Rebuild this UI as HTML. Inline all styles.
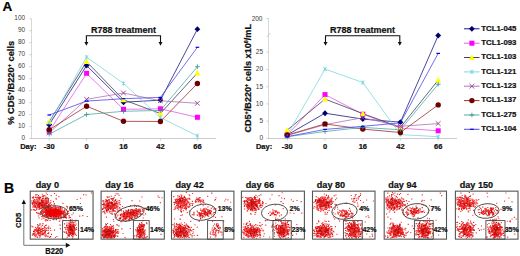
<!DOCTYPE html>
<html><head><meta charset="utf-8"><style>
html,body{margin:0;padding:0;background:#fff;width:520px;height:256px;overflow:hidden}
svg{display:block}
text[font-weight=bold]{stroke:#111;stroke-width:.22px}
</style></head><body>
<svg width="520" height="256" viewBox="0 0 520 256">
<rect width="520" height="256" fill="#fff"/>
<g shape-rendering="auto">
<path d="M31.5 18.5V138.5" fill="none" stroke="#d8d8d8" stroke-width="1"/>
<path d="M31.0 138.5H216" fill="none" stroke="#cccccc" stroke-width="1"/>
<path d="M29.5 138.5H31.5" stroke="#c0c0c0" stroke-width="0.8"/>
<text x="25.0" y="140.1" text-anchor="end" font-size="6.4" fill="#3a3a3a" font-family="Liberation Sans, sans-serif">0</text>
<path d="M29.5 126.5H31.5" stroke="#c0c0c0" stroke-width="0.8"/>
<text x="25.0" y="128.1" text-anchor="end" font-size="6.4" fill="#3a3a3a" font-family="Liberation Sans, sans-serif">10</text>
<path d="M29.5 114.5H31.5" stroke="#c0c0c0" stroke-width="0.8"/>
<text x="25.0" y="116.1" text-anchor="end" font-size="6.4" fill="#3a3a3a" font-family="Liberation Sans, sans-serif">20</text>
<path d="M29.5 102.6H31.5" stroke="#c0c0c0" stroke-width="0.8"/>
<text x="25.0" y="104.2" text-anchor="end" font-size="6.4" fill="#3a3a3a" font-family="Liberation Sans, sans-serif">30</text>
<path d="M29.5 90.6H31.5" stroke="#c0c0c0" stroke-width="0.8"/>
<text x="25.0" y="92.2" text-anchor="end" font-size="6.4" fill="#3a3a3a" font-family="Liberation Sans, sans-serif">40</text>
<path d="M29.5 78.6H31.5" stroke="#c0c0c0" stroke-width="0.8"/>
<text x="25.0" y="80.2" text-anchor="end" font-size="6.4" fill="#3a3a3a" font-family="Liberation Sans, sans-serif">50</text>
<path d="M29.5 66.7H31.5" stroke="#c0c0c0" stroke-width="0.8"/>
<text x="25.0" y="68.2" text-anchor="end" font-size="6.4" fill="#3a3a3a" font-family="Liberation Sans, sans-serif">60</text>
<path d="M29.5 54.7H31.5" stroke="#c0c0c0" stroke-width="0.8"/>
<text x="25.0" y="56.3" text-anchor="end" font-size="6.4" fill="#3a3a3a" font-family="Liberation Sans, sans-serif">70</text>
<path d="M29.5 42.7H31.5" stroke="#c0c0c0" stroke-width="0.8"/>
<text x="25.0" y="44.3" text-anchor="end" font-size="6.4" fill="#3a3a3a" font-family="Liberation Sans, sans-serif">80</text>
<path d="M29.5 30.7H31.5" stroke="#c0c0c0" stroke-width="0.8"/>
<text x="25.0" y="32.3" text-anchor="end" font-size="6.4" fill="#3a3a3a" font-family="Liberation Sans, sans-serif">90</text>
<path d="M29.5 18.8H31.5" stroke="#c0c0c0" stroke-width="0.8"/>
<text x="25.0" y="20.4" text-anchor="end" font-size="6.4" fill="#3a3a3a" font-family="Liberation Sans, sans-serif">100</text>
<path d="M268.5 18.5V138.5" fill="none" stroke="#d8d8d8" stroke-width="1"/>
<path d="M268.0 138.5H457" fill="none" stroke="#cccccc" stroke-width="1"/>
<path d="M266.5 138.4H268.5" stroke="#c0c0c0" stroke-width="0.8"/>
<text x="263.1" y="140.4" text-anchor="end" font-size="6.5" fill="#3a3a3a" font-family="Liberation Sans, sans-serif">0</text>
<path d="M266.5 121.2H268.5" stroke="#c0c0c0" stroke-width="0.8"/>
<text x="263.1" y="123.2" text-anchor="end" font-size="6.5" fill="#3a3a3a" font-family="Liberation Sans, sans-serif">5</text>
<path d="M266.5 103.9H268.5" stroke="#c0c0c0" stroke-width="0.8"/>
<text x="263.1" y="105.9" text-anchor="end" font-size="6.5" fill="#3a3a3a" font-family="Liberation Sans, sans-serif">10</text>
<path d="M266.5 86.7H268.5" stroke="#c0c0c0" stroke-width="0.8"/>
<text x="263.1" y="88.7" text-anchor="end" font-size="6.5" fill="#3a3a3a" font-family="Liberation Sans, sans-serif">15</text>
<path d="M266.5 69.4H268.5" stroke="#c0c0c0" stroke-width="0.8"/>
<text x="263.1" y="71.4" text-anchor="end" font-size="6.5" fill="#3a3a3a" font-family="Liberation Sans, sans-serif">20</text>
<path d="M266.5 52.2H268.5" stroke="#c0c0c0" stroke-width="0.8"/>
<text x="263.1" y="54.2" text-anchor="end" font-size="6.5" fill="#3a3a3a" font-family="Liberation Sans, sans-serif">25</text>
<path d="M266.5 18.5H268.5" stroke="#c0c0c0" stroke-width="0.8"/>
<text x="262.5" y="21.2" text-anchor="end" font-size="6.5" fill="#3a3a3a" font-family="Liberation Sans, sans-serif">200</text>
<path d="M267 37L270 33" stroke="#c0c0c0" stroke-width="0.8"/>
<path d="M49.2 138.5V140.5" stroke="#c0c0c0" stroke-width="0.8"/>
<path d="M86.6 138.5V140.5" stroke="#c0c0c0" stroke-width="0.8"/>
<path d="M123.5 138.5V140.5" stroke="#c0c0c0" stroke-width="0.8"/>
<path d="M160.4 138.5V140.5" stroke="#c0c0c0" stroke-width="0.8"/>
<path d="M197.4 138.5V140.5" stroke="#c0c0c0" stroke-width="0.8"/>
<path d="M287.2 138.5V140.5" stroke="#c0c0c0" stroke-width="0.8"/>
<path d="M325.0 138.5V140.5" stroke="#c0c0c0" stroke-width="0.8"/>
<path d="M362.8 138.5V140.5" stroke="#c0c0c0" stroke-width="0.8"/>
<path d="M400.4 138.5V140.5" stroke="#c0c0c0" stroke-width="0.8"/>
<path d="M438.2 138.5V140.5" stroke="#c0c0c0" stroke-width="0.8"/>
<text x="49.2" y="148.7" text-anchor="middle" font-size="7.5" font-weight="bold" fill="#111" font-family="Liberation Sans, sans-serif">-30</text>
<text x="86.6" y="148.7" text-anchor="middle" font-size="7.5" font-weight="bold" fill="#111" font-family="Liberation Sans, sans-serif">0</text>
<text x="123.5" y="148.7" text-anchor="middle" font-size="7.5" font-weight="bold" fill="#111" font-family="Liberation Sans, sans-serif">16</text>
<text x="160.4" y="148.7" text-anchor="middle" font-size="7.5" font-weight="bold" fill="#111" font-family="Liberation Sans, sans-serif">42</text>
<text x="197.4" y="148.7" text-anchor="middle" font-size="7.5" font-weight="bold" fill="#111" font-family="Liberation Sans, sans-serif">66</text>
<text x="287.2" y="148.7" text-anchor="middle" font-size="7.5" font-weight="bold" fill="#111" font-family="Liberation Sans, sans-serif">-30</text>
<text x="325.0" y="148.7" text-anchor="middle" font-size="7.5" font-weight="bold" fill="#111" font-family="Liberation Sans, sans-serif">0</text>
<text x="362.8" y="148.7" text-anchor="middle" font-size="7.5" font-weight="bold" fill="#111" font-family="Liberation Sans, sans-serif">16</text>
<text x="400.4" y="148.7" text-anchor="middle" font-size="7.5" font-weight="bold" fill="#111" font-family="Liberation Sans, sans-serif">42</text>
<text x="438.2" y="148.7" text-anchor="middle" font-size="7.5" font-weight="bold" fill="#111" font-family="Liberation Sans, sans-serif">66</text>
<text x="20.2" y="148.7" font-size="7.5" font-weight="bold" fill="#111" font-family="Liberation Sans, sans-serif">Day:</text>
<text x="255.9" y="148.7" font-size="7.5" font-weight="bold" fill="#111" font-family="Liberation Sans, sans-serif">Day:</text>
<path d="M49.2 124.7 L86.6 65.5 L123.5 102.2 L160.4 100.2 L197.4 29.2" fill="none" stroke="#1a1a80" stroke-width="0.8"/>
<path d="M49.2 131.3 L86.6 73.4 L123.5 109.3 L160.4 108.8 L197.4 117.3" fill="none" stroke="#e060e0" stroke-width="0.8"/>
<path d="M49.2 121.7 L86.6 61.7 L123.5 99.8 L160.4 113.5 L197.4 73.0" fill="none" stroke="#404060" stroke-width="0.8"/>
<path d="M49.2 122.9 L86.6 57.1 L123.5 83.4 L160.4 117.5 L197.4 135.9" fill="none" stroke="#80d8e0" stroke-width="0.8"/>
<path d="M49.2 132.8 L86.6 99.3 L123.5 93.0 L160.4 100.8 L197.4 103.3" fill="none" stroke="#b070b8" stroke-width="0.8"/>
<path d="M49.2 129.8 L86.6 106.2 L123.5 121.3 L160.4 121.5 L197.4 83.5" fill="none" stroke="#a03030" stroke-width="0.8"/>
<path d="M49.2 134.2 L86.6 114.5 L123.5 111.3 L160.4 110.4 L197.4 66.7" fill="none" stroke="#50a8a8" stroke-width="0.8"/>
<path d="M49.2 115.0 L86.6 101.1 L123.5 98.7 L160.4 97.4 L197.4 47.3" fill="none" stroke="#4a4ae8" stroke-width="0.8"/>
<path d="M49.2 121.8L52.2 124.7L49.2 127.7L46.2 124.7Z" fill="#000070"/>
<path d="M86.6 62.5L89.5 65.5L86.6 68.4L83.6 65.5Z" fill="#000070"/>
<path d="M123.5 99.3L126.5 102.2L123.5 105.2L120.5 102.2Z" fill="#000070"/>
<path d="M160.4 97.2L163.3 100.2L160.4 103.1L157.5 100.2Z" fill="#000070"/>
<path d="M197.4 26.2L200.3 29.2L197.4 32.1L194.5 29.2Z" fill="#000070"/>
<rect x="46.7" y="128.8" width="5.0" height="5.0" fill="#ff00ff"/>
<rect x="84.1" y="70.8" width="5.0" height="5.0" fill="#ff00ff"/>
<rect x="121.0" y="106.8" width="5.0" height="5.0" fill="#ff00ff"/>
<rect x="157.9" y="106.3" width="5.0" height="5.0" fill="#ff00ff"/>
<rect x="194.9" y="114.8" width="5.0" height="5.0" fill="#ff00ff"/>
<path d="M49.2 118.8L52.2 124.1L46.2 124.1Z" fill="#ffff00"/>
<path d="M86.6 58.8L89.5 64.1L83.6 64.1Z" fill="#ffff00"/>
<path d="M123.5 96.9L126.5 102.2L120.5 102.2Z" fill="#ffff00"/>
<path d="M160.4 110.5L163.3 115.8L157.5 115.8Z" fill="#ffff00"/>
<path d="M197.4 70.0L200.3 75.4L194.5 75.4Z" fill="#ffff00"/>
<path d="M47.4 121.2L51.0 124.7M51.0 121.2L47.4 124.7M49.2 120.7V125.1" stroke="#70d0d8" stroke-width="0.8"/>
<path d="M84.8 55.3L88.4 58.8M88.4 55.3L84.8 58.8M86.6 54.9V59.3" stroke="#70d0d8" stroke-width="0.8"/>
<path d="M121.7 81.6L125.3 85.2M125.3 81.6L121.7 85.2M123.5 81.2V85.6" stroke="#70d0d8" stroke-width="0.8"/>
<path d="M158.6 115.8L162.2 119.3M162.2 115.8L158.6 119.3M160.4 115.3V119.8" stroke="#70d0d8" stroke-width="0.8"/>
<path d="M195.6 134.1L199.2 137.6M199.2 134.1L195.6 137.6M197.4 133.7V138.1" stroke="#70d0d8" stroke-width="0.8"/>
<path d="M46.8 130.4L51.6 135.1M51.6 130.4L46.8 135.1" stroke="#904090" stroke-width="0.9"/>
<path d="M84.2 97.0L89.0 101.7M89.0 97.0L84.2 101.7" stroke="#904090" stroke-width="0.9"/>
<path d="M121.1 90.6L125.9 95.4M125.9 90.6L121.1 95.4" stroke="#904090" stroke-width="0.9"/>
<path d="M158.0 98.4L162.8 103.1M162.8 98.4L158.0 103.1" stroke="#904090" stroke-width="0.9"/>
<path d="M195.0 100.9L199.8 105.7M199.8 100.9L195.0 105.7" stroke="#904090" stroke-width="0.9"/>
<circle cx="49.2" cy="129.8" r="2.7" fill="#700000"/>
<circle cx="86.6" cy="106.2" r="2.7" fill="#700000"/>
<circle cx="123.5" cy="121.3" r="2.7" fill="#700000"/>
<circle cx="160.4" cy="121.5" r="2.7" fill="#700000"/>
<circle cx="197.4" cy="83.5" r="2.7" fill="#700000"/>
<path d="M46.8 134.2H51.6M49.2 131.8V136.5" stroke="#309090" stroke-width="0.8"/>
<path d="M84.2 114.5H89.0M86.6 112.2V116.9" stroke="#309090" stroke-width="0.8"/>
<path d="M121.1 111.3H125.9M123.5 109.0V113.7" stroke="#309090" stroke-width="0.8"/>
<path d="M158.0 110.4H162.8M160.4 108.0V112.7" stroke="#309090" stroke-width="0.8"/>
<path d="M195.0 66.7H199.8M197.4 64.3V69.0" stroke="#309090" stroke-width="0.8"/>
<path d="M47.4 115.0H51.0" stroke="#0000ee" stroke-width="1.2"/>
<path d="M84.8 101.1H88.4" stroke="#0000ee" stroke-width="1.2"/>
<path d="M121.7 98.7H125.3" stroke="#0000ee" stroke-width="1.2"/>
<path d="M158.6 97.4H162.2" stroke="#0000ee" stroke-width="1.2"/>
<path d="M195.6 47.3H199.2" stroke="#0000ee" stroke-width="1.2"/>
<path d="M287.2 135.0 L325.0 113.2 L362.8 119.1 L400.4 122.2 L438.2 35.6" fill="none" stroke="#1a1a80" stroke-width="0.8"/>
<path d="M287.2 135.0 L325.0 94.6 L362.8 114.2 L400.4 128.1 L438.2 130.8" fill="none" stroke="#e060e0" stroke-width="0.8"/>
<path d="M287.2 130.1 L325.0 99.1 L362.8 113.6 L400.4 127.4 L438.2 80.1" fill="none" stroke="#404060" stroke-width="0.8"/>
<path d="M287.2 135.0 L325.0 69.1 L362.8 82.5 L400.4 134.6 L438.2 136.7" fill="none" stroke="#80d8e0" stroke-width="0.8"/>
<path d="M287.2 135.6 L325.0 124.6 L362.8 117.7 L400.4 126.3 L438.2 123.6" fill="none" stroke="#b070b8" stroke-width="0.8"/>
<path d="M287.2 135.0 L325.0 123.9 L362.8 129.1 L400.4 132.5 L438.2 104.9" fill="none" stroke="#a03030" stroke-width="0.8"/>
<path d="M287.2 136.7 L325.0 131.5 L362.8 127.4 L400.4 129.8 L438.2 84.2" fill="none" stroke="#50a8a8" stroke-width="0.8"/>
<path d="M287.2 136.7 L325.0 129.4 L362.8 126.3 L400.4 122.9 L438.2 53.4" fill="none" stroke="#4a4ae8" stroke-width="0.8"/>
<path d="M287.2 132.0L290.1 135.0L287.2 137.9L284.2 135.0Z" fill="#000070"/>
<path d="M325.0 110.3L327.9 113.2L325.0 116.2L322.1 113.2Z" fill="#000070"/>
<path d="M362.8 116.1L365.8 119.1L362.8 122.0L359.9 119.1Z" fill="#000070"/>
<path d="M400.4 119.2L403.3 122.2L400.4 125.1L397.4 122.2Z" fill="#000070"/>
<path d="M438.2 32.6L441.1 35.6L438.2 38.6L435.2 35.6Z" fill="#000070"/>
<rect x="284.7" y="132.4" width="5.0" height="5.0" fill="#ff00ff"/>
<rect x="322.5" y="92.1" width="5.0" height="5.0" fill="#ff00ff"/>
<rect x="360.3" y="111.7" width="5.0" height="5.0" fill="#ff00ff"/>
<rect x="397.9" y="125.5" width="5.0" height="5.0" fill="#ff00ff"/>
<rect x="435.7" y="128.3" width="5.0" height="5.0" fill="#ff00ff"/>
<path d="M287.2 127.2L290.1 132.5L284.2 132.5Z" fill="#ffff00"/>
<path d="M325.0 96.1L327.9 101.4L322.1 101.4Z" fill="#ffff00"/>
<path d="M362.8 110.6L365.8 115.9L359.9 115.9Z" fill="#ffff00"/>
<path d="M400.4 124.4L403.3 129.7L397.4 129.7Z" fill="#ffff00"/>
<path d="M438.2 77.1L441.1 82.5L435.2 82.5Z" fill="#ffff00"/>
<path d="M285.4 133.2L289.0 136.7M289.0 133.2L285.4 136.7M287.2 132.7V137.2" stroke="#70d0d8" stroke-width="0.8"/>
<path d="M323.2 67.3L326.8 70.8M326.8 67.3L323.2 70.8M325.0 66.8V71.3" stroke="#70d0d8" stroke-width="0.8"/>
<path d="M361.0 80.7L364.6 84.3M364.6 80.7L361.0 84.3M362.8 80.3V84.7" stroke="#70d0d8" stroke-width="0.8"/>
<path d="M398.6 132.8L402.2 136.4M402.2 132.8L398.6 136.4M400.4 132.4V136.8" stroke="#70d0d8" stroke-width="0.8"/>
<path d="M436.4 134.9L440.0 138.4M440.0 134.9L436.4 138.4M438.2 134.5V138.9" stroke="#70d0d8" stroke-width="0.8"/>
<path d="M284.8 133.3L289.6 138.0M289.6 133.3L284.8 138.0" stroke="#904090" stroke-width="0.9"/>
<path d="M322.6 122.2L327.4 127.0M327.4 122.2L322.6 127.0" stroke="#904090" stroke-width="0.9"/>
<path d="M360.4 115.3L365.2 120.1M365.2 115.3L360.4 120.1" stroke="#904090" stroke-width="0.9"/>
<path d="M398.0 124.0L402.8 128.7M402.8 124.0L398.0 128.7" stroke="#904090" stroke-width="0.9"/>
<path d="M435.8 121.2L440.6 125.9M440.6 121.2L435.8 125.9" stroke="#904090" stroke-width="0.9"/>
<circle cx="287.2" cy="135.0" r="2.7" fill="#700000"/>
<circle cx="325.0" cy="123.9" r="2.7" fill="#700000"/>
<circle cx="362.8" cy="129.1" r="2.7" fill="#700000"/>
<circle cx="400.4" cy="132.5" r="2.7" fill="#700000"/>
<circle cx="438.2" cy="104.9" r="2.7" fill="#700000"/>
<path d="M284.8 136.7H289.6M287.2 134.3V139.0" stroke="#309090" stroke-width="0.8"/>
<path d="M322.6 131.5H327.4M325.0 129.1V133.9" stroke="#309090" stroke-width="0.8"/>
<path d="M360.4 127.4H365.2M362.8 125.0V129.7" stroke="#309090" stroke-width="0.8"/>
<path d="M398.0 129.8H402.8M400.4 127.4V132.1" stroke="#309090" stroke-width="0.8"/>
<path d="M435.8 84.2H440.6M438.2 81.9V86.6" stroke="#309090" stroke-width="0.8"/>
<path d="M285.4 136.7H289.0" stroke="#0000ee" stroke-width="1.2"/>
<path d="M323.2 129.4H326.8" stroke="#0000ee" stroke-width="1.2"/>
<path d="M361.0 126.3H364.6" stroke="#0000ee" stroke-width="1.2"/>
<path d="M398.6 122.9H402.2" stroke="#0000ee" stroke-width="1.2"/>
<path d="M436.4 53.4H440.0" stroke="#0000ee" stroke-width="1.2"/>
<path d="M86.4 43V35.8H160.5V43" fill="none" stroke="#111" stroke-width="1.1"/>
<path d="M84.4 42L88.4 42L86.4 45.8Z" fill="#111"/>
<path d="M158.5 42L162.5 42L160.5 45.8Z" fill="#111"/>
<text x="123.5" y="32.6" text-anchor="middle" font-size="9" font-weight="bold" fill="#111" font-family="Liberation Sans, sans-serif">R788 treatment</text>
<path d="M325.5 43V35.8H399.8V43" fill="none" stroke="#111" stroke-width="1.1"/>
<path d="M323.5 42L327.5 42L325.5 45.8Z" fill="#111"/>
<path d="M397.8 42L401.8 42L399.8 45.8Z" fill="#111"/>
<text x="362.6" y="32.6" text-anchor="middle" font-size="9" font-weight="bold" fill="#111" font-family="Liberation Sans, sans-serif">R788 treatment</text>
<text transform="translate(13.5 82.8) rotate(-90)" text-anchor="middle" font-size="9.3" font-weight="bold" fill="#111" font-family="Liberation Sans, sans-serif">% CD5<tspan dy="-2.5" font-size="5.5">+</tspan><tspan dy="2.5">/B220</tspan><tspan dy="-2.5" font-size="5.5">+</tspan><tspan dy="2.5"> cells</tspan></text>
<text transform="translate(250.6 78.3) rotate(-90)" text-anchor="middle" font-size="9.1" font-weight="bold" fill="#111" font-family="Liberation Sans, sans-serif">CD5<tspan dy="-2.5" font-size="5.5">+</tspan><tspan dy="2.5">/B220</tspan><tspan dy="-2.5" font-size="5.5">+</tspan><tspan dy="2.5"> cells x10</tspan><tspan dy="-2.5" font-size="5.5">6</tspan><tspan dy="2.5">/mL</tspan></text>
<path d="M464 28.8H479.5" stroke="#1a1a80" stroke-width="1"/>
<path d="M471.9 25.9L474.8 28.8L471.9 31.8L468.9 28.8Z" fill="#000070"/>
<text x="481.3" y="30.6" font-size="7.8" font-weight="bold" fill="#111" font-family="Liberation Sans, sans-serif">TCL1-045</text>
<path d="M464 43.2H479.5" stroke="#e060e0" stroke-width="1"/>
<rect x="469.4" y="40.7" width="5.0" height="5.0" fill="#ff00ff"/>
<text x="481.3" y="45.0" font-size="7.8" font-weight="bold" fill="#111" font-family="Liberation Sans, sans-serif">TCL1-093</text>
<path d="M464 57.5H479.5" stroke="#404060" stroke-width="1"/>
<path d="M471.9 54.6L474.8 59.9L468.9 59.9Z" fill="#ffff00"/>
<text x="481.3" y="59.3" font-size="7.8" font-weight="bold" fill="#111" font-family="Liberation Sans, sans-serif">TCL1-103</text>
<path d="M464 71.9H479.5" stroke="#80d8e0" stroke-width="1"/>
<path d="M470.1 70.1L473.7 73.6M473.7 70.1L470.1 73.6M471.9 69.7V74.1" stroke="#70d0d8" stroke-width="0.8"/>
<text x="481.3" y="73.7" font-size="7.8" font-weight="bold" fill="#111" font-family="Liberation Sans, sans-serif">TCL1-121</text>
<path d="M464 86.2H479.5" stroke="#b070b8" stroke-width="1"/>
<path d="M469.5 83.9L474.3 88.6M474.3 83.9L469.5 88.6" stroke="#904090" stroke-width="0.9"/>
<text x="481.3" y="88.0" font-size="7.8" font-weight="bold" fill="#111" font-family="Liberation Sans, sans-serif">TCL1-123</text>
<path d="M464 100.6H479.5" stroke="#a03030" stroke-width="1"/>
<circle cx="471.9" cy="100.6" r="2.7" fill="#700000"/>
<text x="481.3" y="102.4" font-size="7.8" font-weight="bold" fill="#111" font-family="Liberation Sans, sans-serif">TCL1-137</text>
<path d="M464 115.0H479.5" stroke="#50a8a8" stroke-width="1"/>
<path d="M469.5 115.0H474.3M471.9 112.6V117.3" stroke="#309090" stroke-width="0.8"/>
<text x="481.3" y="116.8" font-size="7.8" font-weight="bold" fill="#111" font-family="Liberation Sans, sans-serif">TCL1-275</text>
<path d="M464 129.3H479.5" stroke="#4a4ae8" stroke-width="1"/>
<path d="M470.1 129.3H473.7" stroke="#0000ee" stroke-width="1.2"/>
<text x="481.3" y="131.1" font-size="7.8" font-weight="bold" fill="#111" font-family="Liberation Sans, sans-serif">TCL1-104</text>
</g>
<text x="2.6" y="10.7" font-size="13.5" font-weight="bold" fill="#000" font-family="Liberation Sans, sans-serif">A</text>
<text x="4.0" y="192.8" font-size="14" font-weight="bold" fill="#000" font-family="Liberation Sans, sans-serif">B</text>
<path d="M68.6 228.0h1.1v1.1h-1.1zM36.9 232.4h1.1v1.1h-1.1zM60.4 211.6h1.1v1.1h-1.1zM72.5 230.0h1.1v1.1h-1.1zM40.0 212.4h1.1v1.1h-1.1zM44.0 214.2h1.1v1.1h-1.1zM34.9 205.9h1.1v1.1h-1.1zM50.0 213.8h1.1v1.1h-1.1zM36.1 230.9h1.1v1.1h-1.1zM71.5 218.7h1.1v1.1h-1.1zM48.8 207.0h1.1v1.1h-1.1zM33.7 206.5h1.1v1.1h-1.1zM31.3 225.7h1.1v1.1h-1.1zM55.2 212.6h1.1v1.1h-1.1zM54.2 213.4h1.1v1.1h-1.1zM35.4 235.2h1.1v1.1h-1.1zM63.3 213.9h1.1v1.1h-1.1zM40.7 203.3h1.1v1.1h-1.1zM35.8 228.6h1.1v1.1h-1.1zM54.0 192.9h1.1v1.1h-1.1zM56.6 209.7h1.1v1.1h-1.1zM63.4 211.0h1.1v1.1h-1.1zM58.0 207.5h1.1v1.1h-1.1zM70.9 234.9h1.1v1.1h-1.1zM47.0 209.8h1.1v1.1h-1.1zM56.9 215.1h1.1v1.1h-1.1zM58.0 210.5h1.1v1.1h-1.1zM58.6 215.3h1.1v1.1h-1.1zM58.2 215.2h1.1v1.1h-1.1zM67.2 212.4h1.1v1.1h-1.1zM53.4 210.2h1.1v1.1h-1.1zM41.7 193.7h1.1v1.1h-1.1zM53.3 212.1h1.1v1.1h-1.1zM49.2 211.6h1.1v1.1h-1.1zM55.3 214.6h1.1v1.1h-1.1zM40.2 229.1h1.1v1.1h-1.1zM46.1 235.5h1.1v1.1h-1.1zM56.8 213.7h1.1v1.1h-1.1zM48.2 211.5h1.1v1.1h-1.1zM55.5 216.0h1.1v1.1h-1.1zM53.1 212.1h1.1v1.1h-1.1zM72.4 234.6h1.1v1.1h-1.1zM33.1 230.6h1.1v1.1h-1.1zM38.1 202.2h1.1v1.1h-1.1zM39.0 203.2h1.1v1.1h-1.1zM47.7 229.9h1.1v1.1h-1.1zM72.0 227.3h1.1v1.1h-1.1zM39.8 205.5h1.1v1.1h-1.1zM53.5 217.3h1.1v1.1h-1.1zM47.0 215.9h1.1v1.1h-1.1zM37.2 207.0h1.1v1.1h-1.1zM66.7 226.7h1.1v1.1h-1.1zM70.7 228.9h1.1v1.1h-1.1zM34.4 204.7h1.1v1.1h-1.1zM32.0 203.3h1.1v1.1h-1.1zM69.4 221.2h1.1v1.1h-1.1zM69.1 234.3h1.1v1.1h-1.1zM52.3 212.4h1.1v1.1h-1.1zM65.8 232.8h1.1v1.1h-1.1zM56.1 213.9h1.1v1.1h-1.1zM68.7 230.7h1.1v1.1h-1.1zM42.0 204.6h1.1v1.1h-1.1zM71.5 226.8h1.1v1.1h-1.1zM58.6 213.5h1.1v1.1h-1.1zM37.8 227.4h1.1v1.1h-1.1zM47.5 199.5h1.1v1.1h-1.1zM56.8 212.8h1.1v1.1h-1.1zM45.9 213.2h1.1v1.1h-1.1zM39.5 232.7h1.1v1.1h-1.1zM56.8 216.6h1.1v1.1h-1.1zM54.7 209.1h1.1v1.1h-1.1zM54.7 209.8h1.1v1.1h-1.1zM36.9 202.1h1.1v1.1h-1.1zM45.0 230.9h1.1v1.1h-1.1zM34.6 202.0h1.1v1.1h-1.1zM55.1 206.5h1.1v1.1h-1.1zM61.9 208.5h1.1v1.1h-1.1zM33.4 205.4h1.1v1.1h-1.1zM45.7 192.5h1.1v1.1h-1.1zM49.9 205.9h1.1v1.1h-1.1zM34.7 230.2h1.1v1.1h-1.1zM38.4 200.0h1.1v1.1h-1.1zM50.5 212.1h1.1v1.1h-1.1zM72.9 233.2h1.1v1.1h-1.1zM66.4 222.4h1.1v1.1h-1.1zM51.8 211.6h1.1v1.1h-1.1zM52.9 213.8h1.1v1.1h-1.1zM35.0 209.7h1.1v1.1h-1.1zM71.8 233.8h1.1v1.1h-1.1zM57.1 211.5h1.1v1.1h-1.1zM51.9 211.4h1.1v1.1h-1.1zM47.0 213.8h1.1v1.1h-1.1zM62.6 212.6h1.1v1.1h-1.1zM71.8 228.8h1.1v1.1h-1.1zM54.5 211.8h1.1v1.1h-1.1zM56.2 212.7h1.1v1.1h-1.1zM42.6 209.9h1.1v1.1h-1.1zM59.2 211.1h1.1v1.1h-1.1zM72.5 223.3h1.1v1.1h-1.1zM55.8 213.0h1.1v1.1h-1.1zM47.6 212.2h1.1v1.1h-1.1zM44.1 194.9h1.1v1.1h-1.1zM45.6 215.3h1.1v1.1h-1.1zM70.6 226.9h1.1v1.1h-1.1zM46.4 212.6h1.1v1.1h-1.1zM51.8 215.1h1.1v1.1h-1.1zM43.9 215.3h1.1v1.1h-1.1zM60.2 211.6h1.1v1.1h-1.1zM47.2 197.4h1.1v1.1h-1.1zM40.1 207.5h1.1v1.1h-1.1zM33.8 203.6h1.1v1.1h-1.1zM35.2 202.5h1.1v1.1h-1.1zM56.8 211.0h1.1v1.1h-1.1zM65.4 214.4h1.1v1.1h-1.1zM46.2 213.3h1.1v1.1h-1.1zM49.1 210.7h1.1v1.1h-1.1zM34.3 205.2h1.1v1.1h-1.1zM41.1 228.8h1.1v1.1h-1.1zM53.3 213.6h1.1v1.1h-1.1zM46.6 227.2h1.1v1.1h-1.1zM68.2 231.9h1.1v1.1h-1.1zM55.5 206.8h1.1v1.1h-1.1zM43.4 211.0h1.1v1.1h-1.1zM47.6 214.3h1.1v1.1h-1.1zM69.9 216.9h1.1v1.1h-1.1zM48.0 227.3h1.1v1.1h-1.1zM65.8 216.5h1.1v1.1h-1.1zM65.3 229.2h1.1v1.1h-1.1zM58.9 214.4h1.1v1.1h-1.1zM58.9 214.0h1.1v1.1h-1.1zM43.0 233.4h1.1v1.1h-1.1zM39.4 214.1h1.1v1.1h-1.1zM32.3 203.5h1.1v1.1h-1.1zM56.2 213.4h1.1v1.1h-1.1zM53.7 211.3h1.1v1.1h-1.1zM54.7 213.6h1.1v1.1h-1.1zM44.4 235.1h1.1v1.1h-1.1zM56.5 209.8h1.1v1.1h-1.1zM43.3 211.8h1.1v1.1h-1.1zM40.1 229.8h1.1v1.1h-1.1zM75.9 227.1h1.1v1.1h-1.1zM45.9 213.1h1.1v1.1h-1.1zM52.8 208.2h1.1v1.1h-1.1zM31.1 200.4h1.1v1.1h-1.1zM72.8 231.3h1.1v1.1h-1.1zM31.8 196.9h1.1v1.1h-1.1zM55.1 212.0h1.1v1.1h-1.1zM57.7 212.1h1.1v1.1h-1.1zM60.3 211.4h1.1v1.1h-1.1zM68.2 233.6h1.1v1.1h-1.1zM48.1 225.7h1.1v1.1h-1.1zM37.9 206.8h1.1v1.1h-1.1zM43.5 203.8h1.1v1.1h-1.1zM54.6 213.1h1.1v1.1h-1.1zM49.4 212.1h1.1v1.1h-1.1zM69.5 229.9h1.1v1.1h-1.1zM72.4 221.7h1.1v1.1h-1.1zM51.7 214.0h1.1v1.1h-1.1zM39.7 207.3h1.1v1.1h-1.1zM50.7 212.7h1.1v1.1h-1.1zM54.7 215.1h1.1v1.1h-1.1zM42.8 203.5h1.1v1.1h-1.1zM73.7 231.2h1.1v1.1h-1.1zM37.6 201.2h1.1v1.1h-1.1zM56.6 209.1h1.1v1.1h-1.1zM52.0 214.1h1.1v1.1h-1.1zM43.6 202.0h1.1v1.1h-1.1zM69.6 227.7h1.1v1.1h-1.1zM44.0 207.5h1.1v1.1h-1.1zM79.8 202.9h1.1v1.1h-1.1zM60.0 208.1h1.1v1.1h-1.1zM67.7 233.3h1.1v1.1h-1.1zM55.2 211.6h1.1v1.1h-1.1zM54.2 213.1h1.1v1.1h-1.1zM68.4 231.9h1.1v1.1h-1.1zM45.8 208.7h1.1v1.1h-1.1zM48.6 211.0h1.1v1.1h-1.1zM49.7 236.1h1.1v1.1h-1.1zM52.4 210.5h1.1v1.1h-1.1zM41.1 203.1h1.1v1.1h-1.1zM60.7 207.6h1.1v1.1h-1.1zM47.0 202.5h1.1v1.1h-1.1zM86.7 215.9h1.1v1.1h-1.1zM72.6 227.2h1.1v1.1h-1.1zM68.2 227.1h1.1v1.1h-1.1zM72.1 226.8h1.1v1.1h-1.1zM62.3 209.9h1.1v1.1h-1.1zM38.5 199.7h1.1v1.1h-1.1zM56.4 210.2h1.1v1.1h-1.1zM50.3 208.5h1.1v1.1h-1.1zM41.9 233.3h1.1v1.1h-1.1zM37.2 233.2h1.1v1.1h-1.1zM33.5 230.7h1.1v1.1h-1.1zM54.7 214.9h1.1v1.1h-1.1zM71.4 224.7h1.1v1.1h-1.1zM49.6 220.0h1.1v1.1h-1.1zM37.2 231.6h1.1v1.1h-1.1zM47.6 204.0h1.1v1.1h-1.1zM42.5 205.5h1.1v1.1h-1.1zM69.6 226.0h1.1v1.1h-1.1zM72.6 231.4h1.1v1.1h-1.1zM72.1 233.4h1.1v1.1h-1.1zM75.5 223.6h1.1v1.1h-1.1zM38.1 201.2h1.1v1.1h-1.1zM58.1 208.2h1.1v1.1h-1.1zM72.9 233.3h1.1v1.1h-1.1zM68.7 226.6h1.1v1.1h-1.1zM53.6 214.5h1.1v1.1h-1.1zM53.2 210.8h1.1v1.1h-1.1zM50.8 208.9h1.1v1.1h-1.1zM53.7 208.8h1.1v1.1h-1.1zM45.1 214.0h1.1v1.1h-1.1zM66.9 229.3h1.1v1.1h-1.1zM47.2 210.1h1.1v1.1h-1.1zM38.7 228.1h1.1v1.1h-1.1zM40.0 229.3h1.1v1.1h-1.1zM69.7 233.7h1.1v1.1h-1.1zM33.6 199.3h1.1v1.1h-1.1zM51.9 211.7h1.1v1.1h-1.1zM57.6 213.7h1.1v1.1h-1.1zM45.6 215.5h1.1v1.1h-1.1zM59.2 210.4h1.1v1.1h-1.1zM32.3 206.6h1.1v1.1h-1.1zM62.6 215.9h1.1v1.1h-1.1zM83.1 194.1h1.1v1.1h-1.1zM69.2 230.7h1.1v1.1h-1.1zM50.2 210.9h1.1v1.1h-1.1zM50.7 214.1h1.1v1.1h-1.1zM54.9 237.0h1.1v1.1h-1.1zM42.4 205.9h1.1v1.1h-1.1zM61.6 213.1h1.1v1.1h-1.1zM49.9 212.9h1.1v1.1h-1.1zM54.2 215.4h1.1v1.1h-1.1zM69.6 227.5h1.1v1.1h-1.1zM48.3 215.5h1.1v1.1h-1.1zM45.8 219.0h1.1v1.1h-1.1zM43.7 205.6h1.1v1.1h-1.1zM53.4 207.5h1.1v1.1h-1.1zM52.2 213.2h1.1v1.1h-1.1zM58.3 213.2h1.1v1.1h-1.1zM65.9 231.2h1.1v1.1h-1.1zM32.6 198.0h1.1v1.1h-1.1zM51.3 210.5h1.1v1.1h-1.1zM44.8 232.4h1.1v1.1h-1.1zM58.2 214.6h1.1v1.1h-1.1zM36.3 197.2h1.1v1.1h-1.1zM56.3 210.8h1.1v1.1h-1.1zM52.1 213.4h1.1v1.1h-1.1zM54.9 210.9h1.1v1.1h-1.1zM41.9 211.2h1.1v1.1h-1.1zM55.6 208.5h1.1v1.1h-1.1zM71.1 228.4h1.1v1.1h-1.1zM47.5 235.6h1.1v1.1h-1.1zM49.3 211.1h1.1v1.1h-1.1zM44.6 231.8h1.1v1.1h-1.1zM71.6 231.5h1.1v1.1h-1.1zM54.7 214.5h1.1v1.1h-1.1zM53.9 209.6h1.1v1.1h-1.1zM45.8 209.9h1.1v1.1h-1.1zM46.1 198.2h1.1v1.1h-1.1zM45.6 203.0h1.1v1.1h-1.1zM44.4 228.3h1.1v1.1h-1.1zM58.1 207.7h1.1v1.1h-1.1zM56.3 215.3h1.1v1.1h-1.1zM48.6 214.0h1.1v1.1h-1.1zM72.2 224.5h1.1v1.1h-1.1zM68.1 224.7h1.1v1.1h-1.1zM70.5 230.5h1.1v1.1h-1.1zM58.7 211.4h1.1v1.1h-1.1zM50.8 215.0h1.1v1.1h-1.1zM38.6 199.3h1.1v1.1h-1.1zM41.7 209.2h1.1v1.1h-1.1zM71.9 225.5h1.1v1.1h-1.1zM60.5 212.6h1.1v1.1h-1.1zM52.8 212.0h1.1v1.1h-1.1zM72.7 225.2h1.1v1.1h-1.1zM67.3 228.8h1.1v1.1h-1.1zM51.8 214.3h1.1v1.1h-1.1zM72.6 227.2h1.1v1.1h-1.1zM46.5 214.1h1.1v1.1h-1.1zM35.0 200.8h1.1v1.1h-1.1zM61.0 217.7h1.1v1.1h-1.1zM39.0 197.7h1.1v1.1h-1.1zM67.0 210.9h1.1v1.1h-1.1zM33.2 200.3h1.1v1.1h-1.1zM58.3 213.0h1.1v1.1h-1.1zM53.8 213.2h1.1v1.1h-1.1zM45.9 227.9h1.1v1.1h-1.1zM57.5 212.5h1.1v1.1h-1.1zM41.9 227.9h1.1v1.1h-1.1zM44.4 202.9h1.1v1.1h-1.1zM53.5 215.2h1.1v1.1h-1.1zM41.7 198.4h1.1v1.1h-1.1zM54.6 217.0h1.1v1.1h-1.1zM61.7 213.0h1.1v1.1h-1.1zM70.2 228.4h1.1v1.1h-1.1zM38.8 228.0h1.1v1.1h-1.1zM43.7 206.4h1.1v1.1h-1.1zM38.4 199.1h1.1v1.1h-1.1zM55.2 209.7h1.1v1.1h-1.1zM57.7 214.7h1.1v1.1h-1.1zM37.5 201.2h1.1v1.1h-1.1zM69.0 224.1h1.1v1.1h-1.1zM61.0 216.6h1.1v1.1h-1.1zM67.1 226.7h1.1v1.1h-1.1zM54.4 218.2h1.1v1.1h-1.1zM57.5 211.7h1.1v1.1h-1.1zM50.3 202.0h1.1v1.1h-1.1zM53.4 211.7h1.1v1.1h-1.1zM51.4 210.6h1.1v1.1h-1.1zM49.9 207.2h1.1v1.1h-1.1zM67.3 229.5h1.1v1.1h-1.1zM59.1 212.5h1.1v1.1h-1.1zM49.4 210.6h1.1v1.1h-1.1zM40.6 227.5h1.1v1.1h-1.1zM73.3 234.5h1.1v1.1h-1.1zM39.9 231.1h1.1v1.1h-1.1zM63.6 212.6h1.1v1.1h-1.1zM70.5 229.3h1.1v1.1h-1.1zM59.7 212.7h1.1v1.1h-1.1zM39.6 232.2h1.1v1.1h-1.1zM73.6 227.3h1.1v1.1h-1.1zM47.9 215.3h1.1v1.1h-1.1zM42.0 229.5h1.1v1.1h-1.1zM49.5 215.6h1.1v1.1h-1.1zM37.8 202.4h1.1v1.1h-1.1zM34.1 230.6h1.1v1.1h-1.1zM48.1 215.8h1.1v1.1h-1.1zM46.9 206.9h1.1v1.1h-1.1zM36.7 196.7h1.1v1.1h-1.1zM54.0 211.5h1.1v1.1h-1.1zM60.4 211.8h1.1v1.1h-1.1zM73.7 227.9h1.1v1.1h-1.1zM52.7 210.8h1.1v1.1h-1.1zM35.3 199.4h1.1v1.1h-1.1zM54.5 213.8h1.1v1.1h-1.1zM43.2 204.0h1.1v1.1h-1.1zM54.1 212.9h1.1v1.1h-1.1zM45.4 214.9h1.1v1.1h-1.1zM55.5 211.8h1.1v1.1h-1.1zM48.7 214.2h1.1v1.1h-1.1zM41.5 229.2h1.1v1.1h-1.1zM69.7 230.1h1.1v1.1h-1.1zM67.9 228.2h1.1v1.1h-1.1zM58.1 210.3h1.1v1.1h-1.1zM42.8 205.4h1.1v1.1h-1.1zM62.8 215.0h1.1v1.1h-1.1zM38.3 231.8h1.1v1.1h-1.1zM48.3 227.7h1.1v1.1h-1.1zM53.5 213.2h1.1v1.1h-1.1zM70.4 229.9h1.1v1.1h-1.1zM42.8 195.1h1.1v1.1h-1.1zM56.5 216.3h1.1v1.1h-1.1zM67.3 226.4h1.1v1.1h-1.1zM46.4 210.1h1.1v1.1h-1.1zM39.0 205.9h1.1v1.1h-1.1zM44.6 226.7h1.1v1.1h-1.1zM69.3 229.1h1.1v1.1h-1.1zM72.6 234.0h1.1v1.1h-1.1zM54.4 210.2h1.1v1.1h-1.1zM56.6 211.7h1.1v1.1h-1.1zM73.8 226.8h1.1v1.1h-1.1zM74.7 228.2h1.1v1.1h-1.1zM62.7 214.7h1.1v1.1h-1.1zM42.4 206.8h1.1v1.1h-1.1zM52.8 209.9h1.1v1.1h-1.1zM38.6 203.8h1.1v1.1h-1.1zM43.6 232.7h1.1v1.1h-1.1zM50.9 214.5h1.1v1.1h-1.1zM60.6 216.9h1.1v1.1h-1.1zM42.4 202.5h1.1v1.1h-1.1zM71.9 233.2h1.1v1.1h-1.1zM47.0 215.3h1.1v1.1h-1.1zM71.8 235.7h1.1v1.1h-1.1zM54.6 212.4h1.1v1.1h-1.1zM56.4 216.4h1.1v1.1h-1.1zM47.7 208.7h1.1v1.1h-1.1zM58.6 207.5h1.1v1.1h-1.1zM54.2 215.4h1.1v1.1h-1.1zM44.9 201.8h1.1v1.1h-1.1zM80.1 197.7h1.1v1.1h-1.1zM36.4 205.3h1.1v1.1h-1.1zM49.2 212.4h1.1v1.1h-1.1zM55.3 211.0h1.1v1.1h-1.1zM35.1 205.2h1.1v1.1h-1.1zM37.1 236.7h1.1v1.1h-1.1zM70.1 232.7h1.1v1.1h-1.1zM39.1 224.7h1.1v1.1h-1.1zM42.6 212.3h1.1v1.1h-1.1zM70.7 223.3h1.1v1.1h-1.1zM54.4 213.0h1.1v1.1h-1.1zM55.0 214.1h1.1v1.1h-1.1zM48.0 200.1h1.1v1.1h-1.1zM39.9 196.7h1.1v1.1h-1.1zM51.6 216.5h1.1v1.1h-1.1zM55.8 219.1h1.1v1.1h-1.1zM37.7 202.6h1.1v1.1h-1.1zM68.6 229.3h1.1v1.1h-1.1zM79.2 215.6h1.1v1.1h-1.1zM51.6 209.2h1.1v1.1h-1.1zM53.5 208.9h1.1v1.1h-1.1zM60.8 213.6h1.1v1.1h-1.1zM53.8 209.0h1.1v1.1h-1.1zM71.9 229.6h1.1v1.1h-1.1zM58.3 196.1h1.1v1.1h-1.1zM51.5 215.1h1.1v1.1h-1.1zM49.8 210.6h1.1v1.1h-1.1zM64.3 216.2h1.1v1.1h-1.1zM31.1 209.3h1.1v1.1h-1.1zM41.9 224.9h1.1v1.1h-1.1zM50.1 207.7h1.1v1.1h-1.1zM58.1 212.8h1.1v1.1h-1.1zM45.3 220.5h1.1v1.1h-1.1zM52.4 208.0h1.1v1.1h-1.1zM38.9 206.4h1.1v1.1h-1.1zM61.1 212.8h1.1v1.1h-1.1zM34.0 234.9h1.1v1.1h-1.1zM70.7 226.6h1.1v1.1h-1.1zM71.5 225.7h1.1v1.1h-1.1zM60.8 213.3h1.1v1.1h-1.1zM42.5 223.4h1.1v1.1h-1.1zM56.3 235.9h1.1v1.1h-1.1zM42.1 200.8h1.1v1.1h-1.1zM42.1 233.8h1.1v1.1h-1.1zM53.2 211.4h1.1v1.1h-1.1zM69.4 226.3h1.1v1.1h-1.1zM49.6 207.8h1.1v1.1h-1.1zM43.0 206.5h1.1v1.1h-1.1zM68.1 235.5h1.1v1.1h-1.1zM55.5 197.7h1.1v1.1h-1.1zM42.8 212.7h1.1v1.1h-1.1zM51.1 213.1h1.1v1.1h-1.1zM47.7 201.7h1.1v1.1h-1.1zM42.3 209.8h1.1v1.1h-1.1zM68.7 228.4h1.1v1.1h-1.1zM85.5 194.4h1.1v1.1h-1.1zM44.9 215.2h1.1v1.1h-1.1zM33.7 205.2h1.1v1.1h-1.1zM65.5 214.1h1.1v1.1h-1.1zM41.9 234.1h1.1v1.1h-1.1zM35.8 227.8h1.1v1.1h-1.1zM51.8 208.9h1.1v1.1h-1.1zM50.2 230.0h1.1v1.1h-1.1zM62.4 202.8h1.1v1.1h-1.1zM52.8 217.0h1.1v1.1h-1.1zM73.4 226.2h1.1v1.1h-1.1zM40.8 206.0h1.1v1.1h-1.1zM48.5 208.1h1.1v1.1h-1.1zM61.3 211.9h1.1v1.1h-1.1zM45.0 210.1h1.1v1.1h-1.1zM40.5 204.3h1.1v1.1h-1.1zM69.9 219.3h1.1v1.1h-1.1zM73.0 224.9h1.1v1.1h-1.1zM60.6 213.4h1.1v1.1h-1.1zM34.8 205.5h1.1v1.1h-1.1zM76.0 229.0h1.1v1.1h-1.1zM34.5 203.5h1.1v1.1h-1.1zM59.9 214.2h1.1v1.1h-1.1zM38.8 201.7h1.1v1.1h-1.1zM46.2 230.0h1.1v1.1h-1.1zM73.5 224.0h1.1v1.1h-1.1zM45.3 218.9h1.1v1.1h-1.1zM34.7 196.8h1.1v1.1h-1.1zM50.8 209.2h1.1v1.1h-1.1zM47.4 210.6h1.1v1.1h-1.1zM49.6 210.7h1.1v1.1h-1.1zM70.0 231.7h1.1v1.1h-1.1zM62.2 210.0h1.1v1.1h-1.1zM51.3 209.6h1.1v1.1h-1.1zM45.7 204.3h1.1v1.1h-1.1zM63.2 214.1h1.1v1.1h-1.1zM37.6 202.2h1.1v1.1h-1.1zM37.2 212.2h1.1v1.1h-1.1zM69.8 224.8h1.1v1.1h-1.1zM42.0 214.5h1.1v1.1h-1.1zM47.2 202.8h1.1v1.1h-1.1zM34.2 232.3h1.1v1.1h-1.1zM37.5 230.3h1.1v1.1h-1.1zM73.8 229.0h1.1v1.1h-1.1zM52.8 212.2h1.1v1.1h-1.1zM71.6 236.0h1.1v1.1h-1.1zM45.8 224.6h1.1v1.1h-1.1zM54.3 212.9h1.1v1.1h-1.1zM36.6 198.4h1.1v1.1h-1.1zM46.5 209.1h1.1v1.1h-1.1zM72.1 228.9h1.1v1.1h-1.1zM56.9 211.8h1.1v1.1h-1.1zM47.9 207.0h1.1v1.1h-1.1zM40.3 210.9h1.1v1.1h-1.1zM70.4 225.7h1.1v1.1h-1.1zM73.8 230.6h1.1v1.1h-1.1zM44.3 208.0h1.1v1.1h-1.1zM47.2 220.0h1.1v1.1h-1.1zM69.5 225.6h1.1v1.1h-1.1zM43.3 201.3h1.1v1.1h-1.1zM52.9 214.2h1.1v1.1h-1.1zM45.0 212.2h1.1v1.1h-1.1zM50.2 210.0h1.1v1.1h-1.1zM34.7 236.1h1.1v1.1h-1.1zM55.1 216.7h1.1v1.1h-1.1zM42.0 203.2h1.1v1.1h-1.1zM38.2 234.7h1.1v1.1h-1.1zM70.3 232.3h1.1v1.1h-1.1zM51.1 215.8h1.1v1.1h-1.1zM48.6 214.7h1.1v1.1h-1.1zM47.3 207.7h1.1v1.1h-1.1zM64.1 212.0h1.1v1.1h-1.1zM39.7 203.0h1.1v1.1h-1.1zM73.4 228.0h1.1v1.1h-1.1zM44.1 208.8h1.1v1.1h-1.1zM35.9 212.1h1.1v1.1h-1.1zM39.3 205.7h1.1v1.1h-1.1zM57.4 216.2h1.1v1.1h-1.1zM58.2 214.0h1.1v1.1h-1.1zM67.8 230.7h1.1v1.1h-1.1zM73.4 229.7h1.1v1.1h-1.1zM47.6 228.4h1.1v1.1h-1.1zM46.6 212.3h1.1v1.1h-1.1zM49.7 207.6h1.1v1.1h-1.1zM47.6 214.8h1.1v1.1h-1.1zM70.9 225.1h1.1v1.1h-1.1zM66.0 205.7h1.1v1.1h-1.1zM67.6 233.8h1.1v1.1h-1.1zM47.0 205.3h1.1v1.1h-1.1zM59.1 216.3h1.1v1.1h-1.1zM41.3 201.7h1.1v1.1h-1.1zM45.0 206.3h1.1v1.1h-1.1zM34.9 227.0h1.1v1.1h-1.1zM60.7 210.8h1.1v1.1h-1.1zM52.4 214.4h1.1v1.1h-1.1zM72.7 225.3h1.1v1.1h-1.1zM39.9 201.9h1.1v1.1h-1.1zM38.5 208.9h1.1v1.1h-1.1zM40.0 214.0h1.1v1.1h-1.1zM60.6 214.4h1.1v1.1h-1.1zM68.2 213.0h1.1v1.1h-1.1zM58.5 209.6h1.1v1.1h-1.1zM52.7 215.4h1.1v1.1h-1.1zM68.5 217.5h1.1v1.1h-1.1zM65.1 215.2h1.1v1.1h-1.1zM49.9 216.4h1.1v1.1h-1.1zM44.4 195.2h1.1v1.1h-1.1zM52.8 210.4h1.1v1.1h-1.1zM45.3 202.6h1.1v1.1h-1.1zM47.6 211.4h1.1v1.1h-1.1zM67.8 231.0h1.1v1.1h-1.1zM66.2 226.5h1.1v1.1h-1.1zM50.0 212.9h1.1v1.1h-1.1zM49.8 213.6h1.1v1.1h-1.1zM52.3 207.8h1.1v1.1h-1.1zM50.4 211.1h1.1v1.1h-1.1zM70.7 230.9h1.1v1.1h-1.1zM40.0 197.5h1.1v1.1h-1.1zM71.8 232.7h1.1v1.1h-1.1zM54.9 210.6h1.1v1.1h-1.1zM56.2 212.1h1.1v1.1h-1.1zM70.9 229.0h1.1v1.1h-1.1zM47.2 212.1h1.1v1.1h-1.1zM46.7 213.5h1.1v1.1h-1.1zM34.8 202.6h1.1v1.1h-1.1zM53.9 206.3h1.1v1.1h-1.1zM37.8 197.2h1.1v1.1h-1.1zM75.0 221.2h1.1v1.1h-1.1zM49.1 212.6h1.1v1.1h-1.1zM49.6 211.5h1.1v1.1h-1.1zM58.6 214.1h1.1v1.1h-1.1zM48.0 207.4h1.1v1.1h-1.1zM44.3 229.3h1.1v1.1h-1.1zM46.5 209.2h1.1v1.1h-1.1zM38.4 205.6h1.1v1.1h-1.1zM48.1 215.6h1.1v1.1h-1.1zM47.9 209.7h1.1v1.1h-1.1zM72.7 231.1h1.1v1.1h-1.1zM58.2 212.5h1.1v1.1h-1.1zM55.7 198.6h1.1v1.1h-1.1zM70.6 226.7h1.1v1.1h-1.1zM68.4 235.3h1.1v1.1h-1.1zM39.9 204.9h1.1v1.1h-1.1zM70.7 232.0h1.1v1.1h-1.1zM43.8 211.7h1.1v1.1h-1.1zM38.1 205.6h1.1v1.1h-1.1zM52.7 216.2h1.1v1.1h-1.1zM60.3 212.1h1.1v1.1h-1.1zM50.2 211.1h1.1v1.1h-1.1zM74.5 228.2h1.1v1.1h-1.1zM41.5 231.3h1.1v1.1h-1.1zM54.7 213.3h1.1v1.1h-1.1zM54.0 229.6h1.1v1.1h-1.1zM38.5 202.5h1.1v1.1h-1.1zM40.9 199.6h1.1v1.1h-1.1zM67.8 210.8h1.1v1.1h-1.1zM44.6 214.1h1.1v1.1h-1.1zM54.1 210.6h1.1v1.1h-1.1zM47.4 198.2h1.1v1.1h-1.1zM62.1 212.8h1.1v1.1h-1.1zM60.1 214.9h1.1v1.1h-1.1zM33.4 205.6h1.1v1.1h-1.1zM42.1 205.3h1.1v1.1h-1.1zM38.9 202.5h1.1v1.1h-1.1zM47.7 208.2h1.1v1.1h-1.1zM70.3 233.2h1.1v1.1h-1.1zM63.0 211.4h1.1v1.1h-1.1zM60.6 214.6h1.1v1.1h-1.1zM70.5 226.9h1.1v1.1h-1.1zM65.9 217.7h1.1v1.1h-1.1zM55.5 210.3h1.1v1.1h-1.1zM49.0 211.1h1.1v1.1h-1.1zM42.6 230.1h1.1v1.1h-1.1zM36.0 230.2h1.1v1.1h-1.1zM44.4 214.1h1.1v1.1h-1.1zM54.7 212.9h1.1v1.1h-1.1zM60.4 210.5h1.1v1.1h-1.1zM42.7 199.9h1.1v1.1h-1.1zM58.9 207.5h1.1v1.1h-1.1zM42.2 214.9h1.1v1.1h-1.1zM69.9 227.9h1.1v1.1h-1.1zM67.6 228.6h1.1v1.1h-1.1zM60.1 216.2h1.1v1.1h-1.1zM59.1 212.7h1.1v1.1h-1.1zM41.6 234.0h1.1v1.1h-1.1zM73.2 230.1h1.1v1.1h-1.1zM73.8 228.7h1.1v1.1h-1.1zM71.7 232.6h1.1v1.1h-1.1zM70.8 225.4h1.1v1.1h-1.1zM51.8 211.0h1.1v1.1h-1.1zM47.8 200.6h1.1v1.1h-1.1zM51.7 214.5h1.1v1.1h-1.1zM50.1 208.2h1.1v1.1h-1.1zM71.5 232.2h1.1v1.1h-1.1zM68.2 234.2h1.1v1.1h-1.1zM66.5 226.2h1.1v1.1h-1.1zM45.6 210.9h1.1v1.1h-1.1zM33.7 200.5h1.1v1.1h-1.1zM42.7 204.5h1.1v1.1h-1.1zM40.8 212.1h1.1v1.1h-1.1zM44.4 206.9h1.1v1.1h-1.1zM48.6 205.1h1.1v1.1h-1.1zM43.8 226.6h1.1v1.1h-1.1zM69.5 230.2h1.1v1.1h-1.1zM61.3 211.1h1.1v1.1h-1.1zM49.2 211.7h1.1v1.1h-1.1zM42.8 203.4h1.1v1.1h-1.1zM48.0 233.1h1.1v1.1h-1.1zM44.6 219.7h1.1v1.1h-1.1zM42.5 204.4h1.1v1.1h-1.1zM69.7 230.2h1.1v1.1h-1.1zM42.5 213.3h1.1v1.1h-1.1zM49.9 214.2h1.1v1.1h-1.1zM40.7 200.6h1.1v1.1h-1.1zM37.8 233.0h1.1v1.1h-1.1zM57.7 213.9h1.1v1.1h-1.1zM51.1 203.9h1.1v1.1h-1.1zM34.2 203.5h1.1v1.1h-1.1zM49.1 214.4h1.1v1.1h-1.1zM54.1 215.2h1.1v1.1h-1.1zM60.7 209.2h1.1v1.1h-1.1zM62.5 210.9h1.1v1.1h-1.1zM71.0 231.5h1.1v1.1h-1.1zM37.0 204.1h1.1v1.1h-1.1zM43.5 209.7h1.1v1.1h-1.1zM57.4 209.8h1.1v1.1h-1.1zM57.6 212.1h1.1v1.1h-1.1zM54.8 215.6h1.1v1.1h-1.1zM50.2 212.8h1.1v1.1h-1.1zM59.8 214.5h1.1v1.1h-1.1zM47.5 208.7h1.1v1.1h-1.1zM52.6 214.4h1.1v1.1h-1.1zM49.7 204.9h1.1v1.1h-1.1zM59.3 214.2h1.1v1.1h-1.1zM51.1 207.0h1.1v1.1h-1.1zM39.0 198.2h1.1v1.1h-1.1zM51.8 212.5h1.1v1.1h-1.1zM36.4 204.4h1.1v1.1h-1.1zM47.6 213.8h1.1v1.1h-1.1zM52.7 211.3h1.1v1.1h-1.1zM40.1 233.5h1.1v1.1h-1.1zM58.8 206.1h1.1v1.1h-1.1zM47.0 211.0h1.1v1.1h-1.1zM33.6 203.2h1.1v1.1h-1.1zM69.3 232.1h1.1v1.1h-1.1zM73.5 230.2h1.1v1.1h-1.1zM67.8 233.4h1.1v1.1h-1.1zM56.3 212.4h1.1v1.1h-1.1zM69.9 226.5h1.1v1.1h-1.1zM73.9 229.9h1.1v1.1h-1.1zM53.1 219.2h1.1v1.1h-1.1zM82.2 215.1h1.1v1.1h-1.1zM56.4 209.3h1.1v1.1h-1.1zM55.7 213.2h1.1v1.1h-1.1zM32.9 233.1h1.1v1.1h-1.1zM59.7 217.3h1.1v1.1h-1.1zM70.2 227.6h1.1v1.1h-1.1zM59.4 212.7h1.1v1.1h-1.1zM39.1 196.5h1.1v1.1h-1.1zM56.3 210.4h1.1v1.1h-1.1zM49.2 211.7h1.1v1.1h-1.1zM55.1 211.1h1.1v1.1h-1.1zM68.4 227.2h1.1v1.1h-1.1zM35.1 202.3h1.1v1.1h-1.1zM68.6 233.8h1.1v1.1h-1.1zM39.5 213.4h1.1v1.1h-1.1zM34.3 234.0h1.1v1.1h-1.1zM37.5 204.6h1.1v1.1h-1.1zM37.0 226.6h1.1v1.1h-1.1zM57.4 210.9h1.1v1.1h-1.1zM58.8 212.7h1.1v1.1h-1.1zM32.8 209.1h1.1v1.1h-1.1zM73.9 231.4h1.1v1.1h-1.1zM66.0 217.2h1.1v1.1h-1.1zM37.6 196.5h1.1v1.1h-1.1zM66.0 231.7h1.1v1.1h-1.1zM53.2 216.8h1.1v1.1h-1.1zM44.9 212.3h1.1v1.1h-1.1zM37.4 208.2h1.1v1.1h-1.1zM46.3 200.1h1.1v1.1h-1.1zM53.6 218.1h1.1v1.1h-1.1zM70.4 227.4h1.1v1.1h-1.1zM34.9 229.2h1.1v1.1h-1.1zM58.4 207.7h1.1v1.1h-1.1zM53.1 211.6h1.1v1.1h-1.1zM44.3 233.3h1.1v1.1h-1.1zM66.6 236.9h1.1v1.1h-1.1zM68.1 227.3h1.1v1.1h-1.1zM56.7 208.5h1.1v1.1h-1.1zM40.9 207.9h1.1v1.1h-1.1zM38.9 205.0h1.1v1.1h-1.1zM51.9 209.8h1.1v1.1h-1.1zM41.8 204.1h1.1v1.1h-1.1zM47.2 208.1h1.1v1.1h-1.1zM44.8 209.1h1.1v1.1h-1.1zM51.2 211.1h1.1v1.1h-1.1zM32.7 199.9h1.1v1.1h-1.1zM64.8 214.5h1.1v1.1h-1.1zM34.8 232.2h1.1v1.1h-1.1zM56.6 209.0h1.1v1.1h-1.1zM40.9 205.2h1.1v1.1h-1.1zM54.5 210.0h1.1v1.1h-1.1zM66.5 224.2h1.1v1.1h-1.1zM32.3 202.0h1.1v1.1h-1.1zM43.0 203.9h1.1v1.1h-1.1zM69.0 232.1h1.1v1.1h-1.1zM73.7 221.7h1.1v1.1h-1.1zM51.6 213.7h1.1v1.1h-1.1zM68.3 226.2h1.1v1.1h-1.1zM74.3 233.1h1.1v1.1h-1.1zM70.2 229.1h1.1v1.1h-1.1zM51.1 213.7h1.1v1.1h-1.1zM49.0 214.7h1.1v1.1h-1.1zM69.3 229.9h1.1v1.1h-1.1zM70.1 227.1h1.1v1.1h-1.1zM33.7 209.1h1.1v1.1h-1.1zM34.6 234.2h1.1v1.1h-1.1zM45.4 205.6h1.1v1.1h-1.1zM45.6 203.2h1.1v1.1h-1.1zM50.2 215.9h1.1v1.1h-1.1zM59.0 214.6h1.1v1.1h-1.1zM64.8 215.9h1.1v1.1h-1.1zM55.6 209.4h1.1v1.1h-1.1zM51.1 214.7h1.1v1.1h-1.1zM74.0 232.6h1.1v1.1h-1.1zM69.5 226.0h1.1v1.1h-1.1zM64.5 214.6h1.1v1.1h-1.1zM46.4 205.7h1.1v1.1h-1.1zM38.9 233.0h1.1v1.1h-1.1zM57.3 211.2h1.1v1.1h-1.1zM37.8 202.2h1.1v1.1h-1.1zM56.3 216.0h1.1v1.1h-1.1zM45.2 208.1h1.1v1.1h-1.1zM75.6 228.8h1.1v1.1h-1.1zM50.0 213.1h1.1v1.1h-1.1zM42.3 234.1h1.1v1.1h-1.1zM71.0 229.7h1.1v1.1h-1.1zM45.0 205.8h1.1v1.1h-1.1zM57.9 209.5h1.1v1.1h-1.1zM36.3 198.5h1.1v1.1h-1.1zM52.8 209.7h1.1v1.1h-1.1zM50.1 211.6h1.1v1.1h-1.1zM42.1 204.8h1.1v1.1h-1.1zM42.1 199.8h1.1v1.1h-1.1zM72.9 229.8h1.1v1.1h-1.1zM56.2 214.2h1.1v1.1h-1.1zM56.2 207.7h1.1v1.1h-1.1zM53.6 211.0h1.1v1.1h-1.1zM76.6 198.9h1.1v1.1h-1.1zM72.6 229.7h1.1v1.1h-1.1zM59.5 217.0h1.1v1.1h-1.1zM51.4 212.5h1.1v1.1h-1.1zM71.5 225.0h1.1v1.1h-1.1zM48.2 207.2h1.1v1.1h-1.1zM74.8 233.8h1.1v1.1h-1.1zM38.9 227.3h1.1v1.1h-1.1zM61.4 212.3h1.1v1.1h-1.1zM53.4 210.9h1.1v1.1h-1.1zM47.3 236.2h1.1v1.1h-1.1zM38.1 227.2h1.1v1.1h-1.1zM75.7 234.8h1.1v1.1h-1.1zM56.6 212.0h1.1v1.1h-1.1zM55.0 207.3h1.1v1.1h-1.1zM34.2 203.6h1.1v1.1h-1.1zM50.0 212.3h1.1v1.1h-1.1zM49.4 211.2h1.1v1.1h-1.1zM56.0 215.1h1.1v1.1h-1.1zM49.2 205.8h1.1v1.1h-1.1zM63.7 211.6h1.1v1.1h-1.1zM35.5 203.5h1.1v1.1h-1.1zM69.6 233.0h1.1v1.1h-1.1zM47.4 211.6h1.1v1.1h-1.1zM42.0 202.1h1.1v1.1h-1.1zM69.8 230.5h1.1v1.1h-1.1zM36.4 233.3h1.1v1.1h-1.1zM46.2 206.2h1.1v1.1h-1.1zM54.8 212.1h1.1v1.1h-1.1zM39.0 196.4h1.1v1.1h-1.1zM50.6 210.2h1.1v1.1h-1.1zM50.8 215.0h1.1v1.1h-1.1zM70.7 227.6h1.1v1.1h-1.1zM58.3 215.9h1.1v1.1h-1.1zM50.6 195.1h1.1v1.1h-1.1zM49.1 204.3h1.1v1.1h-1.1zM50.1 213.2h1.1v1.1h-1.1zM64.3 226.9h1.1v1.1h-1.1zM43.8 203.1h1.1v1.1h-1.1zM56.4 211.0h1.1v1.1h-1.1zM41.4 203.3h1.1v1.1h-1.1zM32.9 201.0h1.1v1.1h-1.1zM51.3 215.3h1.1v1.1h-1.1zM69.8 231.4h1.1v1.1h-1.1zM74.3 232.6h1.1v1.1h-1.1zM69.0 226.0h1.1v1.1h-1.1zM70.8 229.2h1.1v1.1h-1.1zM71.1 224.8h1.1v1.1h-1.1zM46.0 206.5h1.1v1.1h-1.1zM36.9 203.5h1.1v1.1h-1.1zM34.9 229.1h1.1v1.1h-1.1zM45.9 207.3h1.1v1.1h-1.1zM48.7 210.4h1.1v1.1h-1.1zM70.8 231.2h1.1v1.1h-1.1zM68.1 222.7h1.1v1.1h-1.1zM70.1 220.4h1.1v1.1h-1.1zM50.1 213.0h1.1v1.1h-1.1zM57.0 209.7h1.1v1.1h-1.1zM42.0 202.2h1.1v1.1h-1.1zM53.4 207.5h1.1v1.1h-1.1zM57.9 207.1h1.1v1.1h-1.1zM37.4 227.8h1.1v1.1h-1.1zM53.8 213.9h1.1v1.1h-1.1zM68.2 226.2h1.1v1.1h-1.1zM47.2 213.8h1.1v1.1h-1.1zM53.6 211.8h1.1v1.1h-1.1zM42.7 198.5h1.1v1.1h-1.1zM39.2 203.5h1.1v1.1h-1.1zM51.5 213.7h1.1v1.1h-1.1zM71.2 228.5h1.1v1.1h-1.1zM71.5 230.9h1.1v1.1h-1.1zM37.2 200.5h1.1v1.1h-1.1zM42.7 232.4h1.1v1.1h-1.1zM57.9 214.0h1.1v1.1h-1.1zM58.8 210.1h1.1v1.1h-1.1zM45.6 214.2h1.1v1.1h-1.1zM48.9 206.6h1.1v1.1h-1.1zM38.7 203.8h1.1v1.1h-1.1zM68.6 227.2h1.1v1.1h-1.1zM67.3 233.5h1.1v1.1h-1.1zM72.3 228.3h1.1v1.1h-1.1zM74.7 229.6h1.1v1.1h-1.1zM51.2 211.5h1.1v1.1h-1.1zM41.4 203.5h1.1v1.1h-1.1zM47.2 209.6h1.1v1.1h-1.1zM50.7 207.9h1.1v1.1h-1.1zM51.5 214.4h1.1v1.1h-1.1zM46.4 201.6h1.1v1.1h-1.1zM54.8 211.2h1.1v1.1h-1.1zM70.5 230.1h1.1v1.1h-1.1zM40.4 230.7h1.1v1.1h-1.1zM49.7 202.7h1.1v1.1h-1.1zM38.8 198.9h1.1v1.1h-1.1zM47.7 204.9h1.1v1.1h-1.1zM50.0 204.7h1.1v1.1h-1.1zM45.9 210.5h1.1v1.1h-1.1zM32.8 233.1h1.1v1.1h-1.1zM35.8 234.6h1.1v1.1h-1.1zM53.4 212.6h1.1v1.1h-1.1zM36.1 209.1h1.1v1.1h-1.1zM70.3 224.2h1.1v1.1h-1.1zM71.4 214.2h1.1v1.1h-1.1zM54.8 205.3h1.1v1.1h-1.1zM56.1 213.0h1.1v1.1h-1.1zM68.8 216.6h1.1v1.1h-1.1zM53.3 209.6h1.1v1.1h-1.1zM41.3 233.3h1.1v1.1h-1.1zM46.6 205.6h1.1v1.1h-1.1zM39.4 232.4h1.1v1.1h-1.1zM69.2 232.1h1.1v1.1h-1.1zM53.6 214.0h1.1v1.1h-1.1zM50.5 210.9h1.1v1.1h-1.1zM68.5 222.4h1.1v1.1h-1.1zM49.0 202.6h1.1v1.1h-1.1zM37.6 229.2h1.1v1.1h-1.1zM38.5 233.7h1.1v1.1h-1.1zM50.5 209.1h1.1v1.1h-1.1zM69.3 225.0h1.1v1.1h-1.1zM42.3 204.3h1.1v1.1h-1.1zM34.4 209.9h1.1v1.1h-1.1zM43.1 197.4h1.1v1.1h-1.1zM43.4 203.7h1.1v1.1h-1.1zM42.4 202.3h1.1v1.1h-1.1zM54.3 212.2h1.1v1.1h-1.1zM45.5 206.1h1.1v1.1h-1.1zM52.3 212.9h1.1v1.1h-1.1zM47.0 211.4h1.1v1.1h-1.1zM40.9 204.2h1.1v1.1h-1.1zM45.8 214.1h1.1v1.1h-1.1zM70.5 221.8h1.1v1.1h-1.1zM43.2 205.9h1.1v1.1h-1.1zM60.5 210.6h1.1v1.1h-1.1zM49.7 207.5h1.1v1.1h-1.1zM50.8 207.5h1.1v1.1h-1.1zM37.1 205.8h1.1v1.1h-1.1zM55.8 210.6h1.1v1.1h-1.1zM56.7 213.0h1.1v1.1h-1.1zM37.6 204.0h1.1v1.1h-1.1zM53.3 214.9h1.1v1.1h-1.1zM35.2 196.6h1.1v1.1h-1.1zM32.4 226.3h1.1v1.1h-1.1zM44.5 201.4h1.1v1.1h-1.1zM45.1 197.6h1.1v1.1h-1.1zM45.5 196.4h1.1v1.1h-1.1zM37.9 215.4h1.1v1.1h-1.1zM70.3 230.7h1.1v1.1h-1.1zM43.8 203.5h1.1v1.1h-1.1zM42.1 201.8h1.1v1.1h-1.1zM45.5 229.6h1.1v1.1h-1.1zM69.0 228.8h1.1v1.1h-1.1zM68.1 228.9h1.1v1.1h-1.1zM40.3 234.0h1.1v1.1h-1.1zM38.6 204.7h1.1v1.1h-1.1zM55.5 213.8h1.1v1.1h-1.1zM52.9 201.1h1.1v1.1h-1.1zM60.9 213.2h1.1v1.1h-1.1zM58.1 208.4h1.1v1.1h-1.1zM69.1 223.7h1.1v1.1h-1.1zM49.7 213.7h1.1v1.1h-1.1zM50.6 216.8h1.1v1.1h-1.1zM46.1 212.2h1.1v1.1h-1.1zM47.2 216.9h1.1v1.1h-1.1zM69.7 229.3h1.1v1.1h-1.1zM60.9 210.7h1.1v1.1h-1.1zM71.4 230.3h1.1v1.1h-1.1zM71.7 227.3h1.1v1.1h-1.1zM74.9 224.9h1.1v1.1h-1.1zM53.2 216.0h1.1v1.1h-1.1zM65.0 212.7h1.1v1.1h-1.1zM33.4 201.6h1.1v1.1h-1.1zM72.9 225.0h1.1v1.1h-1.1zM54.4 209.5h1.1v1.1h-1.1zM53.6 204.0h1.1v1.1h-1.1zM63.1 211.8h1.1v1.1h-1.1zM46.5 219.6h1.1v1.1h-1.1zM56.8 206.7h1.1v1.1h-1.1zM60.8 213.9h1.1v1.1h-1.1zM58.2 211.8h1.1v1.1h-1.1zM43.5 201.9h1.1v1.1h-1.1zM69.4 225.3h1.1v1.1h-1.1zM58.8 221.0h1.1v1.1h-1.1zM42.9 227.9h1.1v1.1h-1.1zM69.7 227.6h1.1v1.1h-1.1zM56.7 213.6h1.1v1.1h-1.1zM59.6 213.0h1.1v1.1h-1.1zM56.6 214.4h1.1v1.1h-1.1zM67.9 229.6h1.1v1.1h-1.1zM36.4 194.1h1.1v1.1h-1.1zM43.6 230.3h1.1v1.1h-1.1zM42.1 204.8h1.1v1.1h-1.1zM47.8 207.0h1.1v1.1h-1.1zM42.3 223.1h1.1v1.1h-1.1zM54.8 214.5h1.1v1.1h-1.1zM49.2 206.7h1.1v1.1h-1.1zM44.8 236.2h1.1v1.1h-1.1zM37.6 233.4h1.1v1.1h-1.1zM55.1 211.1h1.1v1.1h-1.1zM39.0 205.8h1.1v1.1h-1.1zM55.1 215.2h1.1v1.1h-1.1zM45.3 201.3h1.1v1.1h-1.1zM40.5 211.4h1.1v1.1h-1.1zM75.8 219.7h1.1v1.1h-1.1zM64.0 214.2h1.1v1.1h-1.1zM48.6 212.8h1.1v1.1h-1.1zM56.2 210.7h1.1v1.1h-1.1zM54.5 209.3h1.1v1.1h-1.1zM51.3 212.3h1.1v1.1h-1.1zM47.5 214.5h1.1v1.1h-1.1zM34.9 204.9h1.1v1.1h-1.1zM39.1 228.0h1.1v1.1h-1.1zM51.5 212.4h1.1v1.1h-1.1zM59.3 210.7h1.1v1.1h-1.1zM46.2 207.9h1.1v1.1h-1.1zM70.1 228.6h1.1v1.1h-1.1zM48.6 212.9h1.1v1.1h-1.1zM35.7 202.1h1.1v1.1h-1.1zM60.0 208.7h1.1v1.1h-1.1zM48.2 212.4h1.1v1.1h-1.1zM44.9 204.4h1.1v1.1h-1.1zM61.0 213.4h1.1v1.1h-1.1zM43.9 231.9h1.1v1.1h-1.1zM60.6 215.8h1.1v1.1h-1.1zM48.4 216.2h1.1v1.1h-1.1zM49.3 210.3h1.1v1.1h-1.1zM48.1 205.8h1.1v1.1h-1.1zM68.9 235.6h1.1v1.1h-1.1zM55.8 216.3h1.1v1.1h-1.1zM71.1 229.0h1.1v1.1h-1.1zM58.6 216.5h1.1v1.1h-1.1zM50.4 214.4h1.1v1.1h-1.1zM60.4 215.3h1.1v1.1h-1.1zM50.7 207.5h1.1v1.1h-1.1zM62.7 219.7h1.1v1.1h-1.1zM32.7 205.1h1.1v1.1h-1.1zM44.5 200.1h1.1v1.1h-1.1zM40.7 207.7h1.1v1.1h-1.1zM53.9 213.4h1.1v1.1h-1.1zM47.1 233.0h1.1v1.1h-1.1zM53.7 213.2h1.1v1.1h-1.1zM47.7 212.4h1.1v1.1h-1.1zM69.4 229.2h1.1v1.1h-1.1zM38.6 206.9h1.1v1.1h-1.1zM40.4 203.5h1.1v1.1h-1.1zM66.8 205.9h1.1v1.1h-1.1zM45.6 198.8h1.1v1.1h-1.1zM56.8 212.7h1.1v1.1h-1.1zM41.9 195.8h1.1v1.1h-1.1zM35.6 229.2h1.1v1.1h-1.1zM56.5 214.2h1.1v1.1h-1.1zM69.0 227.7h1.1v1.1h-1.1zM55.9 208.4h1.1v1.1h-1.1zM45.5 234.3h1.1v1.1h-1.1zM54.4 210.7h1.1v1.1h-1.1zM48.3 208.9h1.1v1.1h-1.1zM71.8 226.4h1.1v1.1h-1.1zM33.4 230.5h1.1v1.1h-1.1zM38.7 205.2h1.1v1.1h-1.1zM72.5 232.1h1.1v1.1h-1.1zM46.7 194.0h1.1v1.1h-1.1zM74.0 226.5h1.1v1.1h-1.1zM34.1 229.1h1.1v1.1h-1.1zM71.7 230.0h1.1v1.1h-1.1zM51.7 206.9h1.1v1.1h-1.1zM50.2 200.2h1.1v1.1h-1.1zM40.9 199.9h1.1v1.1h-1.1zM38.6 201.2h1.1v1.1h-1.1zM55.4 210.3h1.1v1.1h-1.1zM66.8 207.3h1.1v1.1h-1.1zM43.3 217.8h1.1v1.1h-1.1zM63.8 216.8h1.1v1.1h-1.1zM43.2 215.5h1.1v1.1h-1.1zM47.9 215.0h1.1v1.1h-1.1zM60.0 206.4h1.1v1.1h-1.1zM56.5 212.9h1.1v1.1h-1.1zM72.2 230.9h1.1v1.1h-1.1zM73.2 227.3h1.1v1.1h-1.1zM51.5 212.6h1.1v1.1h-1.1zM69.2 229.9h1.1v1.1h-1.1zM44.5 216.2h1.1v1.1h-1.1zM46.3 209.9h1.1v1.1h-1.1zM54.4 208.0h1.1v1.1h-1.1zM56.7 213.6h1.1v1.1h-1.1zM37.0 205.1h1.1v1.1h-1.1zM55.6 217.1h1.1v1.1h-1.1zM69.4 230.4h1.1v1.1h-1.1zM55.3 212.0h1.1v1.1h-1.1zM33.9 199.0h1.1v1.1h-1.1zM35.7 229.6h1.1v1.1h-1.1zM35.9 207.6h1.1v1.1h-1.1zM37.3 212.9h1.1v1.1h-1.1zM70.0 229.9h1.1v1.1h-1.1zM67.3 227.3h1.1v1.1h-1.1zM50.8 213.3h1.1v1.1h-1.1zM70.3 229.3h1.1v1.1h-1.1zM49.1 211.8h1.1v1.1h-1.1zM44.7 207.8h1.1v1.1h-1.1zM32.9 196.8h1.1v1.1h-1.1zM70.8 225.9h1.1v1.1h-1.1zM40.7 225.7h1.1v1.1h-1.1zM49.7 210.7h1.1v1.1h-1.1zM53.1 210.8h1.1v1.1h-1.1zM38.9 235.0h1.1v1.1h-1.1zM39.9 211.7h1.1v1.1h-1.1zM31.6 202.4h1.1v1.1h-1.1zM39.9 204.2h1.1v1.1h-1.1zM41.5 229.1h1.1v1.1h-1.1zM49.0 210.4h1.1v1.1h-1.1zM53.9 213.7h1.1v1.1h-1.1zM33.1 234.1h1.1v1.1h-1.1zM78.1 229.9h1.1v1.1h-1.1zM48.2 215.0h1.1v1.1h-1.1zM48.3 211.6h1.1v1.1h-1.1zM51.0 209.6h1.1v1.1h-1.1zM44.6 210.6h1.1v1.1h-1.1zM47.9 209.3h1.1v1.1h-1.1zM66.9 213.8h1.1v1.1h-1.1zM39.2 236.7h1.1v1.1h-1.1zM49.5 212.9h1.1v1.1h-1.1zM39.5 236.0h1.1v1.1h-1.1zM53.6 214.8h1.1v1.1h-1.1zM55.5 208.5h1.1v1.1h-1.1zM48.9 211.6h1.1v1.1h-1.1zM57.1 216.0h1.1v1.1h-1.1zM37.7 213.2h1.1v1.1h-1.1zM52.9 206.2h1.1v1.1h-1.1zM40.2 235.0h1.1v1.1h-1.1zM59.8 228.1h1.1v1.1h-1.1zM48.2 232.1h1.1v1.1h-1.1zM48.8 211.4h1.1v1.1h-1.1zM42.3 207.5h1.1v1.1h-1.1zM40.0 232.2h1.1v1.1h-1.1zM56.3 213.6h1.1v1.1h-1.1zM60.7 216.3h1.1v1.1h-1.1zM52.6 215.1h1.1v1.1h-1.1zM42.7 205.3h1.1v1.1h-1.1zM63.4 231.2h1.1v1.1h-1.1zM39.5 208.1h1.1v1.1h-1.1zM54.6 214.1h1.1v1.1h-1.1zM41.7 204.0h1.1v1.1h-1.1zM73.2 222.5h1.1v1.1h-1.1zM53.4 213.8h1.1v1.1h-1.1zM39.8 223.5h1.1v1.1h-1.1zM66.4 232.7h1.1v1.1h-1.1zM59.0 213.5h1.1v1.1h-1.1zM51.0 210.9h1.1v1.1h-1.1zM48.2 218.5h1.1v1.1h-1.1zM35.7 207.0h1.1v1.1h-1.1zM60.0 209.5h1.1v1.1h-1.1zM72.1 230.5h1.1v1.1h-1.1zM55.1 211.4h1.1v1.1h-1.1zM36.9 206.2h1.1v1.1h-1.1zM72.5 226.9h1.1v1.1h-1.1zM37.8 201.2h1.1v1.1h-1.1zM41.1 199.4h1.1v1.1h-1.1zM73.6 226.0h1.1v1.1h-1.1zM39.3 199.0h1.1v1.1h-1.1zM57.9 214.5h1.1v1.1h-1.1zM43.7 202.6h1.1v1.1h-1.1zM40.6 200.7h1.1v1.1h-1.1zM42.2 216.3h1.1v1.1h-1.1zM43.3 209.2h1.1v1.1h-1.1zM63.1 212.6h1.1v1.1h-1.1zM34.1 233.1h1.1v1.1h-1.1zM60.0 216.6h1.1v1.1h-1.1zM40.3 205.2h1.1v1.1h-1.1zM49.1 236.9h1.1v1.1h-1.1zM60.2 214.8h1.1v1.1h-1.1zM50.5 215.6h1.1v1.1h-1.1zM48.0 207.5h1.1v1.1h-1.1zM73.7 232.2h1.1v1.1h-1.1zM41.6 196.2h1.1v1.1h-1.1zM42.3 232.6h1.1v1.1h-1.1zM41.7 200.3h1.1v1.1h-1.1zM39.2 227.7h1.1v1.1h-1.1zM59.0 210.4h1.1v1.1h-1.1zM56.5 209.3h1.1v1.1h-1.1zM33.6 202.1h1.1v1.1h-1.1zM58.1 208.5h1.1v1.1h-1.1zM55.8 213.5h1.1v1.1h-1.1zM71.9 237.7h1.1v1.1h-1.1zM50.6 211.9h1.1v1.1h-1.1zM58.1 207.9h1.1v1.1h-1.1zM60.3 213.5h1.1v1.1h-1.1zM71.0 221.7h1.1v1.1h-1.1zM67.6 234.7h1.1v1.1h-1.1zM36.8 199.4h1.1v1.1h-1.1zM45.8 206.1h1.1v1.1h-1.1zM73.1 230.2h1.1v1.1h-1.1zM41.7 231.1h1.1v1.1h-1.1zM43.0 206.5h1.1v1.1h-1.1zM37.4 227.9h1.1v1.1h-1.1zM56.6 216.6h1.1v1.1h-1.1zM51.4 212.6h1.1v1.1h-1.1zM60.8 212.6h1.1v1.1h-1.1zM41.6 201.7h1.1v1.1h-1.1zM47.0 210.1h1.1v1.1h-1.1zM50.2 213.9h1.1v1.1h-1.1zM43.6 214.7h1.1v1.1h-1.1zM72.7 227.2h1.1v1.1h-1.1zM41.8 212.7h1.1v1.1h-1.1zM63.8 215.3h1.1v1.1h-1.1zM71.7 231.0h1.1v1.1h-1.1zM57.9 210.4h1.1v1.1h-1.1zM70.9 228.3h1.1v1.1h-1.1zM42.4 211.3h1.1v1.1h-1.1zM72.2 223.4h1.1v1.1h-1.1zM64.7 211.8h1.1v1.1h-1.1zM55.4 210.7h1.1v1.1h-1.1zM46.8 214.0h1.1v1.1h-1.1zM53.2 209.7h1.1v1.1h-1.1zM73.2 225.3h1.1v1.1h-1.1zM69.8 230.1h1.1v1.1h-1.1zM41.4 218.5h1.1v1.1h-1.1zM42.1 210.6h1.1v1.1h-1.1zM56.6 214.9h1.1v1.1h-1.1zM32.8 196.3h1.1v1.1h-1.1zM56.4 212.8h1.1v1.1h-1.1zM47.0 209.5h1.1v1.1h-1.1zM52.4 212.5h1.1v1.1h-1.1zM43.6 209.2h1.1v1.1h-1.1zM64.8 217.2h1.1v1.1h-1.1zM68.8 222.4h1.1v1.1h-1.1zM54.5 212.1h1.1v1.1h-1.1zM48.3 213.2h1.1v1.1h-1.1zM36.2 199.5h1.1v1.1h-1.1zM50.9 213.8h1.1v1.1h-1.1zM44.9 202.5h1.1v1.1h-1.1zM34.0 231.0h1.1v1.1h-1.1zM70.6 231.1h1.1v1.1h-1.1zM40.1 232.1h1.1v1.1h-1.1zM37.5 205.4h1.1v1.1h-1.1zM48.1 210.6h1.1v1.1h-1.1zM42.2 213.4h1.1v1.1h-1.1zM56.4 213.9h1.1v1.1h-1.1zM65.1 212.7h1.1v1.1h-1.1zM50.3 213.6h1.1v1.1h-1.1zM59.8 208.6h1.1v1.1h-1.1zM37.8 229.1h1.1v1.1h-1.1zM58.8 211.0h1.1v1.1h-1.1zM53.5 213.5h1.1v1.1h-1.1zM70.8 227.3h1.1v1.1h-1.1zM31.9 204.0h1.1v1.1h-1.1z" fill="#ee0a0a" fill-opacity="0.85"/>
<path d="M44.7 204.7h1.1v1.1h-1.1zM55.2 212.9h1.1v1.1h-1.1zM64.2 209.3h1.1v1.1h-1.1zM69.5 222.6h1.1v1.1h-1.1zM38.5 212.8h1.1v1.1h-1.1zM50.2 207.8h1.1v1.1h-1.1zM46.3 216.1h1.1v1.1h-1.1zM53.7 210.7h1.1v1.1h-1.1zM51.4 207.2h1.1v1.1h-1.1zM37.8 225.3h1.1v1.1h-1.1zM44.5 230.4h1.1v1.1h-1.1zM54.7 212.0h1.1v1.1h-1.1zM41.8 205.1h1.1v1.1h-1.1zM43.6 206.5h1.1v1.1h-1.1zM43.1 196.2h1.1v1.1h-1.1zM46.1 205.6h1.1v1.1h-1.1zM90.9 192.4h1.1v1.1h-1.1zM70.5 228.2h1.1v1.1h-1.1zM48.1 207.3h1.1v1.1h-1.1zM50.9 211.1h1.1v1.1h-1.1zM46.6 197.2h1.1v1.1h-1.1zM33.0 231.1h1.1v1.1h-1.1zM45.2 203.5h1.1v1.1h-1.1zM69.7 232.2h1.1v1.1h-1.1zM51.5 207.0h1.1v1.1h-1.1zM69.0 226.0h1.1v1.1h-1.1zM69.0 225.5h1.1v1.1h-1.1zM38.1 203.3h1.1v1.1h-1.1zM33.1 202.7h1.1v1.1h-1.1zM64.6 217.0h1.1v1.1h-1.1zM56.1 218.5h1.1v1.1h-1.1zM50.3 210.4h1.1v1.1h-1.1zM39.2 228.2h1.1v1.1h-1.1zM54.7 212.3h1.1v1.1h-1.1zM62.8 217.1h1.1v1.1h-1.1zM41.2 215.9h1.1v1.1h-1.1zM68.9 226.9h1.1v1.1h-1.1zM39.3 208.0h1.1v1.1h-1.1zM43.6 203.7h1.1v1.1h-1.1zM41.2 200.3h1.1v1.1h-1.1zM52.5 218.7h1.1v1.1h-1.1zM64.0 223.3h1.1v1.1h-1.1zM67.5 235.3h1.1v1.1h-1.1zM45.4 209.6h1.1v1.1h-1.1zM42.5 229.9h1.1v1.1h-1.1zM38.2 197.2h1.1v1.1h-1.1zM69.6 227.8h1.1v1.1h-1.1zM37.0 229.3h1.1v1.1h-1.1zM45.6 213.0h1.1v1.1h-1.1zM51.8 209.3h1.1v1.1h-1.1zM48.8 211.5h1.1v1.1h-1.1zM69.6 233.8h1.1v1.1h-1.1zM48.4 210.6h1.1v1.1h-1.1zM56.8 211.2h1.1v1.1h-1.1zM40.8 204.7h1.1v1.1h-1.1zM57.9 217.0h1.1v1.1h-1.1zM42.3 201.9h1.1v1.1h-1.1zM72.2 231.4h1.1v1.1h-1.1zM39.0 202.4h1.1v1.1h-1.1zM68.5 215.1h1.1v1.1h-1.1zM35.2 194.3h1.1v1.1h-1.1zM52.6 210.8h1.1v1.1h-1.1zM59.3 212.5h1.1v1.1h-1.1zM70.0 226.1h1.1v1.1h-1.1zM72.9 225.6h1.1v1.1h-1.1zM38.3 197.9h1.1v1.1h-1.1zM35.0 206.2h1.1v1.1h-1.1zM70.0 224.0h1.1v1.1h-1.1zM53.7 213.9h1.1v1.1h-1.1zM41.2 207.2h1.1v1.1h-1.1zM71.2 233.1h1.1v1.1h-1.1zM70.3 228.9h1.1v1.1h-1.1zM44.5 198.5h1.1v1.1h-1.1zM62.2 212.8h1.1v1.1h-1.1zM31.8 234.7h1.1v1.1h-1.1zM36.4 200.9h1.1v1.1h-1.1zM41.5 206.9h1.1v1.1h-1.1zM59.3 210.9h1.1v1.1h-1.1zM52.6 214.3h1.1v1.1h-1.1zM46.5 212.7h1.1v1.1h-1.1zM42.4 206.3h1.1v1.1h-1.1zM61.6 212.9h1.1v1.1h-1.1zM50.9 233.8h1.1v1.1h-1.1zM49.9 212.7h1.1v1.1h-1.1zM46.1 200.6h1.1v1.1h-1.1zM53.2 214.4h1.1v1.1h-1.1zM55.8 194.7h1.1v1.1h-1.1zM48.2 203.8h1.1v1.1h-1.1zM37.9 203.7h1.1v1.1h-1.1zM52.9 215.2h1.1v1.1h-1.1zM49.5 210.3h1.1v1.1h-1.1zM62.8 213.5h1.1v1.1h-1.1zM58.8 211.3h1.1v1.1h-1.1zM47.2 207.2h1.1v1.1h-1.1zM70.6 227.3h1.1v1.1h-1.1zM65.9 209.3h1.1v1.1h-1.1zM38.2 228.7h1.1v1.1h-1.1zM45.1 198.0h1.1v1.1h-1.1zM62.4 213.6h1.1v1.1h-1.1zM42.2 206.7h1.1v1.1h-1.1zM47.4 207.1h1.1v1.1h-1.1zM57.1 209.7h1.1v1.1h-1.1zM39.3 223.5h1.1v1.1h-1.1zM41.8 201.5h1.1v1.1h-1.1zM38.9 230.1h1.1v1.1h-1.1zM70.5 229.5h1.1v1.1h-1.1zM51.5 210.9h1.1v1.1h-1.1zM40.8 202.3h1.1v1.1h-1.1zM72.3 233.2h1.1v1.1h-1.1zM53.2 215.8h1.1v1.1h-1.1zM40.7 199.8h1.1v1.1h-1.1zM70.0 219.8h1.1v1.1h-1.1zM43.6 211.6h1.1v1.1h-1.1zM54.9 208.5h1.1v1.1h-1.1zM66.4 212.7h1.1v1.1h-1.1zM44.7 231.1h1.1v1.1h-1.1zM49.8 227.7h1.1v1.1h-1.1zM52.3 212.4h1.1v1.1h-1.1zM46.6 210.4h1.1v1.1h-1.1zM58.1 209.4h1.1v1.1h-1.1zM54.9 211.0h1.1v1.1h-1.1zM59.4 214.9h1.1v1.1h-1.1zM71.7 229.8h1.1v1.1h-1.1zM56.7 213.9h1.1v1.1h-1.1zM40.8 231.2h1.1v1.1h-1.1zM64.6 227.2h1.1v1.1h-1.1zM44.4 199.6h1.1v1.1h-1.1zM72.5 233.7h1.1v1.1h-1.1zM56.4 210.5h1.1v1.1h-1.1zM47.9 205.5h1.1v1.1h-1.1zM57.2 212.9h1.1v1.1h-1.1zM47.2 206.3h1.1v1.1h-1.1zM38.2 232.1h1.1v1.1h-1.1zM49.2 210.5h1.1v1.1h-1.1zM48.5 215.0h1.1v1.1h-1.1zM38.6 217.4h1.1v1.1h-1.1zM49.4 213.6h1.1v1.1h-1.1zM73.9 227.3h1.1v1.1h-1.1zM51.8 210.9h1.1v1.1h-1.1zM50.5 216.0h1.1v1.1h-1.1zM43.0 200.5h1.1v1.1h-1.1zM69.0 229.4h1.1v1.1h-1.1zM54.5 211.5h1.1v1.1h-1.1zM45.3 214.4h1.1v1.1h-1.1zM48.1 217.6h1.1v1.1h-1.1zM55.4 208.5h1.1v1.1h-1.1zM34.5 206.8h1.1v1.1h-1.1zM61.1 212.8h1.1v1.1h-1.1zM38.6 204.7h1.1v1.1h-1.1zM63.2 211.0h1.1v1.1h-1.1zM37.3 230.8h1.1v1.1h-1.1zM35.9 203.2h1.1v1.1h-1.1zM52.6 210.6h1.1v1.1h-1.1zM56.6 212.1h1.1v1.1h-1.1zM70.8 228.7h1.1v1.1h-1.1zM73.4 226.4h1.1v1.1h-1.1zM48.0 198.2h1.1v1.1h-1.1zM53.3 214.2h1.1v1.1h-1.1zM50.4 210.4h1.1v1.1h-1.1zM52.3 210.9h1.1v1.1h-1.1zM41.4 204.2h1.1v1.1h-1.1zM49.7 213.4h1.1v1.1h-1.1zM65.4 228.4h1.1v1.1h-1.1zM48.8 208.7h1.1v1.1h-1.1zM46.1 215.4h1.1v1.1h-1.1zM32.3 233.4h1.1v1.1h-1.1zM44.0 226.6h1.1v1.1h-1.1zM71.6 225.9h1.1v1.1h-1.1zM69.0 229.4h1.1v1.1h-1.1zM42.5 233.8h1.1v1.1h-1.1zM52.9 210.8h1.1v1.1h-1.1zM50.2 212.2h1.1v1.1h-1.1zM73.5 224.6h1.1v1.1h-1.1zM44.8 225.0h1.1v1.1h-1.1zM72.5 236.4h1.1v1.1h-1.1zM47.4 213.4h1.1v1.1h-1.1zM31.6 202.4h1.1v1.1h-1.1zM36.5 236.3h1.1v1.1h-1.1zM44.3 211.4h1.1v1.1h-1.1zM37.1 224.1h1.1v1.1h-1.1zM60.0 207.1h1.1v1.1h-1.1zM69.2 226.1h1.1v1.1h-1.1zM44.1 204.8h1.1v1.1h-1.1zM71.0 233.1h1.1v1.1h-1.1zM49.4 216.2h1.1v1.1h-1.1zM71.3 228.4h1.1v1.1h-1.1zM71.3 230.2h1.1v1.1h-1.1zM71.8 229.1h1.1v1.1h-1.1zM70.9 229.9h1.1v1.1h-1.1zM42.1 198.0h1.1v1.1h-1.1zM72.5 233.1h1.1v1.1h-1.1zM55.2 210.5h1.1v1.1h-1.1zM38.3 203.2h1.1v1.1h-1.1zM66.0 224.9h1.1v1.1h-1.1zM33.4 201.0h1.1v1.1h-1.1zM54.8 215.9h1.1v1.1h-1.1zM59.5 224.6h1.1v1.1h-1.1zM48.7 210.7h1.1v1.1h-1.1zM43.4 206.6h1.1v1.1h-1.1zM43.6 204.9h1.1v1.1h-1.1zM49.6 214.6h1.1v1.1h-1.1zM47.5 201.4h1.1v1.1h-1.1zM56.1 215.9h1.1v1.1h-1.1zM69.3 228.5h1.1v1.1h-1.1zM60.3 211.3h1.1v1.1h-1.1zM47.8 198.6h1.1v1.1h-1.1zM59.4 219.4h1.1v1.1h-1.1zM55.8 212.2h1.1v1.1h-1.1zM46.0 202.6h1.1v1.1h-1.1zM55.2 209.4h1.1v1.1h-1.1zM69.5 226.6h1.1v1.1h-1.1zM36.1 202.9h1.1v1.1h-1.1zM53.7 212.6h1.1v1.1h-1.1zM46.0 208.9h1.1v1.1h-1.1zM38.9 206.0h1.1v1.1h-1.1zM37.9 230.2h1.1v1.1h-1.1zM40.7 200.3h1.1v1.1h-1.1zM39.7 197.0h1.1v1.1h-1.1zM64.5 213.8h1.1v1.1h-1.1zM64.1 210.3h1.1v1.1h-1.1zM37.9 194.9h1.1v1.1h-1.1zM38.6 206.5h1.1v1.1h-1.1zM42.6 206.3h1.1v1.1h-1.1zM53.8 203.0h1.1v1.1h-1.1zM48.7 212.5h1.1v1.1h-1.1zM44.4 208.0h1.1v1.1h-1.1zM72.4 229.6h1.1v1.1h-1.1zM50.1 235.9h1.1v1.1h-1.1zM72.8 212.4h1.1v1.1h-1.1zM53.8 214.8h1.1v1.1h-1.1zM49.9 210.9h1.1v1.1h-1.1zM67.5 224.7h1.1v1.1h-1.1zM39.1 203.4h1.1v1.1h-1.1zM71.9 221.5h1.1v1.1h-1.1zM66.5 226.7h1.1v1.1h-1.1zM64.3 231.8h1.1v1.1h-1.1zM40.2 202.7h1.1v1.1h-1.1zM47.0 216.5h1.1v1.1h-1.1zM46.5 214.2h1.1v1.1h-1.1zM69.1 231.8h1.1v1.1h-1.1zM57.4 212.6h1.1v1.1h-1.1zM58.9 209.4h1.1v1.1h-1.1zM57.9 216.5h1.1v1.1h-1.1zM54.3 211.0h1.1v1.1h-1.1zM68.7 231.9h1.1v1.1h-1.1z" fill="#b00000" fill-opacity="0.85"/>
<ellipse cx="53.8" cy="212.4" rx="8.8" ry="3.6" fill="#f00000" fill-opacity="0.9"/>
<rect x="30.25" y="191.15" width="62.8" height="48" fill="none" stroke="#555" stroke-width="1.1"/>
<ellipse cx="54.3" cy="212.3" rx="13.4" ry="6.6" transform="rotate(0 54.3 212.3)" fill="none" stroke="#444" stroke-width="0.9"/>
<rect x="62.6" y="220.6" width="15.8" height="18.6" fill="none" stroke="#444" stroke-width="0.9"/>
<text x="35.7" y="187.75" font-size="9.1" font-weight="bold" fill="#111" font-family="Liberation Sans, sans-serif">day 0</text>
<text x="68.9" y="210.9" font-size="7" font-weight="bold" fill="#111" font-family="Liberation Sans, sans-serif">65%</text>
<text x="80.0" y="231.7" font-size="7" font-weight="bold" fill="#111" font-family="Liberation Sans, sans-serif">14%</text>
<path d="M129.1 213.8h1.1v1.1h-1.1zM114.0 206.5h1.1v1.1h-1.1zM111.3 202.5h1.1v1.1h-1.1zM107.2 203.0h1.1v1.1h-1.1zM140.6 233.5h1.1v1.1h-1.1zM113.3 235.8h1.1v1.1h-1.1zM141.4 213.3h1.1v1.1h-1.1zM111.3 234.5h1.1v1.1h-1.1zM105.7 234.3h1.1v1.1h-1.1zM116.4 229.2h1.1v1.1h-1.1zM107.1 210.1h1.1v1.1h-1.1zM136.9 229.6h1.1v1.1h-1.1zM102.7 208.2h1.1v1.1h-1.1zM120.9 210.3h1.1v1.1h-1.1zM108.8 231.2h1.1v1.1h-1.1zM105.8 203.0h1.1v1.1h-1.1zM107.4 197.2h1.1v1.1h-1.1zM124.1 212.9h1.1v1.1h-1.1zM138.0 233.2h1.1v1.1h-1.1zM106.3 206.5h1.1v1.1h-1.1zM105.6 234.6h1.1v1.1h-1.1zM108.6 199.3h1.1v1.1h-1.1zM136.0 234.8h1.1v1.1h-1.1zM106.1 236.1h1.1v1.1h-1.1zM113.9 205.5h1.1v1.1h-1.1zM105.1 201.2h1.1v1.1h-1.1zM110.8 225.6h1.1v1.1h-1.1zM111.2 204.2h1.1v1.1h-1.1zM141.3 231.5h1.1v1.1h-1.1zM102.0 228.0h1.1v1.1h-1.1zM131.6 217.2h1.1v1.1h-1.1zM110.8 227.0h1.1v1.1h-1.1zM111.0 232.6h1.1v1.1h-1.1zM119.3 217.4h1.1v1.1h-1.1zM108.7 231.0h1.1v1.1h-1.1zM123.4 218.1h1.1v1.1h-1.1zM143.6 234.2h1.1v1.1h-1.1zM125.6 213.6h1.1v1.1h-1.1zM110.3 207.7h1.1v1.1h-1.1zM130.7 217.7h1.1v1.1h-1.1zM114.9 199.4h1.1v1.1h-1.1zM115.5 205.4h1.1v1.1h-1.1zM135.0 215.2h1.1v1.1h-1.1zM139.8 226.3h1.1v1.1h-1.1zM126.6 214.3h1.1v1.1h-1.1zM108.4 201.7h1.1v1.1h-1.1zM124.4 215.9h1.1v1.1h-1.1zM117.6 205.4h1.1v1.1h-1.1zM128.7 213.2h1.1v1.1h-1.1zM131.7 209.6h1.1v1.1h-1.1zM141.8 235.0h1.1v1.1h-1.1zM114.4 210.6h1.1v1.1h-1.1zM111.8 209.4h1.1v1.1h-1.1zM106.9 226.0h1.1v1.1h-1.1zM108.8 233.4h1.1v1.1h-1.1zM139.5 231.5h1.1v1.1h-1.1zM117.2 235.8h1.1v1.1h-1.1zM129.4 215.0h1.1v1.1h-1.1zM122.3 219.4h1.1v1.1h-1.1zM141.0 233.8h1.1v1.1h-1.1zM138.7 236.4h1.1v1.1h-1.1zM103.4 230.5h1.1v1.1h-1.1zM135.1 211.6h1.1v1.1h-1.1zM107.2 226.8h1.1v1.1h-1.1zM126.2 215.1h1.1v1.1h-1.1zM138.2 211.7h1.1v1.1h-1.1zM126.4 218.1h1.1v1.1h-1.1zM143.2 230.8h1.1v1.1h-1.1zM106.0 206.4h1.1v1.1h-1.1zM115.9 201.6h1.1v1.1h-1.1zM125.7 211.9h1.1v1.1h-1.1zM111.8 234.1h1.1v1.1h-1.1zM107.9 208.6h1.1v1.1h-1.1zM122.6 213.8h1.1v1.1h-1.1zM111.2 233.6h1.1v1.1h-1.1zM138.8 209.3h1.1v1.1h-1.1zM108.4 202.8h1.1v1.1h-1.1zM132.5 215.5h1.1v1.1h-1.1zM106.0 201.1h1.1v1.1h-1.1zM108.6 230.0h1.1v1.1h-1.1zM109.1 231.3h1.1v1.1h-1.1zM131.0 211.6h1.1v1.1h-1.1zM142.3 228.0h1.1v1.1h-1.1zM107.9 231.7h1.1v1.1h-1.1zM137.5 232.5h1.1v1.1h-1.1zM125.5 213.4h1.1v1.1h-1.1zM125.8 216.5h1.1v1.1h-1.1zM110.4 227.8h1.1v1.1h-1.1zM131.7 212.6h1.1v1.1h-1.1zM108.2 226.5h1.1v1.1h-1.1zM108.1 228.5h1.1v1.1h-1.1zM129.0 212.5h1.1v1.1h-1.1zM125.6 212.2h1.1v1.1h-1.1zM127.0 216.3h1.1v1.1h-1.1zM136.7 211.5h1.1v1.1h-1.1zM128.6 217.7h1.1v1.1h-1.1zM107.2 203.0h1.1v1.1h-1.1zM158.5 196.8h1.1v1.1h-1.1zM109.0 196.5h1.1v1.1h-1.1zM140.2 236.1h1.1v1.1h-1.1zM140.6 229.3h1.1v1.1h-1.1zM107.8 233.7h1.1v1.1h-1.1zM106.7 233.4h1.1v1.1h-1.1zM140.2 232.0h1.1v1.1h-1.1zM101.8 235.5h1.1v1.1h-1.1zM123.2 219.9h1.1v1.1h-1.1zM128.6 212.7h1.1v1.1h-1.1zM126.3 215.2h1.1v1.1h-1.1zM137.6 229.3h1.1v1.1h-1.1zM104.9 233.4h1.1v1.1h-1.1zM104.8 234.5h1.1v1.1h-1.1zM105.3 232.8h1.1v1.1h-1.1zM106.7 208.5h1.1v1.1h-1.1zM106.0 234.6h1.1v1.1h-1.1zM121.5 219.6h1.1v1.1h-1.1zM107.4 231.1h1.1v1.1h-1.1zM106.1 236.3h1.1v1.1h-1.1zM141.4 196.4h1.1v1.1h-1.1zM132.5 214.5h1.1v1.1h-1.1zM109.3 230.6h1.1v1.1h-1.1zM137.5 210.8h1.1v1.1h-1.1zM133.2 214.0h1.1v1.1h-1.1zM112.8 219.0h1.1v1.1h-1.1zM108.7 233.8h1.1v1.1h-1.1zM108.0 229.8h1.1v1.1h-1.1zM106.8 234.0h1.1v1.1h-1.1zM108.1 232.5h1.1v1.1h-1.1zM104.9 230.8h1.1v1.1h-1.1zM103.9 226.7h1.1v1.1h-1.1zM109.1 229.1h1.1v1.1h-1.1zM102.7 234.8h1.1v1.1h-1.1zM140.9 230.4h1.1v1.1h-1.1zM108.4 230.6h1.1v1.1h-1.1zM118.0 220.0h1.1v1.1h-1.1zM110.1 229.8h1.1v1.1h-1.1zM107.4 233.6h1.1v1.1h-1.1zM109.8 206.0h1.1v1.1h-1.1zM122.4 218.9h1.1v1.1h-1.1zM139.6 227.0h1.1v1.1h-1.1zM104.0 231.8h1.1v1.1h-1.1zM124.0 215.3h1.1v1.1h-1.1zM112.2 207.0h1.1v1.1h-1.1zM105.3 226.2h1.1v1.1h-1.1zM108.4 232.1h1.1v1.1h-1.1zM113.6 196.8h1.1v1.1h-1.1zM123.9 214.4h1.1v1.1h-1.1zM135.9 206.0h1.1v1.1h-1.1zM143.9 233.1h1.1v1.1h-1.1zM138.4 226.0h1.1v1.1h-1.1zM106.1 229.1h1.1v1.1h-1.1zM108.6 234.9h1.1v1.1h-1.1zM109.2 205.1h1.1v1.1h-1.1zM117.6 200.2h1.1v1.1h-1.1zM112.4 202.6h1.1v1.1h-1.1zM129.4 218.5h1.1v1.1h-1.1zM110.3 237.7h1.1v1.1h-1.1zM106.3 235.2h1.1v1.1h-1.1zM107.0 222.9h1.1v1.1h-1.1zM106.1 234.0h1.1v1.1h-1.1zM107.4 230.8h1.1v1.1h-1.1zM111.7 234.8h1.1v1.1h-1.1zM133.0 212.5h1.1v1.1h-1.1zM111.1 207.9h1.1v1.1h-1.1zM105.9 231.8h1.1v1.1h-1.1zM109.3 230.6h1.1v1.1h-1.1zM127.0 212.0h1.1v1.1h-1.1zM131.2 214.4h1.1v1.1h-1.1zM109.1 228.1h1.1v1.1h-1.1zM109.1 207.8h1.1v1.1h-1.1zM141.7 228.4h1.1v1.1h-1.1zM120.9 210.5h1.1v1.1h-1.1zM128.2 215.9h1.1v1.1h-1.1zM111.5 205.7h1.1v1.1h-1.1zM136.8 232.9h1.1v1.1h-1.1zM108.3 203.2h1.1v1.1h-1.1zM140.3 233.5h1.1v1.1h-1.1zM104.2 231.7h1.1v1.1h-1.1zM107.5 235.5h1.1v1.1h-1.1zM131.3 214.2h1.1v1.1h-1.1zM112.7 233.0h1.1v1.1h-1.1zM106.7 201.1h1.1v1.1h-1.1zM114.7 235.2h1.1v1.1h-1.1zM140.2 236.6h1.1v1.1h-1.1zM113.0 225.2h1.1v1.1h-1.1zM107.4 204.1h1.1v1.1h-1.1zM109.8 202.7h1.1v1.1h-1.1zM134.3 213.4h1.1v1.1h-1.1zM141.7 230.8h1.1v1.1h-1.1zM110.4 233.8h1.1v1.1h-1.1zM103.0 206.2h1.1v1.1h-1.1zM106.1 230.4h1.1v1.1h-1.1zM108.4 236.6h1.1v1.1h-1.1zM104.4 237.2h1.1v1.1h-1.1zM143.6 223.9h1.1v1.1h-1.1zM127.3 213.2h1.1v1.1h-1.1zM142.1 231.4h1.1v1.1h-1.1zM107.0 235.1h1.1v1.1h-1.1zM107.0 226.5h1.1v1.1h-1.1zM113.2 230.0h1.1v1.1h-1.1zM142.8 228.1h1.1v1.1h-1.1zM115.8 206.6h1.1v1.1h-1.1zM142.7 227.3h1.1v1.1h-1.1zM104.9 232.1h1.1v1.1h-1.1zM131.0 208.9h1.1v1.1h-1.1zM103.8 206.4h1.1v1.1h-1.1zM133.6 209.7h1.1v1.1h-1.1zM109.8 229.8h1.1v1.1h-1.1zM142.2 220.1h1.1v1.1h-1.1zM135.5 213.7h1.1v1.1h-1.1zM111.8 227.7h1.1v1.1h-1.1zM103.8 232.5h1.1v1.1h-1.1zM133.4 212.7h1.1v1.1h-1.1zM135.0 211.6h1.1v1.1h-1.1zM106.8 232.5h1.1v1.1h-1.1zM140.0 234.8h1.1v1.1h-1.1zM123.9 215.0h1.1v1.1h-1.1zM109.6 229.5h1.1v1.1h-1.1zM106.0 210.1h1.1v1.1h-1.1zM107.1 200.4h1.1v1.1h-1.1zM111.5 205.6h1.1v1.1h-1.1zM112.1 236.6h1.1v1.1h-1.1zM126.6 215.0h1.1v1.1h-1.1zM124.1 215.8h1.1v1.1h-1.1zM106.0 231.9h1.1v1.1h-1.1zM116.6 207.6h1.1v1.1h-1.1zM124.3 215.9h1.1v1.1h-1.1zM135.0 215.2h1.1v1.1h-1.1zM126.5 217.5h1.1v1.1h-1.1zM140.8 227.6h1.1v1.1h-1.1zM128.8 214.5h1.1v1.1h-1.1zM137.5 214.0h1.1v1.1h-1.1zM125.4 213.3h1.1v1.1h-1.1zM130.6 214.1h1.1v1.1h-1.1zM110.7 205.4h1.1v1.1h-1.1zM140.4 226.7h1.1v1.1h-1.1zM124.1 216.0h1.1v1.1h-1.1zM141.4 225.0h1.1v1.1h-1.1zM115.5 229.5h1.1v1.1h-1.1zM108.4 206.2h1.1v1.1h-1.1zM139.1 210.3h1.1v1.1h-1.1zM140.5 232.9h1.1v1.1h-1.1zM111.0 230.3h1.1v1.1h-1.1zM133.3 212.8h1.1v1.1h-1.1zM133.6 215.5h1.1v1.1h-1.1zM124.3 214.6h1.1v1.1h-1.1zM131.5 213.1h1.1v1.1h-1.1zM110.8 202.9h1.1v1.1h-1.1zM123.5 213.5h1.1v1.1h-1.1zM101.8 235.1h1.1v1.1h-1.1zM108.7 228.9h1.1v1.1h-1.1zM115.8 202.9h1.1v1.1h-1.1zM141.6 228.7h1.1v1.1h-1.1zM102.1 211.5h1.1v1.1h-1.1zM143.5 230.4h1.1v1.1h-1.1zM116.9 202.8h1.1v1.1h-1.1zM131.2 209.4h1.1v1.1h-1.1zM133.9 213.1h1.1v1.1h-1.1zM131.6 214.2h1.1v1.1h-1.1zM112.5 210.1h1.1v1.1h-1.1zM113.7 237.2h1.1v1.1h-1.1zM134.1 216.8h1.1v1.1h-1.1zM114.6 194.9h1.1v1.1h-1.1zM103.5 207.3h1.1v1.1h-1.1zM139.8 224.1h1.1v1.1h-1.1zM103.9 229.0h1.1v1.1h-1.1zM108.6 236.7h1.1v1.1h-1.1zM108.3 229.4h1.1v1.1h-1.1zM111.0 228.7h1.1v1.1h-1.1zM140.9 229.3h1.1v1.1h-1.1zM141.7 235.3h1.1v1.1h-1.1zM130.4 210.6h1.1v1.1h-1.1zM103.4 233.1h1.1v1.1h-1.1zM129.7 214.9h1.1v1.1h-1.1zM126.0 214.4h1.1v1.1h-1.1zM141.1 213.8h1.1v1.1h-1.1zM106.3 229.0h1.1v1.1h-1.1zM108.1 204.2h1.1v1.1h-1.1zM139.3 237.4h1.1v1.1h-1.1zM143.5 231.7h1.1v1.1h-1.1zM110.9 206.6h1.1v1.1h-1.1zM129.2 214.7h1.1v1.1h-1.1zM138.4 231.8h1.1v1.1h-1.1zM136.1 215.1h1.1v1.1h-1.1zM106.7 196.2h1.1v1.1h-1.1zM133.4 210.7h1.1v1.1h-1.1zM142.3 234.7h1.1v1.1h-1.1zM103.4 236.3h1.1v1.1h-1.1zM131.5 216.4h1.1v1.1h-1.1zM139.2 231.6h1.1v1.1h-1.1zM141.9 209.0h1.1v1.1h-1.1zM112.0 230.5h1.1v1.1h-1.1zM109.8 231.4h1.1v1.1h-1.1zM109.5 232.0h1.1v1.1h-1.1zM105.6 200.9h1.1v1.1h-1.1zM134.6 211.6h1.1v1.1h-1.1zM157.5 195.4h1.1v1.1h-1.1zM113.0 197.9h1.1v1.1h-1.1zM105.6 229.2h1.1v1.1h-1.1zM140.6 228.9h1.1v1.1h-1.1zM125.9 217.7h1.1v1.1h-1.1zM111.7 207.1h1.1v1.1h-1.1zM111.7 232.3h1.1v1.1h-1.1zM109.6 232.7h1.1v1.1h-1.1zM106.3 231.8h1.1v1.1h-1.1zM105.3 199.1h1.1v1.1h-1.1zM113.1 227.3h1.1v1.1h-1.1zM141.6 233.7h1.1v1.1h-1.1zM118.7 217.8h1.1v1.1h-1.1zM134.7 211.6h1.1v1.1h-1.1zM115.0 205.0h1.1v1.1h-1.1zM135.0 214.6h1.1v1.1h-1.1zM109.0 236.1h1.1v1.1h-1.1zM115.3 207.2h1.1v1.1h-1.1zM137.4 226.9h1.1v1.1h-1.1zM111.5 233.4h1.1v1.1h-1.1zM113.7 235.4h1.1v1.1h-1.1zM103.2 210.9h1.1v1.1h-1.1zM128.3 213.5h1.1v1.1h-1.1zM112.8 228.4h1.1v1.1h-1.1zM108.2 232.5h1.1v1.1h-1.1zM128.4 212.0h1.1v1.1h-1.1zM133.9 205.7h1.1v1.1h-1.1zM108.7 235.8h1.1v1.1h-1.1zM126.6 211.1h1.1v1.1h-1.1zM112.9 204.5h1.1v1.1h-1.1zM135.7 211.8h1.1v1.1h-1.1zM108.9 232.9h1.1v1.1h-1.1zM103.3 205.0h1.1v1.1h-1.1zM105.8 204.6h1.1v1.1h-1.1zM102.7 200.0h1.1v1.1h-1.1zM146.3 223.2h1.1v1.1h-1.1zM112.4 199.0h1.1v1.1h-1.1zM144.1 236.1h1.1v1.1h-1.1zM130.6 212.9h1.1v1.1h-1.1zM131.7 211.8h1.1v1.1h-1.1zM107.4 233.7h1.1v1.1h-1.1zM139.3 236.5h1.1v1.1h-1.1zM105.5 229.0h1.1v1.1h-1.1zM135.4 213.5h1.1v1.1h-1.1zM115.7 232.1h1.1v1.1h-1.1zM110.2 232.7h1.1v1.1h-1.1zM110.8 236.0h1.1v1.1h-1.1zM118.9 203.5h1.1v1.1h-1.1zM106.3 226.6h1.1v1.1h-1.1zM108.9 230.1h1.1v1.1h-1.1zM112.4 208.1h1.1v1.1h-1.1zM128.0 215.2h1.1v1.1h-1.1zM109.2 226.0h1.1v1.1h-1.1zM113.5 205.9h1.1v1.1h-1.1zM105.9 236.0h1.1v1.1h-1.1zM126.6 215.7h1.1v1.1h-1.1zM126.7 214.6h1.1v1.1h-1.1zM107.6 232.5h1.1v1.1h-1.1zM140.0 232.1h1.1v1.1h-1.1zM110.9 231.6h1.1v1.1h-1.1zM139.0 234.2h1.1v1.1h-1.1zM105.0 236.1h1.1v1.1h-1.1zM112.5 206.7h1.1v1.1h-1.1zM124.8 214.5h1.1v1.1h-1.1zM103.2 232.4h1.1v1.1h-1.1zM105.9 233.0h1.1v1.1h-1.1zM134.2 204.5h1.1v1.1h-1.1zM116.8 231.5h1.1v1.1h-1.1zM112.7 199.2h1.1v1.1h-1.1zM105.1 231.8h1.1v1.1h-1.1zM134.6 212.2h1.1v1.1h-1.1zM125.4 209.8h1.1v1.1h-1.1zM110.8 230.3h1.1v1.1h-1.1zM109.5 204.8h1.1v1.1h-1.1zM143.0 207.4h1.1v1.1h-1.1zM113.4 204.3h1.1v1.1h-1.1zM104.4 232.2h1.1v1.1h-1.1zM115.0 233.3h1.1v1.1h-1.1zM127.9 209.2h1.1v1.1h-1.1zM108.8 232.2h1.1v1.1h-1.1zM101.8 230.8h1.1v1.1h-1.1zM102.2 234.2h1.1v1.1h-1.1zM138.4 234.5h1.1v1.1h-1.1zM130.0 205.0h1.1v1.1h-1.1zM108.9 231.3h1.1v1.1h-1.1zM128.9 212.0h1.1v1.1h-1.1zM131.8 213.6h1.1v1.1h-1.1zM136.7 231.6h1.1v1.1h-1.1zM120.1 213.9h1.1v1.1h-1.1zM115.5 235.3h1.1v1.1h-1.1zM108.8 203.1h1.1v1.1h-1.1zM115.8 216.8h1.1v1.1h-1.1zM109.3 232.3h1.1v1.1h-1.1zM110.4 205.1h1.1v1.1h-1.1zM134.8 212.5h1.1v1.1h-1.1zM126.7 211.6h1.1v1.1h-1.1zM110.6 235.3h1.1v1.1h-1.1zM125.7 214.7h1.1v1.1h-1.1zM104.9 227.7h1.1v1.1h-1.1zM137.6 210.3h1.1v1.1h-1.1zM135.3 212.3h1.1v1.1h-1.1zM110.3 235.2h1.1v1.1h-1.1zM110.2 231.2h1.1v1.1h-1.1zM139.7 212.5h1.1v1.1h-1.1zM111.1 198.5h1.1v1.1h-1.1zM111.8 205.5h1.1v1.1h-1.1zM141.2 223.8h1.1v1.1h-1.1zM107.5 233.4h1.1v1.1h-1.1zM108.0 232.3h1.1v1.1h-1.1zM110.7 207.9h1.1v1.1h-1.1zM145.1 229.4h1.1v1.1h-1.1zM102.5 208.0h1.1v1.1h-1.1zM120.3 216.5h1.1v1.1h-1.1zM129.0 216.5h1.1v1.1h-1.1zM139.6 233.9h1.1v1.1h-1.1zM125.6 213.9h1.1v1.1h-1.1zM106.5 211.6h1.1v1.1h-1.1zM126.6 213.4h1.1v1.1h-1.1zM110.7 228.5h1.1v1.1h-1.1zM141.0 229.1h1.1v1.1h-1.1zM126.4 214.0h1.1v1.1h-1.1zM143.3 214.5h1.1v1.1h-1.1zM108.3 199.6h1.1v1.1h-1.1zM124.9 215.0h1.1v1.1h-1.1zM136.7 232.4h1.1v1.1h-1.1zM111.2 205.6h1.1v1.1h-1.1zM144.8 233.6h1.1v1.1h-1.1zM141.2 234.4h1.1v1.1h-1.1zM112.1 234.8h1.1v1.1h-1.1zM108.1 228.4h1.1v1.1h-1.1zM142.5 225.6h1.1v1.1h-1.1zM108.0 208.3h1.1v1.1h-1.1zM108.1 237.3h1.1v1.1h-1.1zM105.7 231.8h1.1v1.1h-1.1zM141.7 210.8h1.1v1.1h-1.1zM113.9 206.8h1.1v1.1h-1.1zM111.2 231.9h1.1v1.1h-1.1zM108.0 208.2h1.1v1.1h-1.1zM119.8 204.1h1.1v1.1h-1.1zM104.6 228.5h1.1v1.1h-1.1zM111.1 207.8h1.1v1.1h-1.1zM139.4 227.0h1.1v1.1h-1.1zM124.1 217.8h1.1v1.1h-1.1zM123.5 217.9h1.1v1.1h-1.1zM112.0 200.0h1.1v1.1h-1.1zM139.8 233.1h1.1v1.1h-1.1zM106.9 227.6h1.1v1.1h-1.1zM106.6 207.7h1.1v1.1h-1.1zM132.1 209.2h1.1v1.1h-1.1zM138.3 211.0h1.1v1.1h-1.1zM143.0 232.6h1.1v1.1h-1.1zM139.4 230.0h1.1v1.1h-1.1zM108.1 230.8h1.1v1.1h-1.1zM124.3 212.0h1.1v1.1h-1.1zM112.4 230.8h1.1v1.1h-1.1zM142.9 224.7h1.1v1.1h-1.1zM106.1 207.0h1.1v1.1h-1.1zM131.5 212.6h1.1v1.1h-1.1zM110.8 232.2h1.1v1.1h-1.1zM138.6 229.8h1.1v1.1h-1.1zM138.6 232.8h1.1v1.1h-1.1zM107.7 230.1h1.1v1.1h-1.1zM111.0 231.3h1.1v1.1h-1.1zM110.2 206.5h1.1v1.1h-1.1zM141.9 208.8h1.1v1.1h-1.1zM139.0 233.8h1.1v1.1h-1.1zM124.7 214.8h1.1v1.1h-1.1zM139.2 200.5h1.1v1.1h-1.1zM105.8 231.4h1.1v1.1h-1.1zM123.4 215.2h1.1v1.1h-1.1zM132.2 211.2h1.1v1.1h-1.1zM119.4 201.4h1.1v1.1h-1.1zM116.4 232.6h1.1v1.1h-1.1zM108.8 202.5h1.1v1.1h-1.1zM109.7 208.7h1.1v1.1h-1.1zM118.8 219.9h1.1v1.1h-1.1zM128.7 212.2h1.1v1.1h-1.1zM108.4 230.4h1.1v1.1h-1.1zM112.5 204.6h1.1v1.1h-1.1zM127.3 215.5h1.1v1.1h-1.1zM112.5 235.1h1.1v1.1h-1.1zM105.8 228.2h1.1v1.1h-1.1zM109.6 201.7h1.1v1.1h-1.1zM107.4 231.4h1.1v1.1h-1.1zM104.6 207.2h1.1v1.1h-1.1zM106.3 231.9h1.1v1.1h-1.1zM137.9 234.1h1.1v1.1h-1.1zM108.3 234.2h1.1v1.1h-1.1zM104.0 235.7h1.1v1.1h-1.1zM109.5 201.8h1.1v1.1h-1.1zM112.7 200.7h1.1v1.1h-1.1zM111.9 206.7h1.1v1.1h-1.1zM104.5 213.1h1.1v1.1h-1.1zM133.2 214.1h1.1v1.1h-1.1zM138.3 231.7h1.1v1.1h-1.1zM125.1 217.3h1.1v1.1h-1.1zM106.0 205.5h1.1v1.1h-1.1zM109.8 208.9h1.1v1.1h-1.1zM140.2 228.9h1.1v1.1h-1.1zM118.7 207.1h1.1v1.1h-1.1zM132.8 210.7h1.1v1.1h-1.1zM138.5 228.7h1.1v1.1h-1.1zM139.9 211.0h1.1v1.1h-1.1zM132.4 213.2h1.1v1.1h-1.1zM120.4 217.6h1.1v1.1h-1.1zM108.8 235.4h1.1v1.1h-1.1zM141.8 231.2h1.1v1.1h-1.1zM125.3 215.7h1.1v1.1h-1.1zM104.3 225.9h1.1v1.1h-1.1zM107.9 232.1h1.1v1.1h-1.1zM141.8 227.9h1.1v1.1h-1.1zM111.4 205.8h1.1v1.1h-1.1zM118.4 202.0h1.1v1.1h-1.1zM138.4 233.0h1.1v1.1h-1.1zM113.5 210.1h1.1v1.1h-1.1zM137.1 213.4h1.1v1.1h-1.1zM107.9 203.9h1.1v1.1h-1.1zM108.9 227.2h1.1v1.1h-1.1zM105.3 207.0h1.1v1.1h-1.1zM109.5 202.2h1.1v1.1h-1.1zM126.0 212.3h1.1v1.1h-1.1zM139.8 209.2h1.1v1.1h-1.1zM112.4 205.4h1.1v1.1h-1.1zM140.5 225.8h1.1v1.1h-1.1zM128.2 212.5h1.1v1.1h-1.1zM135.7 230.3h1.1v1.1h-1.1zM143.6 230.8h1.1v1.1h-1.1zM105.3 227.7h1.1v1.1h-1.1zM108.1 234.0h1.1v1.1h-1.1zM113.5 210.3h1.1v1.1h-1.1zM109.8 208.8h1.1v1.1h-1.1zM104.2 231.8h1.1v1.1h-1.1zM108.6 236.6h1.1v1.1h-1.1zM159.8 202.1h1.1v1.1h-1.1zM109.9 232.3h1.1v1.1h-1.1zM130.2 210.6h1.1v1.1h-1.1zM120.2 214.5h1.1v1.1h-1.1zM108.2 233.4h1.1v1.1h-1.1zM135.7 217.6h1.1v1.1h-1.1zM108.8 211.6h1.1v1.1h-1.1zM140.5 228.8h1.1v1.1h-1.1zM130.4 211.5h1.1v1.1h-1.1zM146.8 236.1h1.1v1.1h-1.1zM110.2 228.7h1.1v1.1h-1.1zM104.3 233.3h1.1v1.1h-1.1zM127.6 210.3h1.1v1.1h-1.1zM111.8 207.1h1.1v1.1h-1.1zM106.5 204.3h1.1v1.1h-1.1zM121.6 216.1h1.1v1.1h-1.1zM127.3 212.9h1.1v1.1h-1.1zM139.6 229.7h1.1v1.1h-1.1zM109.4 229.1h1.1v1.1h-1.1zM114.8 232.9h1.1v1.1h-1.1zM106.9 229.5h1.1v1.1h-1.1zM106.1 208.9h1.1v1.1h-1.1zM114.5 234.6h1.1v1.1h-1.1zM107.6 196.4h1.1v1.1h-1.1zM114.3 205.5h1.1v1.1h-1.1zM120.7 208.9h1.1v1.1h-1.1zM103.7 203.3h1.1v1.1h-1.1zM126.4 214.6h1.1v1.1h-1.1zM111.2 233.6h1.1v1.1h-1.1zM142.5 226.5h1.1v1.1h-1.1zM125.8 212.1h1.1v1.1h-1.1zM112.5 237.7h1.1v1.1h-1.1zM129.9 217.5h1.1v1.1h-1.1zM111.3 231.4h1.1v1.1h-1.1zM136.3 234.5h1.1v1.1h-1.1zM111.4 231.2h1.1v1.1h-1.1zM110.8 207.7h1.1v1.1h-1.1zM108.4 203.9h1.1v1.1h-1.1zM131.2 213.2h1.1v1.1h-1.1zM116.5 209.0h1.1v1.1h-1.1zM106.5 206.9h1.1v1.1h-1.1zM103.5 231.2h1.1v1.1h-1.1zM141.4 233.2h1.1v1.1h-1.1zM106.6 205.4h1.1v1.1h-1.1zM122.8 217.5h1.1v1.1h-1.1zM135.3 229.1h1.1v1.1h-1.1zM134.3 209.8h1.1v1.1h-1.1zM129.1 212.4h1.1v1.1h-1.1zM117.1 206.1h1.1v1.1h-1.1zM107.6 237.0h1.1v1.1h-1.1zM108.8 200.8h1.1v1.1h-1.1zM140.7 229.5h1.1v1.1h-1.1zM110.9 206.2h1.1v1.1h-1.1zM139.8 226.7h1.1v1.1h-1.1zM141.3 230.7h1.1v1.1h-1.1zM141.2 230.7h1.1v1.1h-1.1zM125.1 216.8h1.1v1.1h-1.1zM128.8 213.7h1.1v1.1h-1.1zM109.5 231.1h1.1v1.1h-1.1zM110.8 230.1h1.1v1.1h-1.1zM108.9 229.0h1.1v1.1h-1.1zM138.5 233.9h1.1v1.1h-1.1zM141.5 226.0h1.1v1.1h-1.1zM128.9 214.0h1.1v1.1h-1.1zM136.9 231.3h1.1v1.1h-1.1zM121.0 214.0h1.1v1.1h-1.1zM111.8 203.7h1.1v1.1h-1.1zM104.2 212.1h1.1v1.1h-1.1zM130.1 212.3h1.1v1.1h-1.1zM110.5 198.0h1.1v1.1h-1.1zM108.5 199.3h1.1v1.1h-1.1zM125.7 210.4h1.1v1.1h-1.1zM104.8 205.5h1.1v1.1h-1.1zM107.2 207.5h1.1v1.1h-1.1zM109.5 227.4h1.1v1.1h-1.1zM124.3 215.2h1.1v1.1h-1.1zM139.0 230.8h1.1v1.1h-1.1zM103.5 210.9h1.1v1.1h-1.1zM104.2 227.0h1.1v1.1h-1.1zM130.3 210.8h1.1v1.1h-1.1zM119.8 213.8h1.1v1.1h-1.1zM130.0 211.7h1.1v1.1h-1.1zM103.1 231.1h1.1v1.1h-1.1zM142.4 237.5h1.1v1.1h-1.1zM107.5 203.8h1.1v1.1h-1.1zM137.7 230.5h1.1v1.1h-1.1zM122.7 215.2h1.1v1.1h-1.1zM140.9 224.8h1.1v1.1h-1.1zM142.1 228.1h1.1v1.1h-1.1zM111.3 233.3h1.1v1.1h-1.1zM141.2 233.7h1.1v1.1h-1.1zM108.5 233.5h1.1v1.1h-1.1zM129.7 216.8h1.1v1.1h-1.1zM139.3 232.3h1.1v1.1h-1.1zM108.7 230.5h1.1v1.1h-1.1zM107.1 229.2h1.1v1.1h-1.1zM124.2 218.3h1.1v1.1h-1.1zM126.8 211.8h1.1v1.1h-1.1zM115.1 205.2h1.1v1.1h-1.1zM126.8 215.9h1.1v1.1h-1.1zM138.5 229.6h1.1v1.1h-1.1zM133.7 217.2h1.1v1.1h-1.1zM105.9 216.6h1.1v1.1h-1.1zM130.6 216.5h1.1v1.1h-1.1zM139.4 232.3h1.1v1.1h-1.1zM141.4 232.7h1.1v1.1h-1.1zM137.9 232.3h1.1v1.1h-1.1zM121.4 220.2h1.1v1.1h-1.1zM119.1 199.9h1.1v1.1h-1.1zM106.3 236.3h1.1v1.1h-1.1zM106.5 231.0h1.1v1.1h-1.1zM116.8 207.4h1.1v1.1h-1.1zM109.8 203.2h1.1v1.1h-1.1zM106.5 235.4h1.1v1.1h-1.1zM110.8 237.1h1.1v1.1h-1.1zM109.6 228.1h1.1v1.1h-1.1zM143.8 235.0h1.1v1.1h-1.1zM108.8 231.4h1.1v1.1h-1.1zM111.4 234.0h1.1v1.1h-1.1zM108.9 236.5h1.1v1.1h-1.1zM102.5 236.3h1.1v1.1h-1.1zM139.4 234.1h1.1v1.1h-1.1zM140.5 234.8h1.1v1.1h-1.1zM139.8 235.6h1.1v1.1h-1.1zM142.7 217.4h1.1v1.1h-1.1zM110.8 202.3h1.1v1.1h-1.1zM126.7 210.6h1.1v1.1h-1.1zM112.5 205.6h1.1v1.1h-1.1zM132.7 213.9h1.1v1.1h-1.1zM126.1 211.8h1.1v1.1h-1.1zM110.2 233.8h1.1v1.1h-1.1zM134.7 215.0h1.1v1.1h-1.1zM110.6 201.3h1.1v1.1h-1.1zM141.0 236.1h1.1v1.1h-1.1zM129.4 215.9h1.1v1.1h-1.1zM137.9 209.6h1.1v1.1h-1.1zM112.1 229.7h1.1v1.1h-1.1zM103.8 210.6h1.1v1.1h-1.1zM139.3 223.8h1.1v1.1h-1.1zM140.6 233.3h1.1v1.1h-1.1zM138.7 228.8h1.1v1.1h-1.1zM129.5 211.9h1.1v1.1h-1.1zM125.9 215.4h1.1v1.1h-1.1zM109.0 199.2h1.1v1.1h-1.1zM138.3 236.0h1.1v1.1h-1.1zM117.9 210.4h1.1v1.1h-1.1zM138.6 212.2h1.1v1.1h-1.1zM108.4 236.4h1.1v1.1h-1.1zM104.2 235.8h1.1v1.1h-1.1zM135.6 209.1h1.1v1.1h-1.1zM129.8 215.2h1.1v1.1h-1.1zM105.1 225.2h1.1v1.1h-1.1zM129.3 216.4h1.1v1.1h-1.1zM109.6 208.3h1.1v1.1h-1.1zM127.2 212.7h1.1v1.1h-1.1zM112.2 230.1h1.1v1.1h-1.1zM105.2 207.1h1.1v1.1h-1.1zM134.0 210.0h1.1v1.1h-1.1zM128.5 213.2h1.1v1.1h-1.1zM123.3 219.1h1.1v1.1h-1.1zM136.1 210.3h1.1v1.1h-1.1zM117.6 203.4h1.1v1.1h-1.1zM107.0 230.2h1.1v1.1h-1.1zM141.5 222.7h1.1v1.1h-1.1zM141.0 229.6h1.1v1.1h-1.1zM103.0 234.0h1.1v1.1h-1.1zM109.6 230.9h1.1v1.1h-1.1zM134.3 235.2h1.1v1.1h-1.1zM110.4 230.3h1.1v1.1h-1.1zM109.6 233.8h1.1v1.1h-1.1zM123.7 216.7h1.1v1.1h-1.1zM130.5 213.7h1.1v1.1h-1.1zM117.0 235.4h1.1v1.1h-1.1zM112.6 207.6h1.1v1.1h-1.1zM111.7 229.7h1.1v1.1h-1.1zM135.5 212.8h1.1v1.1h-1.1zM124.5 217.6h1.1v1.1h-1.1zM105.0 233.5h1.1v1.1h-1.1zM128.4 220.4h1.1v1.1h-1.1zM113.3 205.1h1.1v1.1h-1.1zM108.7 236.5h1.1v1.1h-1.1zM108.2 233.7h1.1v1.1h-1.1zM114.8 202.6h1.1v1.1h-1.1zM104.5 231.8h1.1v1.1h-1.1zM113.3 234.9h1.1v1.1h-1.1zM122.6 219.4h1.1v1.1h-1.1zM106.6 234.6h1.1v1.1h-1.1zM106.1 236.9h1.1v1.1h-1.1zM129.2 211.9h1.1v1.1h-1.1zM138.8 226.3h1.1v1.1h-1.1zM135.0 212.9h1.1v1.1h-1.1zM140.0 232.3h1.1v1.1h-1.1zM112.2 209.1h1.1v1.1h-1.1zM115.9 206.0h1.1v1.1h-1.1zM109.7 232.8h1.1v1.1h-1.1zM115.5 213.6h1.1v1.1h-1.1zM110.5 208.7h1.1v1.1h-1.1zM104.8 234.1h1.1v1.1h-1.1zM128.6 212.1h1.1v1.1h-1.1zM106.0 231.0h1.1v1.1h-1.1zM110.1 236.8h1.1v1.1h-1.1zM105.4 225.8h1.1v1.1h-1.1zM128.3 219.2h1.1v1.1h-1.1zM143.4 229.2h1.1v1.1h-1.1zM139.9 233.0h1.1v1.1h-1.1zM114.8 199.7h1.1v1.1h-1.1zM140.2 234.1h1.1v1.1h-1.1zM106.8 230.4h1.1v1.1h-1.1zM135.8 207.9h1.1v1.1h-1.1zM127.8 216.3h1.1v1.1h-1.1zM128.6 213.0h1.1v1.1h-1.1zM128.5 214.3h1.1v1.1h-1.1zM133.4 212.8h1.1v1.1h-1.1zM105.2 231.6h1.1v1.1h-1.1zM106.4 230.7h1.1v1.1h-1.1zM132.8 211.8h1.1v1.1h-1.1zM117.6 214.5h1.1v1.1h-1.1zM140.4 234.2h1.1v1.1h-1.1zM124.3 214.8h1.1v1.1h-1.1zM136.4 214.0h1.1v1.1h-1.1zM105.1 232.8h1.1v1.1h-1.1zM143.3 233.5h1.1v1.1h-1.1zM130.4 212.3h1.1v1.1h-1.1zM116.9 231.1h1.1v1.1h-1.1zM108.2 202.7h1.1v1.1h-1.1zM111.0 206.3h1.1v1.1h-1.1zM110.3 228.7h1.1v1.1h-1.1zM137.8 210.5h1.1v1.1h-1.1zM105.0 233.0h1.1v1.1h-1.1zM131.5 208.9h1.1v1.1h-1.1zM141.2 233.1h1.1v1.1h-1.1zM107.0 201.1h1.1v1.1h-1.1zM110.6 236.2h1.1v1.1h-1.1zM138.7 229.4h1.1v1.1h-1.1zM102.1 209.0h1.1v1.1h-1.1zM128.3 214.9h1.1v1.1h-1.1zM139.1 233.3h1.1v1.1h-1.1zM125.2 218.8h1.1v1.1h-1.1zM143.3 232.7h1.1v1.1h-1.1zM115.8 205.0h1.1v1.1h-1.1zM108.4 201.8h1.1v1.1h-1.1zM109.3 233.8h1.1v1.1h-1.1zM106.2 231.7h1.1v1.1h-1.1zM135.5 210.4h1.1v1.1h-1.1zM146.2 236.4h1.1v1.1h-1.1zM103.6 236.5h1.1v1.1h-1.1zM126.5 212.8h1.1v1.1h-1.1zM143.9 224.9h1.1v1.1h-1.1zM107.2 208.7h1.1v1.1h-1.1zM109.4 236.1h1.1v1.1h-1.1zM108.3 228.6h1.1v1.1h-1.1zM135.9 208.4h1.1v1.1h-1.1zM141.6 237.1h1.1v1.1h-1.1zM108.2 205.7h1.1v1.1h-1.1zM110.4 212.9h1.1v1.1h-1.1zM138.9 224.1h1.1v1.1h-1.1zM141.0 222.0h1.1v1.1h-1.1zM137.1 215.6h1.1v1.1h-1.1zM111.3 210.7h1.1v1.1h-1.1zM110.7 233.2h1.1v1.1h-1.1zM108.6 232.4h1.1v1.1h-1.1zM111.3 228.0h1.1v1.1h-1.1zM106.5 230.5h1.1v1.1h-1.1zM129.4 214.5h1.1v1.1h-1.1zM141.1 232.9h1.1v1.1h-1.1zM138.5 209.3h1.1v1.1h-1.1zM104.7 235.2h1.1v1.1h-1.1zM123.1 219.0h1.1v1.1h-1.1zM131.5 213.3h1.1v1.1h-1.1zM107.4 232.5h1.1v1.1h-1.1zM112.2 233.2h1.1v1.1h-1.1zM120.6 214.3h1.1v1.1h-1.1zM109.4 231.7h1.1v1.1h-1.1zM111.2 231.9h1.1v1.1h-1.1zM108.4 202.9h1.1v1.1h-1.1zM102.3 229.3h1.1v1.1h-1.1zM107.3 236.2h1.1v1.1h-1.1zM125.8 213.7h1.1v1.1h-1.1zM130.5 214.3h1.1v1.1h-1.1zM112.8 235.1h1.1v1.1h-1.1zM103.7 233.9h1.1v1.1h-1.1zM108.5 232.8h1.1v1.1h-1.1zM109.4 233.0h1.1v1.1h-1.1zM124.5 214.3h1.1v1.1h-1.1zM129.0 214.3h1.1v1.1h-1.1zM105.9 232.0h1.1v1.1h-1.1zM124.1 212.8h1.1v1.1h-1.1zM114.1 205.1h1.1v1.1h-1.1zM107.1 235.7h1.1v1.1h-1.1zM104.6 231.7h1.1v1.1h-1.1zM129.7 212.5h1.1v1.1h-1.1zM108.1 205.3h1.1v1.1h-1.1zM108.2 207.2h1.1v1.1h-1.1zM126.9 215.1h1.1v1.1h-1.1zM133.3 211.1h1.1v1.1h-1.1zM116.3 224.0h1.1v1.1h-1.1zM110.3 203.1h1.1v1.1h-1.1zM109.2 231.1h1.1v1.1h-1.1zM140.7 213.6h1.1v1.1h-1.1zM144.6 231.4h1.1v1.1h-1.1zM141.3 213.4h1.1v1.1h-1.1zM112.7 235.6h1.1v1.1h-1.1zM107.2 204.8h1.1v1.1h-1.1zM112.0 231.7h1.1v1.1h-1.1zM107.9 236.4h1.1v1.1h-1.1zM113.1 208.0h1.1v1.1h-1.1zM105.7 203.9h1.1v1.1h-1.1zM110.1 232.2h1.1v1.1h-1.1zM107.8 231.4h1.1v1.1h-1.1zM137.3 226.7h1.1v1.1h-1.1zM109.4 231.0h1.1v1.1h-1.1zM102.4 200.3h1.1v1.1h-1.1zM131.1 215.5h1.1v1.1h-1.1zM142.4 231.1h1.1v1.1h-1.1zM110.3 233.3h1.1v1.1h-1.1zM139.9 210.0h1.1v1.1h-1.1zM107.8 230.3h1.1v1.1h-1.1zM106.4 202.2h1.1v1.1h-1.1zM116.7 215.4h1.1v1.1h-1.1zM138.6 236.7h1.1v1.1h-1.1zM124.9 218.0h1.1v1.1h-1.1zM106.1 236.2h1.1v1.1h-1.1zM131.5 200.1h1.1v1.1h-1.1zM104.9 227.9h1.1v1.1h-1.1zM104.3 202.2h1.1v1.1h-1.1zM138.6 233.8h1.1v1.1h-1.1zM125.1 217.8h1.1v1.1h-1.1zM124.1 218.1h1.1v1.1h-1.1zM136.9 234.2h1.1v1.1h-1.1zM105.1 231.1h1.1v1.1h-1.1zM138.2 211.1h1.1v1.1h-1.1zM105.5 233.1h1.1v1.1h-1.1zM112.3 231.3h1.1v1.1h-1.1zM131.6 215.6h1.1v1.1h-1.1zM118.3 211.1h1.1v1.1h-1.1zM123.5 217.6h1.1v1.1h-1.1zM143.6 235.9h1.1v1.1h-1.1zM140.0 210.9h1.1v1.1h-1.1zM139.3 234.7h1.1v1.1h-1.1zM114.3 200.4h1.1v1.1h-1.1zM123.2 211.3h1.1v1.1h-1.1zM110.3 205.7h1.1v1.1h-1.1zM143.0 226.9h1.1v1.1h-1.1zM107.1 205.4h1.1v1.1h-1.1zM111.5 203.0h1.1v1.1h-1.1zM112.0 231.4h1.1v1.1h-1.1zM125.8 214.9h1.1v1.1h-1.1zM102.8 230.1h1.1v1.1h-1.1zM136.2 236.3h1.1v1.1h-1.1zM122.5 214.1h1.1v1.1h-1.1zM127.5 212.4h1.1v1.1h-1.1zM110.3 203.4h1.1v1.1h-1.1zM106.6 234.3h1.1v1.1h-1.1zM106.7 231.0h1.1v1.1h-1.1zM130.5 211.7h1.1v1.1h-1.1zM110.8 234.2h1.1v1.1h-1.1zM129.3 214.8h1.1v1.1h-1.1zM106.6 227.1h1.1v1.1h-1.1zM109.1 227.5h1.1v1.1h-1.1zM127.7 214.8h1.1v1.1h-1.1zM138.4 229.6h1.1v1.1h-1.1zM136.9 233.9h1.1v1.1h-1.1zM130.8 211.4h1.1v1.1h-1.1zM104.1 230.2h1.1v1.1h-1.1zM112.4 233.8h1.1v1.1h-1.1zM136.7 209.7h1.1v1.1h-1.1zM108.5 233.5h1.1v1.1h-1.1zM112.5 206.2h1.1v1.1h-1.1zM110.9 204.9h1.1v1.1h-1.1zM141.9 224.2h1.1v1.1h-1.1zM108.9 207.6h1.1v1.1h-1.1zM106.0 204.2h1.1v1.1h-1.1zM107.8 203.1h1.1v1.1h-1.1zM105.8 233.4h1.1v1.1h-1.1zM110.1 207.3h1.1v1.1h-1.1zM141.1 230.5h1.1v1.1h-1.1zM131.2 211.9h1.1v1.1h-1.1zM145.1 213.3h1.1v1.1h-1.1zM137.6 237.5h1.1v1.1h-1.1zM142.0 229.9h1.1v1.1h-1.1zM112.5 204.9h1.1v1.1h-1.1zM102.1 231.9h1.1v1.1h-1.1zM114.0 236.8h1.1v1.1h-1.1zM118.6 194.7h1.1v1.1h-1.1zM114.3 231.9h1.1v1.1h-1.1zM117.7 232.8h1.1v1.1h-1.1zM109.4 211.2h1.1v1.1h-1.1zM127.7 213.2h1.1v1.1h-1.1zM127.9 213.1h1.1v1.1h-1.1zM111.7 226.1h1.1v1.1h-1.1zM129.4 213.5h1.1v1.1h-1.1zM111.4 233.9h1.1v1.1h-1.1zM106.8 233.3h1.1v1.1h-1.1zM139.5 233.2h1.1v1.1h-1.1zM104.1 204.4h1.1v1.1h-1.1zM106.7 233.4h1.1v1.1h-1.1zM124.4 214.8h1.1v1.1h-1.1zM123.8 212.9h1.1v1.1h-1.1zM140.9 230.7h1.1v1.1h-1.1zM110.5 229.3h1.1v1.1h-1.1zM140.5 228.6h1.1v1.1h-1.1zM143.5 226.7h1.1v1.1h-1.1zM105.5 232.2h1.1v1.1h-1.1zM161.4 197.2h1.1v1.1h-1.1zM139.4 230.5h1.1v1.1h-1.1zM103.3 229.8h1.1v1.1h-1.1zM138.3 229.4h1.1v1.1h-1.1zM135.4 213.6h1.1v1.1h-1.1zM130.0 214.9h1.1v1.1h-1.1zM129.9 213.4h1.1v1.1h-1.1zM123.1 216.7h1.1v1.1h-1.1zM107.0 207.3h1.1v1.1h-1.1zM110.3 207.1h1.1v1.1h-1.1zM106.0 232.2h1.1v1.1h-1.1zM137.4 209.1h1.1v1.1h-1.1zM140.3 231.7h1.1v1.1h-1.1zM114.9 229.7h1.1v1.1h-1.1zM107.4 232.9h1.1v1.1h-1.1zM142.0 231.4h1.1v1.1h-1.1zM122.6 215.3h1.1v1.1h-1.1zM111.3 204.5h1.1v1.1h-1.1zM125.9 216.0h1.1v1.1h-1.1zM113.0 231.8h1.1v1.1h-1.1zM127.6 215.7h1.1v1.1h-1.1zM113.4 230.5h1.1v1.1h-1.1zM107.8 229.7h1.1v1.1h-1.1zM110.0 206.6h1.1v1.1h-1.1zM109.9 234.4h1.1v1.1h-1.1zM114.7 199.8h1.1v1.1h-1.1zM131.2 214.4h1.1v1.1h-1.1zM114.6 203.7h1.1v1.1h-1.1zM105.3 203.9h1.1v1.1h-1.1zM109.0 236.7h1.1v1.1h-1.1zM103.4 211.1h1.1v1.1h-1.1zM110.0 233.4h1.1v1.1h-1.1zM140.3 234.5h1.1v1.1h-1.1zM122.5 233.0h1.1v1.1h-1.1zM109.4 237.4h1.1v1.1h-1.1zM109.6 210.7h1.1v1.1h-1.1zM119.6 210.0h1.1v1.1h-1.1zM110.4 208.3h1.1v1.1h-1.1zM106.2 226.2h1.1v1.1h-1.1zM109.2 229.1h1.1v1.1h-1.1zM113.2 220.7h1.1v1.1h-1.1zM106.2 199.5h1.1v1.1h-1.1zM112.7 229.7h1.1v1.1h-1.1zM109.6 231.6h1.1v1.1h-1.1zM135.3 208.1h1.1v1.1h-1.1zM139.2 223.9h1.1v1.1h-1.1zM119.8 217.9h1.1v1.1h-1.1zM102.4 230.9h1.1v1.1h-1.1zM141.2 227.4h1.1v1.1h-1.1zM113.2 209.8h1.1v1.1h-1.1zM136.3 235.3h1.1v1.1h-1.1zM106.9 207.5h1.1v1.1h-1.1zM116.5 232.0h1.1v1.1h-1.1zM118.5 208.4h1.1v1.1h-1.1zM109.1 231.9h1.1v1.1h-1.1zM105.2 228.8h1.1v1.1h-1.1zM113.1 232.4h1.1v1.1h-1.1zM111.0 236.4h1.1v1.1h-1.1zM102.3 233.3h1.1v1.1h-1.1zM114.1 230.8h1.1v1.1h-1.1zM117.0 211.9h1.1v1.1h-1.1zM106.9 201.6h1.1v1.1h-1.1zM119.2 217.5h1.1v1.1h-1.1zM138.0 230.6h1.1v1.1h-1.1zM113.9 207.8h1.1v1.1h-1.1zM107.1 230.4h1.1v1.1h-1.1zM131.3 212.1h1.1v1.1h-1.1zM137.5 209.2h1.1v1.1h-1.1zM116.2 205.0h1.1v1.1h-1.1zM126.2 220.4h1.1v1.1h-1.1zM128.7 214.3h1.1v1.1h-1.1zM139.4 224.5h1.1v1.1h-1.1zM117.6 229.1h1.1v1.1h-1.1zM110.8 234.2h1.1v1.1h-1.1zM138.1 205.6h1.1v1.1h-1.1zM139.2 211.7h1.1v1.1h-1.1zM106.0 224.2h1.1v1.1h-1.1zM114.7 236.0h1.1v1.1h-1.1zM131.7 219.4h1.1v1.1h-1.1zM112.1 208.7h1.1v1.1h-1.1zM107.7 235.6h1.1v1.1h-1.1zM121.9 205.9h1.1v1.1h-1.1zM135.7 210.1h1.1v1.1h-1.1zM108.6 230.9h1.1v1.1h-1.1zM105.1 231.2h1.1v1.1h-1.1zM109.3 210.5h1.1v1.1h-1.1zM139.5 229.7h1.1v1.1h-1.1zM112.4 206.8h1.1v1.1h-1.1zM104.9 233.3h1.1v1.1h-1.1zM111.7 213.8h1.1v1.1h-1.1zM104.4 233.5h1.1v1.1h-1.1zM111.1 233.3h1.1v1.1h-1.1zM125.4 212.9h1.1v1.1h-1.1zM110.6 230.8h1.1v1.1h-1.1zM102.2 200.4h1.1v1.1h-1.1zM121.3 213.0h1.1v1.1h-1.1zM106.3 206.4h1.1v1.1h-1.1zM113.5 207.8h1.1v1.1h-1.1zM109.4 235.7h1.1v1.1h-1.1zM108.5 233.5h1.1v1.1h-1.1zM126.5 215.0h1.1v1.1h-1.1zM125.7 214.1h1.1v1.1h-1.1zM105.9 210.6h1.1v1.1h-1.1zM139.5 236.0h1.1v1.1h-1.1zM103.6 233.1h1.1v1.1h-1.1zM105.8 233.1h1.1v1.1h-1.1zM107.9 232.5h1.1v1.1h-1.1zM112.1 234.4h1.1v1.1h-1.1zM109.9 223.9h1.1v1.1h-1.1zM123.8 217.6h1.1v1.1h-1.1zM136.4 213.0h1.1v1.1h-1.1zM141.5 231.7h1.1v1.1h-1.1zM109.7 211.2h1.1v1.1h-1.1zM106.8 236.4h1.1v1.1h-1.1zM112.4 230.1h1.1v1.1h-1.1zM132.0 214.1h1.1v1.1h-1.1zM139.9 224.0h1.1v1.1h-1.1zM139.2 227.8h1.1v1.1h-1.1zM105.6 205.8h1.1v1.1h-1.1zM138.0 231.2h1.1v1.1h-1.1zM135.3 213.5h1.1v1.1h-1.1zM112.1 232.6h1.1v1.1h-1.1zM135.2 210.9h1.1v1.1h-1.1zM108.7 229.3h1.1v1.1h-1.1zM104.5 232.2h1.1v1.1h-1.1zM142.0 235.5h1.1v1.1h-1.1zM116.5 201.2h1.1v1.1h-1.1zM108.5 234.6h1.1v1.1h-1.1zM139.0 225.7h1.1v1.1h-1.1zM110.0 235.0h1.1v1.1h-1.1zM105.3 230.7h1.1v1.1h-1.1zM139.4 227.9h1.1v1.1h-1.1zM104.6 207.7h1.1v1.1h-1.1zM124.6 237.1h1.1v1.1h-1.1zM104.3 231.6h1.1v1.1h-1.1zM126.5 214.5h1.1v1.1h-1.1zM107.1 203.2h1.1v1.1h-1.1zM111.0 202.7h1.1v1.1h-1.1zM106.1 231.1h1.1v1.1h-1.1zM138.2 225.1h1.1v1.1h-1.1zM103.5 227.1h1.1v1.1h-1.1zM114.0 202.6h1.1v1.1h-1.1zM138.1 233.9h1.1v1.1h-1.1zM116.7 203.6h1.1v1.1h-1.1zM108.6 232.2h1.1v1.1h-1.1zM131.0 214.4h1.1v1.1h-1.1zM107.4 233.8h1.1v1.1h-1.1zM106.7 227.6h1.1v1.1h-1.1zM130.6 215.0h1.1v1.1h-1.1zM123.6 214.0h1.1v1.1h-1.1zM110.4 232.3h1.1v1.1h-1.1zM107.5 234.6h1.1v1.1h-1.1zM122.6 217.3h1.1v1.1h-1.1zM110.1 231.2h1.1v1.1h-1.1zM127.2 213.4h1.1v1.1h-1.1zM106.0 235.8h1.1v1.1h-1.1zM134.7 211.6h1.1v1.1h-1.1zM107.7 204.3h1.1v1.1h-1.1zM141.0 233.4h1.1v1.1h-1.1zM129.7 227.9h1.1v1.1h-1.1zM102.8 201.6h1.1v1.1h-1.1zM123.2 216.1h1.1v1.1h-1.1zM128.4 214.9h1.1v1.1h-1.1zM106.5 210.0h1.1v1.1h-1.1zM136.2 212.8h1.1v1.1h-1.1zM141.3 231.6h1.1v1.1h-1.1zM113.9 213.3h1.1v1.1h-1.1zM135.2 216.1h1.1v1.1h-1.1zM109.6 229.7h1.1v1.1h-1.1zM120.4 197.7h1.1v1.1h-1.1zM137.3 230.0h1.1v1.1h-1.1zM114.7 214.5h1.1v1.1h-1.1zM142.4 209.8h1.1v1.1h-1.1zM136.2 211.1h1.1v1.1h-1.1zM116.6 224.6h1.1v1.1h-1.1zM106.6 205.3h1.1v1.1h-1.1zM103.3 204.2h1.1v1.1h-1.1zM121.7 214.6h1.1v1.1h-1.1zM106.7 232.9h1.1v1.1h-1.1zM141.8 230.6h1.1v1.1h-1.1zM115.5 203.4h1.1v1.1h-1.1zM103.4 202.9h1.1v1.1h-1.1zM128.4 212.3h1.1v1.1h-1.1zM141.7 232.4h1.1v1.1h-1.1zM115.2 230.3h1.1v1.1h-1.1zM129.7 209.9h1.1v1.1h-1.1zM106.5 196.3h1.1v1.1h-1.1zM114.0 203.3h1.1v1.1h-1.1zM141.3 231.6h1.1v1.1h-1.1zM110.9 208.1h1.1v1.1h-1.1zM106.3 209.3h1.1v1.1h-1.1zM123.7 214.3h1.1v1.1h-1.1zM104.8 231.1h1.1v1.1h-1.1zM126.8 216.4h1.1v1.1h-1.1zM140.2 230.9h1.1v1.1h-1.1zM104.8 228.6h1.1v1.1h-1.1zM114.7 232.7h1.1v1.1h-1.1zM132.8 215.3h1.1v1.1h-1.1zM102.3 230.2h1.1v1.1h-1.1zM112.0 232.3h1.1v1.1h-1.1zM140.6 207.5h1.1v1.1h-1.1zM107.1 205.6h1.1v1.1h-1.1zM139.2 226.9h1.1v1.1h-1.1zM104.0 234.7h1.1v1.1h-1.1zM142.2 228.9h1.1v1.1h-1.1zM112.2 206.8h1.1v1.1h-1.1z" fill="#ee0a0a" fill-opacity="0.85"/>
<path d="M142.3 228.7h1.1v1.1h-1.1zM104.1 237.1h1.1v1.1h-1.1zM115.0 229.0h1.1v1.1h-1.1zM112.4 231.1h1.1v1.1h-1.1zM106.5 206.2h1.1v1.1h-1.1zM129.6 213.7h1.1v1.1h-1.1zM107.9 229.2h1.1v1.1h-1.1zM146.1 222.3h1.1v1.1h-1.1zM106.9 200.1h1.1v1.1h-1.1zM130.3 213.5h1.1v1.1h-1.1zM139.2 237.4h1.1v1.1h-1.1zM101.8 234.1h1.1v1.1h-1.1zM115.0 207.6h1.1v1.1h-1.1zM127.6 210.7h1.1v1.1h-1.1zM112.9 229.7h1.1v1.1h-1.1zM139.8 231.5h1.1v1.1h-1.1zM105.2 229.2h1.1v1.1h-1.1zM137.8 213.4h1.1v1.1h-1.1zM110.9 202.6h1.1v1.1h-1.1zM132.2 210.3h1.1v1.1h-1.1zM113.5 236.2h1.1v1.1h-1.1zM111.4 212.6h1.1v1.1h-1.1zM133.6 212.8h1.1v1.1h-1.1zM144.9 207.8h1.1v1.1h-1.1zM107.7 203.3h1.1v1.1h-1.1zM128.4 212.1h1.1v1.1h-1.1zM136.5 227.2h1.1v1.1h-1.1zM139.3 236.3h1.1v1.1h-1.1zM138.0 229.3h1.1v1.1h-1.1zM108.1 235.5h1.1v1.1h-1.1zM105.3 208.1h1.1v1.1h-1.1zM105.3 234.9h1.1v1.1h-1.1zM126.6 216.0h1.1v1.1h-1.1zM119.4 218.9h1.1v1.1h-1.1zM110.9 198.4h1.1v1.1h-1.1zM111.0 201.8h1.1v1.1h-1.1zM117.1 210.5h1.1v1.1h-1.1zM106.8 237.6h1.1v1.1h-1.1zM109.4 231.2h1.1v1.1h-1.1zM140.9 225.7h1.1v1.1h-1.1zM115.4 199.2h1.1v1.1h-1.1zM111.8 198.1h1.1v1.1h-1.1zM112.2 204.7h1.1v1.1h-1.1zM106.5 237.3h1.1v1.1h-1.1zM105.6 230.5h1.1v1.1h-1.1zM113.8 204.1h1.1v1.1h-1.1zM133.2 209.6h1.1v1.1h-1.1zM105.7 209.3h1.1v1.1h-1.1zM109.7 232.7h1.1v1.1h-1.1zM105.0 235.9h1.1v1.1h-1.1zM107.4 204.8h1.1v1.1h-1.1zM107.0 230.7h1.1v1.1h-1.1zM112.4 225.4h1.1v1.1h-1.1zM142.1 225.3h1.1v1.1h-1.1zM114.7 200.0h1.1v1.1h-1.1zM131.6 213.4h1.1v1.1h-1.1zM140.0 230.5h1.1v1.1h-1.1zM111.3 203.4h1.1v1.1h-1.1zM128.2 209.2h1.1v1.1h-1.1zM127.3 213.0h1.1v1.1h-1.1zM129.7 211.3h1.1v1.1h-1.1zM110.8 231.3h1.1v1.1h-1.1zM111.4 206.5h1.1v1.1h-1.1zM137.9 230.6h1.1v1.1h-1.1zM113.8 234.0h1.1v1.1h-1.1zM132.8 211.8h1.1v1.1h-1.1zM139.4 229.9h1.1v1.1h-1.1zM101.8 204.0h1.1v1.1h-1.1zM107.5 202.2h1.1v1.1h-1.1zM105.8 233.9h1.1v1.1h-1.1zM102.9 203.8h1.1v1.1h-1.1zM109.8 207.8h1.1v1.1h-1.1zM140.0 234.3h1.1v1.1h-1.1zM132.4 214.2h1.1v1.1h-1.1zM121.3 228.3h1.1v1.1h-1.1zM139.0 232.3h1.1v1.1h-1.1zM123.4 213.2h1.1v1.1h-1.1zM136.4 212.8h1.1v1.1h-1.1zM139.9 229.1h1.1v1.1h-1.1zM113.5 234.8h1.1v1.1h-1.1zM103.2 235.7h1.1v1.1h-1.1zM136.7 215.6h1.1v1.1h-1.1zM107.8 229.0h1.1v1.1h-1.1zM107.1 205.1h1.1v1.1h-1.1zM109.4 233.8h1.1v1.1h-1.1zM115.2 210.7h1.1v1.1h-1.1zM104.5 234.7h1.1v1.1h-1.1zM107.6 233.5h1.1v1.1h-1.1zM107.9 208.8h1.1v1.1h-1.1zM136.1 212.4h1.1v1.1h-1.1zM110.6 237.3h1.1v1.1h-1.1zM134.3 211.9h1.1v1.1h-1.1zM125.8 216.5h1.1v1.1h-1.1zM104.5 200.4h1.1v1.1h-1.1zM108.2 230.3h1.1v1.1h-1.1zM143.0 237.6h1.1v1.1h-1.1zM111.3 235.6h1.1v1.1h-1.1zM109.0 234.7h1.1v1.1h-1.1zM131.7 217.2h1.1v1.1h-1.1zM109.5 205.7h1.1v1.1h-1.1zM111.1 235.8h1.1v1.1h-1.1zM104.4 237.2h1.1v1.1h-1.1zM134.4 209.6h1.1v1.1h-1.1zM108.4 232.7h1.1v1.1h-1.1zM111.2 231.9h1.1v1.1h-1.1zM137.6 236.0h1.1v1.1h-1.1zM141.2 232.4h1.1v1.1h-1.1zM105.6 230.9h1.1v1.1h-1.1zM106.2 231.9h1.1v1.1h-1.1zM138.3 226.5h1.1v1.1h-1.1zM108.4 206.9h1.1v1.1h-1.1zM111.4 203.2h1.1v1.1h-1.1zM129.3 217.7h1.1v1.1h-1.1zM104.9 204.5h1.1v1.1h-1.1zM115.3 230.7h1.1v1.1h-1.1zM105.8 223.9h1.1v1.1h-1.1zM115.7 201.2h1.1v1.1h-1.1zM137.6 211.3h1.1v1.1h-1.1zM143.3 223.9h1.1v1.1h-1.1zM139.2 230.0h1.1v1.1h-1.1zM139.0 222.7h1.1v1.1h-1.1zM103.4 230.5h1.1v1.1h-1.1zM128.6 216.2h1.1v1.1h-1.1zM122.9 212.6h1.1v1.1h-1.1zM112.4 232.4h1.1v1.1h-1.1zM139.8 213.3h1.1v1.1h-1.1zM112.3 231.4h1.1v1.1h-1.1zM107.0 234.5h1.1v1.1h-1.1zM110.7 195.7h1.1v1.1h-1.1zM143.3 226.0h1.1v1.1h-1.1zM131.4 217.8h1.1v1.1h-1.1zM119.5 207.5h1.1v1.1h-1.1zM123.0 215.9h1.1v1.1h-1.1zM130.3 208.9h1.1v1.1h-1.1zM113.7 236.4h1.1v1.1h-1.1zM106.6 231.8h1.1v1.1h-1.1zM132.4 213.8h1.1v1.1h-1.1zM106.4 230.5h1.1v1.1h-1.1zM141.7 229.5h1.1v1.1h-1.1zM133.4 211.3h1.1v1.1h-1.1zM139.4 234.9h1.1v1.1h-1.1zM108.2 199.2h1.1v1.1h-1.1zM136.3 210.8h1.1v1.1h-1.1zM112.8 232.5h1.1v1.1h-1.1zM112.5 210.6h1.1v1.1h-1.1zM123.3 215.9h1.1v1.1h-1.1zM131.2 211.6h1.1v1.1h-1.1zM105.6 228.7h1.1v1.1h-1.1zM126.6 213.3h1.1v1.1h-1.1zM105.6 232.1h1.1v1.1h-1.1zM140.5 224.6h1.1v1.1h-1.1zM115.2 203.1h1.1v1.1h-1.1zM108.1 229.5h1.1v1.1h-1.1zM112.6 203.5h1.1v1.1h-1.1zM102.2 234.3h1.1v1.1h-1.1zM145.2 237.3h1.1v1.1h-1.1zM104.4 230.0h1.1v1.1h-1.1zM139.7 229.3h1.1v1.1h-1.1zM144.2 237.3h1.1v1.1h-1.1zM123.9 213.8h1.1v1.1h-1.1zM108.1 204.3h1.1v1.1h-1.1zM128.1 210.2h1.1v1.1h-1.1zM105.1 223.4h1.1v1.1h-1.1zM109.3 202.5h1.1v1.1h-1.1zM112.9 208.7h1.1v1.1h-1.1zM144.0 207.8h1.1v1.1h-1.1zM122.9 210.4h1.1v1.1h-1.1zM107.4 205.8h1.1v1.1h-1.1zM108.9 233.0h1.1v1.1h-1.1zM133.3 236.3h1.1v1.1h-1.1zM113.8 201.5h1.1v1.1h-1.1zM139.5 214.4h1.1v1.1h-1.1zM160.5 233.8h1.1v1.1h-1.1zM102.9 237.3h1.1v1.1h-1.1zM107.7 209.6h1.1v1.1h-1.1zM139.4 226.8h1.1v1.1h-1.1zM105.4 232.3h1.1v1.1h-1.1zM125.1 211.4h1.1v1.1h-1.1zM107.3 230.9h1.1v1.1h-1.1zM110.2 230.6h1.1v1.1h-1.1zM113.6 235.2h1.1v1.1h-1.1zM119.9 214.8h1.1v1.1h-1.1zM113.0 204.4h1.1v1.1h-1.1zM143.6 230.2h1.1v1.1h-1.1zM107.7 230.8h1.1v1.1h-1.1zM105.8 210.2h1.1v1.1h-1.1zM107.5 228.6h1.1v1.1h-1.1zM127.7 211.1h1.1v1.1h-1.1zM133.8 214.8h1.1v1.1h-1.1zM106.0 199.9h1.1v1.1h-1.1zM130.9 218.6h1.1v1.1h-1.1zM108.8 235.0h1.1v1.1h-1.1zM134.1 215.4h1.1v1.1h-1.1zM128.5 219.1h1.1v1.1h-1.1zM108.1 234.0h1.1v1.1h-1.1zM110.2 227.5h1.1v1.1h-1.1zM139.1 228.1h1.1v1.1h-1.1zM137.3 228.8h1.1v1.1h-1.1zM130.1 212.4h1.1v1.1h-1.1zM115.5 193.2h1.1v1.1h-1.1zM141.4 232.4h1.1v1.1h-1.1zM137.0 228.1h1.1v1.1h-1.1zM119.7 217.8h1.1v1.1h-1.1zM111.1 202.1h1.1v1.1h-1.1zM118.4 225.3h1.1v1.1h-1.1zM142.6 231.8h1.1v1.1h-1.1zM123.9 212.2h1.1v1.1h-1.1zM117.4 193.3h1.1v1.1h-1.1zM137.0 230.4h1.1v1.1h-1.1zM138.5 208.5h1.1v1.1h-1.1zM124.8 220.8h1.1v1.1h-1.1zM109.4 230.1h1.1v1.1h-1.1zM142.6 233.5h1.1v1.1h-1.1zM126.4 213.7h1.1v1.1h-1.1zM111.8 202.1h1.1v1.1h-1.1zM104.3 231.1h1.1v1.1h-1.1zM110.2 235.7h1.1v1.1h-1.1zM134.7 210.0h1.1v1.1h-1.1zM124.7 218.0h1.1v1.1h-1.1zM106.6 231.8h1.1v1.1h-1.1zM120.5 221.1h1.1v1.1h-1.1zM102.0 208.6h1.1v1.1h-1.1zM114.3 203.7h1.1v1.1h-1.1zM118.1 231.5h1.1v1.1h-1.1zM141.2 226.2h1.1v1.1h-1.1zM106.2 233.8h1.1v1.1h-1.1zM106.8 233.6h1.1v1.1h-1.1z" fill="#b00000" fill-opacity="0.85"/>
<rect x="101.1" y="191.15" width="63.2" height="48" fill="none" stroke="#555" stroke-width="1.1"/>
<ellipse cx="129.6" cy="213.4" rx="15" ry="7" transform="rotate(-15 129.6 213.4)" fill="none" stroke="#444" stroke-width="0.9"/>
<rect x="133.4" y="220.6" width="15.8" height="18.6" fill="none" stroke="#444" stroke-width="0.9"/>
<text x="105.3" y="187.75" font-size="9.1" font-weight="bold" fill="#111" font-family="Liberation Sans, sans-serif">day 16</text>
<text x="145.7" y="210.9" font-size="7" font-weight="bold" fill="#111" font-family="Liberation Sans, sans-serif">46%</text>
<text x="150.0" y="231.7" font-size="7" font-weight="bold" fill="#111" font-family="Liberation Sans, sans-serif">14%</text>
<path d="M186.3 199.9h1.1v1.1h-1.1zM208.5 213.4h1.1v1.1h-1.1zM176.1 235.9h1.1v1.1h-1.1zM177.6 230.5h1.1v1.1h-1.1zM181.0 202.1h1.1v1.1h-1.1zM204.9 213.1h1.1v1.1h-1.1zM214.7 227.7h1.1v1.1h-1.1zM177.6 235.3h1.1v1.1h-1.1zM175.8 202.0h1.1v1.1h-1.1zM179.2 232.6h1.1v1.1h-1.1zM200.1 209.9h1.1v1.1h-1.1zM215.4 233.7h1.1v1.1h-1.1zM178.3 234.1h1.1v1.1h-1.1zM202.6 205.2h1.1v1.1h-1.1zM200.0 208.4h1.1v1.1h-1.1zM200.1 215.0h1.1v1.1h-1.1zM182.2 229.7h1.1v1.1h-1.1zM219.2 226.7h1.1v1.1h-1.1zM187.6 206.5h1.1v1.1h-1.1zM204.8 210.3h1.1v1.1h-1.1zM196.7 214.3h1.1v1.1h-1.1zM202.6 213.4h1.1v1.1h-1.1zM196.8 234.8h1.1v1.1h-1.1zM183.4 229.9h1.1v1.1h-1.1zM203.5 210.1h1.1v1.1h-1.1zM204.4 209.2h1.1v1.1h-1.1zM202.2 216.1h1.1v1.1h-1.1zM190.2 220.8h1.1v1.1h-1.1zM181.3 231.0h1.1v1.1h-1.1zM178.7 198.0h1.1v1.1h-1.1zM175.9 231.6h1.1v1.1h-1.1zM201.3 211.1h1.1v1.1h-1.1zM176.6 208.0h1.1v1.1h-1.1zM199.3 212.2h1.1v1.1h-1.1zM185.2 208.3h1.1v1.1h-1.1zM180.7 233.7h1.1v1.1h-1.1zM185.1 206.6h1.1v1.1h-1.1zM210.7 207.8h1.1v1.1h-1.1zM186.2 227.7h1.1v1.1h-1.1zM176.5 203.4h1.1v1.1h-1.1zM177.6 233.4h1.1v1.1h-1.1zM198.5 213.2h1.1v1.1h-1.1zM209.7 213.0h1.1v1.1h-1.1zM188.6 194.2h1.1v1.1h-1.1zM186.9 236.0h1.1v1.1h-1.1zM205.1 203.7h1.1v1.1h-1.1zM176.2 234.7h1.1v1.1h-1.1zM175.0 228.4h1.1v1.1h-1.1zM182.7 230.1h1.1v1.1h-1.1zM184.8 202.4h1.1v1.1h-1.1zM186.7 227.9h1.1v1.1h-1.1zM189.3 198.8h1.1v1.1h-1.1zM182.9 205.2h1.1v1.1h-1.1zM176.9 226.8h1.1v1.1h-1.1zM179.4 235.4h1.1v1.1h-1.1zM173.3 201.9h1.1v1.1h-1.1zM180.8 232.1h1.1v1.1h-1.1zM179.4 199.6h1.1v1.1h-1.1zM181.0 201.1h1.1v1.1h-1.1zM181.1 226.0h1.1v1.1h-1.1zM201.9 217.0h1.1v1.1h-1.1zM174.6 198.9h1.1v1.1h-1.1zM217.2 225.4h1.1v1.1h-1.1zM179.9 200.7h1.1v1.1h-1.1zM186.4 201.2h1.1v1.1h-1.1zM193.1 213.6h1.1v1.1h-1.1zM209.5 209.7h1.1v1.1h-1.1zM204.8 211.8h1.1v1.1h-1.1zM179.2 223.5h1.1v1.1h-1.1zM186.9 226.2h1.1v1.1h-1.1zM181.4 204.4h1.1v1.1h-1.1zM182.5 230.4h1.1v1.1h-1.1zM200.4 203.2h1.1v1.1h-1.1zM205.3 211.9h1.1v1.1h-1.1zM175.0 200.2h1.1v1.1h-1.1zM183.1 205.1h1.1v1.1h-1.1zM182.3 231.6h1.1v1.1h-1.1zM184.9 230.9h1.1v1.1h-1.1zM180.1 235.0h1.1v1.1h-1.1zM184.7 225.8h1.1v1.1h-1.1zM207.2 211.3h1.1v1.1h-1.1zM180.5 210.6h1.1v1.1h-1.1zM184.8 235.9h1.1v1.1h-1.1zM183.0 229.8h1.1v1.1h-1.1zM213.6 212.0h1.1v1.1h-1.1zM179.0 231.1h1.1v1.1h-1.1zM188.4 234.2h1.1v1.1h-1.1zM180.9 226.9h1.1v1.1h-1.1zM180.2 233.2h1.1v1.1h-1.1zM181.5 197.8h1.1v1.1h-1.1zM176.1 223.8h1.1v1.1h-1.1zM176.8 207.2h1.1v1.1h-1.1zM186.2 232.6h1.1v1.1h-1.1zM180.4 225.3h1.1v1.1h-1.1zM185.0 229.6h1.1v1.1h-1.1zM183.6 230.2h1.1v1.1h-1.1zM181.0 228.3h1.1v1.1h-1.1zM182.2 230.1h1.1v1.1h-1.1zM218.0 224.8h1.1v1.1h-1.1zM186.7 212.2h1.1v1.1h-1.1zM177.6 234.1h1.1v1.1h-1.1zM177.4 204.1h1.1v1.1h-1.1zM180.4 197.3h1.1v1.1h-1.1zM187.6 197.7h1.1v1.1h-1.1zM179.5 199.1h1.1v1.1h-1.1zM210.2 211.7h1.1v1.1h-1.1zM173.2 196.1h1.1v1.1h-1.1zM181.2 231.3h1.1v1.1h-1.1zM182.2 227.6h1.1v1.1h-1.1zM181.3 229.3h1.1v1.1h-1.1zM215.2 234.9h1.1v1.1h-1.1zM179.8 201.3h1.1v1.1h-1.1zM181.9 201.2h1.1v1.1h-1.1zM181.7 232.5h1.1v1.1h-1.1zM177.6 207.6h1.1v1.1h-1.1zM179.9 218.7h1.1v1.1h-1.1zM205.9 208.2h1.1v1.1h-1.1zM215.6 230.1h1.1v1.1h-1.1zM181.0 231.9h1.1v1.1h-1.1zM177.9 226.4h1.1v1.1h-1.1zM182.4 231.4h1.1v1.1h-1.1zM179.7 197.3h1.1v1.1h-1.1zM214.0 227.3h1.1v1.1h-1.1zM217.7 232.5h1.1v1.1h-1.1zM181.2 227.0h1.1v1.1h-1.1zM185.7 204.0h1.1v1.1h-1.1zM188.9 197.7h1.1v1.1h-1.1zM227.4 199.3h1.1v1.1h-1.1zM181.1 231.5h1.1v1.1h-1.1zM176.2 230.0h1.1v1.1h-1.1zM181.1 227.5h1.1v1.1h-1.1zM212.3 231.9h1.1v1.1h-1.1zM188.9 206.3h1.1v1.1h-1.1zM189.7 205.2h1.1v1.1h-1.1zM183.8 228.2h1.1v1.1h-1.1zM181.6 233.5h1.1v1.1h-1.1zM180.4 234.4h1.1v1.1h-1.1zM181.7 231.4h1.1v1.1h-1.1zM175.0 199.9h1.1v1.1h-1.1zM204.6 211.9h1.1v1.1h-1.1zM175.2 229.9h1.1v1.1h-1.1zM215.0 232.7h1.1v1.1h-1.1zM180.0 205.1h1.1v1.1h-1.1zM182.6 198.9h1.1v1.1h-1.1zM178.4 207.2h1.1v1.1h-1.1zM182.2 228.4h1.1v1.1h-1.1zM198.2 201.3h1.1v1.1h-1.1zM183.7 195.8h1.1v1.1h-1.1zM185.0 199.3h1.1v1.1h-1.1zM183.8 231.9h1.1v1.1h-1.1zM181.3 229.3h1.1v1.1h-1.1zM180.5 194.3h1.1v1.1h-1.1zM198.5 199.9h1.1v1.1h-1.1zM205.0 215.2h1.1v1.1h-1.1zM179.0 231.3h1.1v1.1h-1.1zM187.2 202.3h1.1v1.1h-1.1zM181.3 228.2h1.1v1.1h-1.1zM180.3 206.6h1.1v1.1h-1.1zM191.9 204.5h1.1v1.1h-1.1zM185.2 234.5h1.1v1.1h-1.1zM184.2 229.3h1.1v1.1h-1.1zM181.6 207.2h1.1v1.1h-1.1zM177.5 232.0h1.1v1.1h-1.1zM189.8 228.6h1.1v1.1h-1.1zM199.3 197.4h1.1v1.1h-1.1zM180.8 235.0h1.1v1.1h-1.1zM180.7 208.4h1.1v1.1h-1.1zM196.3 201.1h1.1v1.1h-1.1zM187.6 198.5h1.1v1.1h-1.1zM184.8 232.1h1.1v1.1h-1.1zM175.7 233.6h1.1v1.1h-1.1zM179.6 230.1h1.1v1.1h-1.1zM180.3 231.1h1.1v1.1h-1.1zM198.9 200.0h1.1v1.1h-1.1zM182.3 205.5h1.1v1.1h-1.1zM183.6 228.2h1.1v1.1h-1.1zM213.1 216.2h1.1v1.1h-1.1zM178.2 206.1h1.1v1.1h-1.1zM201.6 209.6h1.1v1.1h-1.1zM182.4 226.4h1.1v1.1h-1.1zM178.8 206.5h1.1v1.1h-1.1zM180.9 206.5h1.1v1.1h-1.1zM181.0 201.9h1.1v1.1h-1.1zM175.9 205.0h1.1v1.1h-1.1zM203.4 202.1h1.1v1.1h-1.1zM208.2 211.1h1.1v1.1h-1.1zM177.3 201.6h1.1v1.1h-1.1zM183.0 234.7h1.1v1.1h-1.1zM184.0 202.1h1.1v1.1h-1.1zM184.4 224.7h1.1v1.1h-1.1zM178.9 224.0h1.1v1.1h-1.1zM179.3 234.8h1.1v1.1h-1.1zM181.9 206.5h1.1v1.1h-1.1zM185.0 199.6h1.1v1.1h-1.1zM221.5 232.4h1.1v1.1h-1.1zM187.6 228.8h1.1v1.1h-1.1zM178.3 236.2h1.1v1.1h-1.1zM207.7 213.4h1.1v1.1h-1.1zM219.7 227.4h1.1v1.1h-1.1zM193.6 234.9h1.1v1.1h-1.1zM207.0 210.4h1.1v1.1h-1.1zM203.4 208.3h1.1v1.1h-1.1zM180.6 202.8h1.1v1.1h-1.1zM198.7 215.4h1.1v1.1h-1.1zM182.5 200.7h1.1v1.1h-1.1zM175.1 202.3h1.1v1.1h-1.1zM205.8 208.6h1.1v1.1h-1.1zM186.1 233.1h1.1v1.1h-1.1zM180.2 202.5h1.1v1.1h-1.1zM220.8 231.4h1.1v1.1h-1.1zM213.3 234.2h1.1v1.1h-1.1zM183.2 197.4h1.1v1.1h-1.1zM184.8 232.9h1.1v1.1h-1.1zM185.1 205.3h1.1v1.1h-1.1zM201.4 215.4h1.1v1.1h-1.1zM183.5 204.4h1.1v1.1h-1.1zM175.8 198.8h1.1v1.1h-1.1zM183.9 204.7h1.1v1.1h-1.1zM182.9 203.5h1.1v1.1h-1.1zM180.3 206.9h1.1v1.1h-1.1zM202.7 209.9h1.1v1.1h-1.1zM176.8 223.9h1.1v1.1h-1.1zM186.7 229.7h1.1v1.1h-1.1zM185.0 198.0h1.1v1.1h-1.1zM206.7 212.3h1.1v1.1h-1.1zM183.4 204.8h1.1v1.1h-1.1zM181.7 232.8h1.1v1.1h-1.1zM181.3 200.3h1.1v1.1h-1.1zM177.9 202.4h1.1v1.1h-1.1zM203.0 200.2h1.1v1.1h-1.1zM183.8 203.4h1.1v1.1h-1.1zM173.9 222.7h1.1v1.1h-1.1zM209.3 210.3h1.1v1.1h-1.1zM181.4 234.7h1.1v1.1h-1.1zM178.8 200.6h1.1v1.1h-1.1zM183.5 234.4h1.1v1.1h-1.1zM183.7 233.9h1.1v1.1h-1.1zM178.5 230.7h1.1v1.1h-1.1zM181.3 200.2h1.1v1.1h-1.1zM196.0 197.5h1.1v1.1h-1.1zM180.3 210.1h1.1v1.1h-1.1zM205.2 211.5h1.1v1.1h-1.1zM188.0 226.9h1.1v1.1h-1.1zM180.1 198.4h1.1v1.1h-1.1zM181.6 233.8h1.1v1.1h-1.1zM175.2 232.2h1.1v1.1h-1.1zM183.3 206.1h1.1v1.1h-1.1zM204.9 213.5h1.1v1.1h-1.1zM181.2 234.2h1.1v1.1h-1.1zM176.5 233.5h1.1v1.1h-1.1zM195.1 199.8h1.1v1.1h-1.1zM183.2 233.7h1.1v1.1h-1.1zM179.1 199.3h1.1v1.1h-1.1zM184.2 207.3h1.1v1.1h-1.1zM179.6 234.4h1.1v1.1h-1.1zM182.1 227.0h1.1v1.1h-1.1zM186.7 201.3h1.1v1.1h-1.1zM187.7 206.9h1.1v1.1h-1.1zM174.5 207.6h1.1v1.1h-1.1zM179.5 225.3h1.1v1.1h-1.1zM191.4 202.9h1.1v1.1h-1.1zM215.9 230.4h1.1v1.1h-1.1zM196.6 226.6h1.1v1.1h-1.1zM180.8 197.7h1.1v1.1h-1.1zM178.0 201.1h1.1v1.1h-1.1zM175.7 231.6h1.1v1.1h-1.1zM182.2 204.5h1.1v1.1h-1.1zM198.9 214.0h1.1v1.1h-1.1zM180.5 228.6h1.1v1.1h-1.1zM217.6 225.0h1.1v1.1h-1.1zM201.5 210.5h1.1v1.1h-1.1zM215.3 208.0h1.1v1.1h-1.1zM186.5 231.2h1.1v1.1h-1.1zM185.7 236.8h1.1v1.1h-1.1zM175.4 232.9h1.1v1.1h-1.1zM181.0 226.6h1.1v1.1h-1.1zM202.0 201.3h1.1v1.1h-1.1zM188.7 237.0h1.1v1.1h-1.1zM199.9 213.9h1.1v1.1h-1.1zM183.8 228.8h1.1v1.1h-1.1zM177.3 196.5h1.1v1.1h-1.1zM181.2 228.7h1.1v1.1h-1.1zM186.5 203.6h1.1v1.1h-1.1zM208.4 211.3h1.1v1.1h-1.1zM200.5 215.5h1.1v1.1h-1.1zM179.9 207.3h1.1v1.1h-1.1zM195.2 200.2h1.1v1.1h-1.1zM176.0 235.7h1.1v1.1h-1.1zM174.8 208.3h1.1v1.1h-1.1zM182.1 197.3h1.1v1.1h-1.1zM212.5 229.7h1.1v1.1h-1.1zM185.5 228.1h1.1v1.1h-1.1zM179.8 199.3h1.1v1.1h-1.1zM212.0 220.6h1.1v1.1h-1.1zM173.8 225.6h1.1v1.1h-1.1zM180.1 199.5h1.1v1.1h-1.1zM178.1 231.2h1.1v1.1h-1.1zM187.6 236.5h1.1v1.1h-1.1zM180.0 227.5h1.1v1.1h-1.1zM183.4 230.8h1.1v1.1h-1.1zM184.3 229.8h1.1v1.1h-1.1zM181.2 231.8h1.1v1.1h-1.1zM182.9 226.9h1.1v1.1h-1.1zM178.8 201.8h1.1v1.1h-1.1zM176.3 235.3h1.1v1.1h-1.1zM186.1 232.8h1.1v1.1h-1.1zM180.9 235.1h1.1v1.1h-1.1zM178.8 200.1h1.1v1.1h-1.1zM203.0 215.4h1.1v1.1h-1.1zM204.5 213.3h1.1v1.1h-1.1zM203.3 210.3h1.1v1.1h-1.1zM175.3 229.4h1.1v1.1h-1.1zM177.2 202.7h1.1v1.1h-1.1zM184.0 233.1h1.1v1.1h-1.1zM203.8 212.1h1.1v1.1h-1.1zM206.7 208.9h1.1v1.1h-1.1zM219.2 228.5h1.1v1.1h-1.1zM182.4 202.6h1.1v1.1h-1.1zM225.2 198.7h1.1v1.1h-1.1zM181.1 229.7h1.1v1.1h-1.1zM210.6 210.2h1.1v1.1h-1.1zM180.1 201.0h1.1v1.1h-1.1zM181.0 201.4h1.1v1.1h-1.1zM181.1 202.8h1.1v1.1h-1.1zM178.7 232.8h1.1v1.1h-1.1zM195.7 198.9h1.1v1.1h-1.1zM201.3 213.0h1.1v1.1h-1.1zM175.9 225.8h1.1v1.1h-1.1zM209.0 209.7h1.1v1.1h-1.1zM208.3 211.2h1.1v1.1h-1.1zM180.0 227.0h1.1v1.1h-1.1zM177.4 231.8h1.1v1.1h-1.1zM184.6 201.6h1.1v1.1h-1.1zM182.9 229.0h1.1v1.1h-1.1zM184.9 229.7h1.1v1.1h-1.1zM182.8 205.2h1.1v1.1h-1.1zM186.8 211.9h1.1v1.1h-1.1zM183.0 235.7h1.1v1.1h-1.1zM185.8 223.6h1.1v1.1h-1.1zM224.3 200.5h1.1v1.1h-1.1zM223.1 220.6h1.1v1.1h-1.1zM183.9 237.4h1.1v1.1h-1.1zM185.1 198.1h1.1v1.1h-1.1zM183.0 230.3h1.1v1.1h-1.1zM180.0 226.5h1.1v1.1h-1.1zM180.4 209.2h1.1v1.1h-1.1zM204.2 212.8h1.1v1.1h-1.1zM186.0 234.2h1.1v1.1h-1.1zM178.1 231.6h1.1v1.1h-1.1zM192.8 231.5h1.1v1.1h-1.1zM178.7 203.1h1.1v1.1h-1.1zM216.2 229.2h1.1v1.1h-1.1zM187.4 206.3h1.1v1.1h-1.1zM178.0 229.9h1.1v1.1h-1.1zM180.9 231.3h1.1v1.1h-1.1zM182.4 207.8h1.1v1.1h-1.1zM184.4 233.1h1.1v1.1h-1.1zM177.9 233.8h1.1v1.1h-1.1zM184.1 229.1h1.1v1.1h-1.1zM196.8 214.8h1.1v1.1h-1.1zM181.9 204.9h1.1v1.1h-1.1zM179.2 227.4h1.1v1.1h-1.1zM209.6 232.8h1.1v1.1h-1.1zM186.0 202.8h1.1v1.1h-1.1zM180.3 232.3h1.1v1.1h-1.1zM185.0 226.1h1.1v1.1h-1.1zM182.8 232.6h1.1v1.1h-1.1zM186.6 232.3h1.1v1.1h-1.1zM179.7 234.0h1.1v1.1h-1.1zM201.6 201.3h1.1v1.1h-1.1zM190.7 226.8h1.1v1.1h-1.1zM175.5 233.1h1.1v1.1h-1.1zM210.3 213.1h1.1v1.1h-1.1zM204.5 211.3h1.1v1.1h-1.1zM215.1 231.8h1.1v1.1h-1.1zM183.1 230.7h1.1v1.1h-1.1zM176.0 222.9h1.1v1.1h-1.1zM198.4 220.3h1.1v1.1h-1.1zM204.8 213.9h1.1v1.1h-1.1zM185.0 200.4h1.1v1.1h-1.1zM182.3 199.6h1.1v1.1h-1.1zM186.6 234.1h1.1v1.1h-1.1zM178.3 228.5h1.1v1.1h-1.1zM174.5 201.9h1.1v1.1h-1.1zM182.3 201.1h1.1v1.1h-1.1zM214.3 199.6h1.1v1.1h-1.1zM176.2 234.6h1.1v1.1h-1.1zM215.0 216.8h1.1v1.1h-1.1zM182.4 204.9h1.1v1.1h-1.1zM183.4 229.8h1.1v1.1h-1.1zM210.4 233.9h1.1v1.1h-1.1zM181.3 206.5h1.1v1.1h-1.1zM202.3 210.6h1.1v1.1h-1.1zM180.3 214.9h1.1v1.1h-1.1zM209.9 236.6h1.1v1.1h-1.1zM213.0 234.3h1.1v1.1h-1.1zM181.4 198.1h1.1v1.1h-1.1zM208.2 215.7h1.1v1.1h-1.1zM181.1 227.5h1.1v1.1h-1.1zM183.0 234.4h1.1v1.1h-1.1zM181.7 233.6h1.1v1.1h-1.1zM187.2 235.3h1.1v1.1h-1.1zM187.8 235.2h1.1v1.1h-1.1zM201.0 213.5h1.1v1.1h-1.1zM207.1 195.8h1.1v1.1h-1.1zM175.6 231.0h1.1v1.1h-1.1zM180.6 231.0h1.1v1.1h-1.1zM215.0 199.0h1.1v1.1h-1.1zM177.9 228.7h1.1v1.1h-1.1zM189.2 195.2h1.1v1.1h-1.1zM177.9 235.8h1.1v1.1h-1.1zM190.4 234.2h1.1v1.1h-1.1zM179.2 237.5h1.1v1.1h-1.1zM175.3 229.7h1.1v1.1h-1.1zM211.4 229.4h1.1v1.1h-1.1zM179.2 202.8h1.1v1.1h-1.1zM185.9 202.7h1.1v1.1h-1.1zM211.1 214.5h1.1v1.1h-1.1zM182.4 225.7h1.1v1.1h-1.1zM205.4 212.1h1.1v1.1h-1.1zM181.7 230.7h1.1v1.1h-1.1zM179.4 233.4h1.1v1.1h-1.1zM210.2 231.5h1.1v1.1h-1.1zM201.8 209.7h1.1v1.1h-1.1zM207.0 214.7h1.1v1.1h-1.1zM180.7 209.0h1.1v1.1h-1.1zM179.7 202.4h1.1v1.1h-1.1zM194.4 224.2h1.1v1.1h-1.1zM178.5 231.7h1.1v1.1h-1.1zM206.6 214.8h1.1v1.1h-1.1zM179.7 206.8h1.1v1.1h-1.1zM176.7 224.5h1.1v1.1h-1.1zM179.9 229.1h1.1v1.1h-1.1zM200.4 217.2h1.1v1.1h-1.1zM181.6 204.8h1.1v1.1h-1.1zM173.9 235.2h1.1v1.1h-1.1zM186.8 200.2h1.1v1.1h-1.1zM182.7 230.1h1.1v1.1h-1.1zM203.2 201.4h1.1v1.1h-1.1zM203.2 210.2h1.1v1.1h-1.1zM178.7 223.5h1.1v1.1h-1.1zM179.9 197.9h1.1v1.1h-1.1zM182.8 200.2h1.1v1.1h-1.1zM180.4 229.6h1.1v1.1h-1.1zM179.7 231.6h1.1v1.1h-1.1zM188.4 229.9h1.1v1.1h-1.1zM221.4 234.5h1.1v1.1h-1.1zM179.9 231.3h1.1v1.1h-1.1zM214.7 236.5h1.1v1.1h-1.1zM193.1 229.0h1.1v1.1h-1.1zM180.0 206.3h1.1v1.1h-1.1zM181.8 201.2h1.1v1.1h-1.1zM199.9 201.3h1.1v1.1h-1.1zM198.2 198.9h1.1v1.1h-1.1zM191.2 230.3h1.1v1.1h-1.1zM178.1 203.9h1.1v1.1h-1.1zM186.0 233.7h1.1v1.1h-1.1zM184.1 227.3h1.1v1.1h-1.1zM178.2 233.4h1.1v1.1h-1.1zM179.0 231.8h1.1v1.1h-1.1zM213.4 234.3h1.1v1.1h-1.1zM175.3 231.6h1.1v1.1h-1.1zM177.7 234.3h1.1v1.1h-1.1zM198.4 197.7h1.1v1.1h-1.1zM197.0 211.5h1.1v1.1h-1.1zM177.9 202.9h1.1v1.1h-1.1zM178.0 227.5h1.1v1.1h-1.1zM173.3 232.3h1.1v1.1h-1.1zM177.4 205.3h1.1v1.1h-1.1zM201.6 199.5h1.1v1.1h-1.1zM206.3 212.0h1.1v1.1h-1.1zM180.2 200.6h1.1v1.1h-1.1zM197.3 197.8h1.1v1.1h-1.1zM182.0 201.8h1.1v1.1h-1.1zM186.4 198.6h1.1v1.1h-1.1zM191.7 214.1h1.1v1.1h-1.1zM174.0 218.5h1.1v1.1h-1.1zM216.8 229.8h1.1v1.1h-1.1zM172.4 231.7h1.1v1.1h-1.1zM180.6 225.2h1.1v1.1h-1.1zM180.1 206.7h1.1v1.1h-1.1zM191.5 235.0h1.1v1.1h-1.1zM213.2 229.2h1.1v1.1h-1.1zM184.0 233.0h1.1v1.1h-1.1zM183.1 231.4h1.1v1.1h-1.1zM180.6 204.7h1.1v1.1h-1.1zM181.7 214.3h1.1v1.1h-1.1zM215.3 209.2h1.1v1.1h-1.1zM196.6 210.6h1.1v1.1h-1.1zM177.0 204.8h1.1v1.1h-1.1zM182.8 200.8h1.1v1.1h-1.1zM180.3 207.3h1.1v1.1h-1.1zM180.6 227.6h1.1v1.1h-1.1zM187.6 231.8h1.1v1.1h-1.1zM188.9 203.8h1.1v1.1h-1.1zM184.1 203.6h1.1v1.1h-1.1zM182.1 230.4h1.1v1.1h-1.1zM214.1 223.6h1.1v1.1h-1.1zM192.4 229.0h1.1v1.1h-1.1zM186.0 208.1h1.1v1.1h-1.1zM179.9 234.3h1.1v1.1h-1.1zM182.8 198.8h1.1v1.1h-1.1zM204.3 211.7h1.1v1.1h-1.1zM178.8 226.4h1.1v1.1h-1.1zM207.4 206.3h1.1v1.1h-1.1zM174.0 226.7h1.1v1.1h-1.1zM172.9 230.4h1.1v1.1h-1.1zM173.9 203.8h1.1v1.1h-1.1zM180.7 196.5h1.1v1.1h-1.1zM180.7 230.7h1.1v1.1h-1.1zM180.5 233.9h1.1v1.1h-1.1zM177.3 234.6h1.1v1.1h-1.1zM180.5 227.3h1.1v1.1h-1.1zM185.0 234.5h1.1v1.1h-1.1zM183.9 196.1h1.1v1.1h-1.1zM184.5 229.7h1.1v1.1h-1.1zM182.6 227.6h1.1v1.1h-1.1zM178.6 196.4h1.1v1.1h-1.1zM186.7 231.5h1.1v1.1h-1.1zM173.4 231.6h1.1v1.1h-1.1zM173.1 233.0h1.1v1.1h-1.1zM182.5 226.7h1.1v1.1h-1.1zM183.5 202.3h1.1v1.1h-1.1zM185.7 204.9h1.1v1.1h-1.1zM185.6 209.5h1.1v1.1h-1.1zM182.0 231.0h1.1v1.1h-1.1zM185.5 230.7h1.1v1.1h-1.1zM183.2 235.0h1.1v1.1h-1.1zM187.9 235.2h1.1v1.1h-1.1zM175.1 229.5h1.1v1.1h-1.1zM179.2 202.3h1.1v1.1h-1.1zM183.5 203.6h1.1v1.1h-1.1zM186.2 199.9h1.1v1.1h-1.1zM218.5 230.5h1.1v1.1h-1.1zM179.2 226.7h1.1v1.1h-1.1zM183.4 231.2h1.1v1.1h-1.1zM200.2 199.6h1.1v1.1h-1.1zM200.7 215.3h1.1v1.1h-1.1zM185.4 204.5h1.1v1.1h-1.1zM181.0 196.3h1.1v1.1h-1.1zM179.5 201.7h1.1v1.1h-1.1zM184.9 227.0h1.1v1.1h-1.1zM207.7 209.3h1.1v1.1h-1.1zM211.9 206.4h1.1v1.1h-1.1zM189.6 233.4h1.1v1.1h-1.1zM184.2 235.6h1.1v1.1h-1.1zM207.2 211.8h1.1v1.1h-1.1zM203.8 213.9h1.1v1.1h-1.1zM183.9 200.5h1.1v1.1h-1.1zM188.1 206.4h1.1v1.1h-1.1zM180.3 211.2h1.1v1.1h-1.1zM182.1 230.2h1.1v1.1h-1.1zM185.2 230.3h1.1v1.1h-1.1zM180.3 224.8h1.1v1.1h-1.1zM202.9 208.6h1.1v1.1h-1.1zM202.8 199.5h1.1v1.1h-1.1zM202.8 216.2h1.1v1.1h-1.1zM215.4 197.2h1.1v1.1h-1.1zM189.5 203.5h1.1v1.1h-1.1zM189.2 231.6h1.1v1.1h-1.1zM174.5 228.7h1.1v1.1h-1.1zM181.2 197.2h1.1v1.1h-1.1zM184.0 207.8h1.1v1.1h-1.1zM182.8 233.5h1.1v1.1h-1.1zM202.9 212.7h1.1v1.1h-1.1zM179.3 205.9h1.1v1.1h-1.1zM191.6 236.3h1.1v1.1h-1.1zM178.6 224.7h1.1v1.1h-1.1zM185.4 198.9h1.1v1.1h-1.1zM176.6 198.3h1.1v1.1h-1.1zM179.8 224.5h1.1v1.1h-1.1zM174.1 202.2h1.1v1.1h-1.1zM176.6 230.3h1.1v1.1h-1.1zM209.8 212.1h1.1v1.1h-1.1zM180.1 236.6h1.1v1.1h-1.1zM217.2 226.1h1.1v1.1h-1.1zM200.5 200.6h1.1v1.1h-1.1zM216.1 225.5h1.1v1.1h-1.1zM205.4 212.8h1.1v1.1h-1.1zM183.1 234.5h1.1v1.1h-1.1zM179.6 202.2h1.1v1.1h-1.1zM180.0 229.7h1.1v1.1h-1.1zM182.6 227.2h1.1v1.1h-1.1zM180.5 230.7h1.1v1.1h-1.1zM184.2 226.8h1.1v1.1h-1.1zM182.3 201.6h1.1v1.1h-1.1zM205.3 213.8h1.1v1.1h-1.1zM180.6 225.3h1.1v1.1h-1.1zM185.4 206.3h1.1v1.1h-1.1zM180.0 227.3h1.1v1.1h-1.1zM181.2 195.3h1.1v1.1h-1.1zM177.1 236.6h1.1v1.1h-1.1zM178.4 228.5h1.1v1.1h-1.1zM182.7 227.1h1.1v1.1h-1.1zM183.0 201.6h1.1v1.1h-1.1zM189.4 229.5h1.1v1.1h-1.1zM177.6 228.6h1.1v1.1h-1.1zM177.8 198.9h1.1v1.1h-1.1zM182.8 201.3h1.1v1.1h-1.1zM185.9 203.4h1.1v1.1h-1.1zM184.1 231.7h1.1v1.1h-1.1zM180.4 204.9h1.1v1.1h-1.1zM208.2 212.7h1.1v1.1h-1.1zM180.5 230.4h1.1v1.1h-1.1zM183.8 205.1h1.1v1.1h-1.1zM178.7 224.8h1.1v1.1h-1.1zM184.0 222.2h1.1v1.1h-1.1zM186.1 198.9h1.1v1.1h-1.1zM176.6 200.3h1.1v1.1h-1.1zM188.2 226.6h1.1v1.1h-1.1zM176.6 227.3h1.1v1.1h-1.1zM201.9 217.2h1.1v1.1h-1.1zM214.8 230.4h1.1v1.1h-1.1zM199.9 213.1h1.1v1.1h-1.1zM175.9 203.1h1.1v1.1h-1.1zM204.4 207.7h1.1v1.1h-1.1zM203.5 212.8h1.1v1.1h-1.1zM176.0 232.6h1.1v1.1h-1.1zM182.1 236.8h1.1v1.1h-1.1zM186.4 205.3h1.1v1.1h-1.1zM184.0 204.8h1.1v1.1h-1.1zM201.0 214.0h1.1v1.1h-1.1zM179.5 200.3h1.1v1.1h-1.1zM174.1 236.2h1.1v1.1h-1.1zM186.4 224.8h1.1v1.1h-1.1zM182.0 198.4h1.1v1.1h-1.1zM218.0 228.0h1.1v1.1h-1.1zM206.3 213.8h1.1v1.1h-1.1zM213.7 208.2h1.1v1.1h-1.1zM189.6 202.9h1.1v1.1h-1.1zM179.8 230.4h1.1v1.1h-1.1zM188.8 210.6h1.1v1.1h-1.1zM177.5 223.9h1.1v1.1h-1.1zM180.2 200.9h1.1v1.1h-1.1zM180.3 198.7h1.1v1.1h-1.1zM183.8 230.2h1.1v1.1h-1.1zM230.1 201.7h1.1v1.1h-1.1zM187.5 232.7h1.1v1.1h-1.1zM205.4 214.4h1.1v1.1h-1.1zM193.5 213.3h1.1v1.1h-1.1zM176.0 235.2h1.1v1.1h-1.1zM179.6 231.7h1.1v1.1h-1.1zM194.8 200.8h1.1v1.1h-1.1zM183.0 202.9h1.1v1.1h-1.1zM183.9 228.9h1.1v1.1h-1.1zM177.2 233.1h1.1v1.1h-1.1zM181.4 203.5h1.1v1.1h-1.1zM183.5 236.5h1.1v1.1h-1.1zM186.7 232.3h1.1v1.1h-1.1zM180.7 222.5h1.1v1.1h-1.1zM178.9 195.8h1.1v1.1h-1.1zM176.3 228.4h1.1v1.1h-1.1zM179.7 233.5h1.1v1.1h-1.1zM178.5 226.3h1.1v1.1h-1.1zM187.4 232.5h1.1v1.1h-1.1zM175.9 232.2h1.1v1.1h-1.1zM212.2 233.6h1.1v1.1h-1.1zM181.7 201.0h1.1v1.1h-1.1zM178.5 232.4h1.1v1.1h-1.1zM180.9 231.1h1.1v1.1h-1.1zM178.6 228.7h1.1v1.1h-1.1zM180.6 231.6h1.1v1.1h-1.1zM199.3 213.9h1.1v1.1h-1.1zM188.2 230.9h1.1v1.1h-1.1zM206.4 214.3h1.1v1.1h-1.1zM217.6 223.4h1.1v1.1h-1.1zM177.3 195.0h1.1v1.1h-1.1zM192.1 192.9h1.1v1.1h-1.1zM214.0 234.1h1.1v1.1h-1.1zM183.8 228.8h1.1v1.1h-1.1zM173.4 237.1h1.1v1.1h-1.1zM187.4 201.4h1.1v1.1h-1.1zM213.6 228.7h1.1v1.1h-1.1zM204.2 216.5h1.1v1.1h-1.1zM176.9 224.1h1.1v1.1h-1.1zM184.4 228.8h1.1v1.1h-1.1zM207.5 213.4h1.1v1.1h-1.1zM192.2 233.0h1.1v1.1h-1.1zM202.8 210.9h1.1v1.1h-1.1zM180.4 200.1h1.1v1.1h-1.1zM198.3 211.9h1.1v1.1h-1.1zM173.2 230.1h1.1v1.1h-1.1zM177.9 233.2h1.1v1.1h-1.1zM178.9 227.1h1.1v1.1h-1.1zM181.9 227.7h1.1v1.1h-1.1zM184.0 201.9h1.1v1.1h-1.1zM173.6 234.6h1.1v1.1h-1.1zM177.4 234.9h1.1v1.1h-1.1zM180.6 229.1h1.1v1.1h-1.1zM184.5 202.6h1.1v1.1h-1.1zM189.0 226.9h1.1v1.1h-1.1zM181.4 203.4h1.1v1.1h-1.1zM175.4 202.3h1.1v1.1h-1.1zM181.1 226.8h1.1v1.1h-1.1zM183.4 201.6h1.1v1.1h-1.1zM179.3 218.5h1.1v1.1h-1.1zM179.1 228.0h1.1v1.1h-1.1zM181.4 233.1h1.1v1.1h-1.1zM176.6 233.9h1.1v1.1h-1.1zM184.4 231.9h1.1v1.1h-1.1zM181.8 201.9h1.1v1.1h-1.1zM185.5 234.9h1.1v1.1h-1.1zM207.4 209.5h1.1v1.1h-1.1zM180.2 235.5h1.1v1.1h-1.1zM206.4 211.8h1.1v1.1h-1.1zM216.3 223.0h1.1v1.1h-1.1zM180.1 198.4h1.1v1.1h-1.1zM182.4 197.3h1.1v1.1h-1.1zM212.6 213.3h1.1v1.1h-1.1zM180.7 231.1h1.1v1.1h-1.1zM174.1 235.0h1.1v1.1h-1.1zM188.1 225.7h1.1v1.1h-1.1zM182.7 226.8h1.1v1.1h-1.1zM181.2 236.4h1.1v1.1h-1.1zM204.1 209.7h1.1v1.1h-1.1zM173.4 228.0h1.1v1.1h-1.1zM172.5 229.8h1.1v1.1h-1.1zM215.8 225.1h1.1v1.1h-1.1zM208.1 211.3h1.1v1.1h-1.1zM182.3 230.1h1.1v1.1h-1.1zM213.3 208.6h1.1v1.1h-1.1zM186.6 233.6h1.1v1.1h-1.1zM179.7 204.0h1.1v1.1h-1.1zM214.1 208.3h1.1v1.1h-1.1zM178.4 234.8h1.1v1.1h-1.1zM178.1 225.5h1.1v1.1h-1.1zM177.3 204.8h1.1v1.1h-1.1zM202.9 212.6h1.1v1.1h-1.1zM181.6 227.6h1.1v1.1h-1.1zM206.9 211.9h1.1v1.1h-1.1zM185.8 191.9h1.1v1.1h-1.1zM181.0 226.1h1.1v1.1h-1.1zM201.1 212.2h1.1v1.1h-1.1zM184.9 197.2h1.1v1.1h-1.1zM181.6 231.2h1.1v1.1h-1.1zM184.3 231.5h1.1v1.1h-1.1zM180.4 228.6h1.1v1.1h-1.1zM177.8 230.6h1.1v1.1h-1.1zM177.0 236.2h1.1v1.1h-1.1zM219.7 231.5h1.1v1.1h-1.1zM175.2 201.4h1.1v1.1h-1.1zM183.6 202.1h1.1v1.1h-1.1zM199.9 200.6h1.1v1.1h-1.1zM177.6 235.0h1.1v1.1h-1.1zM173.2 232.2h1.1v1.1h-1.1zM176.7 204.9h1.1v1.1h-1.1zM178.4 225.7h1.1v1.1h-1.1zM184.2 233.8h1.1v1.1h-1.1zM181.8 223.9h1.1v1.1h-1.1zM181.2 198.2h1.1v1.1h-1.1zM208.9 212.6h1.1v1.1h-1.1zM210.9 210.9h1.1v1.1h-1.1zM177.2 229.0h1.1v1.1h-1.1zM200.3 213.2h1.1v1.1h-1.1zM203.1 209.7h1.1v1.1h-1.1zM173.6 208.9h1.1v1.1h-1.1zM185.1 207.2h1.1v1.1h-1.1zM200.5 214.3h1.1v1.1h-1.1zM177.1 233.8h1.1v1.1h-1.1zM195.2 201.8h1.1v1.1h-1.1zM176.1 234.9h1.1v1.1h-1.1zM184.4 200.5h1.1v1.1h-1.1zM185.4 228.4h1.1v1.1h-1.1zM218.1 231.6h1.1v1.1h-1.1zM180.7 227.7h1.1v1.1h-1.1zM180.2 229.6h1.1v1.1h-1.1zM180.8 228.0h1.1v1.1h-1.1zM180.1 231.4h1.1v1.1h-1.1zM179.7 229.6h1.1v1.1h-1.1zM179.8 203.8h1.1v1.1h-1.1z" fill="#ee0a0a" fill-opacity="0.85"/>
<path d="M190.2 229.8h1.1v1.1h-1.1zM209.6 213.2h1.1v1.1h-1.1zM178.1 227.6h1.1v1.1h-1.1zM176.6 200.6h1.1v1.1h-1.1zM173.7 230.9h1.1v1.1h-1.1zM179.0 198.6h1.1v1.1h-1.1zM179.7 235.5h1.1v1.1h-1.1zM182.8 210.2h1.1v1.1h-1.1zM199.9 214.6h1.1v1.1h-1.1zM179.7 200.4h1.1v1.1h-1.1zM173.9 234.0h1.1v1.1h-1.1zM186.0 207.5h1.1v1.1h-1.1zM188.3 201.5h1.1v1.1h-1.1zM185.4 227.7h1.1v1.1h-1.1zM182.7 232.6h1.1v1.1h-1.1zM183.2 227.6h1.1v1.1h-1.1zM200.1 214.8h1.1v1.1h-1.1zM176.4 228.9h1.1v1.1h-1.1zM177.9 236.4h1.1v1.1h-1.1zM177.4 231.6h1.1v1.1h-1.1zM185.9 234.4h1.1v1.1h-1.1zM204.1 211.2h1.1v1.1h-1.1zM182.8 227.7h1.1v1.1h-1.1zM212.9 225.5h1.1v1.1h-1.1zM200.0 218.1h1.1v1.1h-1.1zM208.2 210.5h1.1v1.1h-1.1zM219.6 227.2h1.1v1.1h-1.1zM216.8 226.1h1.1v1.1h-1.1zM193.4 214.5h1.1v1.1h-1.1zM178.6 231.5h1.1v1.1h-1.1zM180.0 199.5h1.1v1.1h-1.1zM218.0 227.5h1.1v1.1h-1.1zM213.6 211.9h1.1v1.1h-1.1zM197.0 199.5h1.1v1.1h-1.1zM178.1 209.2h1.1v1.1h-1.1zM210.0 212.1h1.1v1.1h-1.1zM204.1 214.2h1.1v1.1h-1.1zM211.3 192.6h1.1v1.1h-1.1zM183.5 229.5h1.1v1.1h-1.1zM202.1 215.0h1.1v1.1h-1.1zM216.1 224.0h1.1v1.1h-1.1zM179.8 230.6h1.1v1.1h-1.1zM184.4 200.5h1.1v1.1h-1.1zM201.7 213.2h1.1v1.1h-1.1zM188.3 228.8h1.1v1.1h-1.1zM199.4 196.9h1.1v1.1h-1.1zM174.7 206.3h1.1v1.1h-1.1zM180.2 231.6h1.1v1.1h-1.1zM213.4 232.3h1.1v1.1h-1.1zM186.6 225.3h1.1v1.1h-1.1zM184.5 227.5h1.1v1.1h-1.1zM185.6 230.9h1.1v1.1h-1.1zM179.8 229.3h1.1v1.1h-1.1zM176.2 206.4h1.1v1.1h-1.1zM180.0 206.1h1.1v1.1h-1.1zM207.1 214.3h1.1v1.1h-1.1zM174.9 232.6h1.1v1.1h-1.1zM196.6 199.0h1.1v1.1h-1.1zM181.2 200.4h1.1v1.1h-1.1zM183.4 234.6h1.1v1.1h-1.1zM175.9 200.8h1.1v1.1h-1.1zM177.6 234.1h1.1v1.1h-1.1zM184.6 232.7h1.1v1.1h-1.1zM177.6 205.3h1.1v1.1h-1.1zM184.5 234.7h1.1v1.1h-1.1zM205.0 211.3h1.1v1.1h-1.1zM176.7 229.0h1.1v1.1h-1.1zM198.5 199.0h1.1v1.1h-1.1zM179.7 225.3h1.1v1.1h-1.1zM185.3 203.9h1.1v1.1h-1.1zM188.3 202.4h1.1v1.1h-1.1zM180.1 228.2h1.1v1.1h-1.1zM180.0 229.1h1.1v1.1h-1.1zM206.6 213.0h1.1v1.1h-1.1zM177.3 234.1h1.1v1.1h-1.1zM217.5 225.3h1.1v1.1h-1.1zM177.7 228.5h1.1v1.1h-1.1zM179.7 230.0h1.1v1.1h-1.1zM181.9 199.7h1.1v1.1h-1.1zM221.4 216.2h1.1v1.1h-1.1zM183.8 200.7h1.1v1.1h-1.1zM180.3 230.5h1.1v1.1h-1.1zM176.7 231.1h1.1v1.1h-1.1zM178.7 234.9h1.1v1.1h-1.1zM177.7 228.6h1.1v1.1h-1.1zM181.9 231.3h1.1v1.1h-1.1zM177.7 235.7h1.1v1.1h-1.1zM175.9 234.2h1.1v1.1h-1.1zM184.3 235.3h1.1v1.1h-1.1zM215.5 235.5h1.1v1.1h-1.1zM174.4 201.5h1.1v1.1h-1.1zM208.5 211.3h1.1v1.1h-1.1zM175.7 232.4h1.1v1.1h-1.1zM184.2 235.4h1.1v1.1h-1.1zM179.4 205.5h1.1v1.1h-1.1zM175.3 233.4h1.1v1.1h-1.1zM218.2 230.0h1.1v1.1h-1.1zM175.1 226.4h1.1v1.1h-1.1zM183.9 197.1h1.1v1.1h-1.1zM182.4 198.2h1.1v1.1h-1.1zM199.4 214.8h1.1v1.1h-1.1zM198.4 213.5h1.1v1.1h-1.1zM193.4 211.8h1.1v1.1h-1.1zM177.5 202.3h1.1v1.1h-1.1zM188.0 226.1h1.1v1.1h-1.1zM209.4 210.1h1.1v1.1h-1.1zM181.6 198.0h1.1v1.1h-1.1zM186.7 233.6h1.1v1.1h-1.1zM186.5 231.9h1.1v1.1h-1.1zM177.2 199.3h1.1v1.1h-1.1zM182.4 230.2h1.1v1.1h-1.1zM186.0 230.6h1.1v1.1h-1.1zM178.2 199.0h1.1v1.1h-1.1zM184.1 199.1h1.1v1.1h-1.1zM183.7 225.0h1.1v1.1h-1.1zM204.2 212.7h1.1v1.1h-1.1zM199.3 212.5h1.1v1.1h-1.1zM174.2 224.5h1.1v1.1h-1.1zM181.0 211.3h1.1v1.1h-1.1zM198.3 200.6h1.1v1.1h-1.1zM217.4 227.2h1.1v1.1h-1.1zM178.0 200.5h1.1v1.1h-1.1zM174.6 235.2h1.1v1.1h-1.1zM207.4 215.4h1.1v1.1h-1.1zM180.4 235.3h1.1v1.1h-1.1zM179.3 227.5h1.1v1.1h-1.1zM192.5 203.2h1.1v1.1h-1.1zM185.4 235.9h1.1v1.1h-1.1zM175.7 229.5h1.1v1.1h-1.1zM180.9 231.2h1.1v1.1h-1.1zM191.8 200.8h1.1v1.1h-1.1zM172.4 224.1h1.1v1.1h-1.1zM184.9 232.1h1.1v1.1h-1.1zM182.2 228.5h1.1v1.1h-1.1zM211.8 227.5h1.1v1.1h-1.1zM172.6 229.4h1.1v1.1h-1.1zM176.6 234.0h1.1v1.1h-1.1zM182.2 199.5h1.1v1.1h-1.1zM212.7 230.8h1.1v1.1h-1.1zM179.2 200.0h1.1v1.1h-1.1zM176.6 232.7h1.1v1.1h-1.1zM188.5 205.4h1.1v1.1h-1.1zM214.9 228.2h1.1v1.1h-1.1zM204.1 211.4h1.1v1.1h-1.1zM179.1 232.7h1.1v1.1h-1.1zM191.7 205.0h1.1v1.1h-1.1zM198.8 220.4h1.1v1.1h-1.1zM214.3 228.5h1.1v1.1h-1.1zM179.6 231.3h1.1v1.1h-1.1zM206.8 213.1h1.1v1.1h-1.1zM179.5 201.2h1.1v1.1h-1.1zM199.6 216.1h1.1v1.1h-1.1zM183.0 234.7h1.1v1.1h-1.1z" fill="#b00000" fill-opacity="0.85"/>
<rect x="171.5" y="191.15" width="62.4" height="48" fill="none" stroke="#555" stroke-width="1.1"/>
<ellipse cx="202.7" cy="212.2" rx="13.3" ry="8" transform="rotate(-8 202.7 212.2)" fill="none" stroke="#444" stroke-width="0.9"/>
<rect x="207.6" y="220.6" width="15.6" height="18.6" fill="none" stroke="#444" stroke-width="0.9"/>
<text x="175.4" y="187.75" font-size="9.1" font-weight="bold" fill="#111" font-family="Liberation Sans, sans-serif">day 42</text>
<text x="217.7" y="210.9" font-size="7" font-weight="bold" fill="#111" font-family="Liberation Sans, sans-serif">13%</text>
<text x="224.2" y="231.7" font-size="7" font-weight="bold" fill="#111" font-family="Liberation Sans, sans-serif">8%</text>
<path d="M273.7 213.8h1.1v1.1h-1.1zM254.8 207.7h1.1v1.1h-1.1zM248.5 207.8h1.1v1.1h-1.1zM280.1 231.0h1.1v1.1h-1.1zM259.5 230.3h1.1v1.1h-1.1zM247.9 230.6h1.1v1.1h-1.1zM257.9 209.0h1.1v1.1h-1.1zM257.9 201.7h1.1v1.1h-1.1zM244.3 227.9h1.1v1.1h-1.1zM278.9 230.4h1.1v1.1h-1.1zM256.3 229.0h1.1v1.1h-1.1zM252.6 204.7h1.1v1.1h-1.1zM258.9 205.6h1.1v1.1h-1.1zM252.5 236.1h1.1v1.1h-1.1zM281.0 233.6h1.1v1.1h-1.1zM257.7 202.8h1.1v1.1h-1.1zM253.8 204.0h1.1v1.1h-1.1zM244.5 203.3h1.1v1.1h-1.1zM282.2 233.9h1.1v1.1h-1.1zM245.3 203.5h1.1v1.1h-1.1zM244.1 226.4h1.1v1.1h-1.1zM250.9 231.7h1.1v1.1h-1.1zM247.5 203.4h1.1v1.1h-1.1zM251.7 237.3h1.1v1.1h-1.1zM250.6 231.9h1.1v1.1h-1.1zM262.3 229.6h1.1v1.1h-1.1zM288.3 233.1h1.1v1.1h-1.1zM251.1 202.5h1.1v1.1h-1.1zM281.4 225.3h1.1v1.1h-1.1zM257.5 200.1h1.1v1.1h-1.1zM280.4 228.0h1.1v1.1h-1.1zM245.9 199.9h1.1v1.1h-1.1zM272.6 210.4h1.1v1.1h-1.1zM259.7 232.3h1.1v1.1h-1.1zM261.5 204.9h1.1v1.1h-1.1zM253.1 199.8h1.1v1.1h-1.1zM249.6 229.6h1.1v1.1h-1.1zM247.8 203.2h1.1v1.1h-1.1zM290.6 226.4h1.1v1.1h-1.1zM256.3 204.2h1.1v1.1h-1.1zM296.4 199.9h1.1v1.1h-1.1zM260.1 203.6h1.1v1.1h-1.1zM243.4 232.2h1.1v1.1h-1.1zM283.3 221.8h1.1v1.1h-1.1zM246.6 203.2h1.1v1.1h-1.1zM252.6 206.1h1.1v1.1h-1.1zM278.5 230.9h1.1v1.1h-1.1zM281.8 229.3h1.1v1.1h-1.1zM278.5 231.6h1.1v1.1h-1.1zM252.4 206.3h1.1v1.1h-1.1zM251.5 232.4h1.1v1.1h-1.1zM283.6 232.9h1.1v1.1h-1.1zM255.8 203.4h1.1v1.1h-1.1zM255.4 229.4h1.1v1.1h-1.1zM247.7 232.4h1.1v1.1h-1.1zM252.4 210.3h1.1v1.1h-1.1zM246.4 228.8h1.1v1.1h-1.1zM258.6 229.5h1.1v1.1h-1.1zM279.7 233.6h1.1v1.1h-1.1zM273.1 228.9h1.1v1.1h-1.1zM252.4 205.5h1.1v1.1h-1.1zM284.2 227.6h1.1v1.1h-1.1zM252.3 206.9h1.1v1.1h-1.1zM281.3 232.0h1.1v1.1h-1.1zM250.6 224.8h1.1v1.1h-1.1zM255.0 200.7h1.1v1.1h-1.1zM253.7 229.4h1.1v1.1h-1.1zM255.1 233.3h1.1v1.1h-1.1zM253.8 204.0h1.1v1.1h-1.1zM283.8 223.3h1.1v1.1h-1.1zM252.4 208.0h1.1v1.1h-1.1zM258.9 202.9h1.1v1.1h-1.1zM286.9 222.0h1.1v1.1h-1.1zM249.8 229.4h1.1v1.1h-1.1zM245.0 230.2h1.1v1.1h-1.1zM279.1 215.3h1.1v1.1h-1.1zM254.5 197.3h1.1v1.1h-1.1zM283.9 229.1h1.1v1.1h-1.1zM287.2 226.5h1.1v1.1h-1.1zM256.0 237.7h1.1v1.1h-1.1zM280.2 226.0h1.1v1.1h-1.1zM285.5 235.2h1.1v1.1h-1.1zM286.6 221.7h1.1v1.1h-1.1zM255.5 230.0h1.1v1.1h-1.1zM292.7 200.8h1.1v1.1h-1.1zM258.7 202.3h1.1v1.1h-1.1zM284.0 226.2h1.1v1.1h-1.1zM250.8 232.6h1.1v1.1h-1.1zM278.4 229.0h1.1v1.1h-1.1zM252.1 230.4h1.1v1.1h-1.1zM279.1 232.3h1.1v1.1h-1.1zM283.9 198.1h1.1v1.1h-1.1zM260.4 194.5h1.1v1.1h-1.1zM248.3 207.8h1.1v1.1h-1.1zM265.4 202.9h1.1v1.1h-1.1zM251.0 232.2h1.1v1.1h-1.1zM254.0 237.0h1.1v1.1h-1.1zM251.3 231.1h1.1v1.1h-1.1zM254.3 234.3h1.1v1.1h-1.1zM283.5 232.7h1.1v1.1h-1.1zM258.1 200.0h1.1v1.1h-1.1zM284.8 226.7h1.1v1.1h-1.1zM252.4 229.7h1.1v1.1h-1.1zM285.9 227.4h1.1v1.1h-1.1zM279.0 228.0h1.1v1.1h-1.1zM252.2 205.0h1.1v1.1h-1.1zM252.8 233.0h1.1v1.1h-1.1zM277.1 228.9h1.1v1.1h-1.1zM286.6 230.3h1.1v1.1h-1.1zM249.7 200.5h1.1v1.1h-1.1zM280.2 220.9h1.1v1.1h-1.1zM275.4 213.9h1.1v1.1h-1.1zM250.2 200.1h1.1v1.1h-1.1zM245.2 226.2h1.1v1.1h-1.1zM248.4 233.6h1.1v1.1h-1.1zM271.7 212.6h1.1v1.1h-1.1zM280.1 227.0h1.1v1.1h-1.1zM287.3 226.6h1.1v1.1h-1.1zM254.6 231.2h1.1v1.1h-1.1zM280.4 228.1h1.1v1.1h-1.1zM282.6 226.5h1.1v1.1h-1.1zM255.9 202.7h1.1v1.1h-1.1zM262.2 203.5h1.1v1.1h-1.1zM272.8 212.2h1.1v1.1h-1.1zM254.9 203.1h1.1v1.1h-1.1zM246.7 210.7h1.1v1.1h-1.1zM280.0 229.6h1.1v1.1h-1.1zM253.9 205.1h1.1v1.1h-1.1zM260.0 230.5h1.1v1.1h-1.1zM256.6 204.8h1.1v1.1h-1.1zM278.9 233.7h1.1v1.1h-1.1zM253.8 207.0h1.1v1.1h-1.1zM280.2 229.6h1.1v1.1h-1.1zM277.2 227.9h1.1v1.1h-1.1zM279.2 228.3h1.1v1.1h-1.1zM284.0 231.7h1.1v1.1h-1.1zM254.0 204.0h1.1v1.1h-1.1zM252.2 227.0h1.1v1.1h-1.1zM243.9 205.9h1.1v1.1h-1.1zM276.2 211.1h1.1v1.1h-1.1zM253.6 203.7h1.1v1.1h-1.1zM282.6 236.6h1.1v1.1h-1.1zM246.9 230.1h1.1v1.1h-1.1zM250.8 233.2h1.1v1.1h-1.1zM252.9 200.0h1.1v1.1h-1.1zM244.2 200.1h1.1v1.1h-1.1zM254.6 203.8h1.1v1.1h-1.1zM248.1 229.1h1.1v1.1h-1.1zM285.9 228.9h1.1v1.1h-1.1zM248.5 205.6h1.1v1.1h-1.1zM252.3 232.0h1.1v1.1h-1.1zM255.2 209.3h1.1v1.1h-1.1zM252.3 234.2h1.1v1.1h-1.1zM281.1 223.0h1.1v1.1h-1.1zM248.3 204.0h1.1v1.1h-1.1zM248.8 232.2h1.1v1.1h-1.1zM281.1 231.7h1.1v1.1h-1.1zM285.8 231.7h1.1v1.1h-1.1zM257.2 200.8h1.1v1.1h-1.1zM282.4 230.6h1.1v1.1h-1.1zM251.6 233.2h1.1v1.1h-1.1zM255.1 208.0h1.1v1.1h-1.1zM283.2 227.8h1.1v1.1h-1.1zM251.3 198.7h1.1v1.1h-1.1zM253.5 233.0h1.1v1.1h-1.1zM254.3 230.0h1.1v1.1h-1.1zM251.3 207.0h1.1v1.1h-1.1zM246.5 229.5h1.1v1.1h-1.1zM281.2 231.9h1.1v1.1h-1.1zM251.4 199.2h1.1v1.1h-1.1zM286.8 230.6h1.1v1.1h-1.1zM251.9 230.6h1.1v1.1h-1.1zM259.1 200.8h1.1v1.1h-1.1zM255.9 203.0h1.1v1.1h-1.1zM252.2 202.9h1.1v1.1h-1.1zM256.8 235.9h1.1v1.1h-1.1zM259.1 200.2h1.1v1.1h-1.1zM248.3 231.0h1.1v1.1h-1.1zM250.2 198.6h1.1v1.1h-1.1zM255.1 212.1h1.1v1.1h-1.1zM259.1 201.9h1.1v1.1h-1.1zM254.0 202.4h1.1v1.1h-1.1zM244.6 231.1h1.1v1.1h-1.1zM276.6 228.9h1.1v1.1h-1.1zM249.6 223.7h1.1v1.1h-1.1zM253.0 203.7h1.1v1.1h-1.1zM273.9 233.5h1.1v1.1h-1.1zM254.0 203.5h1.1v1.1h-1.1zM282.6 231.6h1.1v1.1h-1.1zM276.0 219.4h1.1v1.1h-1.1zM249.5 232.2h1.1v1.1h-1.1zM249.9 202.8h1.1v1.1h-1.1zM244.2 229.4h1.1v1.1h-1.1zM278.2 228.5h1.1v1.1h-1.1zM246.4 204.9h1.1v1.1h-1.1zM282.7 230.1h1.1v1.1h-1.1zM255.5 226.6h1.1v1.1h-1.1zM281.2 229.4h1.1v1.1h-1.1zM256.0 233.2h1.1v1.1h-1.1zM259.4 236.8h1.1v1.1h-1.1zM248.1 226.7h1.1v1.1h-1.1zM251.6 233.5h1.1v1.1h-1.1zM252.7 205.8h1.1v1.1h-1.1zM255.5 205.9h1.1v1.1h-1.1zM253.1 207.2h1.1v1.1h-1.1zM283.5 233.6h1.1v1.1h-1.1zM287.8 224.1h1.1v1.1h-1.1zM251.9 200.4h1.1v1.1h-1.1zM279.9 228.4h1.1v1.1h-1.1zM257.5 203.0h1.1v1.1h-1.1zM248.6 205.8h1.1v1.1h-1.1zM290.8 232.1h1.1v1.1h-1.1zM279.4 224.7h1.1v1.1h-1.1zM271.0 212.8h1.1v1.1h-1.1zM251.3 200.9h1.1v1.1h-1.1zM256.7 231.6h1.1v1.1h-1.1zM274.0 235.7h1.1v1.1h-1.1zM257.2 200.8h1.1v1.1h-1.1zM285.4 237.6h1.1v1.1h-1.1zM282.4 231.5h1.1v1.1h-1.1zM251.3 229.8h1.1v1.1h-1.1zM279.7 225.8h1.1v1.1h-1.1zM285.2 235.2h1.1v1.1h-1.1zM250.6 197.0h1.1v1.1h-1.1zM284.8 226.7h1.1v1.1h-1.1zM278.5 195.1h1.1v1.1h-1.1zM256.9 201.2h1.1v1.1h-1.1zM253.7 201.1h1.1v1.1h-1.1zM255.2 229.1h1.1v1.1h-1.1zM282.9 233.3h1.1v1.1h-1.1zM255.0 228.0h1.1v1.1h-1.1zM242.3 231.9h1.1v1.1h-1.1zM251.0 234.8h1.1v1.1h-1.1zM253.9 231.5h1.1v1.1h-1.1zM282.8 235.9h1.1v1.1h-1.1zM244.6 226.6h1.1v1.1h-1.1zM245.2 230.2h1.1v1.1h-1.1zM286.4 232.2h1.1v1.1h-1.1zM280.7 228.4h1.1v1.1h-1.1zM275.2 222.4h1.1v1.1h-1.1zM272.2 225.5h1.1v1.1h-1.1zM255.2 208.9h1.1v1.1h-1.1zM252.6 210.2h1.1v1.1h-1.1zM286.0 225.3h1.1v1.1h-1.1zM257.6 231.3h1.1v1.1h-1.1zM250.1 227.5h1.1v1.1h-1.1zM280.7 232.7h1.1v1.1h-1.1zM279.8 231.1h1.1v1.1h-1.1zM285.5 234.0h1.1v1.1h-1.1zM248.3 233.6h1.1v1.1h-1.1zM282.9 232.7h1.1v1.1h-1.1zM250.7 204.5h1.1v1.1h-1.1zM284.4 232.0h1.1v1.1h-1.1zM283.2 228.1h1.1v1.1h-1.1zM281.8 232.9h1.1v1.1h-1.1zM280.7 234.7h1.1v1.1h-1.1zM253.6 231.2h1.1v1.1h-1.1zM256.3 234.3h1.1v1.1h-1.1zM245.6 231.1h1.1v1.1h-1.1zM277.7 231.1h1.1v1.1h-1.1zM249.6 230.7h1.1v1.1h-1.1zM281.4 225.2h1.1v1.1h-1.1zM249.2 203.8h1.1v1.1h-1.1zM283.1 230.9h1.1v1.1h-1.1zM250.0 231.8h1.1v1.1h-1.1zM256.4 229.6h1.1v1.1h-1.1zM256.0 230.3h1.1v1.1h-1.1zM251.8 198.5h1.1v1.1h-1.1zM254.8 203.1h1.1v1.1h-1.1zM248.5 232.5h1.1v1.1h-1.1zM250.7 207.5h1.1v1.1h-1.1zM285.0 231.7h1.1v1.1h-1.1zM257.3 229.7h1.1v1.1h-1.1zM285.6 223.9h1.1v1.1h-1.1zM287.5 232.2h1.1v1.1h-1.1zM245.9 230.2h1.1v1.1h-1.1zM274.3 214.1h1.1v1.1h-1.1zM252.8 204.3h1.1v1.1h-1.1zM271.5 194.2h1.1v1.1h-1.1zM252.7 199.2h1.1v1.1h-1.1zM250.3 233.7h1.1v1.1h-1.1zM278.0 220.6h1.1v1.1h-1.1zM247.1 201.8h1.1v1.1h-1.1zM280.9 214.3h1.1v1.1h-1.1zM250.7 234.5h1.1v1.1h-1.1zM253.7 205.4h1.1v1.1h-1.1zM246.7 228.9h1.1v1.1h-1.1zM277.0 212.3h1.1v1.1h-1.1zM250.5 229.6h1.1v1.1h-1.1zM286.1 230.2h1.1v1.1h-1.1zM282.9 225.1h1.1v1.1h-1.1zM259.4 205.0h1.1v1.1h-1.1zM253.0 201.2h1.1v1.1h-1.1zM281.0 232.2h1.1v1.1h-1.1zM254.5 235.7h1.1v1.1h-1.1zM257.1 228.7h1.1v1.1h-1.1zM248.9 220.8h1.1v1.1h-1.1zM247.9 231.8h1.1v1.1h-1.1zM287.3 232.8h1.1v1.1h-1.1zM255.1 201.1h1.1v1.1h-1.1zM255.1 199.1h1.1v1.1h-1.1zM257.5 208.8h1.1v1.1h-1.1zM247.9 232.1h1.1v1.1h-1.1zM254.0 195.9h1.1v1.1h-1.1zM250.3 227.5h1.1v1.1h-1.1zM246.6 234.2h1.1v1.1h-1.1zM252.5 235.7h1.1v1.1h-1.1zM247.0 206.9h1.1v1.1h-1.1zM256.6 229.5h1.1v1.1h-1.1zM251.3 201.7h1.1v1.1h-1.1zM281.1 225.7h1.1v1.1h-1.1zM286.7 232.3h1.1v1.1h-1.1zM285.0 226.9h1.1v1.1h-1.1zM275.4 209.9h1.1v1.1h-1.1zM279.1 229.4h1.1v1.1h-1.1zM252.7 200.6h1.1v1.1h-1.1zM256.6 228.5h1.1v1.1h-1.1zM253.9 234.4h1.1v1.1h-1.1zM250.6 213.7h1.1v1.1h-1.1zM262.8 202.3h1.1v1.1h-1.1zM290.8 199.2h1.1v1.1h-1.1zM249.2 203.1h1.1v1.1h-1.1zM255.7 204.3h1.1v1.1h-1.1zM249.9 209.6h1.1v1.1h-1.1zM253.8 209.3h1.1v1.1h-1.1zM280.7 234.7h1.1v1.1h-1.1zM255.7 199.3h1.1v1.1h-1.1zM280.2 234.6h1.1v1.1h-1.1zM257.6 230.9h1.1v1.1h-1.1zM253.3 230.5h1.1v1.1h-1.1zM276.2 226.9h1.1v1.1h-1.1zM246.6 209.9h1.1v1.1h-1.1zM249.6 229.0h1.1v1.1h-1.1zM251.1 228.6h1.1v1.1h-1.1zM252.6 202.2h1.1v1.1h-1.1zM282.7 207.9h1.1v1.1h-1.1zM276.2 229.5h1.1v1.1h-1.1zM267.9 213.0h1.1v1.1h-1.1zM272.3 223.8h1.1v1.1h-1.1zM256.7 224.7h1.1v1.1h-1.1zM278.8 236.3h1.1v1.1h-1.1zM247.2 203.9h1.1v1.1h-1.1zM243.2 223.4h1.1v1.1h-1.1zM282.5 228.0h1.1v1.1h-1.1zM248.9 231.7h1.1v1.1h-1.1zM275.7 215.2h1.1v1.1h-1.1zM282.5 234.1h1.1v1.1h-1.1zM253.6 205.2h1.1v1.1h-1.1zM282.7 234.6h1.1v1.1h-1.1zM285.5 229.4h1.1v1.1h-1.1zM280.9 226.9h1.1v1.1h-1.1zM262.0 201.1h1.1v1.1h-1.1zM248.3 206.8h1.1v1.1h-1.1zM250.1 200.7h1.1v1.1h-1.1zM250.7 201.2h1.1v1.1h-1.1zM257.5 200.3h1.1v1.1h-1.1zM249.3 235.8h1.1v1.1h-1.1zM282.5 232.0h1.1v1.1h-1.1zM273.6 214.4h1.1v1.1h-1.1zM256.6 206.2h1.1v1.1h-1.1zM256.6 204.0h1.1v1.1h-1.1zM248.6 205.9h1.1v1.1h-1.1zM253.4 206.5h1.1v1.1h-1.1zM282.4 233.1h1.1v1.1h-1.1zM256.9 202.9h1.1v1.1h-1.1zM252.7 234.6h1.1v1.1h-1.1zM279.9 229.9h1.1v1.1h-1.1zM282.9 232.5h1.1v1.1h-1.1zM283.4 224.9h1.1v1.1h-1.1zM281.1 233.2h1.1v1.1h-1.1zM261.9 202.3h1.1v1.1h-1.1zM250.4 231.5h1.1v1.1h-1.1zM283.7 235.4h1.1v1.1h-1.1zM256.8 227.2h1.1v1.1h-1.1zM254.1 235.0h1.1v1.1h-1.1zM282.0 225.3h1.1v1.1h-1.1zM250.5 207.8h1.1v1.1h-1.1zM251.3 231.8h1.1v1.1h-1.1zM254.5 209.9h1.1v1.1h-1.1zM254.1 235.3h1.1v1.1h-1.1zM283.6 227.7h1.1v1.1h-1.1zM270.8 213.2h1.1v1.1h-1.1zM249.2 230.4h1.1v1.1h-1.1zM251.9 228.6h1.1v1.1h-1.1zM281.6 232.2h1.1v1.1h-1.1zM281.4 229.8h1.1v1.1h-1.1zM284.3 229.8h1.1v1.1h-1.1zM260.2 206.4h1.1v1.1h-1.1zM248.9 202.1h1.1v1.1h-1.1zM287.0 231.9h1.1v1.1h-1.1zM246.0 228.1h1.1v1.1h-1.1zM259.5 234.0h1.1v1.1h-1.1zM248.9 206.9h1.1v1.1h-1.1zM257.3 206.9h1.1v1.1h-1.1zM282.4 228.7h1.1v1.1h-1.1zM259.0 201.5h1.1v1.1h-1.1zM252.1 201.7h1.1v1.1h-1.1zM283.6 235.9h1.1v1.1h-1.1zM254.8 205.0h1.1v1.1h-1.1zM257.6 208.6h1.1v1.1h-1.1zM254.9 230.2h1.1v1.1h-1.1zM252.2 233.7h1.1v1.1h-1.1zM246.4 199.4h1.1v1.1h-1.1zM243.3 236.8h1.1v1.1h-1.1zM247.1 225.3h1.1v1.1h-1.1zM250.6 229.1h1.1v1.1h-1.1zM258.7 231.2h1.1v1.1h-1.1zM248.9 229.7h1.1v1.1h-1.1zM251.4 201.0h1.1v1.1h-1.1zM248.2 202.1h1.1v1.1h-1.1zM251.3 231.9h1.1v1.1h-1.1zM285.6 223.5h1.1v1.1h-1.1zM255.1 229.9h1.1v1.1h-1.1zM281.7 227.7h1.1v1.1h-1.1zM245.7 204.4h1.1v1.1h-1.1zM281.5 224.7h1.1v1.1h-1.1zM266.5 219.8h1.1v1.1h-1.1zM243.3 234.2h1.1v1.1h-1.1zM277.7 228.2h1.1v1.1h-1.1zM246.7 208.2h1.1v1.1h-1.1zM250.2 196.9h1.1v1.1h-1.1zM251.3 209.0h1.1v1.1h-1.1zM273.3 213.0h1.1v1.1h-1.1zM253.4 235.3h1.1v1.1h-1.1zM286.3 229.1h1.1v1.1h-1.1zM255.0 201.4h1.1v1.1h-1.1zM255.2 231.2h1.1v1.1h-1.1zM250.7 226.7h1.1v1.1h-1.1zM250.1 233.9h1.1v1.1h-1.1zM251.2 232.6h1.1v1.1h-1.1zM256.0 206.1h1.1v1.1h-1.1zM282.5 225.0h1.1v1.1h-1.1zM255.1 229.1h1.1v1.1h-1.1zM246.7 228.5h1.1v1.1h-1.1zM249.6 205.5h1.1v1.1h-1.1zM279.4 225.0h1.1v1.1h-1.1zM277.7 229.1h1.1v1.1h-1.1zM253.2 201.1h1.1v1.1h-1.1zM251.7 205.6h1.1v1.1h-1.1zM284.0 229.8h1.1v1.1h-1.1zM259.1 229.4h1.1v1.1h-1.1zM284.0 230.8h1.1v1.1h-1.1zM252.9 235.9h1.1v1.1h-1.1zM277.3 218.5h1.1v1.1h-1.1zM280.9 228.9h1.1v1.1h-1.1zM249.1 228.2h1.1v1.1h-1.1zM247.8 227.5h1.1v1.1h-1.1zM243.7 231.7h1.1v1.1h-1.1zM246.1 234.8h1.1v1.1h-1.1zM252.9 201.7h1.1v1.1h-1.1zM258.4 200.5h1.1v1.1h-1.1zM246.8 198.8h1.1v1.1h-1.1zM257.1 200.2h1.1v1.1h-1.1zM285.9 233.6h1.1v1.1h-1.1zM250.0 202.3h1.1v1.1h-1.1zM257.3 227.4h1.1v1.1h-1.1zM249.5 223.2h1.1v1.1h-1.1zM247.9 229.3h1.1v1.1h-1.1zM253.9 232.9h1.1v1.1h-1.1zM287.3 231.5h1.1v1.1h-1.1zM250.8 207.2h1.1v1.1h-1.1zM280.0 228.1h1.1v1.1h-1.1zM244.2 233.2h1.1v1.1h-1.1zM242.3 230.6h1.1v1.1h-1.1zM255.8 203.8h1.1v1.1h-1.1zM243.7 228.9h1.1v1.1h-1.1zM249.4 203.1h1.1v1.1h-1.1zM255.3 201.4h1.1v1.1h-1.1zM286.6 232.6h1.1v1.1h-1.1zM282.3 228.3h1.1v1.1h-1.1zM255.4 232.4h1.1v1.1h-1.1zM283.0 230.0h1.1v1.1h-1.1zM272.2 209.2h1.1v1.1h-1.1zM283.5 231.4h1.1v1.1h-1.1zM253.5 208.2h1.1v1.1h-1.1zM251.0 201.8h1.1v1.1h-1.1zM274.8 211.7h1.1v1.1h-1.1zM250.5 234.3h1.1v1.1h-1.1zM288.4 230.7h1.1v1.1h-1.1zM280.7 229.0h1.1v1.1h-1.1zM279.7 228.3h1.1v1.1h-1.1zM249.2 203.1h1.1v1.1h-1.1zM255.0 204.9h1.1v1.1h-1.1zM289.3 228.7h1.1v1.1h-1.1zM252.5 230.2h1.1v1.1h-1.1zM277.7 231.0h1.1v1.1h-1.1zM295.9 233.5h1.1v1.1h-1.1zM284.1 232.1h1.1v1.1h-1.1zM274.8 204.4h1.1v1.1h-1.1zM270.1 214.8h1.1v1.1h-1.1zM275.5 210.4h1.1v1.1h-1.1zM258.0 202.1h1.1v1.1h-1.1zM249.9 229.9h1.1v1.1h-1.1zM280.9 231.5h1.1v1.1h-1.1zM283.8 231.2h1.1v1.1h-1.1zM282.8 231.1h1.1v1.1h-1.1zM243.4 203.4h1.1v1.1h-1.1zM289.1 229.6h1.1v1.1h-1.1zM250.4 204.0h1.1v1.1h-1.1zM250.5 234.4h1.1v1.1h-1.1zM254.4 213.9h1.1v1.1h-1.1zM279.2 227.6h1.1v1.1h-1.1zM249.2 224.4h1.1v1.1h-1.1zM254.7 211.9h1.1v1.1h-1.1zM285.2 234.5h1.1v1.1h-1.1zM247.8 209.1h1.1v1.1h-1.1zM281.5 231.5h1.1v1.1h-1.1zM262.1 205.3h1.1v1.1h-1.1zM260.3 230.1h1.1v1.1h-1.1zM251.3 236.4h1.1v1.1h-1.1zM245.0 235.0h1.1v1.1h-1.1zM285.4 225.7h1.1v1.1h-1.1zM249.0 230.1h1.1v1.1h-1.1zM281.2 197.4h1.1v1.1h-1.1zM288.4 225.4h1.1v1.1h-1.1zM256.8 227.9h1.1v1.1h-1.1zM249.0 202.2h1.1v1.1h-1.1zM251.0 232.4h1.1v1.1h-1.1zM256.8 236.0h1.1v1.1h-1.1zM255.0 233.4h1.1v1.1h-1.1zM280.9 224.8h1.1v1.1h-1.1zM256.7 229.7h1.1v1.1h-1.1zM243.4 200.8h1.1v1.1h-1.1zM285.3 230.3h1.1v1.1h-1.1zM250.5 209.7h1.1v1.1h-1.1zM246.5 231.2h1.1v1.1h-1.1zM283.6 228.8h1.1v1.1h-1.1zM271.7 225.0h1.1v1.1h-1.1zM246.7 229.8h1.1v1.1h-1.1zM256.2 202.8h1.1v1.1h-1.1zM271.9 213.4h1.1v1.1h-1.1zM269.5 211.6h1.1v1.1h-1.1zM255.4 194.8h1.1v1.1h-1.1zM287.7 237.0h1.1v1.1h-1.1zM252.5 206.4h1.1v1.1h-1.1zM286.1 230.6h1.1v1.1h-1.1zM275.6 210.9h1.1v1.1h-1.1zM247.7 231.3h1.1v1.1h-1.1zM278.3 229.5h1.1v1.1h-1.1zM253.8 232.9h1.1v1.1h-1.1zM255.5 229.2h1.1v1.1h-1.1zM248.2 204.2h1.1v1.1h-1.1zM250.7 202.4h1.1v1.1h-1.1zM279.1 228.3h1.1v1.1h-1.1zM248.8 199.5h1.1v1.1h-1.1zM242.9 229.0h1.1v1.1h-1.1zM281.2 230.3h1.1v1.1h-1.1zM258.5 209.0h1.1v1.1h-1.1zM251.9 200.8h1.1v1.1h-1.1zM252.6 205.3h1.1v1.1h-1.1zM280.4 225.9h1.1v1.1h-1.1zM251.6 203.5h1.1v1.1h-1.1zM276.9 232.7h1.1v1.1h-1.1zM281.6 192.2h1.1v1.1h-1.1zM251.7 201.5h1.1v1.1h-1.1zM247.5 234.9h1.1v1.1h-1.1zM261.9 203.0h1.1v1.1h-1.1zM250.3 229.7h1.1v1.1h-1.1zM252.3 226.7h1.1v1.1h-1.1zM251.9 232.6h1.1v1.1h-1.1zM252.9 227.3h1.1v1.1h-1.1zM258.4 233.9h1.1v1.1h-1.1zM255.4 205.7h1.1v1.1h-1.1zM254.2 228.8h1.1v1.1h-1.1zM252.1 204.6h1.1v1.1h-1.1zM269.1 236.4h1.1v1.1h-1.1zM289.5 212.5h1.1v1.1h-1.1zM251.3 202.2h1.1v1.1h-1.1zM258.8 230.1h1.1v1.1h-1.1zM253.3 237.3h1.1v1.1h-1.1zM253.6 206.9h1.1v1.1h-1.1zM278.3 235.3h1.1v1.1h-1.1zM250.5 202.6h1.1v1.1h-1.1zM284.2 230.9h1.1v1.1h-1.1zM251.5 231.8h1.1v1.1h-1.1zM283.7 224.8h1.1v1.1h-1.1zM280.9 226.4h1.1v1.1h-1.1zM249.9 208.4h1.1v1.1h-1.1zM249.4 230.3h1.1v1.1h-1.1zM249.3 197.2h1.1v1.1h-1.1zM283.2 228.4h1.1v1.1h-1.1zM248.7 204.0h1.1v1.1h-1.1zM287.1 229.4h1.1v1.1h-1.1zM253.9 232.2h1.1v1.1h-1.1zM258.7 230.8h1.1v1.1h-1.1zM286.3 225.6h1.1v1.1h-1.1zM280.2 226.5h1.1v1.1h-1.1zM250.1 233.1h1.1v1.1h-1.1zM246.4 196.9h1.1v1.1h-1.1zM277.8 228.6h1.1v1.1h-1.1zM273.0 212.1h1.1v1.1h-1.1zM281.0 232.3h1.1v1.1h-1.1zM279.7 228.5h1.1v1.1h-1.1zM245.1 230.6h1.1v1.1h-1.1zM281.2 230.6h1.1v1.1h-1.1zM250.2 230.9h1.1v1.1h-1.1zM254.9 201.9h1.1v1.1h-1.1zM283.7 231.3h1.1v1.1h-1.1zM272.2 212.9h1.1v1.1h-1.1zM243.8 205.9h1.1v1.1h-1.1zM249.8 205.1h1.1v1.1h-1.1zM251.8 206.9h1.1v1.1h-1.1zM258.9 231.7h1.1v1.1h-1.1zM253.7 227.8h1.1v1.1h-1.1zM248.4 232.4h1.1v1.1h-1.1zM278.9 227.9h1.1v1.1h-1.1zM255.3 233.0h1.1v1.1h-1.1zM284.9 221.6h1.1v1.1h-1.1zM258.9 198.0h1.1v1.1h-1.1zM251.0 207.1h1.1v1.1h-1.1zM252.1 231.8h1.1v1.1h-1.1zM250.0 234.3h1.1v1.1h-1.1zM254.0 202.3h1.1v1.1h-1.1zM278.1 225.1h1.1v1.1h-1.1zM280.8 230.1h1.1v1.1h-1.1zM248.1 226.8h1.1v1.1h-1.1zM251.4 208.5h1.1v1.1h-1.1zM280.9 235.8h1.1v1.1h-1.1zM252.9 207.7h1.1v1.1h-1.1zM255.2 196.9h1.1v1.1h-1.1zM278.7 232.1h1.1v1.1h-1.1zM251.6 205.2h1.1v1.1h-1.1zM260.4 225.1h1.1v1.1h-1.1zM253.4 207.8h1.1v1.1h-1.1zM252.5 204.7h1.1v1.1h-1.1zM257.3 207.2h1.1v1.1h-1.1zM254.8 198.0h1.1v1.1h-1.1zM245.9 205.8h1.1v1.1h-1.1zM246.1 228.8h1.1v1.1h-1.1zM250.2 232.4h1.1v1.1h-1.1zM255.2 229.2h1.1v1.1h-1.1zM252.6 200.4h1.1v1.1h-1.1zM259.8 225.7h1.1v1.1h-1.1zM285.4 231.2h1.1v1.1h-1.1zM248.2 197.2h1.1v1.1h-1.1zM273.8 210.2h1.1v1.1h-1.1zM285.0 223.0h1.1v1.1h-1.1zM280.6 232.6h1.1v1.1h-1.1zM252.7 233.1h1.1v1.1h-1.1zM259.5 205.2h1.1v1.1h-1.1zM257.0 229.0h1.1v1.1h-1.1zM252.1 205.1h1.1v1.1h-1.1zM255.2 199.5h1.1v1.1h-1.1zM259.5 201.5h1.1v1.1h-1.1zM248.9 228.8h1.1v1.1h-1.1zM285.8 226.6h1.1v1.1h-1.1zM250.7 229.2h1.1v1.1h-1.1zM253.7 234.2h1.1v1.1h-1.1zM255.5 231.1h1.1v1.1h-1.1zM249.9 202.6h1.1v1.1h-1.1zM301.3 212.6h1.1v1.1h-1.1zM248.3 197.9h1.1v1.1h-1.1zM274.6 226.2h1.1v1.1h-1.1zM255.3 205.6h1.1v1.1h-1.1zM251.1 204.2h1.1v1.1h-1.1zM258.7 224.9h1.1v1.1h-1.1zM285.0 225.4h1.1v1.1h-1.1zM247.1 201.1h1.1v1.1h-1.1zM253.4 232.9h1.1v1.1h-1.1zM255.4 202.5h1.1v1.1h-1.1zM255.7 232.2h1.1v1.1h-1.1zM283.2 227.6h1.1v1.1h-1.1zM272.4 211.8h1.1v1.1h-1.1zM281.1 221.3h1.1v1.1h-1.1zM277.1 229.3h1.1v1.1h-1.1zM250.9 232.1h1.1v1.1h-1.1zM282.5 224.7h1.1v1.1h-1.1zM253.9 232.9h1.1v1.1h-1.1zM252.9 231.2h1.1v1.1h-1.1zM252.0 208.7h1.1v1.1h-1.1zM247.5 205.8h1.1v1.1h-1.1zM247.2 207.7h1.1v1.1h-1.1zM261.7 224.0h1.1v1.1h-1.1zM285.5 227.6h1.1v1.1h-1.1zM259.4 222.1h1.1v1.1h-1.1zM245.5 204.0h1.1v1.1h-1.1zM257.8 228.5h1.1v1.1h-1.1zM250.2 213.1h1.1v1.1h-1.1zM251.1 230.2h1.1v1.1h-1.1zM276.2 229.1h1.1v1.1h-1.1zM263.1 235.7h1.1v1.1h-1.1zM247.5 236.3h1.1v1.1h-1.1zM276.1 228.4h1.1v1.1h-1.1zM276.7 212.2h1.1v1.1h-1.1zM283.1 226.4h1.1v1.1h-1.1zM256.1 203.5h1.1v1.1h-1.1zM255.6 230.4h1.1v1.1h-1.1zM254.8 231.9h1.1v1.1h-1.1zM250.5 229.9h1.1v1.1h-1.1zM255.3 227.9h1.1v1.1h-1.1zM283.0 228.5h1.1v1.1h-1.1zM251.2 232.5h1.1v1.1h-1.1zM282.0 228.4h1.1v1.1h-1.1zM245.5 227.7h1.1v1.1h-1.1zM249.1 201.9h1.1v1.1h-1.1zM252.4 203.9h1.1v1.1h-1.1zM277.3 211.7h1.1v1.1h-1.1zM248.3 227.7h1.1v1.1h-1.1zM285.5 233.5h1.1v1.1h-1.1zM249.5 228.7h1.1v1.1h-1.1zM248.0 235.6h1.1v1.1h-1.1zM274.2 230.0h1.1v1.1h-1.1zM243.7 233.2h1.1v1.1h-1.1zM270.9 226.5h1.1v1.1h-1.1zM251.3 202.8h1.1v1.1h-1.1zM253.6 234.9h1.1v1.1h-1.1zM253.9 228.8h1.1v1.1h-1.1zM282.1 226.7h1.1v1.1h-1.1zM279.1 229.3h1.1v1.1h-1.1zM285.8 226.5h1.1v1.1h-1.1zM274.8 214.1h1.1v1.1h-1.1zM260.8 204.5h1.1v1.1h-1.1zM251.0 207.7h1.1v1.1h-1.1zM249.7 231.4h1.1v1.1h-1.1zM248.7 198.6h1.1v1.1h-1.1zM250.8 201.7h1.1v1.1h-1.1zM253.1 225.9h1.1v1.1h-1.1zM288.3 220.4h1.1v1.1h-1.1zM250.5 228.6h1.1v1.1h-1.1zM243.9 230.2h1.1v1.1h-1.1zM279.2 227.8h1.1v1.1h-1.1zM278.2 226.2h1.1v1.1h-1.1zM277.7 234.3h1.1v1.1h-1.1zM254.1 231.0h1.1v1.1h-1.1zM286.9 233.9h1.1v1.1h-1.1zM281.6 231.3h1.1v1.1h-1.1zM284.8 218.5h1.1v1.1h-1.1zM244.9 197.0h1.1v1.1h-1.1zM246.3 197.7h1.1v1.1h-1.1zM253.0 232.2h1.1v1.1h-1.1zM252.2 230.7h1.1v1.1h-1.1zM246.3 231.8h1.1v1.1h-1.1zM275.5 219.0h1.1v1.1h-1.1zM254.4 231.0h1.1v1.1h-1.1zM259.1 202.5h1.1v1.1h-1.1zM258.5 195.1h1.1v1.1h-1.1zM251.6 232.2h1.1v1.1h-1.1zM275.5 224.8h1.1v1.1h-1.1zM258.2 199.3h1.1v1.1h-1.1zM277.0 224.2h1.1v1.1h-1.1zM244.0 205.0h1.1v1.1h-1.1zM261.1 227.7h1.1v1.1h-1.1zM271.3 213.6h1.1v1.1h-1.1zM282.5 234.3h1.1v1.1h-1.1zM285.8 230.3h1.1v1.1h-1.1zM247.0 236.2h1.1v1.1h-1.1zM272.0 230.3h1.1v1.1h-1.1zM282.8 227.4h1.1v1.1h-1.1zM251.5 207.5h1.1v1.1h-1.1zM257.6 230.5h1.1v1.1h-1.1zM255.7 200.9h1.1v1.1h-1.1zM250.9 207.9h1.1v1.1h-1.1zM254.6 234.6h1.1v1.1h-1.1zM251.0 206.9h1.1v1.1h-1.1zM252.1 202.2h1.1v1.1h-1.1zM277.8 231.1h1.1v1.1h-1.1zM245.7 201.2h1.1v1.1h-1.1zM280.3 229.4h1.1v1.1h-1.1zM257.9 227.2h1.1v1.1h-1.1zM260.4 194.3h1.1v1.1h-1.1zM246.0 222.8h1.1v1.1h-1.1zM255.0 233.2h1.1v1.1h-1.1zM280.3 228.3h1.1v1.1h-1.1zM253.0 233.5h1.1v1.1h-1.1zM248.3 207.3h1.1v1.1h-1.1zM279.7 230.0h1.1v1.1h-1.1zM251.5 209.7h1.1v1.1h-1.1zM253.2 202.5h1.1v1.1h-1.1zM250.2 205.7h1.1v1.1h-1.1zM254.1 207.2h1.1v1.1h-1.1zM253.3 231.4h1.1v1.1h-1.1zM276.7 231.8h1.1v1.1h-1.1zM252.3 234.9h1.1v1.1h-1.1zM251.5 198.8h1.1v1.1h-1.1zM255.2 208.4h1.1v1.1h-1.1zM254.3 230.4h1.1v1.1h-1.1zM246.4 231.4h1.1v1.1h-1.1zM284.0 226.8h1.1v1.1h-1.1zM275.0 227.8h1.1v1.1h-1.1zM254.3 229.4h1.1v1.1h-1.1zM246.2 235.3h1.1v1.1h-1.1zM253.6 202.7h1.1v1.1h-1.1zM260.1 235.1h1.1v1.1h-1.1zM254.9 229.2h1.1v1.1h-1.1zM250.5 230.9h1.1v1.1h-1.1zM283.0 229.4h1.1v1.1h-1.1zM250.7 198.9h1.1v1.1h-1.1zM272.0 212.8h1.1v1.1h-1.1zM249.7 204.0h1.1v1.1h-1.1zM248.1 198.3h1.1v1.1h-1.1zM242.5 232.1h1.1v1.1h-1.1zM256.8 233.9h1.1v1.1h-1.1zM276.4 228.9h1.1v1.1h-1.1zM247.6 204.4h1.1v1.1h-1.1zM282.8 232.5h1.1v1.1h-1.1zM256.4 206.0h1.1v1.1h-1.1zM249.6 234.9h1.1v1.1h-1.1zM246.0 229.2h1.1v1.1h-1.1zM259.3 228.6h1.1v1.1h-1.1zM252.6 205.8h1.1v1.1h-1.1zM255.5 205.6h1.1v1.1h-1.1zM289.3 227.1h1.1v1.1h-1.1zM250.8 202.7h1.1v1.1h-1.1zM281.6 227.6h1.1v1.1h-1.1zM243.5 232.8h1.1v1.1h-1.1zM253.8 234.9h1.1v1.1h-1.1zM251.8 230.4h1.1v1.1h-1.1zM255.8 233.6h1.1v1.1h-1.1zM284.0 230.2h1.1v1.1h-1.1zM250.1 203.4h1.1v1.1h-1.1zM250.8 207.6h1.1v1.1h-1.1zM250.2 207.0h1.1v1.1h-1.1zM282.4 228.3h1.1v1.1h-1.1zM259.7 199.9h1.1v1.1h-1.1zM285.4 228.3h1.1v1.1h-1.1zM252.5 233.8h1.1v1.1h-1.1zM250.6 200.7h1.1v1.1h-1.1zM278.9 212.4h1.1v1.1h-1.1zM249.0 231.0h1.1v1.1h-1.1zM258.4 230.9h1.1v1.1h-1.1zM278.0 227.2h1.1v1.1h-1.1zM254.7 231.3h1.1v1.1h-1.1zM257.0 204.8h1.1v1.1h-1.1zM276.9 229.4h1.1v1.1h-1.1zM280.7 231.4h1.1v1.1h-1.1zM269.4 198.5h1.1v1.1h-1.1zM285.4 229.3h1.1v1.1h-1.1zM245.8 234.1h1.1v1.1h-1.1zM259.1 198.8h1.1v1.1h-1.1zM245.2 234.5h1.1v1.1h-1.1zM296.3 223.9h1.1v1.1h-1.1zM281.8 228.9h1.1v1.1h-1.1zM253.8 205.2h1.1v1.1h-1.1zM287.8 234.5h1.1v1.1h-1.1zM254.7 207.2h1.1v1.1h-1.1zM281.4 234.6h1.1v1.1h-1.1zM287.5 226.5h1.1v1.1h-1.1zM252.4 199.9h1.1v1.1h-1.1zM285.9 233.9h1.1v1.1h-1.1zM283.1 230.6h1.1v1.1h-1.1zM256.5 199.1h1.1v1.1h-1.1zM249.1 207.5h1.1v1.1h-1.1zM255.8 210.2h1.1v1.1h-1.1zM278.1 230.4h1.1v1.1h-1.1zM287.3 220.9h1.1v1.1h-1.1zM253.5 203.3h1.1v1.1h-1.1zM284.7 228.8h1.1v1.1h-1.1zM281.0 230.0h1.1v1.1h-1.1zM281.4 228.3h1.1v1.1h-1.1zM245.2 200.4h1.1v1.1h-1.1zM279.0 234.7h1.1v1.1h-1.1zM249.8 231.4h1.1v1.1h-1.1zM282.0 227.6h1.1v1.1h-1.1zM259.0 228.3h1.1v1.1h-1.1zM256.8 196.5h1.1v1.1h-1.1zM247.9 205.0h1.1v1.1h-1.1zM253.2 232.2h1.1v1.1h-1.1zM253.7 234.2h1.1v1.1h-1.1zM256.8 229.5h1.1v1.1h-1.1zM250.2 199.3h1.1v1.1h-1.1zM265.2 224.6h1.1v1.1h-1.1zM279.7 226.7h1.1v1.1h-1.1zM245.6 232.9h1.1v1.1h-1.1zM255.3 230.3h1.1v1.1h-1.1zM279.3 236.8h1.1v1.1h-1.1zM253.0 203.5h1.1v1.1h-1.1zM277.5 232.5h1.1v1.1h-1.1zM254.2 224.9h1.1v1.1h-1.1zM247.6 233.6h1.1v1.1h-1.1zM254.5 231.7h1.1v1.1h-1.1zM249.9 232.9h1.1v1.1h-1.1zM244.0 202.0h1.1v1.1h-1.1zM249.6 232.0h1.1v1.1h-1.1zM253.2 208.1h1.1v1.1h-1.1zM252.6 203.5h1.1v1.1h-1.1zM248.7 231.6h1.1v1.1h-1.1zM280.2 234.1h1.1v1.1h-1.1zM284.3 236.0h1.1v1.1h-1.1zM249.5 204.4h1.1v1.1h-1.1zM279.4 230.5h1.1v1.1h-1.1zM256.9 232.2h1.1v1.1h-1.1zM250.3 199.4h1.1v1.1h-1.1zM247.6 207.1h1.1v1.1h-1.1zM280.0 232.2h1.1v1.1h-1.1zM247.3 226.8h1.1v1.1h-1.1zM262.7 230.3h1.1v1.1h-1.1zM281.6 234.4h1.1v1.1h-1.1zM282.5 223.2h1.1v1.1h-1.1zM281.6 236.5h1.1v1.1h-1.1zM278.4 231.0h1.1v1.1h-1.1zM286.6 227.4h1.1v1.1h-1.1zM244.9 228.7h1.1v1.1h-1.1zM288.6 226.9h1.1v1.1h-1.1zM250.4 199.4h1.1v1.1h-1.1zM248.0 202.5h1.1v1.1h-1.1zM251.5 232.1h1.1v1.1h-1.1zM277.2 213.2h1.1v1.1h-1.1zM246.7 229.9h1.1v1.1h-1.1zM279.9 234.7h1.1v1.1h-1.1zM251.7 197.6h1.1v1.1h-1.1zM253.2 227.6h1.1v1.1h-1.1zM249.7 205.1h1.1v1.1h-1.1zM283.3 225.0h1.1v1.1h-1.1zM282.7 231.4h1.1v1.1h-1.1zM255.4 199.4h1.1v1.1h-1.1zM254.6 230.1h1.1v1.1h-1.1zM248.3 235.2h1.1v1.1h-1.1zM279.9 232.3h1.1v1.1h-1.1zM257.4 227.7h1.1v1.1h-1.1zM285.4 231.6h1.1v1.1h-1.1zM278.2 211.7h1.1v1.1h-1.1zM251.0 199.5h1.1v1.1h-1.1zM250.6 228.9h1.1v1.1h-1.1zM254.0 199.0h1.1v1.1h-1.1zM248.7 207.7h1.1v1.1h-1.1zM246.2 201.1h1.1v1.1h-1.1zM288.0 234.2h1.1v1.1h-1.1zM281.0 228.3h1.1v1.1h-1.1zM252.6 231.2h1.1v1.1h-1.1zM250.5 227.9h1.1v1.1h-1.1zM254.9 201.8h1.1v1.1h-1.1z" fill="#ee0a0a" fill-opacity="0.85"/>
<path d="M263.7 233.2h1.1v1.1h-1.1zM252.9 201.7h1.1v1.1h-1.1zM277.9 227.6h1.1v1.1h-1.1zM248.2 236.7h1.1v1.1h-1.1zM279.9 231.2h1.1v1.1h-1.1zM244.0 208.4h1.1v1.1h-1.1zM274.0 232.2h1.1v1.1h-1.1zM250.0 202.5h1.1v1.1h-1.1zM255.5 201.2h1.1v1.1h-1.1zM253.8 232.3h1.1v1.1h-1.1zM256.5 205.7h1.1v1.1h-1.1zM277.9 232.3h1.1v1.1h-1.1zM284.4 232.7h1.1v1.1h-1.1zM243.6 200.7h1.1v1.1h-1.1zM245.1 226.4h1.1v1.1h-1.1zM247.2 198.2h1.1v1.1h-1.1zM248.4 199.4h1.1v1.1h-1.1zM253.3 229.3h1.1v1.1h-1.1zM276.0 225.1h1.1v1.1h-1.1zM251.4 226.1h1.1v1.1h-1.1zM282.4 230.3h1.1v1.1h-1.1zM278.4 231.4h1.1v1.1h-1.1zM252.2 224.7h1.1v1.1h-1.1zM275.7 228.3h1.1v1.1h-1.1zM249.4 232.8h1.1v1.1h-1.1zM251.7 231.0h1.1v1.1h-1.1zM251.2 206.4h1.1v1.1h-1.1zM284.1 235.1h1.1v1.1h-1.1zM252.9 205.8h1.1v1.1h-1.1zM274.5 214.0h1.1v1.1h-1.1zM258.7 199.4h1.1v1.1h-1.1zM275.1 217.4h1.1v1.1h-1.1zM246.3 233.6h1.1v1.1h-1.1zM255.2 224.0h1.1v1.1h-1.1zM249.0 230.1h1.1v1.1h-1.1zM255.3 235.3h1.1v1.1h-1.1zM281.4 222.1h1.1v1.1h-1.1zM256.9 229.3h1.1v1.1h-1.1zM250.8 200.2h1.1v1.1h-1.1zM287.6 229.0h1.1v1.1h-1.1zM250.0 223.4h1.1v1.1h-1.1zM249.5 231.3h1.1v1.1h-1.1zM282.9 231.0h1.1v1.1h-1.1zM275.0 219.0h1.1v1.1h-1.1zM253.9 228.8h1.1v1.1h-1.1zM280.5 201.1h1.1v1.1h-1.1zM292.1 234.8h1.1v1.1h-1.1zM247.2 222.5h1.1v1.1h-1.1zM253.2 227.7h1.1v1.1h-1.1zM284.6 223.2h1.1v1.1h-1.1zM252.7 201.1h1.1v1.1h-1.1zM250.9 229.1h1.1v1.1h-1.1zM255.5 208.6h1.1v1.1h-1.1zM282.6 203.0h1.1v1.1h-1.1zM281.7 224.8h1.1v1.1h-1.1zM281.2 227.4h1.1v1.1h-1.1zM282.6 234.5h1.1v1.1h-1.1zM258.3 207.6h1.1v1.1h-1.1zM249.2 231.0h1.1v1.1h-1.1zM291.0 233.1h1.1v1.1h-1.1zM259.8 204.8h1.1v1.1h-1.1zM248.1 205.0h1.1v1.1h-1.1zM253.7 201.7h1.1v1.1h-1.1zM246.5 227.8h1.1v1.1h-1.1zM247.2 231.9h1.1v1.1h-1.1zM264.8 220.1h1.1v1.1h-1.1zM282.4 231.5h1.1v1.1h-1.1zM246.9 231.0h1.1v1.1h-1.1zM277.9 230.0h1.1v1.1h-1.1zM280.0 237.6h1.1v1.1h-1.1zM287.1 232.4h1.1v1.1h-1.1zM253.4 231.1h1.1v1.1h-1.1zM246.9 202.2h1.1v1.1h-1.1zM260.6 206.9h1.1v1.1h-1.1zM250.0 228.5h1.1v1.1h-1.1zM251.7 209.1h1.1v1.1h-1.1zM253.6 196.9h1.1v1.1h-1.1zM286.6 223.5h1.1v1.1h-1.1zM255.7 200.4h1.1v1.1h-1.1zM283.7 228.9h1.1v1.1h-1.1zM252.8 228.9h1.1v1.1h-1.1zM251.8 233.0h1.1v1.1h-1.1zM247.1 203.9h1.1v1.1h-1.1zM253.9 207.5h1.1v1.1h-1.1zM274.2 226.3h1.1v1.1h-1.1zM259.3 234.6h1.1v1.1h-1.1zM284.9 224.3h1.1v1.1h-1.1zM247.7 224.9h1.1v1.1h-1.1zM279.8 228.4h1.1v1.1h-1.1zM282.7 228.3h1.1v1.1h-1.1zM253.8 198.0h1.1v1.1h-1.1zM251.0 208.3h1.1v1.1h-1.1zM251.5 230.5h1.1v1.1h-1.1zM249.8 209.0h1.1v1.1h-1.1zM255.1 203.9h1.1v1.1h-1.1zM253.9 232.9h1.1v1.1h-1.1zM246.5 205.4h1.1v1.1h-1.1zM276.3 231.3h1.1v1.1h-1.1zM281.3 225.6h1.1v1.1h-1.1zM250.1 225.2h1.1v1.1h-1.1zM251.2 203.5h1.1v1.1h-1.1zM250.8 205.3h1.1v1.1h-1.1zM246.6 206.6h1.1v1.1h-1.1zM250.3 199.8h1.1v1.1h-1.1zM253.0 235.2h1.1v1.1h-1.1zM281.9 227.6h1.1v1.1h-1.1zM250.4 234.3h1.1v1.1h-1.1zM280.2 230.6h1.1v1.1h-1.1zM275.8 226.1h1.1v1.1h-1.1zM258.2 200.7h1.1v1.1h-1.1zM254.4 234.5h1.1v1.1h-1.1zM248.5 203.5h1.1v1.1h-1.1zM256.0 231.7h1.1v1.1h-1.1zM282.5 223.5h1.1v1.1h-1.1zM250.4 236.2h1.1v1.1h-1.1zM283.8 231.7h1.1v1.1h-1.1zM251.6 205.7h1.1v1.1h-1.1zM288.1 224.0h1.1v1.1h-1.1zM279.5 232.8h1.1v1.1h-1.1zM249.3 205.4h1.1v1.1h-1.1zM287.4 230.8h1.1v1.1h-1.1zM245.8 224.1h1.1v1.1h-1.1zM287.2 223.7h1.1v1.1h-1.1zM250.9 201.7h1.1v1.1h-1.1zM293.4 212.7h1.1v1.1h-1.1zM257.6 234.9h1.1v1.1h-1.1zM282.0 232.2h1.1v1.1h-1.1zM253.2 231.1h1.1v1.1h-1.1zM282.9 228.9h1.1v1.1h-1.1zM250.5 202.0h1.1v1.1h-1.1zM255.1 230.5h1.1v1.1h-1.1zM252.3 199.0h1.1v1.1h-1.1zM287.4 229.8h1.1v1.1h-1.1zM251.6 200.4h1.1v1.1h-1.1zM255.2 204.9h1.1v1.1h-1.1zM250.5 227.3h1.1v1.1h-1.1zM246.8 200.6h1.1v1.1h-1.1zM280.3 232.1h1.1v1.1h-1.1zM250.3 232.9h1.1v1.1h-1.1zM278.6 232.8h1.1v1.1h-1.1zM283.2 236.1h1.1v1.1h-1.1zM251.0 204.6h1.1v1.1h-1.1zM283.3 233.6h1.1v1.1h-1.1zM256.1 230.4h1.1v1.1h-1.1zM284.7 224.4h1.1v1.1h-1.1zM280.4 229.7h1.1v1.1h-1.1zM256.0 206.0h1.1v1.1h-1.1zM276.9 231.8h1.1v1.1h-1.1zM272.4 226.3h1.1v1.1h-1.1zM258.7 232.7h1.1v1.1h-1.1zM242.7 226.5h1.1v1.1h-1.1zM254.3 196.8h1.1v1.1h-1.1zM254.3 203.2h1.1v1.1h-1.1zM255.9 229.8h1.1v1.1h-1.1zM255.0 230.3h1.1v1.1h-1.1zM256.0 204.8h1.1v1.1h-1.1zM251.5 202.8h1.1v1.1h-1.1zM250.5 201.1h1.1v1.1h-1.1zM284.1 229.8h1.1v1.1h-1.1zM282.5 228.7h1.1v1.1h-1.1zM251.4 198.5h1.1v1.1h-1.1zM248.2 200.2h1.1v1.1h-1.1zM254.1 200.9h1.1v1.1h-1.1zM254.1 207.9h1.1v1.1h-1.1zM279.0 225.5h1.1v1.1h-1.1zM253.0 203.0h1.1v1.1h-1.1zM252.9 201.7h1.1v1.1h-1.1zM280.9 233.7h1.1v1.1h-1.1zM249.1 205.8h1.1v1.1h-1.1zM242.2 196.7h1.1v1.1h-1.1zM250.9 235.5h1.1v1.1h-1.1zM279.9 226.6h1.1v1.1h-1.1zM269.7 214.8h1.1v1.1h-1.1zM256.9 206.6h1.1v1.1h-1.1zM256.6 234.2h1.1v1.1h-1.1zM300.6 201.1h1.1v1.1h-1.1zM280.1 227.1h1.1v1.1h-1.1zM244.4 201.1h1.1v1.1h-1.1zM284.7 224.9h1.1v1.1h-1.1zM283.6 232.2h1.1v1.1h-1.1zM252.1 203.9h1.1v1.1h-1.1zM245.6 223.8h1.1v1.1h-1.1zM275.0 211.2h1.1v1.1h-1.1zM254.4 231.4h1.1v1.1h-1.1z" fill="#b00000" fill-opacity="0.85"/>
<rect x="241.4" y="191.15" width="63.0" height="48" fill="none" stroke="#555" stroke-width="1.1"/>
<ellipse cx="274.5" cy="212.4" rx="13.1" ry="8.2" transform="rotate(-5 274.5 212.4)" fill="none" stroke="#444" stroke-width="0.9"/>
<rect x="273" y="220.6" width="18.2" height="18.6" fill="none" stroke="#444" stroke-width="0.9"/>
<text x="245.8" y="187.75" font-size="9.1" font-weight="bold" fill="#111" font-family="Liberation Sans, sans-serif">day 66</text>
<text x="289.5" y="210.9" font-size="7" font-weight="bold" fill="#111" font-family="Liberation Sans, sans-serif">2%</text>
<text x="291.4" y="231.7" font-size="7" font-weight="bold" fill="#111" font-family="Liberation Sans, sans-serif">23%</text>
<path d="M317.8 231.0h1.1v1.1h-1.1zM325.7 234.0h1.1v1.1h-1.1zM320.1 211.0h1.1v1.1h-1.1zM328.8 227.7h1.1v1.1h-1.1zM319.1 206.4h1.1v1.1h-1.1zM354.2 232.9h1.1v1.1h-1.1zM344.8 202.7h1.1v1.1h-1.1zM361.1 230.9h1.1v1.1h-1.1zM327.1 198.5h1.1v1.1h-1.1zM323.8 193.4h1.1v1.1h-1.1zM360.2 235.5h1.1v1.1h-1.1zM322.8 204.9h1.1v1.1h-1.1zM355.6 236.9h1.1v1.1h-1.1zM338.7 211.9h1.1v1.1h-1.1zM352.4 233.2h1.1v1.1h-1.1zM328.5 234.6h1.1v1.1h-1.1zM319.0 203.4h1.1v1.1h-1.1zM318.3 221.3h1.1v1.1h-1.1zM353.5 229.5h1.1v1.1h-1.1zM353.4 236.1h1.1v1.1h-1.1zM343.8 215.2h1.1v1.1h-1.1zM341.6 212.6h1.1v1.1h-1.1zM316.5 208.9h1.1v1.1h-1.1zM353.6 230.1h1.1v1.1h-1.1zM334.6 213.4h1.1v1.1h-1.1zM344.4 212.5h1.1v1.1h-1.1zM342.0 215.6h1.1v1.1h-1.1zM318.4 203.8h1.1v1.1h-1.1zM368.3 216.8h1.1v1.1h-1.1zM355.3 224.4h1.1v1.1h-1.1zM351.0 228.1h1.1v1.1h-1.1zM351.0 225.1h1.1v1.1h-1.1zM327.0 200.8h1.1v1.1h-1.1zM319.3 236.7h1.1v1.1h-1.1zM354.2 229.3h1.1v1.1h-1.1zM352.6 228.9h1.1v1.1h-1.1zM359.0 229.4h1.1v1.1h-1.1zM313.5 235.1h1.1v1.1h-1.1zM349.4 232.2h1.1v1.1h-1.1zM353.4 231.5h1.1v1.1h-1.1zM320.1 209.4h1.1v1.1h-1.1zM327.0 207.7h1.1v1.1h-1.1zM323.8 203.9h1.1v1.1h-1.1zM316.3 231.4h1.1v1.1h-1.1zM361.9 228.9h1.1v1.1h-1.1zM314.5 230.9h1.1v1.1h-1.1zM330.1 233.6h1.1v1.1h-1.1zM334.7 207.3h1.1v1.1h-1.1zM347.9 224.2h1.1v1.1h-1.1zM322.0 229.3h1.1v1.1h-1.1zM313.7 205.9h1.1v1.1h-1.1zM362.2 231.5h1.1v1.1h-1.1zM324.4 197.0h1.1v1.1h-1.1zM327.3 202.4h1.1v1.1h-1.1zM340.5 214.0h1.1v1.1h-1.1zM358.0 196.2h1.1v1.1h-1.1zM356.6 229.6h1.1v1.1h-1.1zM321.8 229.0h1.1v1.1h-1.1zM349.8 209.7h1.1v1.1h-1.1zM323.2 232.8h1.1v1.1h-1.1zM320.4 209.1h1.1v1.1h-1.1zM328.4 229.6h1.1v1.1h-1.1zM327.2 232.7h1.1v1.1h-1.1zM320.0 234.0h1.1v1.1h-1.1zM317.6 199.4h1.1v1.1h-1.1zM347.8 225.0h1.1v1.1h-1.1zM322.4 199.9h1.1v1.1h-1.1zM352.3 235.1h1.1v1.1h-1.1zM319.5 200.9h1.1v1.1h-1.1zM332.4 235.5h1.1v1.1h-1.1zM352.4 223.8h1.1v1.1h-1.1zM352.0 224.4h1.1v1.1h-1.1zM322.0 200.1h1.1v1.1h-1.1zM319.9 233.0h1.1v1.1h-1.1zM357.2 224.1h1.1v1.1h-1.1zM356.2 231.7h1.1v1.1h-1.1zM347.0 212.1h1.1v1.1h-1.1zM318.5 226.2h1.1v1.1h-1.1zM327.0 211.9h1.1v1.1h-1.1zM335.4 194.5h1.1v1.1h-1.1zM322.1 197.8h1.1v1.1h-1.1zM325.1 231.5h1.1v1.1h-1.1zM371.6 233.6h1.1v1.1h-1.1zM323.6 236.9h1.1v1.1h-1.1zM354.1 232.8h1.1v1.1h-1.1zM320.1 205.6h1.1v1.1h-1.1zM322.3 221.9h1.1v1.1h-1.1zM354.2 223.4h1.1v1.1h-1.1zM351.2 222.6h1.1v1.1h-1.1zM325.2 235.6h1.1v1.1h-1.1zM321.7 227.9h1.1v1.1h-1.1zM324.3 227.3h1.1v1.1h-1.1zM358.5 235.8h1.1v1.1h-1.1zM352.8 226.5h1.1v1.1h-1.1zM347.6 213.0h1.1v1.1h-1.1zM321.3 228.9h1.1v1.1h-1.1zM320.3 206.7h1.1v1.1h-1.1zM325.1 230.2h1.1v1.1h-1.1zM326.8 228.3h1.1v1.1h-1.1zM333.0 230.8h1.1v1.1h-1.1zM358.4 233.1h1.1v1.1h-1.1zM351.2 237.1h1.1v1.1h-1.1zM358.1 223.4h1.1v1.1h-1.1zM344.5 219.4h1.1v1.1h-1.1zM324.3 197.1h1.1v1.1h-1.1zM331.3 230.1h1.1v1.1h-1.1zM344.0 214.1h1.1v1.1h-1.1zM316.5 228.5h1.1v1.1h-1.1zM353.2 227.9h1.1v1.1h-1.1zM334.8 226.1h1.1v1.1h-1.1zM329.4 206.2h1.1v1.1h-1.1zM323.1 230.3h1.1v1.1h-1.1zM323.8 230.3h1.1v1.1h-1.1zM346.2 212.8h1.1v1.1h-1.1zM327.8 224.7h1.1v1.1h-1.1zM330.9 227.9h1.1v1.1h-1.1zM360.1 224.8h1.1v1.1h-1.1zM366.1 199.5h1.1v1.1h-1.1zM356.1 199.8h1.1v1.1h-1.1zM356.9 230.9h1.1v1.1h-1.1zM319.3 226.3h1.1v1.1h-1.1zM319.8 199.6h1.1v1.1h-1.1zM323.4 230.0h1.1v1.1h-1.1zM327.5 210.2h1.1v1.1h-1.1zM358.4 231.9h1.1v1.1h-1.1zM326.6 234.3h1.1v1.1h-1.1zM351.3 235.2h1.1v1.1h-1.1zM348.5 234.8h1.1v1.1h-1.1zM353.8 230.8h1.1v1.1h-1.1zM329.1 234.7h1.1v1.1h-1.1zM346.2 226.8h1.1v1.1h-1.1zM353.4 234.7h1.1v1.1h-1.1zM354.6 227.4h1.1v1.1h-1.1zM317.4 207.5h1.1v1.1h-1.1zM321.6 204.6h1.1v1.1h-1.1zM351.7 233.4h1.1v1.1h-1.1zM321.7 232.2h1.1v1.1h-1.1zM323.2 203.1h1.1v1.1h-1.1zM357.4 232.4h1.1v1.1h-1.1zM358.1 227.1h1.1v1.1h-1.1zM324.5 230.9h1.1v1.1h-1.1zM348.2 223.5h1.1v1.1h-1.1zM326.6 200.8h1.1v1.1h-1.1zM328.0 206.6h1.1v1.1h-1.1zM331.4 200.6h1.1v1.1h-1.1zM350.2 232.1h1.1v1.1h-1.1zM319.2 226.9h1.1v1.1h-1.1zM327.8 202.3h1.1v1.1h-1.1zM353.2 199.4h1.1v1.1h-1.1zM354.8 235.4h1.1v1.1h-1.1zM343.2 210.7h1.1v1.1h-1.1zM328.7 226.9h1.1v1.1h-1.1zM352.4 234.7h1.1v1.1h-1.1zM343.2 220.1h1.1v1.1h-1.1zM319.7 199.1h1.1v1.1h-1.1zM358.4 235.0h1.1v1.1h-1.1zM357.2 226.2h1.1v1.1h-1.1zM329.6 201.9h1.1v1.1h-1.1zM320.6 198.8h1.1v1.1h-1.1zM325.5 197.8h1.1v1.1h-1.1zM352.7 225.0h1.1v1.1h-1.1zM325.1 201.9h1.1v1.1h-1.1zM354.1 232.2h1.1v1.1h-1.1zM323.0 202.6h1.1v1.1h-1.1zM321.6 227.7h1.1v1.1h-1.1zM322.5 202.4h1.1v1.1h-1.1zM322.2 230.2h1.1v1.1h-1.1zM325.5 229.4h1.1v1.1h-1.1zM329.4 201.1h1.1v1.1h-1.1zM323.6 204.4h1.1v1.1h-1.1zM319.1 229.4h1.1v1.1h-1.1zM360.9 227.4h1.1v1.1h-1.1zM345.6 226.7h1.1v1.1h-1.1zM328.6 233.8h1.1v1.1h-1.1zM332.2 235.5h1.1v1.1h-1.1zM330.9 201.7h1.1v1.1h-1.1zM322.3 234.9h1.1v1.1h-1.1zM324.4 232.6h1.1v1.1h-1.1zM349.0 227.2h1.1v1.1h-1.1zM327.0 197.5h1.1v1.1h-1.1zM314.9 227.0h1.1v1.1h-1.1zM313.2 232.8h1.1v1.1h-1.1zM356.8 235.2h1.1v1.1h-1.1zM316.2 201.5h1.1v1.1h-1.1zM328.1 225.1h1.1v1.1h-1.1zM354.3 231.9h1.1v1.1h-1.1zM353.9 232.0h1.1v1.1h-1.1zM348.4 229.5h1.1v1.1h-1.1zM324.4 203.2h1.1v1.1h-1.1zM326.0 202.2h1.1v1.1h-1.1zM329.2 199.7h1.1v1.1h-1.1zM320.7 237.0h1.1v1.1h-1.1zM321.0 202.2h1.1v1.1h-1.1zM354.4 225.6h1.1v1.1h-1.1zM321.0 233.6h1.1v1.1h-1.1zM355.2 225.8h1.1v1.1h-1.1zM318.3 209.9h1.1v1.1h-1.1zM321.6 230.3h1.1v1.1h-1.1zM318.1 205.3h1.1v1.1h-1.1zM324.2 202.2h1.1v1.1h-1.1zM344.4 232.2h1.1v1.1h-1.1zM319.4 200.3h1.1v1.1h-1.1zM330.6 201.3h1.1v1.1h-1.1zM324.9 204.5h1.1v1.1h-1.1zM360.8 223.4h1.1v1.1h-1.1zM360.4 231.4h1.1v1.1h-1.1zM321.7 230.9h1.1v1.1h-1.1zM354.2 236.0h1.1v1.1h-1.1zM358.5 229.6h1.1v1.1h-1.1zM321.0 205.1h1.1v1.1h-1.1zM353.6 230.8h1.1v1.1h-1.1zM319.6 230.0h1.1v1.1h-1.1zM329.4 233.4h1.1v1.1h-1.1zM315.4 227.9h1.1v1.1h-1.1zM322.5 223.5h1.1v1.1h-1.1zM356.7 228.8h1.1v1.1h-1.1zM322.5 199.5h1.1v1.1h-1.1zM323.7 204.7h1.1v1.1h-1.1zM345.7 211.6h1.1v1.1h-1.1zM328.7 200.8h1.1v1.1h-1.1zM320.5 204.2h1.1v1.1h-1.1zM361.0 227.2h1.1v1.1h-1.1zM322.9 202.1h1.1v1.1h-1.1zM352.1 230.4h1.1v1.1h-1.1zM320.7 203.7h1.1v1.1h-1.1zM353.8 229.0h1.1v1.1h-1.1zM320.4 208.1h1.1v1.1h-1.1zM321.2 208.5h1.1v1.1h-1.1zM354.3 229.2h1.1v1.1h-1.1zM315.5 203.1h1.1v1.1h-1.1zM353.8 234.9h1.1v1.1h-1.1zM352.1 225.4h1.1v1.1h-1.1zM350.3 229.7h1.1v1.1h-1.1zM325.1 206.0h1.1v1.1h-1.1zM344.0 211.4h1.1v1.1h-1.1zM316.8 207.0h1.1v1.1h-1.1zM329.5 233.8h1.1v1.1h-1.1zM318.1 234.5h1.1v1.1h-1.1zM353.0 225.3h1.1v1.1h-1.1zM319.5 205.4h1.1v1.1h-1.1zM321.7 233.5h1.1v1.1h-1.1zM324.3 220.5h1.1v1.1h-1.1zM333.4 231.4h1.1v1.1h-1.1zM338.0 218.7h1.1v1.1h-1.1zM347.2 225.4h1.1v1.1h-1.1zM317.5 201.2h1.1v1.1h-1.1zM348.9 226.5h1.1v1.1h-1.1zM357.7 229.8h1.1v1.1h-1.1zM324.6 197.0h1.1v1.1h-1.1zM329.9 230.4h1.1v1.1h-1.1zM320.6 202.0h1.1v1.1h-1.1zM351.1 228.6h1.1v1.1h-1.1zM323.6 197.9h1.1v1.1h-1.1zM320.6 225.7h1.1v1.1h-1.1zM337.4 213.2h1.1v1.1h-1.1zM328.0 234.6h1.1v1.1h-1.1zM319.4 202.3h1.1v1.1h-1.1zM326.9 202.4h1.1v1.1h-1.1zM323.6 199.9h1.1v1.1h-1.1zM355.3 232.3h1.1v1.1h-1.1zM321.2 196.5h1.1v1.1h-1.1zM318.2 236.1h1.1v1.1h-1.1zM355.7 226.4h1.1v1.1h-1.1zM318.6 231.4h1.1v1.1h-1.1zM357.2 230.9h1.1v1.1h-1.1zM351.7 228.3h1.1v1.1h-1.1zM356.8 228.9h1.1v1.1h-1.1zM315.5 226.0h1.1v1.1h-1.1zM349.8 226.8h1.1v1.1h-1.1zM319.1 228.7h1.1v1.1h-1.1zM357.5 226.4h1.1v1.1h-1.1zM360.0 193.3h1.1v1.1h-1.1zM365.6 216.2h1.1v1.1h-1.1zM351.2 232.0h1.1v1.1h-1.1zM347.4 229.5h1.1v1.1h-1.1zM353.6 228.3h1.1v1.1h-1.1zM324.5 228.2h1.1v1.1h-1.1zM318.8 229.9h1.1v1.1h-1.1zM321.4 234.3h1.1v1.1h-1.1zM324.0 231.1h1.1v1.1h-1.1zM356.0 227.8h1.1v1.1h-1.1zM352.7 229.7h1.1v1.1h-1.1zM327.2 196.8h1.1v1.1h-1.1zM322.7 235.1h1.1v1.1h-1.1zM321.7 233.0h1.1v1.1h-1.1zM325.1 199.5h1.1v1.1h-1.1zM325.9 229.6h1.1v1.1h-1.1zM315.8 198.9h1.1v1.1h-1.1zM321.6 206.7h1.1v1.1h-1.1zM344.8 213.8h1.1v1.1h-1.1zM318.9 201.0h1.1v1.1h-1.1zM320.6 227.3h1.1v1.1h-1.1zM357.9 230.9h1.1v1.1h-1.1zM354.2 221.1h1.1v1.1h-1.1zM352.3 228.9h1.1v1.1h-1.1zM357.3 220.7h1.1v1.1h-1.1zM322.6 201.6h1.1v1.1h-1.1zM354.1 232.2h1.1v1.1h-1.1zM346.4 226.2h1.1v1.1h-1.1zM320.5 235.6h1.1v1.1h-1.1zM322.1 201.1h1.1v1.1h-1.1zM353.2 233.2h1.1v1.1h-1.1zM321.3 203.0h1.1v1.1h-1.1zM352.4 228.3h1.1v1.1h-1.1zM347.8 214.7h1.1v1.1h-1.1zM352.6 231.3h1.1v1.1h-1.1zM342.0 209.6h1.1v1.1h-1.1zM322.3 230.2h1.1v1.1h-1.1zM357.7 230.2h1.1v1.1h-1.1zM325.0 202.3h1.1v1.1h-1.1zM321.8 229.8h1.1v1.1h-1.1zM316.4 226.8h1.1v1.1h-1.1zM346.1 213.8h1.1v1.1h-1.1zM354.9 225.8h1.1v1.1h-1.1zM356.8 224.0h1.1v1.1h-1.1zM350.3 223.3h1.1v1.1h-1.1zM320.8 232.3h1.1v1.1h-1.1zM320.7 229.5h1.1v1.1h-1.1zM345.3 235.6h1.1v1.1h-1.1zM340.6 215.2h1.1v1.1h-1.1zM322.6 226.9h1.1v1.1h-1.1zM326.9 229.9h1.1v1.1h-1.1zM334.2 218.3h1.1v1.1h-1.1zM313.9 231.0h1.1v1.1h-1.1zM353.6 229.3h1.1v1.1h-1.1zM355.7 199.7h1.1v1.1h-1.1zM328.3 202.9h1.1v1.1h-1.1zM346.9 228.5h1.1v1.1h-1.1zM352.4 213.7h1.1v1.1h-1.1zM344.4 228.0h1.1v1.1h-1.1zM356.9 202.4h1.1v1.1h-1.1zM351.2 230.2h1.1v1.1h-1.1zM323.5 226.6h1.1v1.1h-1.1zM345.4 220.9h1.1v1.1h-1.1zM357.6 228.2h1.1v1.1h-1.1zM317.5 197.2h1.1v1.1h-1.1zM350.0 231.4h1.1v1.1h-1.1zM323.5 204.9h1.1v1.1h-1.1zM349.9 228.9h1.1v1.1h-1.1zM322.5 203.5h1.1v1.1h-1.1zM345.5 216.8h1.1v1.1h-1.1zM323.1 208.4h1.1v1.1h-1.1zM342.6 210.4h1.1v1.1h-1.1zM333.9 208.7h1.1v1.1h-1.1zM350.3 235.0h1.1v1.1h-1.1zM326.7 229.6h1.1v1.1h-1.1zM366.2 233.5h1.1v1.1h-1.1zM320.4 198.9h1.1v1.1h-1.1zM345.4 215.8h1.1v1.1h-1.1zM322.8 202.8h1.1v1.1h-1.1zM330.8 206.9h1.1v1.1h-1.1zM321.4 232.1h1.1v1.1h-1.1zM325.7 231.2h1.1v1.1h-1.1zM318.8 199.6h1.1v1.1h-1.1zM326.9 229.0h1.1v1.1h-1.1zM337.4 208.7h1.1v1.1h-1.1zM328.2 233.7h1.1v1.1h-1.1zM319.9 202.5h1.1v1.1h-1.1zM351.7 224.9h1.1v1.1h-1.1zM324.8 203.1h1.1v1.1h-1.1zM317.1 231.6h1.1v1.1h-1.1zM320.4 199.8h1.1v1.1h-1.1zM324.9 234.0h1.1v1.1h-1.1zM351.3 231.1h1.1v1.1h-1.1zM355.0 227.2h1.1v1.1h-1.1zM316.4 232.8h1.1v1.1h-1.1zM316.7 201.5h1.1v1.1h-1.1zM351.6 235.7h1.1v1.1h-1.1zM354.5 196.2h1.1v1.1h-1.1zM322.6 204.8h1.1v1.1h-1.1zM340.1 213.4h1.1v1.1h-1.1zM327.6 237.0h1.1v1.1h-1.1zM325.4 201.8h1.1v1.1h-1.1zM321.0 226.7h1.1v1.1h-1.1zM327.5 206.0h1.1v1.1h-1.1zM316.6 230.6h1.1v1.1h-1.1zM329.7 235.9h1.1v1.1h-1.1zM354.4 232.5h1.1v1.1h-1.1zM352.4 221.0h1.1v1.1h-1.1zM348.9 237.3h1.1v1.1h-1.1zM350.8 225.5h1.1v1.1h-1.1zM324.6 201.1h1.1v1.1h-1.1zM323.4 229.8h1.1v1.1h-1.1zM353.7 234.3h1.1v1.1h-1.1zM324.3 234.4h1.1v1.1h-1.1zM324.7 199.2h1.1v1.1h-1.1zM353.7 233.6h1.1v1.1h-1.1zM355.0 234.6h1.1v1.1h-1.1zM319.5 233.5h1.1v1.1h-1.1zM322.3 223.9h1.1v1.1h-1.1zM322.9 199.0h1.1v1.1h-1.1zM352.9 231.8h1.1v1.1h-1.1zM317.4 209.6h1.1v1.1h-1.1zM325.5 203.7h1.1v1.1h-1.1zM323.0 210.1h1.1v1.1h-1.1zM315.3 233.3h1.1v1.1h-1.1zM316.1 201.8h1.1v1.1h-1.1zM324.0 202.6h1.1v1.1h-1.1zM318.3 200.5h1.1v1.1h-1.1zM343.8 210.1h1.1v1.1h-1.1zM357.3 229.0h1.1v1.1h-1.1zM320.9 199.6h1.1v1.1h-1.1zM348.1 236.0h1.1v1.1h-1.1zM327.4 207.1h1.1v1.1h-1.1zM356.3 223.9h1.1v1.1h-1.1zM321.1 229.9h1.1v1.1h-1.1zM355.1 224.0h1.1v1.1h-1.1zM317.7 230.0h1.1v1.1h-1.1zM328.8 234.4h1.1v1.1h-1.1zM318.9 206.1h1.1v1.1h-1.1zM318.6 228.4h1.1v1.1h-1.1zM358.9 196.1h1.1v1.1h-1.1zM344.7 210.5h1.1v1.1h-1.1zM325.6 221.0h1.1v1.1h-1.1zM352.0 232.7h1.1v1.1h-1.1zM347.6 233.9h1.1v1.1h-1.1zM323.8 198.3h1.1v1.1h-1.1zM317.0 199.8h1.1v1.1h-1.1zM320.0 204.6h1.1v1.1h-1.1zM313.4 201.8h1.1v1.1h-1.1zM350.8 225.4h1.1v1.1h-1.1zM322.7 202.0h1.1v1.1h-1.1zM346.4 230.6h1.1v1.1h-1.1zM356.7 232.1h1.1v1.1h-1.1zM319.3 202.9h1.1v1.1h-1.1zM352.4 215.2h1.1v1.1h-1.1zM329.8 203.7h1.1v1.1h-1.1zM317.8 200.8h1.1v1.1h-1.1zM348.5 226.8h1.1v1.1h-1.1zM320.9 226.5h1.1v1.1h-1.1zM349.2 233.5h1.1v1.1h-1.1zM325.9 232.5h1.1v1.1h-1.1zM347.8 226.0h1.1v1.1h-1.1zM346.4 216.9h1.1v1.1h-1.1zM350.2 230.6h1.1v1.1h-1.1zM330.3 199.8h1.1v1.1h-1.1zM341.5 211.6h1.1v1.1h-1.1zM321.6 234.1h1.1v1.1h-1.1zM356.4 235.8h1.1v1.1h-1.1zM354.5 236.6h1.1v1.1h-1.1zM316.7 228.2h1.1v1.1h-1.1zM346.8 228.1h1.1v1.1h-1.1zM348.1 229.2h1.1v1.1h-1.1zM329.0 234.4h1.1v1.1h-1.1zM316.9 202.0h1.1v1.1h-1.1zM319.4 206.1h1.1v1.1h-1.1zM359.0 229.5h1.1v1.1h-1.1zM350.8 226.9h1.1v1.1h-1.1zM355.2 228.0h1.1v1.1h-1.1zM333.2 216.5h1.1v1.1h-1.1zM320.9 203.2h1.1v1.1h-1.1zM323.8 202.1h1.1v1.1h-1.1zM321.3 229.9h1.1v1.1h-1.1zM341.6 215.6h1.1v1.1h-1.1zM348.7 230.1h1.1v1.1h-1.1zM325.0 234.3h1.1v1.1h-1.1zM326.7 226.1h1.1v1.1h-1.1zM326.0 209.0h1.1v1.1h-1.1zM320.4 198.9h1.1v1.1h-1.1zM317.3 230.9h1.1v1.1h-1.1zM318.1 198.2h1.1v1.1h-1.1zM349.2 234.9h1.1v1.1h-1.1zM321.0 231.8h1.1v1.1h-1.1zM341.7 214.2h1.1v1.1h-1.1zM352.5 230.3h1.1v1.1h-1.1zM350.1 228.3h1.1v1.1h-1.1zM322.1 225.3h1.1v1.1h-1.1zM321.6 201.4h1.1v1.1h-1.1zM325.2 231.5h1.1v1.1h-1.1zM320.9 205.5h1.1v1.1h-1.1zM347.7 213.6h1.1v1.1h-1.1zM326.9 235.4h1.1v1.1h-1.1zM344.9 232.5h1.1v1.1h-1.1zM324.2 235.0h1.1v1.1h-1.1zM355.0 227.6h1.1v1.1h-1.1zM320.2 236.7h1.1v1.1h-1.1zM324.9 197.1h1.1v1.1h-1.1zM353.4 228.4h1.1v1.1h-1.1zM329.2 205.7h1.1v1.1h-1.1zM357.4 204.5h1.1v1.1h-1.1zM318.1 201.1h1.1v1.1h-1.1zM355.7 224.4h1.1v1.1h-1.1zM354.9 235.1h1.1v1.1h-1.1zM353.7 228.0h1.1v1.1h-1.1zM326.7 202.8h1.1v1.1h-1.1zM322.7 234.2h1.1v1.1h-1.1zM325.4 202.0h1.1v1.1h-1.1zM316.7 206.7h1.1v1.1h-1.1zM354.1 230.7h1.1v1.1h-1.1zM316.3 202.6h1.1v1.1h-1.1zM349.1 213.3h1.1v1.1h-1.1zM328.0 206.2h1.1v1.1h-1.1zM345.5 215.4h1.1v1.1h-1.1zM352.4 232.0h1.1v1.1h-1.1zM316.8 200.6h1.1v1.1h-1.1zM356.3 227.7h1.1v1.1h-1.1zM354.0 227.3h1.1v1.1h-1.1zM354.3 228.6h1.1v1.1h-1.1zM327.6 204.8h1.1v1.1h-1.1zM325.1 232.1h1.1v1.1h-1.1zM352.1 227.0h1.1v1.1h-1.1zM352.9 232.6h1.1v1.1h-1.1zM316.3 204.8h1.1v1.1h-1.1zM328.3 232.6h1.1v1.1h-1.1zM354.9 225.3h1.1v1.1h-1.1zM314.6 201.0h1.1v1.1h-1.1zM325.9 203.7h1.1v1.1h-1.1zM322.6 205.3h1.1v1.1h-1.1zM317.9 201.4h1.1v1.1h-1.1zM322.8 232.8h1.1v1.1h-1.1zM320.0 230.0h1.1v1.1h-1.1zM356.5 226.9h1.1v1.1h-1.1zM320.3 230.4h1.1v1.1h-1.1zM324.9 203.4h1.1v1.1h-1.1zM322.6 199.5h1.1v1.1h-1.1zM319.6 236.3h1.1v1.1h-1.1zM327.9 228.9h1.1v1.1h-1.1zM321.4 196.2h1.1v1.1h-1.1zM328.1 205.0h1.1v1.1h-1.1zM351.6 233.1h1.1v1.1h-1.1zM331.3 226.0h1.1v1.1h-1.1zM343.4 213.4h1.1v1.1h-1.1zM320.3 197.6h1.1v1.1h-1.1zM351.0 223.0h1.1v1.1h-1.1zM325.5 223.4h1.1v1.1h-1.1zM317.6 231.6h1.1v1.1h-1.1zM325.7 202.4h1.1v1.1h-1.1zM322.0 231.9h1.1v1.1h-1.1zM346.2 237.3h1.1v1.1h-1.1zM325.8 230.5h1.1v1.1h-1.1zM323.8 202.7h1.1v1.1h-1.1zM353.8 223.5h1.1v1.1h-1.1zM351.6 233.8h1.1v1.1h-1.1zM323.5 203.9h1.1v1.1h-1.1zM324.8 228.3h1.1v1.1h-1.1zM351.5 216.3h1.1v1.1h-1.1zM322.6 200.1h1.1v1.1h-1.1zM322.4 229.2h1.1v1.1h-1.1zM354.2 233.9h1.1v1.1h-1.1zM353.2 231.7h1.1v1.1h-1.1zM350.2 233.7h1.1v1.1h-1.1zM324.0 198.9h1.1v1.1h-1.1zM354.7 236.7h1.1v1.1h-1.1zM320.6 200.6h1.1v1.1h-1.1zM315.5 206.6h1.1v1.1h-1.1zM322.9 231.4h1.1v1.1h-1.1zM320.2 235.5h1.1v1.1h-1.1zM316.4 235.3h1.1v1.1h-1.1zM369.3 236.3h1.1v1.1h-1.1zM328.7 236.3h1.1v1.1h-1.1zM315.4 228.6h1.1v1.1h-1.1zM318.4 235.1h1.1v1.1h-1.1zM322.6 225.5h1.1v1.1h-1.1zM354.5 226.7h1.1v1.1h-1.1zM352.1 227.8h1.1v1.1h-1.1zM323.8 206.3h1.1v1.1h-1.1zM323.9 229.1h1.1v1.1h-1.1zM324.6 202.5h1.1v1.1h-1.1zM317.9 208.3h1.1v1.1h-1.1zM326.5 230.2h1.1v1.1h-1.1zM352.6 234.3h1.1v1.1h-1.1zM320.4 199.5h1.1v1.1h-1.1zM321.5 204.5h1.1v1.1h-1.1zM349.9 229.8h1.1v1.1h-1.1zM352.2 212.8h1.1v1.1h-1.1zM357.8 198.4h1.1v1.1h-1.1zM349.3 228.1h1.1v1.1h-1.1zM327.7 230.7h1.1v1.1h-1.1zM345.7 210.3h1.1v1.1h-1.1zM327.9 195.3h1.1v1.1h-1.1zM319.4 199.8h1.1v1.1h-1.1zM319.1 198.5h1.1v1.1h-1.1zM325.7 206.4h1.1v1.1h-1.1zM324.9 199.4h1.1v1.1h-1.1zM349.0 229.2h1.1v1.1h-1.1zM325.4 230.3h1.1v1.1h-1.1zM342.8 209.4h1.1v1.1h-1.1zM352.3 200.8h1.1v1.1h-1.1zM354.3 227.9h1.1v1.1h-1.1zM321.3 200.9h1.1v1.1h-1.1zM351.1 231.9h1.1v1.1h-1.1zM325.5 227.6h1.1v1.1h-1.1zM320.3 204.9h1.1v1.1h-1.1zM330.1 226.1h1.1v1.1h-1.1zM358.9 230.6h1.1v1.1h-1.1zM318.3 232.1h1.1v1.1h-1.1zM319.1 204.1h1.1v1.1h-1.1zM344.4 216.2h1.1v1.1h-1.1zM349.6 230.4h1.1v1.1h-1.1zM327.6 203.6h1.1v1.1h-1.1zM323.9 203.6h1.1v1.1h-1.1zM357.4 197.4h1.1v1.1h-1.1zM325.3 201.1h1.1v1.1h-1.1zM351.3 224.8h1.1v1.1h-1.1zM352.0 217.3h1.1v1.1h-1.1zM345.8 212.7h1.1v1.1h-1.1zM348.0 209.7h1.1v1.1h-1.1zM326.2 232.1h1.1v1.1h-1.1zM355.2 234.3h1.1v1.1h-1.1zM316.5 223.1h1.1v1.1h-1.1zM323.8 229.4h1.1v1.1h-1.1zM325.6 204.6h1.1v1.1h-1.1zM355.2 226.2h1.1v1.1h-1.1zM350.4 223.1h1.1v1.1h-1.1zM320.1 228.7h1.1v1.1h-1.1zM320.8 235.0h1.1v1.1h-1.1zM323.9 205.2h1.1v1.1h-1.1zM353.9 228.7h1.1v1.1h-1.1zM326.3 230.0h1.1v1.1h-1.1zM359.4 228.3h1.1v1.1h-1.1zM318.5 234.9h1.1v1.1h-1.1zM354.8 194.6h1.1v1.1h-1.1zM317.2 199.3h1.1v1.1h-1.1zM313.4 229.4h1.1v1.1h-1.1zM319.0 228.9h1.1v1.1h-1.1zM319.3 200.7h1.1v1.1h-1.1zM322.7 196.6h1.1v1.1h-1.1zM347.1 228.9h1.1v1.1h-1.1zM323.2 205.8h1.1v1.1h-1.1zM325.9 203.3h1.1v1.1h-1.1zM321.0 200.4h1.1v1.1h-1.1zM336.3 233.7h1.1v1.1h-1.1zM342.2 215.8h1.1v1.1h-1.1zM321.5 205.1h1.1v1.1h-1.1zM354.0 232.1h1.1v1.1h-1.1zM319.2 230.6h1.1v1.1h-1.1zM357.7 229.5h1.1v1.1h-1.1zM351.4 213.6h1.1v1.1h-1.1zM321.0 228.0h1.1v1.1h-1.1zM316.0 229.8h1.1v1.1h-1.1zM321.1 227.5h1.1v1.1h-1.1zM325.8 231.1h1.1v1.1h-1.1zM322.2 204.3h1.1v1.1h-1.1zM328.1 200.8h1.1v1.1h-1.1zM323.0 205.1h1.1v1.1h-1.1zM316.4 202.6h1.1v1.1h-1.1zM319.1 201.4h1.1v1.1h-1.1zM319.0 205.6h1.1v1.1h-1.1zM324.9 201.0h1.1v1.1h-1.1zM348.8 224.9h1.1v1.1h-1.1zM345.3 227.9h1.1v1.1h-1.1zM314.0 231.1h1.1v1.1h-1.1zM353.6 231.0h1.1v1.1h-1.1zM359.6 236.0h1.1v1.1h-1.1zM330.6 229.5h1.1v1.1h-1.1zM331.4 197.3h1.1v1.1h-1.1zM347.9 230.9h1.1v1.1h-1.1zM318.1 201.4h1.1v1.1h-1.1zM327.6 207.2h1.1v1.1h-1.1zM326.9 231.6h1.1v1.1h-1.1zM319.1 228.7h1.1v1.1h-1.1zM348.5 215.7h1.1v1.1h-1.1zM319.6 233.1h1.1v1.1h-1.1zM350.0 223.8h1.1v1.1h-1.1zM317.8 236.1h1.1v1.1h-1.1zM350.2 227.1h1.1v1.1h-1.1zM323.2 231.0h1.1v1.1h-1.1zM321.4 229.1h1.1v1.1h-1.1zM357.2 221.1h1.1v1.1h-1.1zM323.1 200.5h1.1v1.1h-1.1zM349.0 207.8h1.1v1.1h-1.1zM327.7 198.4h1.1v1.1h-1.1zM328.6 201.5h1.1v1.1h-1.1zM321.6 201.4h1.1v1.1h-1.1zM319.2 203.1h1.1v1.1h-1.1zM353.9 226.8h1.1v1.1h-1.1zM317.4 199.3h1.1v1.1h-1.1zM321.0 202.3h1.1v1.1h-1.1zM327.7 202.3h1.1v1.1h-1.1zM319.5 205.1h1.1v1.1h-1.1zM327.9 203.7h1.1v1.1h-1.1zM316.8 205.4h1.1v1.1h-1.1zM325.6 235.5h1.1v1.1h-1.1zM353.9 232.8h1.1v1.1h-1.1zM316.0 236.2h1.1v1.1h-1.1zM350.0 231.2h1.1v1.1h-1.1zM321.4 209.7h1.1v1.1h-1.1zM319.6 206.9h1.1v1.1h-1.1zM318.0 220.3h1.1v1.1h-1.1zM328.7 228.2h1.1v1.1h-1.1zM339.9 213.4h1.1v1.1h-1.1zM318.4 230.6h1.1v1.1h-1.1zM316.4 232.7h1.1v1.1h-1.1zM325.3 203.2h1.1v1.1h-1.1zM357.3 205.9h1.1v1.1h-1.1zM322.7 206.1h1.1v1.1h-1.1zM320.2 229.3h1.1v1.1h-1.1zM324.0 229.0h1.1v1.1h-1.1zM323.4 201.6h1.1v1.1h-1.1zM355.6 234.4h1.1v1.1h-1.1zM354.6 233.5h1.1v1.1h-1.1zM329.1 202.7h1.1v1.1h-1.1zM328.8 209.7h1.1v1.1h-1.1zM325.4 205.4h1.1v1.1h-1.1zM326.0 231.1h1.1v1.1h-1.1zM323.5 237.5h1.1v1.1h-1.1zM320.8 228.8h1.1v1.1h-1.1zM333.1 201.2h1.1v1.1h-1.1zM349.4 234.6h1.1v1.1h-1.1zM355.4 230.1h1.1v1.1h-1.1zM336.9 206.7h1.1v1.1h-1.1zM342.2 214.9h1.1v1.1h-1.1zM320.3 204.4h1.1v1.1h-1.1zM327.9 198.5h1.1v1.1h-1.1zM327.7 230.2h1.1v1.1h-1.1zM354.7 225.0h1.1v1.1h-1.1zM336.1 197.7h1.1v1.1h-1.1zM327.5 227.8h1.1v1.1h-1.1zM339.9 214.8h1.1v1.1h-1.1zM350.8 223.1h1.1v1.1h-1.1zM340.8 210.3h1.1v1.1h-1.1zM353.5 229.0h1.1v1.1h-1.1zM359.6 223.4h1.1v1.1h-1.1zM355.5 231.3h1.1v1.1h-1.1zM353.6 224.8h1.1v1.1h-1.1zM361.9 236.6h1.1v1.1h-1.1zM321.8 224.5h1.1v1.1h-1.1zM319.8 230.9h1.1v1.1h-1.1zM314.1 233.1h1.1v1.1h-1.1zM351.6 230.7h1.1v1.1h-1.1zM325.1 234.5h1.1v1.1h-1.1zM317.3 234.4h1.1v1.1h-1.1zM325.5 199.0h1.1v1.1h-1.1zM347.2 215.6h1.1v1.1h-1.1zM350.3 232.8h1.1v1.1h-1.1zM325.0 205.2h1.1v1.1h-1.1zM326.3 202.6h1.1v1.1h-1.1zM319.3 207.3h1.1v1.1h-1.1zM329.5 198.5h1.1v1.1h-1.1zM348.3 230.8h1.1v1.1h-1.1zM357.0 223.9h1.1v1.1h-1.1zM358.6 227.3h1.1v1.1h-1.1zM327.8 236.9h1.1v1.1h-1.1zM321.0 232.0h1.1v1.1h-1.1zM359.1 229.1h1.1v1.1h-1.1zM353.3 234.8h1.1v1.1h-1.1zM347.5 228.5h1.1v1.1h-1.1zM326.4 226.0h1.1v1.1h-1.1zM329.0 202.4h1.1v1.1h-1.1zM353.4 197.8h1.1v1.1h-1.1zM315.0 200.5h1.1v1.1h-1.1zM350.0 235.7h1.1v1.1h-1.1zM321.5 200.2h1.1v1.1h-1.1zM357.6 227.8h1.1v1.1h-1.1zM320.6 232.7h1.1v1.1h-1.1zM324.3 200.3h1.1v1.1h-1.1zM316.7 206.3h1.1v1.1h-1.1zM326.0 203.6h1.1v1.1h-1.1zM355.9 234.4h1.1v1.1h-1.1zM320.2 205.5h1.1v1.1h-1.1zM325.9 205.9h1.1v1.1h-1.1zM323.9 198.7h1.1v1.1h-1.1zM345.9 227.0h1.1v1.1h-1.1zM321.6 231.8h1.1v1.1h-1.1zM322.7 200.0h1.1v1.1h-1.1zM322.5 230.7h1.1v1.1h-1.1zM355.4 232.7h1.1v1.1h-1.1zM352.0 230.2h1.1v1.1h-1.1zM322.1 200.3h1.1v1.1h-1.1zM349.5 228.3h1.1v1.1h-1.1zM323.4 205.8h1.1v1.1h-1.1zM323.2 231.2h1.1v1.1h-1.1zM321.4 202.5h1.1v1.1h-1.1zM320.8 205.3h1.1v1.1h-1.1zM361.4 232.2h1.1v1.1h-1.1zM350.9 224.2h1.1v1.1h-1.1zM355.5 229.6h1.1v1.1h-1.1zM360.2 233.1h1.1v1.1h-1.1zM352.5 224.3h1.1v1.1h-1.1zM351.0 227.8h1.1v1.1h-1.1zM353.4 228.3h1.1v1.1h-1.1zM352.6 225.1h1.1v1.1h-1.1zM348.8 228.9h1.1v1.1h-1.1zM350.3 232.4h1.1v1.1h-1.1zM326.1 232.2h1.1v1.1h-1.1zM320.0 229.9h1.1v1.1h-1.1zM324.4 201.1h1.1v1.1h-1.1zM320.0 232.9h1.1v1.1h-1.1zM346.7 212.2h1.1v1.1h-1.1zM352.9 233.1h1.1v1.1h-1.1zM318.1 203.4h1.1v1.1h-1.1zM352.4 234.3h1.1v1.1h-1.1zM315.7 196.1h1.1v1.1h-1.1zM316.2 234.0h1.1v1.1h-1.1zM323.1 234.0h1.1v1.1h-1.1zM321.9 208.3h1.1v1.1h-1.1zM324.6 211.8h1.1v1.1h-1.1zM328.6 231.0h1.1v1.1h-1.1zM355.0 229.7h1.1v1.1h-1.1zM367.6 215.2h1.1v1.1h-1.1zM318.9 232.9h1.1v1.1h-1.1zM323.2 233.0h1.1v1.1h-1.1zM350.6 212.8h1.1v1.1h-1.1zM362.8 201.7h1.1v1.1h-1.1zM327.3 205.7h1.1v1.1h-1.1zM324.7 234.0h1.1v1.1h-1.1zM350.8 225.6h1.1v1.1h-1.1zM352.1 228.8h1.1v1.1h-1.1zM346.8 233.0h1.1v1.1h-1.1zM333.7 195.1h1.1v1.1h-1.1zM326.0 225.2h1.1v1.1h-1.1zM324.4 208.8h1.1v1.1h-1.1zM346.0 215.9h1.1v1.1h-1.1zM334.5 203.7h1.1v1.1h-1.1zM349.0 226.1h1.1v1.1h-1.1zM357.5 233.7h1.1v1.1h-1.1zM321.4 205.6h1.1v1.1h-1.1zM355.7 229.8h1.1v1.1h-1.1zM324.8 202.2h1.1v1.1h-1.1zM319.4 201.6h1.1v1.1h-1.1zM351.8 229.4h1.1v1.1h-1.1zM351.2 198.3h1.1v1.1h-1.1zM319.6 207.8h1.1v1.1h-1.1zM356.7 230.3h1.1v1.1h-1.1zM323.3 205.7h1.1v1.1h-1.1zM352.6 232.0h1.1v1.1h-1.1zM346.1 202.6h1.1v1.1h-1.1zM352.7 230.8h1.1v1.1h-1.1zM343.5 213.7h1.1v1.1h-1.1zM326.8 204.7h1.1v1.1h-1.1zM345.3 227.5h1.1v1.1h-1.1zM323.4 230.4h1.1v1.1h-1.1zM356.0 227.2h1.1v1.1h-1.1zM326.4 213.6h1.1v1.1h-1.1zM322.1 205.6h1.1v1.1h-1.1zM353.1 222.9h1.1v1.1h-1.1zM319.8 224.9h1.1v1.1h-1.1zM321.2 234.8h1.1v1.1h-1.1zM350.0 216.4h1.1v1.1h-1.1zM321.8 226.8h1.1v1.1h-1.1zM324.5 209.0h1.1v1.1h-1.1zM358.5 234.0h1.1v1.1h-1.1zM335.0 204.7h1.1v1.1h-1.1zM352.5 232.6h1.1v1.1h-1.1zM350.7 195.0h1.1v1.1h-1.1zM320.0 196.9h1.1v1.1h-1.1zM360.0 199.9h1.1v1.1h-1.1zM322.3 201.3h1.1v1.1h-1.1zM323.9 225.8h1.1v1.1h-1.1zM318.7 232.8h1.1v1.1h-1.1zM323.8 208.2h1.1v1.1h-1.1zM354.9 229.2h1.1v1.1h-1.1zM322.2 228.6h1.1v1.1h-1.1zM339.0 210.2h1.1v1.1h-1.1zM328.3 228.4h1.1v1.1h-1.1zM319.0 226.0h1.1v1.1h-1.1zM318.4 201.7h1.1v1.1h-1.1zM321.4 228.6h1.1v1.1h-1.1zM319.5 229.3h1.1v1.1h-1.1zM353.5 201.7h1.1v1.1h-1.1zM323.1 199.8h1.1v1.1h-1.1zM352.3 229.2h1.1v1.1h-1.1zM323.0 228.2h1.1v1.1h-1.1zM355.9 232.6h1.1v1.1h-1.1zM319.2 204.5h1.1v1.1h-1.1zM350.9 233.5h1.1v1.1h-1.1zM347.0 227.8h1.1v1.1h-1.1zM353.9 232.0h1.1v1.1h-1.1zM329.0 207.3h1.1v1.1h-1.1zM322.0 197.3h1.1v1.1h-1.1zM349.7 230.9h1.1v1.1h-1.1zM357.6 227.3h1.1v1.1h-1.1zM318.4 233.0h1.1v1.1h-1.1zM317.0 226.1h1.1v1.1h-1.1zM329.8 231.7h1.1v1.1h-1.1zM319.5 204.6h1.1v1.1h-1.1zM319.6 200.2h1.1v1.1h-1.1zM328.3 232.2h1.1v1.1h-1.1zM359.2 230.6h1.1v1.1h-1.1zM350.2 227.6h1.1v1.1h-1.1zM355.5 197.7h1.1v1.1h-1.1zM318.2 229.2h1.1v1.1h-1.1zM331.3 232.1h1.1v1.1h-1.1zM322.3 232.5h1.1v1.1h-1.1zM332.0 233.9h1.1v1.1h-1.1zM317.4 233.0h1.1v1.1h-1.1zM347.3 222.8h1.1v1.1h-1.1zM319.9 229.0h1.1v1.1h-1.1zM322.4 205.3h1.1v1.1h-1.1zM328.3 196.8h1.1v1.1h-1.1zM329.2 202.5h1.1v1.1h-1.1zM354.7 234.7h1.1v1.1h-1.1zM331.2 206.5h1.1v1.1h-1.1zM321.9 200.9h1.1v1.1h-1.1zM359.7 233.6h1.1v1.1h-1.1zM353.0 225.6h1.1v1.1h-1.1zM347.5 216.0h1.1v1.1h-1.1zM330.1 236.7h1.1v1.1h-1.1zM352.4 234.5h1.1v1.1h-1.1zM357.4 227.2h1.1v1.1h-1.1zM321.7 205.7h1.1v1.1h-1.1zM320.2 202.7h1.1v1.1h-1.1zM353.2 233.8h1.1v1.1h-1.1zM350.2 232.8h1.1v1.1h-1.1zM316.5 207.8h1.1v1.1h-1.1zM345.3 212.6h1.1v1.1h-1.1zM357.2 224.7h1.1v1.1h-1.1zM354.5 201.4h1.1v1.1h-1.1zM343.5 210.5h1.1v1.1h-1.1zM325.9 226.8h1.1v1.1h-1.1zM344.2 217.9h1.1v1.1h-1.1zM313.3 207.6h1.1v1.1h-1.1zM331.8 235.9h1.1v1.1h-1.1zM340.5 210.8h1.1v1.1h-1.1zM328.6 223.7h1.1v1.1h-1.1zM320.7 230.4h1.1v1.1h-1.1zM350.2 229.3h1.1v1.1h-1.1zM348.7 229.6h1.1v1.1h-1.1zM323.7 234.0h1.1v1.1h-1.1zM345.3 223.3h1.1v1.1h-1.1zM351.2 228.7h1.1v1.1h-1.1zM354.7 229.7h1.1v1.1h-1.1zM318.2 229.2h1.1v1.1h-1.1zM328.0 196.5h1.1v1.1h-1.1zM317.4 226.0h1.1v1.1h-1.1zM325.7 207.7h1.1v1.1h-1.1zM356.9 226.9h1.1v1.1h-1.1zM342.4 214.7h1.1v1.1h-1.1zM353.0 228.9h1.1v1.1h-1.1zM348.9 213.8h1.1v1.1h-1.1zM321.7 198.1h1.1v1.1h-1.1zM357.6 223.7h1.1v1.1h-1.1zM322.6 231.2h1.1v1.1h-1.1zM331.6 230.1h1.1v1.1h-1.1zM354.2 231.4h1.1v1.1h-1.1zM325.9 201.5h1.1v1.1h-1.1zM319.2 231.2h1.1v1.1h-1.1zM353.8 232.5h1.1v1.1h-1.1zM354.3 226.7h1.1v1.1h-1.1zM317.6 229.9h1.1v1.1h-1.1zM349.0 222.0h1.1v1.1h-1.1zM319.7 199.6h1.1v1.1h-1.1zM341.6 214.3h1.1v1.1h-1.1zM319.3 204.3h1.1v1.1h-1.1zM324.9 233.7h1.1v1.1h-1.1zM315.7 199.7h1.1v1.1h-1.1zM327.6 234.0h1.1v1.1h-1.1zM350.6 226.6h1.1v1.1h-1.1zM317.1 227.9h1.1v1.1h-1.1zM324.3 233.8h1.1v1.1h-1.1zM320.9 226.9h1.1v1.1h-1.1zM358.1 227.7h1.1v1.1h-1.1zM322.0 230.9h1.1v1.1h-1.1zM372.8 200.4h1.1v1.1h-1.1zM317.7 234.8h1.1v1.1h-1.1zM321.8 205.4h1.1v1.1h-1.1zM357.8 227.0h1.1v1.1h-1.1zM324.3 196.2h1.1v1.1h-1.1zM324.0 228.4h1.1v1.1h-1.1zM351.6 233.1h1.1v1.1h-1.1zM356.0 227.7h1.1v1.1h-1.1zM326.2 201.5h1.1v1.1h-1.1zM323.1 230.9h1.1v1.1h-1.1zM339.8 210.2h1.1v1.1h-1.1zM353.4 233.6h1.1v1.1h-1.1zM326.2 204.9h1.1v1.1h-1.1zM313.8 230.6h1.1v1.1h-1.1zM353.8 226.5h1.1v1.1h-1.1zM351.0 228.3h1.1v1.1h-1.1zM351.2 232.5h1.1v1.1h-1.1zM321.2 200.9h1.1v1.1h-1.1zM354.0 232.4h1.1v1.1h-1.1zM316.7 236.5h1.1v1.1h-1.1zM319.3 203.5h1.1v1.1h-1.1zM321.5 225.8h1.1v1.1h-1.1zM321.8 203.8h1.1v1.1h-1.1zM330.6 199.3h1.1v1.1h-1.1zM331.1 228.9h1.1v1.1h-1.1zM324.0 226.0h1.1v1.1h-1.1zM324.2 223.4h1.1v1.1h-1.1zM356.8 228.6h1.1v1.1h-1.1zM323.3 231.8h1.1v1.1h-1.1zM321.3 223.0h1.1v1.1h-1.1zM321.1 205.5h1.1v1.1h-1.1zM319.8 201.2h1.1v1.1h-1.1zM315.5 235.0h1.1v1.1h-1.1zM330.3 234.3h1.1v1.1h-1.1zM352.4 223.4h1.1v1.1h-1.1zM321.4 225.9h1.1v1.1h-1.1zM345.5 210.1h1.1v1.1h-1.1zM330.6 203.8h1.1v1.1h-1.1zM323.2 202.1h1.1v1.1h-1.1zM322.7 229.2h1.1v1.1h-1.1zM352.7 226.2h1.1v1.1h-1.1zM326.4 202.3h1.1v1.1h-1.1zM326.9 229.6h1.1v1.1h-1.1zM356.3 230.1h1.1v1.1h-1.1zM355.6 193.9h1.1v1.1h-1.1zM327.4 233.5h1.1v1.1h-1.1zM358.0 225.7h1.1v1.1h-1.1zM361.0 228.4h1.1v1.1h-1.1zM351.2 236.7h1.1v1.1h-1.1zM320.2 230.5h1.1v1.1h-1.1zM331.5 230.4h1.1v1.1h-1.1zM330.4 200.7h1.1v1.1h-1.1zM321.2 226.8h1.1v1.1h-1.1zM323.7 200.2h1.1v1.1h-1.1zM324.7 230.8h1.1v1.1h-1.1zM317.3 204.8h1.1v1.1h-1.1zM355.7 231.4h1.1v1.1h-1.1zM353.8 221.6h1.1v1.1h-1.1zM328.0 232.3h1.1v1.1h-1.1zM328.4 237.0h1.1v1.1h-1.1zM325.5 231.5h1.1v1.1h-1.1zM345.0 217.6h1.1v1.1h-1.1zM320.4 230.9h1.1v1.1h-1.1zM346.6 233.3h1.1v1.1h-1.1zM342.0 216.0h1.1v1.1h-1.1zM356.6 231.0h1.1v1.1h-1.1zM354.9 230.3h1.1v1.1h-1.1zM325.8 230.4h1.1v1.1h-1.1zM328.0 225.8h1.1v1.1h-1.1z" fill="#ee0a0a" fill-opacity="0.85"/>
<path d="M330.8 232.7h1.1v1.1h-1.1zM319.0 227.7h1.1v1.1h-1.1zM339.0 220.5h1.1v1.1h-1.1zM320.8 227.2h1.1v1.1h-1.1zM345.2 234.8h1.1v1.1h-1.1zM323.0 205.2h1.1v1.1h-1.1zM325.4 204.4h1.1v1.1h-1.1zM327.4 202.4h1.1v1.1h-1.1zM329.8 228.7h1.1v1.1h-1.1zM319.8 230.0h1.1v1.1h-1.1zM320.9 206.0h1.1v1.1h-1.1zM353.2 224.5h1.1v1.1h-1.1zM322.8 227.7h1.1v1.1h-1.1zM324.9 206.9h1.1v1.1h-1.1zM339.5 215.3h1.1v1.1h-1.1zM326.8 229.6h1.1v1.1h-1.1zM324.1 236.2h1.1v1.1h-1.1zM319.1 199.9h1.1v1.1h-1.1zM332.6 212.2h1.1v1.1h-1.1zM342.8 215.3h1.1v1.1h-1.1zM325.0 227.1h1.1v1.1h-1.1zM358.1 230.9h1.1v1.1h-1.1zM318.9 200.5h1.1v1.1h-1.1zM329.2 204.4h1.1v1.1h-1.1zM337.3 211.6h1.1v1.1h-1.1zM354.9 233.8h1.1v1.1h-1.1zM353.8 229.0h1.1v1.1h-1.1zM324.4 226.8h1.1v1.1h-1.1zM323.9 235.9h1.1v1.1h-1.1zM321.4 228.0h1.1v1.1h-1.1zM352.9 227.5h1.1v1.1h-1.1zM349.4 234.5h1.1v1.1h-1.1zM350.6 225.4h1.1v1.1h-1.1zM320.6 200.5h1.1v1.1h-1.1zM322.9 224.1h1.1v1.1h-1.1zM316.6 203.5h1.1v1.1h-1.1zM359.9 233.8h1.1v1.1h-1.1zM324.5 225.5h1.1v1.1h-1.1zM353.4 222.2h1.1v1.1h-1.1zM353.7 225.9h1.1v1.1h-1.1zM322.2 202.2h1.1v1.1h-1.1zM356.8 227.8h1.1v1.1h-1.1zM318.4 202.0h1.1v1.1h-1.1zM327.9 231.7h1.1v1.1h-1.1zM337.8 213.4h1.1v1.1h-1.1zM345.1 212.7h1.1v1.1h-1.1zM320.2 234.4h1.1v1.1h-1.1zM353.7 224.6h1.1v1.1h-1.1zM327.2 203.0h1.1v1.1h-1.1zM349.9 211.0h1.1v1.1h-1.1zM325.6 202.6h1.1v1.1h-1.1zM328.0 228.2h1.1v1.1h-1.1zM328.1 205.5h1.1v1.1h-1.1zM324.4 205.1h1.1v1.1h-1.1zM328.2 220.8h1.1v1.1h-1.1zM350.2 231.2h1.1v1.1h-1.1zM354.8 222.6h1.1v1.1h-1.1zM353.6 230.8h1.1v1.1h-1.1zM348.6 225.5h1.1v1.1h-1.1zM317.0 235.5h1.1v1.1h-1.1zM327.6 233.0h1.1v1.1h-1.1zM344.6 215.5h1.1v1.1h-1.1zM346.2 233.1h1.1v1.1h-1.1zM319.7 227.6h1.1v1.1h-1.1zM331.3 198.3h1.1v1.1h-1.1zM316.0 230.6h1.1v1.1h-1.1zM326.5 229.8h1.1v1.1h-1.1zM317.3 201.6h1.1v1.1h-1.1zM325.7 227.9h1.1v1.1h-1.1zM321.2 204.5h1.1v1.1h-1.1zM324.7 230.7h1.1v1.1h-1.1zM349.2 222.4h1.1v1.1h-1.1zM319.1 198.3h1.1v1.1h-1.1zM351.1 234.5h1.1v1.1h-1.1zM351.4 228.6h1.1v1.1h-1.1zM321.7 202.3h1.1v1.1h-1.1zM325.9 194.6h1.1v1.1h-1.1zM319.1 230.5h1.1v1.1h-1.1zM318.5 227.6h1.1v1.1h-1.1zM355.7 237.7h1.1v1.1h-1.1zM353.4 235.8h1.1v1.1h-1.1zM355.3 227.5h1.1v1.1h-1.1zM319.0 227.6h1.1v1.1h-1.1zM314.9 199.3h1.1v1.1h-1.1zM321.3 231.3h1.1v1.1h-1.1zM319.7 203.9h1.1v1.1h-1.1zM353.6 223.5h1.1v1.1h-1.1zM319.8 232.7h1.1v1.1h-1.1zM347.8 235.4h1.1v1.1h-1.1zM324.9 228.8h1.1v1.1h-1.1zM326.7 223.7h1.1v1.1h-1.1zM346.5 211.3h1.1v1.1h-1.1zM350.4 233.7h1.1v1.1h-1.1zM348.9 233.0h1.1v1.1h-1.1zM347.9 225.2h1.1v1.1h-1.1zM358.1 229.3h1.1v1.1h-1.1zM361.2 233.4h1.1v1.1h-1.1zM349.4 226.7h1.1v1.1h-1.1zM322.1 201.8h1.1v1.1h-1.1zM318.3 230.9h1.1v1.1h-1.1zM325.2 235.6h1.1v1.1h-1.1zM358.5 231.1h1.1v1.1h-1.1zM331.7 201.4h1.1v1.1h-1.1zM331.5 227.9h1.1v1.1h-1.1zM322.5 235.4h1.1v1.1h-1.1zM324.9 231.8h1.1v1.1h-1.1zM347.7 229.0h1.1v1.1h-1.1zM359.6 231.4h1.1v1.1h-1.1zM320.0 229.6h1.1v1.1h-1.1zM324.5 232.5h1.1v1.1h-1.1zM351.8 227.6h1.1v1.1h-1.1zM318.2 226.7h1.1v1.1h-1.1zM319.7 231.3h1.1v1.1h-1.1zM353.7 227.9h1.1v1.1h-1.1zM326.5 203.4h1.1v1.1h-1.1zM320.2 202.2h1.1v1.1h-1.1zM351.5 224.7h1.1v1.1h-1.1zM328.6 201.9h1.1v1.1h-1.1zM350.6 215.3h1.1v1.1h-1.1zM351.7 237.4h1.1v1.1h-1.1zM359.8 194.9h1.1v1.1h-1.1zM371.9 235.6h1.1v1.1h-1.1zM316.5 230.6h1.1v1.1h-1.1zM325.5 199.1h1.1v1.1h-1.1zM320.6 233.7h1.1v1.1h-1.1zM341.4 212.1h1.1v1.1h-1.1zM327.8 229.9h1.1v1.1h-1.1zM320.0 206.1h1.1v1.1h-1.1zM323.0 200.0h1.1v1.1h-1.1zM323.5 224.9h1.1v1.1h-1.1zM318.5 229.7h1.1v1.1h-1.1zM326.5 201.8h1.1v1.1h-1.1zM325.5 229.7h1.1v1.1h-1.1zM314.9 200.3h1.1v1.1h-1.1zM326.0 200.4h1.1v1.1h-1.1zM320.6 230.4h1.1v1.1h-1.1zM348.5 229.5h1.1v1.1h-1.1zM315.5 227.7h1.1v1.1h-1.1zM323.9 204.0h1.1v1.1h-1.1zM326.5 228.9h1.1v1.1h-1.1zM326.0 234.2h1.1v1.1h-1.1zM327.1 201.9h1.1v1.1h-1.1zM357.9 237.0h1.1v1.1h-1.1zM324.6 213.6h1.1v1.1h-1.1zM326.8 231.6h1.1v1.1h-1.1zM350.4 227.5h1.1v1.1h-1.1zM349.2 228.8h1.1v1.1h-1.1zM323.8 230.6h1.1v1.1h-1.1zM325.0 226.9h1.1v1.1h-1.1zM324.2 230.4h1.1v1.1h-1.1zM343.2 215.0h1.1v1.1h-1.1zM324.8 208.6h1.1v1.1h-1.1zM335.8 204.0h1.1v1.1h-1.1zM319.0 199.7h1.1v1.1h-1.1zM330.6 203.8h1.1v1.1h-1.1zM351.2 224.4h1.1v1.1h-1.1zM353.8 230.5h1.1v1.1h-1.1zM352.4 232.5h1.1v1.1h-1.1zM322.7 233.2h1.1v1.1h-1.1zM351.1 212.5h1.1v1.1h-1.1zM325.7 229.1h1.1v1.1h-1.1zM325.8 195.0h1.1v1.1h-1.1zM353.7 198.1h1.1v1.1h-1.1zM355.5 231.2h1.1v1.1h-1.1zM328.1 204.3h1.1v1.1h-1.1zM331.7 233.3h1.1v1.1h-1.1zM351.6 226.0h1.1v1.1h-1.1zM331.7 202.9h1.1v1.1h-1.1zM345.4 213.2h1.1v1.1h-1.1zM355.6 236.1h1.1v1.1h-1.1zM350.1 226.8h1.1v1.1h-1.1zM313.2 229.7h1.1v1.1h-1.1zM325.7 207.1h1.1v1.1h-1.1zM316.6 227.8h1.1v1.1h-1.1zM318.4 199.4h1.1v1.1h-1.1zM317.5 200.5h1.1v1.1h-1.1zM355.5 230.6h1.1v1.1h-1.1zM353.3 232.3h1.1v1.1h-1.1zM345.2 229.9h1.1v1.1h-1.1zM350.5 226.7h1.1v1.1h-1.1zM353.7 223.7h1.1v1.1h-1.1zM321.2 232.7h1.1v1.1h-1.1zM330.5 206.0h1.1v1.1h-1.1zM346.3 213.7h1.1v1.1h-1.1zM353.0 221.8h1.1v1.1h-1.1zM352.9 231.7h1.1v1.1h-1.1zM319.4 228.3h1.1v1.1h-1.1zM318.3 199.7h1.1v1.1h-1.1zM317.6 226.3h1.1v1.1h-1.1zM323.2 198.4h1.1v1.1h-1.1zM355.4 229.7h1.1v1.1h-1.1zM324.8 204.5h1.1v1.1h-1.1zM350.7 225.5h1.1v1.1h-1.1zM327.8 229.8h1.1v1.1h-1.1zM364.6 221.5h1.1v1.1h-1.1zM320.1 200.3h1.1v1.1h-1.1zM322.3 234.4h1.1v1.1h-1.1zM357.2 225.0h1.1v1.1h-1.1zM347.8 226.6h1.1v1.1h-1.1zM335.0 199.2h1.1v1.1h-1.1zM325.8 230.5h1.1v1.1h-1.1zM317.0 232.8h1.1v1.1h-1.1z" fill="#b00000" fill-opacity="0.85"/>
<rect x="312.5" y="191.15" width="62.5" height="48" fill="none" stroke="#555" stroke-width="1.1"/>
<ellipse cx="344.5" cy="211.3" rx="12.7" ry="8" transform="rotate(-5 344.5 211.3)" fill="none" stroke="#444" stroke-width="0.9"/>
<rect x="343.4" y="220.6" width="18.8" height="18.6" fill="none" stroke="#444" stroke-width="0.9"/>
<text x="316.8" y="187.75" font-size="9.1" font-weight="bold" fill="#111" font-family="Liberation Sans, sans-serif">day 80</text>
<text x="359.2" y="210.9" font-size="7" font-weight="bold" fill="#111" font-family="Liberation Sans, sans-serif">4%</text>
<text x="362.4" y="231.7" font-size="7" font-weight="bold" fill="#111" font-family="Liberation Sans, sans-serif">42%</text>
<path d="M397.1 232.5h1.1v1.1h-1.1zM422.7 232.3h1.1v1.1h-1.1zM387.3 208.8h1.1v1.1h-1.1zM394.6 234.5h1.1v1.1h-1.1zM397.0 230.9h1.1v1.1h-1.1zM418.9 224.8h1.1v1.1h-1.1zM392.5 225.2h1.1v1.1h-1.1zM388.2 236.4h1.1v1.1h-1.1zM413.0 208.6h1.1v1.1h-1.1zM423.9 229.7h1.1v1.1h-1.1zM386.1 198.7h1.1v1.1h-1.1zM423.9 228.2h1.1v1.1h-1.1zM391.4 203.0h1.1v1.1h-1.1zM419.3 227.7h1.1v1.1h-1.1zM392.9 230.5h1.1v1.1h-1.1zM415.2 210.2h1.1v1.1h-1.1zM431.0 223.3h1.1v1.1h-1.1zM392.7 204.2h1.1v1.1h-1.1zM423.3 227.7h1.1v1.1h-1.1zM397.3 225.3h1.1v1.1h-1.1zM403.5 234.9h1.1v1.1h-1.1zM392.8 201.8h1.1v1.1h-1.1zM391.6 227.8h1.1v1.1h-1.1zM412.2 212.3h1.1v1.1h-1.1zM390.8 222.4h1.1v1.1h-1.1zM390.2 218.3h1.1v1.1h-1.1zM397.0 234.0h1.1v1.1h-1.1zM399.6 199.6h1.1v1.1h-1.1zM387.8 201.9h1.1v1.1h-1.1zM413.3 213.6h1.1v1.1h-1.1zM417.9 228.3h1.1v1.1h-1.1zM424.1 229.3h1.1v1.1h-1.1zM425.2 226.6h1.1v1.1h-1.1zM394.3 192.5h1.1v1.1h-1.1zM396.3 228.3h1.1v1.1h-1.1zM419.5 220.8h1.1v1.1h-1.1zM425.9 227.7h1.1v1.1h-1.1zM424.4 228.5h1.1v1.1h-1.1zM394.1 232.9h1.1v1.1h-1.1zM392.1 203.4h1.1v1.1h-1.1zM426.1 229.7h1.1v1.1h-1.1zM424.2 236.8h1.1v1.1h-1.1zM426.9 221.2h1.1v1.1h-1.1zM392.7 231.3h1.1v1.1h-1.1zM387.8 204.4h1.1v1.1h-1.1zM399.9 232.4h1.1v1.1h-1.1zM391.3 236.8h1.1v1.1h-1.1zM394.6 197.7h1.1v1.1h-1.1zM390.8 203.0h1.1v1.1h-1.1zM397.9 202.2h1.1v1.1h-1.1zM399.5 232.0h1.1v1.1h-1.1zM396.5 206.5h1.1v1.1h-1.1zM421.3 210.9h1.1v1.1h-1.1zM398.9 208.1h1.1v1.1h-1.1zM414.2 212.2h1.1v1.1h-1.1zM400.1 192.9h1.1v1.1h-1.1zM389.2 233.0h1.1v1.1h-1.1zM402.6 200.7h1.1v1.1h-1.1zM419.9 229.7h1.1v1.1h-1.1zM393.2 225.9h1.1v1.1h-1.1zM396.6 197.0h1.1v1.1h-1.1zM392.5 201.6h1.1v1.1h-1.1zM427.3 229.4h1.1v1.1h-1.1zM392.0 201.7h1.1v1.1h-1.1zM400.1 230.8h1.1v1.1h-1.1zM422.5 229.1h1.1v1.1h-1.1zM401.2 200.8h1.1v1.1h-1.1zM414.1 210.4h1.1v1.1h-1.1zM395.9 227.7h1.1v1.1h-1.1zM389.8 206.8h1.1v1.1h-1.1zM398.2 230.7h1.1v1.1h-1.1zM420.8 227.7h1.1v1.1h-1.1zM424.4 231.9h1.1v1.1h-1.1zM416.8 209.9h1.1v1.1h-1.1zM398.8 228.6h1.1v1.1h-1.1zM405.3 211.9h1.1v1.1h-1.1zM394.1 202.2h1.1v1.1h-1.1zM415.6 211.6h1.1v1.1h-1.1zM395.5 230.1h1.1v1.1h-1.1zM410.2 212.9h1.1v1.1h-1.1zM394.6 232.6h1.1v1.1h-1.1zM421.1 231.1h1.1v1.1h-1.1zM402.2 229.4h1.1v1.1h-1.1zM413.9 211.4h1.1v1.1h-1.1zM396.5 207.4h1.1v1.1h-1.1zM394.2 232.3h1.1v1.1h-1.1zM427.8 227.3h1.1v1.1h-1.1zM389.2 231.6h1.1v1.1h-1.1zM397.0 228.5h1.1v1.1h-1.1zM417.3 213.0h1.1v1.1h-1.1zM394.9 199.9h1.1v1.1h-1.1zM396.8 202.6h1.1v1.1h-1.1zM422.4 222.9h1.1v1.1h-1.1zM416.3 232.1h1.1v1.1h-1.1zM410.2 231.9h1.1v1.1h-1.1zM402.0 205.7h1.1v1.1h-1.1zM418.6 237.5h1.1v1.1h-1.1zM408.2 213.9h1.1v1.1h-1.1zM409.5 207.3h1.1v1.1h-1.1zM431.5 228.0h1.1v1.1h-1.1zM385.2 198.6h1.1v1.1h-1.1zM399.6 201.4h1.1v1.1h-1.1zM426.5 229.5h1.1v1.1h-1.1zM393.8 201.1h1.1v1.1h-1.1zM423.6 232.0h1.1v1.1h-1.1zM397.2 234.6h1.1v1.1h-1.1zM419.5 230.6h1.1v1.1h-1.1zM422.5 231.2h1.1v1.1h-1.1zM411.8 225.5h1.1v1.1h-1.1zM413.6 209.4h1.1v1.1h-1.1zM387.7 198.9h1.1v1.1h-1.1zM426.7 237.2h1.1v1.1h-1.1zM420.7 227.3h1.1v1.1h-1.1zM390.7 202.6h1.1v1.1h-1.1zM426.7 237.0h1.1v1.1h-1.1zM428.5 224.6h1.1v1.1h-1.1zM424.9 230.0h1.1v1.1h-1.1zM420.7 236.2h1.1v1.1h-1.1zM399.8 206.4h1.1v1.1h-1.1zM392.9 202.3h1.1v1.1h-1.1zM427.6 230.4h1.1v1.1h-1.1zM393.1 201.9h1.1v1.1h-1.1zM422.4 231.5h1.1v1.1h-1.1zM418.7 225.7h1.1v1.1h-1.1zM400.0 199.5h1.1v1.1h-1.1zM386.9 204.3h1.1v1.1h-1.1zM389.5 201.7h1.1v1.1h-1.1zM424.2 226.3h1.1v1.1h-1.1zM406.3 213.1h1.1v1.1h-1.1zM391.1 204.2h1.1v1.1h-1.1zM391.2 204.6h1.1v1.1h-1.1zM386.0 213.5h1.1v1.1h-1.1zM418.2 211.6h1.1v1.1h-1.1zM414.0 215.5h1.1v1.1h-1.1zM396.6 208.8h1.1v1.1h-1.1zM387.9 200.5h1.1v1.1h-1.1zM424.5 226.3h1.1v1.1h-1.1zM426.6 228.9h1.1v1.1h-1.1zM402.1 210.2h1.1v1.1h-1.1zM403.6 200.8h1.1v1.1h-1.1zM396.6 205.9h1.1v1.1h-1.1zM426.1 234.7h1.1v1.1h-1.1zM397.8 229.8h1.1v1.1h-1.1zM398.7 227.4h1.1v1.1h-1.1zM394.8 207.7h1.1v1.1h-1.1zM407.2 207.7h1.1v1.1h-1.1zM428.5 223.5h1.1v1.1h-1.1zM394.8 225.0h1.1v1.1h-1.1zM424.6 225.6h1.1v1.1h-1.1zM424.0 231.9h1.1v1.1h-1.1zM387.2 203.5h1.1v1.1h-1.1zM393.1 223.3h1.1v1.1h-1.1zM395.4 225.2h1.1v1.1h-1.1zM389.0 227.3h1.1v1.1h-1.1zM425.0 229.2h1.1v1.1h-1.1zM398.4 235.0h1.1v1.1h-1.1zM385.8 199.7h1.1v1.1h-1.1zM423.4 231.3h1.1v1.1h-1.1zM416.6 230.6h1.1v1.1h-1.1zM398.4 202.2h1.1v1.1h-1.1zM392.2 236.9h1.1v1.1h-1.1zM415.4 232.9h1.1v1.1h-1.1zM408.1 209.8h1.1v1.1h-1.1zM406.7 214.1h1.1v1.1h-1.1zM400.3 199.8h1.1v1.1h-1.1zM395.3 235.4h1.1v1.1h-1.1zM418.4 232.1h1.1v1.1h-1.1zM400.7 204.9h1.1v1.1h-1.1zM423.9 211.9h1.1v1.1h-1.1zM427.1 230.4h1.1v1.1h-1.1zM391.1 230.9h1.1v1.1h-1.1zM400.4 202.2h1.1v1.1h-1.1zM389.9 231.2h1.1v1.1h-1.1zM394.4 195.2h1.1v1.1h-1.1zM396.7 234.4h1.1v1.1h-1.1zM414.4 209.4h1.1v1.1h-1.1zM389.8 200.7h1.1v1.1h-1.1zM430.0 231.2h1.1v1.1h-1.1zM435.5 219.7h1.1v1.1h-1.1zM424.0 230.5h1.1v1.1h-1.1zM393.3 209.3h1.1v1.1h-1.1zM398.9 225.7h1.1v1.1h-1.1zM396.5 202.7h1.1v1.1h-1.1zM407.8 231.2h1.1v1.1h-1.1zM392.8 232.1h1.1v1.1h-1.1zM427.5 232.7h1.1v1.1h-1.1zM397.4 206.0h1.1v1.1h-1.1zM390.7 229.4h1.1v1.1h-1.1zM425.8 232.3h1.1v1.1h-1.1zM422.3 230.0h1.1v1.1h-1.1zM414.8 230.4h1.1v1.1h-1.1zM424.6 229.3h1.1v1.1h-1.1zM402.2 231.5h1.1v1.1h-1.1zM396.5 235.0h1.1v1.1h-1.1zM422.4 230.4h1.1v1.1h-1.1zM400.5 228.2h1.1v1.1h-1.1zM391.6 228.9h1.1v1.1h-1.1zM393.0 229.9h1.1v1.1h-1.1zM398.0 228.3h1.1v1.1h-1.1zM420.5 232.7h1.1v1.1h-1.1zM389.6 204.8h1.1v1.1h-1.1zM399.2 235.2h1.1v1.1h-1.1zM392.9 202.7h1.1v1.1h-1.1zM396.7 197.0h1.1v1.1h-1.1zM412.3 211.8h1.1v1.1h-1.1zM422.0 234.0h1.1v1.1h-1.1zM400.3 201.4h1.1v1.1h-1.1zM417.9 225.6h1.1v1.1h-1.1zM417.4 217.1h1.1v1.1h-1.1zM423.1 220.7h1.1v1.1h-1.1zM392.2 227.0h1.1v1.1h-1.1zM406.7 232.0h1.1v1.1h-1.1zM418.4 209.5h1.1v1.1h-1.1zM393.6 231.5h1.1v1.1h-1.1zM425.3 235.2h1.1v1.1h-1.1zM405.2 232.4h1.1v1.1h-1.1zM401.8 230.4h1.1v1.1h-1.1zM393.0 234.0h1.1v1.1h-1.1zM428.4 231.4h1.1v1.1h-1.1zM429.2 228.8h1.1v1.1h-1.1zM419.4 232.6h1.1v1.1h-1.1zM390.8 203.0h1.1v1.1h-1.1zM424.6 223.7h1.1v1.1h-1.1zM421.3 226.5h1.1v1.1h-1.1zM422.6 232.0h1.1v1.1h-1.1zM387.2 203.2h1.1v1.1h-1.1zM388.7 201.0h1.1v1.1h-1.1zM421.7 194.3h1.1v1.1h-1.1zM394.4 235.5h1.1v1.1h-1.1zM399.6 231.6h1.1v1.1h-1.1zM395.2 204.4h1.1v1.1h-1.1zM416.7 211.5h1.1v1.1h-1.1zM422.4 229.5h1.1v1.1h-1.1zM397.7 235.6h1.1v1.1h-1.1zM421.9 231.7h1.1v1.1h-1.1zM400.2 206.1h1.1v1.1h-1.1zM394.7 203.0h1.1v1.1h-1.1zM398.4 232.3h1.1v1.1h-1.1zM398.8 202.3h1.1v1.1h-1.1zM390.1 234.2h1.1v1.1h-1.1zM421.8 230.5h1.1v1.1h-1.1zM424.1 226.5h1.1v1.1h-1.1zM399.2 225.1h1.1v1.1h-1.1zM393.4 203.9h1.1v1.1h-1.1zM398.7 201.6h1.1v1.1h-1.1zM393.8 212.0h1.1v1.1h-1.1zM428.1 230.8h1.1v1.1h-1.1zM419.4 208.1h1.1v1.1h-1.1zM394.2 200.6h1.1v1.1h-1.1zM428.0 233.8h1.1v1.1h-1.1zM422.2 225.5h1.1v1.1h-1.1zM391.7 202.0h1.1v1.1h-1.1zM393.7 201.5h1.1v1.1h-1.1zM399.4 228.6h1.1v1.1h-1.1zM417.6 210.3h1.1v1.1h-1.1zM391.5 199.6h1.1v1.1h-1.1zM413.6 212.0h1.1v1.1h-1.1zM391.4 206.9h1.1v1.1h-1.1zM390.3 237.4h1.1v1.1h-1.1zM421.5 230.2h1.1v1.1h-1.1zM393.5 233.4h1.1v1.1h-1.1zM426.8 231.9h1.1v1.1h-1.1zM401.0 227.6h1.1v1.1h-1.1zM429.9 227.9h1.1v1.1h-1.1zM396.5 231.9h1.1v1.1h-1.1zM392.9 229.9h1.1v1.1h-1.1zM423.7 232.4h1.1v1.1h-1.1zM421.8 229.9h1.1v1.1h-1.1zM396.6 205.1h1.1v1.1h-1.1zM399.6 228.4h1.1v1.1h-1.1zM390.5 228.3h1.1v1.1h-1.1zM396.2 236.4h1.1v1.1h-1.1zM391.4 202.2h1.1v1.1h-1.1zM422.8 225.4h1.1v1.1h-1.1zM398.2 228.4h1.1v1.1h-1.1zM416.2 211.3h1.1v1.1h-1.1zM389.2 201.7h1.1v1.1h-1.1zM424.5 233.4h1.1v1.1h-1.1zM418.5 209.9h1.1v1.1h-1.1zM415.1 212.7h1.1v1.1h-1.1zM399.1 230.0h1.1v1.1h-1.1zM392.2 224.4h1.1v1.1h-1.1zM396.3 227.6h1.1v1.1h-1.1zM401.2 232.6h1.1v1.1h-1.1zM431.9 223.1h1.1v1.1h-1.1zM390.5 201.2h1.1v1.1h-1.1zM426.0 228.8h1.1v1.1h-1.1zM401.8 208.5h1.1v1.1h-1.1zM389.2 201.5h1.1v1.1h-1.1zM415.0 213.1h1.1v1.1h-1.1zM426.0 227.2h1.1v1.1h-1.1zM424.5 225.3h1.1v1.1h-1.1zM397.9 230.3h1.1v1.1h-1.1zM388.9 202.4h1.1v1.1h-1.1zM393.3 207.2h1.1v1.1h-1.1zM398.3 233.1h1.1v1.1h-1.1zM420.5 236.3h1.1v1.1h-1.1zM390.6 199.0h1.1v1.1h-1.1zM391.1 194.2h1.1v1.1h-1.1zM425.1 235.0h1.1v1.1h-1.1zM418.2 234.6h1.1v1.1h-1.1zM399.5 203.1h1.1v1.1h-1.1zM427.8 232.2h1.1v1.1h-1.1zM395.2 205.1h1.1v1.1h-1.1zM405.3 205.3h1.1v1.1h-1.1zM398.7 206.1h1.1v1.1h-1.1zM425.1 228.4h1.1v1.1h-1.1zM397.1 227.1h1.1v1.1h-1.1zM419.6 227.8h1.1v1.1h-1.1zM422.5 233.3h1.1v1.1h-1.1zM387.8 201.5h1.1v1.1h-1.1zM422.2 229.2h1.1v1.1h-1.1zM394.0 199.7h1.1v1.1h-1.1zM396.1 227.8h1.1v1.1h-1.1zM393.9 201.7h1.1v1.1h-1.1zM394.4 229.7h1.1v1.1h-1.1zM410.1 210.5h1.1v1.1h-1.1zM388.8 205.1h1.1v1.1h-1.1zM391.0 208.1h1.1v1.1h-1.1zM392.9 228.8h1.1v1.1h-1.1zM403.6 228.6h1.1v1.1h-1.1zM423.8 231.4h1.1v1.1h-1.1zM399.9 235.1h1.1v1.1h-1.1zM398.2 200.2h1.1v1.1h-1.1zM395.9 200.2h1.1v1.1h-1.1zM389.1 205.3h1.1v1.1h-1.1zM394.2 236.1h1.1v1.1h-1.1zM420.8 230.5h1.1v1.1h-1.1zM394.2 226.9h1.1v1.1h-1.1zM423.1 224.5h1.1v1.1h-1.1zM414.4 208.2h1.1v1.1h-1.1zM417.9 236.4h1.1v1.1h-1.1zM395.3 200.2h1.1v1.1h-1.1zM415.4 208.9h1.1v1.1h-1.1zM390.6 199.1h1.1v1.1h-1.1zM395.6 199.2h1.1v1.1h-1.1zM397.3 230.8h1.1v1.1h-1.1zM399.8 233.0h1.1v1.1h-1.1zM390.8 209.0h1.1v1.1h-1.1zM402.1 231.3h1.1v1.1h-1.1zM388.8 229.6h1.1v1.1h-1.1zM397.8 228.3h1.1v1.1h-1.1zM427.6 233.5h1.1v1.1h-1.1zM401.4 208.9h1.1v1.1h-1.1zM387.5 232.9h1.1v1.1h-1.1zM401.6 233.5h1.1v1.1h-1.1zM423.3 229.6h1.1v1.1h-1.1zM424.6 232.5h1.1v1.1h-1.1zM426.6 227.4h1.1v1.1h-1.1zM421.3 228.0h1.1v1.1h-1.1zM390.0 201.8h1.1v1.1h-1.1zM396.8 202.6h1.1v1.1h-1.1zM392.1 207.5h1.1v1.1h-1.1zM387.9 201.5h1.1v1.1h-1.1zM390.1 232.4h1.1v1.1h-1.1zM416.7 227.7h1.1v1.1h-1.1zM429.8 231.4h1.1v1.1h-1.1zM397.4 206.4h1.1v1.1h-1.1zM407.0 213.6h1.1v1.1h-1.1zM418.0 208.8h1.1v1.1h-1.1zM426.9 226.1h1.1v1.1h-1.1zM397.5 229.1h1.1v1.1h-1.1zM412.3 206.7h1.1v1.1h-1.1zM404.8 229.4h1.1v1.1h-1.1zM418.3 212.3h1.1v1.1h-1.1zM426.1 223.1h1.1v1.1h-1.1zM398.1 229.7h1.1v1.1h-1.1zM390.1 234.8h1.1v1.1h-1.1zM389.2 231.8h1.1v1.1h-1.1zM390.0 234.2h1.1v1.1h-1.1zM424.1 230.2h1.1v1.1h-1.1zM423.4 226.4h1.1v1.1h-1.1zM417.8 229.6h1.1v1.1h-1.1zM405.3 207.2h1.1v1.1h-1.1zM425.7 230.9h1.1v1.1h-1.1zM429.4 222.8h1.1v1.1h-1.1zM413.7 213.7h1.1v1.1h-1.1zM392.9 205.2h1.1v1.1h-1.1zM423.0 234.1h1.1v1.1h-1.1zM392.2 222.6h1.1v1.1h-1.1zM398.9 236.0h1.1v1.1h-1.1zM394.3 226.9h1.1v1.1h-1.1zM427.5 232.6h1.1v1.1h-1.1zM396.2 232.6h1.1v1.1h-1.1zM403.3 236.0h1.1v1.1h-1.1zM431.8 225.3h1.1v1.1h-1.1zM430.6 199.3h1.1v1.1h-1.1zM419.9 227.9h1.1v1.1h-1.1zM389.7 204.7h1.1v1.1h-1.1zM439.7 192.6h1.1v1.1h-1.1zM393.4 233.6h1.1v1.1h-1.1zM390.6 205.4h1.1v1.1h-1.1zM423.6 199.9h1.1v1.1h-1.1zM395.0 233.0h1.1v1.1h-1.1zM394.8 202.8h1.1v1.1h-1.1zM415.2 210.1h1.1v1.1h-1.1zM432.5 222.9h1.1v1.1h-1.1zM397.8 232.7h1.1v1.1h-1.1zM423.3 233.1h1.1v1.1h-1.1zM397.0 225.0h1.1v1.1h-1.1zM399.5 228.1h1.1v1.1h-1.1zM393.0 235.6h1.1v1.1h-1.1zM388.8 207.4h1.1v1.1h-1.1zM422.0 223.4h1.1v1.1h-1.1zM405.4 235.1h1.1v1.1h-1.1zM397.3 230.9h1.1v1.1h-1.1zM423.3 235.9h1.1v1.1h-1.1zM399.1 230.5h1.1v1.1h-1.1zM421.6 235.9h1.1v1.1h-1.1zM424.8 233.5h1.1v1.1h-1.1zM394.7 233.3h1.1v1.1h-1.1zM392.6 229.4h1.1v1.1h-1.1zM422.9 224.6h1.1v1.1h-1.1zM426.8 229.0h1.1v1.1h-1.1zM416.1 229.9h1.1v1.1h-1.1zM405.2 227.8h1.1v1.1h-1.1zM419.9 229.2h1.1v1.1h-1.1zM422.3 211.1h1.1v1.1h-1.1zM397.2 234.1h1.1v1.1h-1.1zM424.1 232.0h1.1v1.1h-1.1zM416.9 233.8h1.1v1.1h-1.1zM421.2 234.4h1.1v1.1h-1.1zM424.1 224.8h1.1v1.1h-1.1zM402.8 213.7h1.1v1.1h-1.1zM386.7 206.2h1.1v1.1h-1.1zM427.5 231.0h1.1v1.1h-1.1zM415.5 234.6h1.1v1.1h-1.1zM421.0 231.9h1.1v1.1h-1.1zM396.3 229.6h1.1v1.1h-1.1zM395.1 226.6h1.1v1.1h-1.1zM406.1 200.5h1.1v1.1h-1.1zM395.9 228.8h1.1v1.1h-1.1zM424.0 227.1h1.1v1.1h-1.1zM386.9 235.4h1.1v1.1h-1.1zM428.5 225.9h1.1v1.1h-1.1zM388.8 211.4h1.1v1.1h-1.1zM391.8 198.6h1.1v1.1h-1.1zM415.9 206.7h1.1v1.1h-1.1zM392.8 206.7h1.1v1.1h-1.1zM394.1 232.8h1.1v1.1h-1.1zM394.2 207.1h1.1v1.1h-1.1zM392.7 231.5h1.1v1.1h-1.1zM389.9 204.2h1.1v1.1h-1.1zM427.6 222.4h1.1v1.1h-1.1zM399.4 228.9h1.1v1.1h-1.1zM390.1 202.5h1.1v1.1h-1.1zM396.3 203.2h1.1v1.1h-1.1zM395.8 203.2h1.1v1.1h-1.1zM423.4 224.7h1.1v1.1h-1.1zM385.6 200.6h1.1v1.1h-1.1zM413.1 211.8h1.1v1.1h-1.1zM418.1 227.9h1.1v1.1h-1.1zM394.7 232.0h1.1v1.1h-1.1zM414.2 225.2h1.1v1.1h-1.1zM399.6 231.6h1.1v1.1h-1.1zM425.7 229.7h1.1v1.1h-1.1zM395.2 201.5h1.1v1.1h-1.1zM395.0 229.8h1.1v1.1h-1.1zM422.4 231.4h1.1v1.1h-1.1zM406.2 206.3h1.1v1.1h-1.1zM425.0 225.1h1.1v1.1h-1.1zM389.1 207.0h1.1v1.1h-1.1zM417.1 226.2h1.1v1.1h-1.1zM425.0 236.8h1.1v1.1h-1.1zM412.9 209.1h1.1v1.1h-1.1zM412.0 211.0h1.1v1.1h-1.1zM390.7 232.4h1.1v1.1h-1.1zM386.2 203.5h1.1v1.1h-1.1zM392.8 229.2h1.1v1.1h-1.1zM422.8 228.7h1.1v1.1h-1.1zM429.4 226.0h1.1v1.1h-1.1zM392.6 197.7h1.1v1.1h-1.1zM421.5 224.4h1.1v1.1h-1.1zM398.4 202.7h1.1v1.1h-1.1zM401.7 234.2h1.1v1.1h-1.1zM400.5 229.1h1.1v1.1h-1.1zM425.0 224.3h1.1v1.1h-1.1zM393.8 225.3h1.1v1.1h-1.1zM394.1 207.2h1.1v1.1h-1.1zM390.9 208.1h1.1v1.1h-1.1zM423.3 225.5h1.1v1.1h-1.1zM385.4 197.2h1.1v1.1h-1.1zM425.8 229.5h1.1v1.1h-1.1zM386.1 198.4h1.1v1.1h-1.1zM418.6 233.9h1.1v1.1h-1.1zM406.1 232.7h1.1v1.1h-1.1zM397.8 229.5h1.1v1.1h-1.1zM424.0 227.7h1.1v1.1h-1.1zM393.9 229.1h1.1v1.1h-1.1zM399.5 203.1h1.1v1.1h-1.1zM397.3 201.0h1.1v1.1h-1.1zM398.9 230.0h1.1v1.1h-1.1zM396.0 206.4h1.1v1.1h-1.1zM416.3 212.2h1.1v1.1h-1.1zM422.6 229.6h1.1v1.1h-1.1zM420.2 230.2h1.1v1.1h-1.1zM428.3 233.1h1.1v1.1h-1.1zM395.3 235.0h1.1v1.1h-1.1zM392.1 202.4h1.1v1.1h-1.1zM400.7 221.7h1.1v1.1h-1.1zM386.5 205.0h1.1v1.1h-1.1zM424.9 235.1h1.1v1.1h-1.1zM388.1 207.0h1.1v1.1h-1.1zM421.5 230.4h1.1v1.1h-1.1zM393.4 200.8h1.1v1.1h-1.1zM426.1 225.0h1.1v1.1h-1.1zM394.9 234.3h1.1v1.1h-1.1zM418.8 230.9h1.1v1.1h-1.1zM394.6 202.4h1.1v1.1h-1.1zM393.5 199.5h1.1v1.1h-1.1zM396.2 229.9h1.1v1.1h-1.1zM418.2 227.0h1.1v1.1h-1.1zM399.5 223.6h1.1v1.1h-1.1zM397.4 232.8h1.1v1.1h-1.1zM428.9 205.2h1.1v1.1h-1.1zM389.2 202.7h1.1v1.1h-1.1zM393.9 206.1h1.1v1.1h-1.1zM413.1 210.5h1.1v1.1h-1.1zM398.9 223.8h1.1v1.1h-1.1zM421.5 234.5h1.1v1.1h-1.1zM390.3 229.7h1.1v1.1h-1.1zM401.6 227.6h1.1v1.1h-1.1zM401.0 197.3h1.1v1.1h-1.1zM412.2 213.9h1.1v1.1h-1.1zM415.6 211.2h1.1v1.1h-1.1zM395.7 230.9h1.1v1.1h-1.1zM401.2 230.0h1.1v1.1h-1.1zM387.5 205.7h1.1v1.1h-1.1zM410.1 211.1h1.1v1.1h-1.1zM425.3 229.5h1.1v1.1h-1.1zM428.3 237.5h1.1v1.1h-1.1zM392.9 224.5h1.1v1.1h-1.1zM422.2 228.8h1.1v1.1h-1.1zM407.4 193.8h1.1v1.1h-1.1zM424.5 231.0h1.1v1.1h-1.1zM396.9 206.6h1.1v1.1h-1.1zM422.0 235.1h1.1v1.1h-1.1zM429.6 233.1h1.1v1.1h-1.1zM395.1 229.6h1.1v1.1h-1.1zM395.2 230.1h1.1v1.1h-1.1zM385.8 207.5h1.1v1.1h-1.1zM422.6 219.9h1.1v1.1h-1.1zM405.8 200.0h1.1v1.1h-1.1zM396.9 229.6h1.1v1.1h-1.1zM403.6 204.3h1.1v1.1h-1.1zM395.8 231.3h1.1v1.1h-1.1zM393.8 208.1h1.1v1.1h-1.1zM408.1 212.4h1.1v1.1h-1.1zM396.2 209.4h1.1v1.1h-1.1zM420.9 230.8h1.1v1.1h-1.1zM398.2 200.6h1.1v1.1h-1.1zM411.8 213.0h1.1v1.1h-1.1zM393.7 235.6h1.1v1.1h-1.1zM424.9 232.4h1.1v1.1h-1.1zM423.5 204.9h1.1v1.1h-1.1zM400.7 230.6h1.1v1.1h-1.1zM421.6 199.8h1.1v1.1h-1.1zM427.2 230.9h1.1v1.1h-1.1zM391.9 232.2h1.1v1.1h-1.1zM412.5 211.6h1.1v1.1h-1.1zM408.5 200.9h1.1v1.1h-1.1zM390.1 200.9h1.1v1.1h-1.1zM418.0 231.1h1.1v1.1h-1.1zM419.2 226.5h1.1v1.1h-1.1zM397.5 228.2h1.1v1.1h-1.1zM410.7 208.3h1.1v1.1h-1.1zM392.5 197.8h1.1v1.1h-1.1zM399.5 231.0h1.1v1.1h-1.1zM413.9 214.9h1.1v1.1h-1.1zM400.8 229.2h1.1v1.1h-1.1zM417.6 229.9h1.1v1.1h-1.1zM417.3 210.3h1.1v1.1h-1.1zM389.6 235.0h1.1v1.1h-1.1zM432.2 229.0h1.1v1.1h-1.1zM401.2 204.3h1.1v1.1h-1.1zM422.3 226.1h1.1v1.1h-1.1zM399.3 200.7h1.1v1.1h-1.1zM398.2 228.4h1.1v1.1h-1.1zM394.1 228.1h1.1v1.1h-1.1zM394.6 201.4h1.1v1.1h-1.1zM396.0 229.6h1.1v1.1h-1.1zM400.4 207.0h1.1v1.1h-1.1zM397.9 200.9h1.1v1.1h-1.1zM394.5 230.8h1.1v1.1h-1.1zM425.2 234.5h1.1v1.1h-1.1zM429.0 220.9h1.1v1.1h-1.1zM416.7 207.3h1.1v1.1h-1.1zM424.0 228.3h1.1v1.1h-1.1zM393.7 202.7h1.1v1.1h-1.1zM394.5 228.9h1.1v1.1h-1.1zM392.5 235.7h1.1v1.1h-1.1zM395.4 201.2h1.1v1.1h-1.1zM399.2 228.0h1.1v1.1h-1.1zM394.2 209.0h1.1v1.1h-1.1zM427.1 234.8h1.1v1.1h-1.1zM417.6 223.2h1.1v1.1h-1.1zM395.3 204.3h1.1v1.1h-1.1zM394.1 236.3h1.1v1.1h-1.1zM396.1 226.2h1.1v1.1h-1.1zM423.2 228.1h1.1v1.1h-1.1zM423.3 227.7h1.1v1.1h-1.1zM396.3 205.1h1.1v1.1h-1.1zM393.5 205.7h1.1v1.1h-1.1zM397.1 206.5h1.1v1.1h-1.1zM426.8 212.4h1.1v1.1h-1.1zM399.4 204.7h1.1v1.1h-1.1zM426.6 229.6h1.1v1.1h-1.1zM422.1 229.8h1.1v1.1h-1.1zM390.3 207.5h1.1v1.1h-1.1zM394.0 233.8h1.1v1.1h-1.1zM387.2 192.6h1.1v1.1h-1.1zM425.1 231.6h1.1v1.1h-1.1zM390.9 202.5h1.1v1.1h-1.1zM395.5 229.3h1.1v1.1h-1.1zM400.1 227.8h1.1v1.1h-1.1zM426.5 230.0h1.1v1.1h-1.1zM401.1 234.0h1.1v1.1h-1.1zM420.3 211.3h1.1v1.1h-1.1zM397.2 227.3h1.1v1.1h-1.1zM417.8 210.5h1.1v1.1h-1.1zM417.7 234.1h1.1v1.1h-1.1zM387.2 196.3h1.1v1.1h-1.1zM403.8 214.3h1.1v1.1h-1.1zM419.6 233.4h1.1v1.1h-1.1zM420.4 229.5h1.1v1.1h-1.1zM424.0 229.5h1.1v1.1h-1.1zM392.2 235.9h1.1v1.1h-1.1zM406.7 209.5h1.1v1.1h-1.1zM393.4 231.8h1.1v1.1h-1.1zM424.3 234.7h1.1v1.1h-1.1zM423.3 230.6h1.1v1.1h-1.1zM391.1 198.1h1.1v1.1h-1.1zM419.0 223.0h1.1v1.1h-1.1zM425.4 221.2h1.1v1.1h-1.1zM394.6 207.1h1.1v1.1h-1.1zM415.7 212.6h1.1v1.1h-1.1zM424.5 221.4h1.1v1.1h-1.1zM391.9 192.0h1.1v1.1h-1.1zM399.2 232.4h1.1v1.1h-1.1zM420.6 228.3h1.1v1.1h-1.1zM427.4 234.7h1.1v1.1h-1.1zM398.4 201.2h1.1v1.1h-1.1zM429.4 229.0h1.1v1.1h-1.1zM389.2 233.3h1.1v1.1h-1.1zM396.4 224.5h1.1v1.1h-1.1zM430.7 236.3h1.1v1.1h-1.1zM395.1 226.8h1.1v1.1h-1.1zM428.8 229.5h1.1v1.1h-1.1zM423.3 232.6h1.1v1.1h-1.1zM391.1 195.2h1.1v1.1h-1.1zM412.8 212.7h1.1v1.1h-1.1zM428.9 232.2h1.1v1.1h-1.1zM393.8 201.3h1.1v1.1h-1.1zM414.2 207.9h1.1v1.1h-1.1zM397.0 230.3h1.1v1.1h-1.1zM425.1 236.4h1.1v1.1h-1.1zM393.3 230.2h1.1v1.1h-1.1zM422.0 234.7h1.1v1.1h-1.1zM432.5 232.4h1.1v1.1h-1.1zM421.2 235.6h1.1v1.1h-1.1zM396.0 205.4h1.1v1.1h-1.1zM418.3 223.9h1.1v1.1h-1.1zM401.8 198.4h1.1v1.1h-1.1zM425.7 230.0h1.1v1.1h-1.1zM395.1 233.9h1.1v1.1h-1.1zM415.6 211.9h1.1v1.1h-1.1zM422.4 233.8h1.1v1.1h-1.1zM389.7 232.5h1.1v1.1h-1.1zM421.4 231.6h1.1v1.1h-1.1zM441.1 195.1h1.1v1.1h-1.1zM390.5 203.7h1.1v1.1h-1.1zM391.7 203.7h1.1v1.1h-1.1zM407.0 215.0h1.1v1.1h-1.1zM426.6 227.1h1.1v1.1h-1.1zM388.6 203.0h1.1v1.1h-1.1zM386.9 200.0h1.1v1.1h-1.1zM391.5 205.5h1.1v1.1h-1.1zM393.1 236.6h1.1v1.1h-1.1zM400.3 232.7h1.1v1.1h-1.1zM394.5 231.6h1.1v1.1h-1.1zM400.4 200.2h1.1v1.1h-1.1zM393.2 201.1h1.1v1.1h-1.1zM391.0 205.4h1.1v1.1h-1.1zM427.0 227.5h1.1v1.1h-1.1zM422.7 233.7h1.1v1.1h-1.1zM402.7 231.6h1.1v1.1h-1.1zM396.9 230.9h1.1v1.1h-1.1zM397.1 229.5h1.1v1.1h-1.1zM426.5 232.2h1.1v1.1h-1.1zM390.4 202.4h1.1v1.1h-1.1zM426.9 233.8h1.1v1.1h-1.1zM386.1 231.4h1.1v1.1h-1.1zM387.3 216.6h1.1v1.1h-1.1zM387.2 199.6h1.1v1.1h-1.1zM419.0 211.6h1.1v1.1h-1.1zM425.1 230.7h1.1v1.1h-1.1zM399.8 231.5h1.1v1.1h-1.1zM386.1 202.2h1.1v1.1h-1.1zM405.9 211.3h1.1v1.1h-1.1zM427.0 231.8h1.1v1.1h-1.1zM386.6 201.2h1.1v1.1h-1.1zM415.2 210.8h1.1v1.1h-1.1zM424.3 234.2h1.1v1.1h-1.1zM394.2 205.9h1.1v1.1h-1.1zM425.0 229.7h1.1v1.1h-1.1zM426.0 224.0h1.1v1.1h-1.1zM430.2 232.4h1.1v1.1h-1.1zM397.0 232.5h1.1v1.1h-1.1zM395.3 227.3h1.1v1.1h-1.1zM408.2 213.9h1.1v1.1h-1.1zM394.5 198.7h1.1v1.1h-1.1zM421.7 229.5h1.1v1.1h-1.1zM423.5 231.2h1.1v1.1h-1.1zM425.9 231.9h1.1v1.1h-1.1zM394.0 205.8h1.1v1.1h-1.1zM431.9 229.0h1.1v1.1h-1.1zM389.5 224.2h1.1v1.1h-1.1zM392.1 236.7h1.1v1.1h-1.1zM424.4 233.8h1.1v1.1h-1.1zM422.5 234.3h1.1v1.1h-1.1zM427.4 233.0h1.1v1.1h-1.1zM388.6 203.4h1.1v1.1h-1.1zM401.3 230.3h1.1v1.1h-1.1zM419.0 236.1h1.1v1.1h-1.1zM404.8 204.1h1.1v1.1h-1.1zM387.5 200.6h1.1v1.1h-1.1zM412.4 210.4h1.1v1.1h-1.1zM389.4 205.9h1.1v1.1h-1.1zM426.0 232.3h1.1v1.1h-1.1zM426.9 217.7h1.1v1.1h-1.1zM388.1 232.7h1.1v1.1h-1.1zM412.6 210.5h1.1v1.1h-1.1zM421.0 225.8h1.1v1.1h-1.1zM390.9 197.7h1.1v1.1h-1.1zM426.9 233.2h1.1v1.1h-1.1zM420.9 224.1h1.1v1.1h-1.1zM388.9 195.3h1.1v1.1h-1.1zM411.6 214.0h1.1v1.1h-1.1zM392.5 224.1h1.1v1.1h-1.1zM407.7 223.8h1.1v1.1h-1.1zM427.4 236.7h1.1v1.1h-1.1zM396.9 204.6h1.1v1.1h-1.1zM391.4 226.9h1.1v1.1h-1.1zM423.4 230.6h1.1v1.1h-1.1zM432.8 234.2h1.1v1.1h-1.1zM388.0 202.9h1.1v1.1h-1.1zM424.2 227.7h1.1v1.1h-1.1zM428.2 227.6h1.1v1.1h-1.1zM395.8 229.5h1.1v1.1h-1.1zM393.1 207.8h1.1v1.1h-1.1zM424.6 226.9h1.1v1.1h-1.1zM412.6 208.2h1.1v1.1h-1.1zM417.5 229.6h1.1v1.1h-1.1zM398.2 198.9h1.1v1.1h-1.1zM403.9 200.9h1.1v1.1h-1.1zM428.9 227.9h1.1v1.1h-1.1zM390.8 234.5h1.1v1.1h-1.1zM416.1 211.6h1.1v1.1h-1.1zM411.4 208.1h1.1v1.1h-1.1zM427.9 227.6h1.1v1.1h-1.1zM422.0 230.1h1.1v1.1h-1.1zM401.0 232.8h1.1v1.1h-1.1zM426.2 230.6h1.1v1.1h-1.1zM393.0 234.5h1.1v1.1h-1.1zM394.1 228.0h1.1v1.1h-1.1zM396.8 234.3h1.1v1.1h-1.1zM394.6 231.4h1.1v1.1h-1.1zM397.4 204.3h1.1v1.1h-1.1zM391.7 206.3h1.1v1.1h-1.1zM397.9 230.9h1.1v1.1h-1.1zM397.3 229.5h1.1v1.1h-1.1zM401.8 228.6h1.1v1.1h-1.1zM394.8 232.7h1.1v1.1h-1.1zM427.4 231.4h1.1v1.1h-1.1zM390.2 233.6h1.1v1.1h-1.1zM395.8 230.7h1.1v1.1h-1.1zM397.9 230.2h1.1v1.1h-1.1zM423.1 226.3h1.1v1.1h-1.1zM399.2 198.6h1.1v1.1h-1.1zM392.0 204.2h1.1v1.1h-1.1zM389.7 234.6h1.1v1.1h-1.1zM394.2 211.4h1.1v1.1h-1.1zM394.5 235.1h1.1v1.1h-1.1zM405.3 216.1h1.1v1.1h-1.1zM408.0 213.8h1.1v1.1h-1.1zM421.6 204.1h1.1v1.1h-1.1zM400.3 229.4h1.1v1.1h-1.1zM397.8 230.7h1.1v1.1h-1.1zM395.9 202.8h1.1v1.1h-1.1zM395.8 234.1h1.1v1.1h-1.1zM393.5 234.0h1.1v1.1h-1.1zM415.4 233.6h1.1v1.1h-1.1zM424.5 231.9h1.1v1.1h-1.1zM423.7 230.0h1.1v1.1h-1.1zM392.9 228.1h1.1v1.1h-1.1zM395.5 230.4h1.1v1.1h-1.1zM429.2 231.2h1.1v1.1h-1.1zM423.9 226.6h1.1v1.1h-1.1zM424.0 235.2h1.1v1.1h-1.1zM387.4 197.7h1.1v1.1h-1.1zM392.4 227.6h1.1v1.1h-1.1zM388.6 202.1h1.1v1.1h-1.1zM421.1 230.4h1.1v1.1h-1.1zM396.9 204.8h1.1v1.1h-1.1zM416.0 207.7h1.1v1.1h-1.1zM385.2 201.4h1.1v1.1h-1.1zM421.3 223.7h1.1v1.1h-1.1zM426.8 227.4h1.1v1.1h-1.1zM426.9 234.7h1.1v1.1h-1.1zM418.3 229.5h1.1v1.1h-1.1zM428.0 230.5h1.1v1.1h-1.1zM428.4 223.6h1.1v1.1h-1.1zM424.7 233.8h1.1v1.1h-1.1zM424.5 227.4h1.1v1.1h-1.1zM401.4 209.7h1.1v1.1h-1.1zM386.7 204.9h1.1v1.1h-1.1zM426.1 234.9h1.1v1.1h-1.1zM411.8 215.5h1.1v1.1h-1.1zM395.5 230.4h1.1v1.1h-1.1zM402.2 232.1h1.1v1.1h-1.1zM402.0 203.0h1.1v1.1h-1.1zM396.7 232.2h1.1v1.1h-1.1zM399.7 205.5h1.1v1.1h-1.1zM421.8 232.6h1.1v1.1h-1.1zM396.2 204.6h1.1v1.1h-1.1zM399.1 230.7h1.1v1.1h-1.1zM423.2 210.5h1.1v1.1h-1.1zM392.1 207.1h1.1v1.1h-1.1zM390.8 203.0h1.1v1.1h-1.1zM429.7 223.7h1.1v1.1h-1.1zM393.6 229.4h1.1v1.1h-1.1zM432.7 235.5h1.1v1.1h-1.1zM426.6 231.5h1.1v1.1h-1.1zM396.8 234.4h1.1v1.1h-1.1zM425.0 228.2h1.1v1.1h-1.1zM422.0 226.6h1.1v1.1h-1.1zM396.4 233.6h1.1v1.1h-1.1zM400.6 230.7h1.1v1.1h-1.1zM399.7 223.9h1.1v1.1h-1.1zM399.5 227.6h1.1v1.1h-1.1zM422.2 235.5h1.1v1.1h-1.1zM391.2 231.3h1.1v1.1h-1.1zM413.2 214.4h1.1v1.1h-1.1zM415.6 207.5h1.1v1.1h-1.1zM421.0 229.8h1.1v1.1h-1.1zM400.0 231.3h1.1v1.1h-1.1zM396.2 227.8h1.1v1.1h-1.1zM396.8 193.6h1.1v1.1h-1.1zM393.5 208.6h1.1v1.1h-1.1zM427.5 228.4h1.1v1.1h-1.1zM419.9 209.4h1.1v1.1h-1.1zM389.5 197.7h1.1v1.1h-1.1zM400.5 201.6h1.1v1.1h-1.1zM427.6 235.0h1.1v1.1h-1.1zM419.4 232.9h1.1v1.1h-1.1zM421.7 229.3h1.1v1.1h-1.1zM394.1 231.3h1.1v1.1h-1.1zM402.4 233.9h1.1v1.1h-1.1zM392.9 230.2h1.1v1.1h-1.1zM394.5 203.2h1.1v1.1h-1.1zM398.4 203.7h1.1v1.1h-1.1zM415.8 210.2h1.1v1.1h-1.1zM391.0 231.9h1.1v1.1h-1.1zM396.4 228.2h1.1v1.1h-1.1zM425.9 230.0h1.1v1.1h-1.1zM395.9 233.3h1.1v1.1h-1.1zM396.1 202.8h1.1v1.1h-1.1zM394.7 229.8h1.1v1.1h-1.1zM426.3 230.0h1.1v1.1h-1.1zM396.6 201.2h1.1v1.1h-1.1zM417.0 224.9h1.1v1.1h-1.1zM387.4 227.4h1.1v1.1h-1.1zM394.0 201.1h1.1v1.1h-1.1zM388.2 205.4h1.1v1.1h-1.1zM391.8 203.6h1.1v1.1h-1.1zM422.2 231.4h1.1v1.1h-1.1zM393.4 203.6h1.1v1.1h-1.1zM391.9 201.9h1.1v1.1h-1.1zM424.7 235.5h1.1v1.1h-1.1zM418.3 232.2h1.1v1.1h-1.1zM390.6 230.9h1.1v1.1h-1.1zM421.9 230.8h1.1v1.1h-1.1zM424.7 230.7h1.1v1.1h-1.1zM392.2 230.1h1.1v1.1h-1.1zM392.4 227.8h1.1v1.1h-1.1zM427.7 230.2h1.1v1.1h-1.1zM425.4 236.5h1.1v1.1h-1.1zM400.1 234.4h1.1v1.1h-1.1zM398.4 228.1h1.1v1.1h-1.1zM417.9 209.8h1.1v1.1h-1.1zM429.5 230.8h1.1v1.1h-1.1zM392.7 198.3h1.1v1.1h-1.1zM425.6 230.4h1.1v1.1h-1.1zM399.1 227.6h1.1v1.1h-1.1zM425.2 229.9h1.1v1.1h-1.1zM396.0 206.6h1.1v1.1h-1.1zM387.3 232.1h1.1v1.1h-1.1zM396.9 230.9h1.1v1.1h-1.1zM384.9 235.6h1.1v1.1h-1.1zM394.2 230.5h1.1v1.1h-1.1zM391.0 195.6h1.1v1.1h-1.1zM420.7 226.7h1.1v1.1h-1.1zM423.1 228.9h1.1v1.1h-1.1zM423.5 228.3h1.1v1.1h-1.1zM395.6 233.3h1.1v1.1h-1.1zM392.4 209.8h1.1v1.1h-1.1zM414.1 225.9h1.1v1.1h-1.1zM426.5 233.7h1.1v1.1h-1.1zM398.8 231.0h1.1v1.1h-1.1zM390.0 200.5h1.1v1.1h-1.1zM405.3 234.6h1.1v1.1h-1.1zM420.0 231.5h1.1v1.1h-1.1zM412.8 210.9h1.1v1.1h-1.1zM402.1 232.3h1.1v1.1h-1.1zM396.3 228.7h1.1v1.1h-1.1zM426.0 229.2h1.1v1.1h-1.1zM392.0 230.7h1.1v1.1h-1.1zM391.8 204.1h1.1v1.1h-1.1zM389.3 228.0h1.1v1.1h-1.1zM422.1 232.2h1.1v1.1h-1.1zM438.1 234.5h1.1v1.1h-1.1zM396.5 206.5h1.1v1.1h-1.1zM415.5 207.6h1.1v1.1h-1.1zM414.5 211.8h1.1v1.1h-1.1zM399.3 227.4h1.1v1.1h-1.1zM430.2 230.8h1.1v1.1h-1.1zM394.0 203.8h1.1v1.1h-1.1zM410.3 210.4h1.1v1.1h-1.1zM399.9 233.8h1.1v1.1h-1.1zM389.5 208.5h1.1v1.1h-1.1zM406.9 203.1h1.1v1.1h-1.1zM422.9 237.0h1.1v1.1h-1.1zM413.8 212.0h1.1v1.1h-1.1zM397.7 231.6h1.1v1.1h-1.1zM396.6 231.1h1.1v1.1h-1.1zM432.0 232.8h1.1v1.1h-1.1zM414.2 213.4h1.1v1.1h-1.1zM399.1 231.6h1.1v1.1h-1.1zM422.5 228.4h1.1v1.1h-1.1zM393.0 232.8h1.1v1.1h-1.1zM423.9 232.1h1.1v1.1h-1.1zM390.2 199.1h1.1v1.1h-1.1zM427.4 231.9h1.1v1.1h-1.1zM387.3 208.3h1.1v1.1h-1.1zM390.7 231.9h1.1v1.1h-1.1zM413.4 210.9h1.1v1.1h-1.1zM426.6 222.2h1.1v1.1h-1.1zM395.9 232.6h1.1v1.1h-1.1zM393.4 228.4h1.1v1.1h-1.1zM427.4 230.0h1.1v1.1h-1.1zM421.3 235.5h1.1v1.1h-1.1zM426.4 235.6h1.1v1.1h-1.1zM402.1 205.1h1.1v1.1h-1.1zM421.2 200.9h1.1v1.1h-1.1zM394.9 232.4h1.1v1.1h-1.1zM388.8 201.7h1.1v1.1h-1.1zM428.4 231.7h1.1v1.1h-1.1zM416.3 231.5h1.1v1.1h-1.1zM392.3 227.6h1.1v1.1h-1.1zM395.7 232.0h1.1v1.1h-1.1zM397.2 202.8h1.1v1.1h-1.1zM396.9 228.5h1.1v1.1h-1.1zM398.0 229.0h1.1v1.1h-1.1z" fill="#ee0a0a" fill-opacity="0.85"/>
<path d="M407.4 208.9h1.1v1.1h-1.1zM390.3 203.0h1.1v1.1h-1.1zM397.6 227.0h1.1v1.1h-1.1zM387.9 199.4h1.1v1.1h-1.1zM427.5 232.0h1.1v1.1h-1.1zM398.4 226.1h1.1v1.1h-1.1zM423.4 232.5h1.1v1.1h-1.1zM395.1 202.2h1.1v1.1h-1.1zM396.7 205.9h1.1v1.1h-1.1zM390.6 226.6h1.1v1.1h-1.1zM391.5 202.7h1.1v1.1h-1.1zM400.5 203.2h1.1v1.1h-1.1zM389.9 223.3h1.1v1.1h-1.1zM398.2 201.7h1.1v1.1h-1.1zM394.5 231.4h1.1v1.1h-1.1zM426.3 228.5h1.1v1.1h-1.1zM395.3 199.8h1.1v1.1h-1.1zM402.9 232.4h1.1v1.1h-1.1zM428.8 218.2h1.1v1.1h-1.1zM403.7 236.8h1.1v1.1h-1.1zM428.4 232.5h1.1v1.1h-1.1zM420.9 226.2h1.1v1.1h-1.1zM397.4 230.4h1.1v1.1h-1.1zM392.6 233.6h1.1v1.1h-1.1zM423.1 229.6h1.1v1.1h-1.1zM422.2 229.3h1.1v1.1h-1.1zM417.3 210.4h1.1v1.1h-1.1zM389.6 210.2h1.1v1.1h-1.1zM423.3 228.0h1.1v1.1h-1.1zM420.3 223.4h1.1v1.1h-1.1zM403.1 198.6h1.1v1.1h-1.1zM400.8 236.1h1.1v1.1h-1.1zM402.5 203.6h1.1v1.1h-1.1zM406.8 211.7h1.1v1.1h-1.1zM415.5 205.4h1.1v1.1h-1.1zM395.6 200.4h1.1v1.1h-1.1zM395.5 236.5h1.1v1.1h-1.1zM428.0 233.0h1.1v1.1h-1.1zM418.7 230.0h1.1v1.1h-1.1zM397.9 233.5h1.1v1.1h-1.1zM395.5 228.3h1.1v1.1h-1.1zM425.5 231.3h1.1v1.1h-1.1zM422.4 231.1h1.1v1.1h-1.1zM431.6 228.2h1.1v1.1h-1.1zM394.6 233.6h1.1v1.1h-1.1zM423.6 228.3h1.1v1.1h-1.1zM397.8 208.4h1.1v1.1h-1.1zM391.7 205.1h1.1v1.1h-1.1zM421.4 236.1h1.1v1.1h-1.1zM399.9 203.6h1.1v1.1h-1.1zM399.6 225.5h1.1v1.1h-1.1zM387.9 230.3h1.1v1.1h-1.1zM391.7 197.0h1.1v1.1h-1.1zM394.3 207.7h1.1v1.1h-1.1zM401.9 202.1h1.1v1.1h-1.1zM411.4 212.8h1.1v1.1h-1.1zM391.0 198.6h1.1v1.1h-1.1zM419.0 222.1h1.1v1.1h-1.1zM419.5 227.4h1.1v1.1h-1.1zM402.3 212.1h1.1v1.1h-1.1zM419.1 225.6h1.1v1.1h-1.1zM427.7 227.6h1.1v1.1h-1.1zM422.2 228.8h1.1v1.1h-1.1zM428.4 209.7h1.1v1.1h-1.1zM389.5 202.3h1.1v1.1h-1.1zM397.5 199.7h1.1v1.1h-1.1zM399.2 224.7h1.1v1.1h-1.1zM424.8 224.6h1.1v1.1h-1.1zM423.5 224.7h1.1v1.1h-1.1zM386.9 204.3h1.1v1.1h-1.1zM421.4 230.0h1.1v1.1h-1.1zM393.5 226.2h1.1v1.1h-1.1zM399.1 202.9h1.1v1.1h-1.1zM401.6 232.2h1.1v1.1h-1.1zM396.3 200.6h1.1v1.1h-1.1zM395.8 195.9h1.1v1.1h-1.1zM424.4 224.8h1.1v1.1h-1.1zM402.6 233.8h1.1v1.1h-1.1zM397.2 232.0h1.1v1.1h-1.1zM423.6 228.2h1.1v1.1h-1.1zM393.8 226.3h1.1v1.1h-1.1zM392.5 225.6h1.1v1.1h-1.1zM396.1 229.0h1.1v1.1h-1.1zM397.4 230.9h1.1v1.1h-1.1zM425.4 231.1h1.1v1.1h-1.1zM398.1 230.9h1.1v1.1h-1.1zM400.4 232.9h1.1v1.1h-1.1zM423.0 225.3h1.1v1.1h-1.1zM422.1 229.4h1.1v1.1h-1.1zM422.4 230.9h1.1v1.1h-1.1zM393.8 199.6h1.1v1.1h-1.1zM426.6 231.9h1.1v1.1h-1.1zM413.7 211.9h1.1v1.1h-1.1zM421.1 229.0h1.1v1.1h-1.1zM394.9 234.0h1.1v1.1h-1.1zM423.2 229.3h1.1v1.1h-1.1zM413.0 216.2h1.1v1.1h-1.1zM396.0 202.7h1.1v1.1h-1.1zM390.1 202.4h1.1v1.1h-1.1zM392.9 233.3h1.1v1.1h-1.1zM390.4 203.5h1.1v1.1h-1.1zM391.7 200.1h1.1v1.1h-1.1zM390.8 230.4h1.1v1.1h-1.1zM391.4 193.9h1.1v1.1h-1.1zM400.2 229.3h1.1v1.1h-1.1zM399.9 226.9h1.1v1.1h-1.1zM410.9 211.8h1.1v1.1h-1.1zM421.5 211.6h1.1v1.1h-1.1zM411.2 198.4h1.1v1.1h-1.1zM398.4 226.8h1.1v1.1h-1.1zM421.0 231.4h1.1v1.1h-1.1zM393.5 225.3h1.1v1.1h-1.1zM410.7 211.9h1.1v1.1h-1.1zM428.4 231.2h1.1v1.1h-1.1zM421.7 232.5h1.1v1.1h-1.1zM415.7 211.7h1.1v1.1h-1.1zM394.1 206.9h1.1v1.1h-1.1zM397.5 229.6h1.1v1.1h-1.1zM391.1 208.3h1.1v1.1h-1.1zM425.7 230.2h1.1v1.1h-1.1zM413.9 208.8h1.1v1.1h-1.1zM394.0 231.0h1.1v1.1h-1.1zM399.0 228.3h1.1v1.1h-1.1zM387.5 199.4h1.1v1.1h-1.1zM397.7 229.0h1.1v1.1h-1.1zM426.4 234.7h1.1v1.1h-1.1zM416.1 207.9h1.1v1.1h-1.1zM425.8 223.0h1.1v1.1h-1.1zM427.3 237.3h1.1v1.1h-1.1zM394.5 234.4h1.1v1.1h-1.1zM403.8 234.4h1.1v1.1h-1.1zM420.6 225.1h1.1v1.1h-1.1zM391.8 201.7h1.1v1.1h-1.1zM413.0 228.0h1.1v1.1h-1.1zM421.2 233.5h1.1v1.1h-1.1zM396.8 204.4h1.1v1.1h-1.1zM415.8 212.1h1.1v1.1h-1.1zM418.7 223.2h1.1v1.1h-1.1zM425.2 226.6h1.1v1.1h-1.1zM393.3 226.8h1.1v1.1h-1.1zM409.6 210.1h1.1v1.1h-1.1zM395.7 235.2h1.1v1.1h-1.1zM410.8 209.8h1.1v1.1h-1.1zM411.3 210.7h1.1v1.1h-1.1zM399.2 208.1h1.1v1.1h-1.1zM398.4 232.2h1.1v1.1h-1.1zM389.5 202.5h1.1v1.1h-1.1zM395.6 230.1h1.1v1.1h-1.1zM409.5 210.2h1.1v1.1h-1.1zM422.4 233.6h1.1v1.1h-1.1zM388.8 206.6h1.1v1.1h-1.1zM415.7 223.1h1.1v1.1h-1.1zM392.3 226.1h1.1v1.1h-1.1zM391.4 204.6h1.1v1.1h-1.1zM417.8 234.0h1.1v1.1h-1.1zM394.5 230.1h1.1v1.1h-1.1zM397.2 225.9h1.1v1.1h-1.1zM387.1 236.9h1.1v1.1h-1.1zM389.6 199.6h1.1v1.1h-1.1zM398.9 194.0h1.1v1.1h-1.1zM429.7 223.8h1.1v1.1h-1.1zM396.8 232.6h1.1v1.1h-1.1zM427.5 232.1h1.1v1.1h-1.1zM424.3 227.7h1.1v1.1h-1.1zM425.3 228.3h1.1v1.1h-1.1zM427.2 228.4h1.1v1.1h-1.1zM392.9 193.5h1.1v1.1h-1.1zM399.5 206.4h1.1v1.1h-1.1zM403.5 204.8h1.1v1.1h-1.1zM423.1 230.9h1.1v1.1h-1.1zM391.7 198.3h1.1v1.1h-1.1zM398.3 228.0h1.1v1.1h-1.1zM392.3 200.1h1.1v1.1h-1.1zM395.1 229.4h1.1v1.1h-1.1zM397.7 225.7h1.1v1.1h-1.1zM413.0 211.5h1.1v1.1h-1.1zM400.7 231.7h1.1v1.1h-1.1zM398.3 231.3h1.1v1.1h-1.1zM397.1 202.0h1.1v1.1h-1.1zM424.3 235.1h1.1v1.1h-1.1zM391.5 203.4h1.1v1.1h-1.1zM421.6 227.7h1.1v1.1h-1.1zM422.4 235.1h1.1v1.1h-1.1zM397.4 198.8h1.1v1.1h-1.1zM391.3 200.9h1.1v1.1h-1.1zM421.7 207.1h1.1v1.1h-1.1zM393.1 204.1h1.1v1.1h-1.1zM422.9 233.2h1.1v1.1h-1.1zM391.3 227.8h1.1v1.1h-1.1zM388.2 201.6h1.1v1.1h-1.1zM419.0 230.4h1.1v1.1h-1.1zM425.6 205.6h1.1v1.1h-1.1z" fill="#b00000" fill-opacity="0.85"/>
<rect x="384.2" y="191.15" width="62.3" height="48" fill="none" stroke="#555" stroke-width="1.1"/>
<ellipse cx="415.9" cy="211.4" rx="13.1" ry="7.8" transform="rotate(-5 415.9 211.4)" fill="none" stroke="#444" stroke-width="0.9"/>
<rect x="414.4" y="220.6" width="18.8" height="18.6" fill="none" stroke="#444" stroke-width="0.9"/>
<text x="388.2" y="187.75" font-size="9.1" font-weight="bold" fill="#111" font-family="Liberation Sans, sans-serif">day 94</text>
<text x="430.6" y="210.9" font-size="7" font-weight="bold" fill="#111" font-family="Liberation Sans, sans-serif">7%</text>
<text x="433.4" y="231.7" font-size="7" font-weight="bold" fill="#111" font-family="Liberation Sans, sans-serif">42%</text>
<path d="M487.4 211.2h1.1v1.1h-1.1zM470.9 237.4h1.1v1.1h-1.1zM493.7 236.8h1.1v1.1h-1.1zM498.8 228.8h1.1v1.1h-1.1zM503.1 230.5h1.1v1.1h-1.1zM463.7 201.4h1.1v1.1h-1.1zM463.9 205.7h1.1v1.1h-1.1zM489.8 232.7h1.1v1.1h-1.1zM469.3 235.2h1.1v1.1h-1.1zM496.6 231.8h1.1v1.1h-1.1zM469.4 231.2h1.1v1.1h-1.1zM466.6 201.1h1.1v1.1h-1.1zM491.1 210.0h1.1v1.1h-1.1zM493.3 226.5h1.1v1.1h-1.1zM462.4 200.4h1.1v1.1h-1.1zM466.4 207.8h1.1v1.1h-1.1zM466.0 234.0h1.1v1.1h-1.1zM488.4 223.0h1.1v1.1h-1.1zM459.7 203.3h1.1v1.1h-1.1zM484.6 211.5h1.1v1.1h-1.1zM470.9 202.1h1.1v1.1h-1.1zM460.4 200.4h1.1v1.1h-1.1zM462.6 223.4h1.1v1.1h-1.1zM464.4 205.9h1.1v1.1h-1.1zM465.1 233.7h1.1v1.1h-1.1zM457.2 196.8h1.1v1.1h-1.1zM465.5 228.0h1.1v1.1h-1.1zM496.3 228.4h1.1v1.1h-1.1zM465.7 230.8h1.1v1.1h-1.1zM460.8 224.1h1.1v1.1h-1.1zM495.8 233.6h1.1v1.1h-1.1zM502.2 228.9h1.1v1.1h-1.1zM465.5 229.4h1.1v1.1h-1.1zM459.1 222.9h1.1v1.1h-1.1zM459.0 209.2h1.1v1.1h-1.1zM464.7 224.7h1.1v1.1h-1.1zM459.1 236.5h1.1v1.1h-1.1zM499.0 227.0h1.1v1.1h-1.1zM461.7 203.2h1.1v1.1h-1.1zM459.9 202.8h1.1v1.1h-1.1zM471.4 229.8h1.1v1.1h-1.1zM469.0 204.6h1.1v1.1h-1.1zM468.6 234.7h1.1v1.1h-1.1zM466.8 224.0h1.1v1.1h-1.1zM466.5 229.4h1.1v1.1h-1.1zM464.8 228.9h1.1v1.1h-1.1zM460.2 211.0h1.1v1.1h-1.1zM499.5 232.8h1.1v1.1h-1.1zM469.5 225.4h1.1v1.1h-1.1zM459.7 201.5h1.1v1.1h-1.1zM464.5 231.8h1.1v1.1h-1.1zM487.4 209.7h1.1v1.1h-1.1zM484.7 210.0h1.1v1.1h-1.1zM495.1 232.8h1.1v1.1h-1.1zM498.5 230.8h1.1v1.1h-1.1zM468.2 207.8h1.1v1.1h-1.1zM500.0 233.4h1.1v1.1h-1.1zM495.8 225.3h1.1v1.1h-1.1zM468.8 196.0h1.1v1.1h-1.1zM469.6 229.1h1.1v1.1h-1.1zM498.3 233.0h1.1v1.1h-1.1zM496.7 230.1h1.1v1.1h-1.1zM472.6 228.4h1.1v1.1h-1.1zM464.6 227.0h1.1v1.1h-1.1zM485.0 211.8h1.1v1.1h-1.1zM464.9 229.6h1.1v1.1h-1.1zM499.2 232.3h1.1v1.1h-1.1zM497.9 224.3h1.1v1.1h-1.1zM469.9 227.4h1.1v1.1h-1.1zM485.8 236.6h1.1v1.1h-1.1zM486.8 210.3h1.1v1.1h-1.1zM492.2 227.3h1.1v1.1h-1.1zM465.9 228.6h1.1v1.1h-1.1zM462.0 228.2h1.1v1.1h-1.1zM496.6 230.4h1.1v1.1h-1.1zM470.8 229.4h1.1v1.1h-1.1zM488.6 233.0h1.1v1.1h-1.1zM465.4 230.3h1.1v1.1h-1.1zM460.5 196.7h1.1v1.1h-1.1zM493.9 227.4h1.1v1.1h-1.1zM495.9 227.5h1.1v1.1h-1.1zM462.7 203.4h1.1v1.1h-1.1zM496.3 228.7h1.1v1.1h-1.1zM467.9 199.1h1.1v1.1h-1.1zM472.0 234.3h1.1v1.1h-1.1zM497.2 235.8h1.1v1.1h-1.1zM490.2 209.9h1.1v1.1h-1.1zM468.9 227.5h1.1v1.1h-1.1zM500.5 208.8h1.1v1.1h-1.1zM489.2 212.9h1.1v1.1h-1.1zM495.5 229.6h1.1v1.1h-1.1zM465.9 231.3h1.1v1.1h-1.1zM471.3 230.0h1.1v1.1h-1.1zM494.7 233.9h1.1v1.1h-1.1zM459.4 204.7h1.1v1.1h-1.1zM490.6 228.1h1.1v1.1h-1.1zM465.3 206.8h1.1v1.1h-1.1zM473.3 229.0h1.1v1.1h-1.1zM469.3 202.1h1.1v1.1h-1.1zM483.2 210.1h1.1v1.1h-1.1zM492.0 211.6h1.1v1.1h-1.1zM463.8 201.1h1.1v1.1h-1.1zM496.2 229.4h1.1v1.1h-1.1zM464.8 204.6h1.1v1.1h-1.1zM465.6 207.9h1.1v1.1h-1.1zM456.2 208.2h1.1v1.1h-1.1zM485.9 209.4h1.1v1.1h-1.1zM470.7 228.9h1.1v1.1h-1.1zM466.8 221.7h1.1v1.1h-1.1zM458.8 202.2h1.1v1.1h-1.1zM487.6 211.2h1.1v1.1h-1.1zM485.7 210.9h1.1v1.1h-1.1zM471.7 229.2h1.1v1.1h-1.1zM503.9 231.3h1.1v1.1h-1.1zM466.1 231.9h1.1v1.1h-1.1zM498.4 231.7h1.1v1.1h-1.1zM465.7 232.1h1.1v1.1h-1.1zM466.2 197.0h1.1v1.1h-1.1zM509.7 221.4h1.1v1.1h-1.1zM498.2 230.4h1.1v1.1h-1.1zM463.3 204.3h1.1v1.1h-1.1zM496.7 232.0h1.1v1.1h-1.1zM463.1 204.4h1.1v1.1h-1.1zM465.6 204.4h1.1v1.1h-1.1zM465.6 226.7h1.1v1.1h-1.1zM500.9 233.6h1.1v1.1h-1.1zM495.0 234.9h1.1v1.1h-1.1zM486.2 213.7h1.1v1.1h-1.1zM466.7 229.8h1.1v1.1h-1.1zM495.2 208.8h1.1v1.1h-1.1zM465.3 196.8h1.1v1.1h-1.1zM462.9 203.9h1.1v1.1h-1.1zM463.1 229.7h1.1v1.1h-1.1zM462.4 199.9h1.1v1.1h-1.1zM469.5 197.9h1.1v1.1h-1.1zM456.6 229.6h1.1v1.1h-1.1zM471.6 227.2h1.1v1.1h-1.1zM463.5 228.6h1.1v1.1h-1.1zM457.9 201.4h1.1v1.1h-1.1zM466.7 234.9h1.1v1.1h-1.1zM467.3 204.5h1.1v1.1h-1.1zM503.3 235.1h1.1v1.1h-1.1zM473.4 205.2h1.1v1.1h-1.1zM481.9 212.8h1.1v1.1h-1.1zM464.3 228.2h1.1v1.1h-1.1zM468.2 224.2h1.1v1.1h-1.1zM469.4 198.6h1.1v1.1h-1.1zM461.8 201.1h1.1v1.1h-1.1zM461.8 228.9h1.1v1.1h-1.1zM467.3 227.0h1.1v1.1h-1.1zM495.4 226.2h1.1v1.1h-1.1zM473.6 203.1h1.1v1.1h-1.1zM468.0 231.0h1.1v1.1h-1.1zM463.2 229.2h1.1v1.1h-1.1zM471.3 228.5h1.1v1.1h-1.1zM468.4 222.9h1.1v1.1h-1.1zM486.4 209.9h1.1v1.1h-1.1zM491.5 228.3h1.1v1.1h-1.1zM494.0 229.2h1.1v1.1h-1.1zM456.2 226.8h1.1v1.1h-1.1zM496.2 230.3h1.1v1.1h-1.1zM494.0 232.3h1.1v1.1h-1.1zM492.7 237.7h1.1v1.1h-1.1zM496.5 229.2h1.1v1.1h-1.1zM496.4 228.7h1.1v1.1h-1.1zM466.2 208.9h1.1v1.1h-1.1zM463.1 205.8h1.1v1.1h-1.1zM465.7 230.5h1.1v1.1h-1.1zM459.8 231.5h1.1v1.1h-1.1zM494.3 229.8h1.1v1.1h-1.1zM489.8 209.3h1.1v1.1h-1.1zM460.6 202.5h1.1v1.1h-1.1zM494.5 224.3h1.1v1.1h-1.1zM467.6 198.1h1.1v1.1h-1.1zM493.0 231.8h1.1v1.1h-1.1zM497.3 234.9h1.1v1.1h-1.1zM460.2 225.7h1.1v1.1h-1.1zM464.9 231.5h1.1v1.1h-1.1zM471.5 206.0h1.1v1.1h-1.1zM458.0 199.3h1.1v1.1h-1.1zM492.8 234.1h1.1v1.1h-1.1zM482.0 213.2h1.1v1.1h-1.1zM467.3 198.7h1.1v1.1h-1.1zM494.5 223.9h1.1v1.1h-1.1zM460.9 236.8h1.1v1.1h-1.1zM498.3 231.6h1.1v1.1h-1.1zM459.5 203.3h1.1v1.1h-1.1zM462.0 235.5h1.1v1.1h-1.1zM462.7 203.1h1.1v1.1h-1.1zM463.6 202.3h1.1v1.1h-1.1zM469.6 231.8h1.1v1.1h-1.1zM469.8 200.0h1.1v1.1h-1.1zM471.1 201.9h1.1v1.1h-1.1zM493.5 233.9h1.1v1.1h-1.1zM485.8 211.2h1.1v1.1h-1.1zM470.5 231.3h1.1v1.1h-1.1zM499.3 225.0h1.1v1.1h-1.1zM460.4 204.3h1.1v1.1h-1.1zM497.3 235.0h1.1v1.1h-1.1zM496.1 234.9h1.1v1.1h-1.1zM491.7 233.8h1.1v1.1h-1.1zM462.2 230.6h1.1v1.1h-1.1zM463.7 232.6h1.1v1.1h-1.1zM467.4 204.0h1.1v1.1h-1.1zM498.2 223.3h1.1v1.1h-1.1zM458.8 199.2h1.1v1.1h-1.1zM496.3 231.7h1.1v1.1h-1.1zM462.8 222.0h1.1v1.1h-1.1zM465.6 201.9h1.1v1.1h-1.1zM469.1 229.7h1.1v1.1h-1.1zM465.9 237.7h1.1v1.1h-1.1zM497.7 226.9h1.1v1.1h-1.1zM460.2 198.5h1.1v1.1h-1.1zM458.9 204.7h1.1v1.1h-1.1zM488.7 229.7h1.1v1.1h-1.1zM464.1 197.9h1.1v1.1h-1.1zM469.0 233.6h1.1v1.1h-1.1zM470.1 220.6h1.1v1.1h-1.1zM470.7 229.8h1.1v1.1h-1.1zM492.0 225.0h1.1v1.1h-1.1zM473.0 200.9h1.1v1.1h-1.1zM470.9 230.1h1.1v1.1h-1.1zM493.7 237.7h1.1v1.1h-1.1zM462.4 206.4h1.1v1.1h-1.1zM464.0 196.2h1.1v1.1h-1.1zM495.9 227.8h1.1v1.1h-1.1zM458.1 208.6h1.1v1.1h-1.1zM461.4 206.1h1.1v1.1h-1.1zM492.8 228.3h1.1v1.1h-1.1zM466.4 201.3h1.1v1.1h-1.1zM461.8 197.0h1.1v1.1h-1.1zM493.1 228.2h1.1v1.1h-1.1zM470.5 230.3h1.1v1.1h-1.1zM489.4 231.8h1.1v1.1h-1.1zM493.8 233.5h1.1v1.1h-1.1zM463.4 201.9h1.1v1.1h-1.1zM464.2 204.4h1.1v1.1h-1.1zM492.6 228.0h1.1v1.1h-1.1zM496.9 228.7h1.1v1.1h-1.1zM497.7 229.8h1.1v1.1h-1.1zM460.6 203.9h1.1v1.1h-1.1zM460.8 202.8h1.1v1.1h-1.1zM497.6 216.3h1.1v1.1h-1.1zM490.3 207.0h1.1v1.1h-1.1zM468.2 225.5h1.1v1.1h-1.1zM463.2 203.1h1.1v1.1h-1.1zM500.0 226.3h1.1v1.1h-1.1zM461.0 208.9h1.1v1.1h-1.1zM466.7 225.5h1.1v1.1h-1.1zM461.6 209.8h1.1v1.1h-1.1zM470.0 202.2h1.1v1.1h-1.1zM491.0 229.9h1.1v1.1h-1.1zM489.8 219.2h1.1v1.1h-1.1zM468.2 203.5h1.1v1.1h-1.1zM487.1 196.2h1.1v1.1h-1.1zM479.2 212.0h1.1v1.1h-1.1zM499.5 228.3h1.1v1.1h-1.1zM491.3 227.0h1.1v1.1h-1.1zM458.2 204.6h1.1v1.1h-1.1zM466.5 201.2h1.1v1.1h-1.1zM459.2 225.9h1.1v1.1h-1.1zM492.2 231.9h1.1v1.1h-1.1zM495.2 206.9h1.1v1.1h-1.1zM466.1 196.7h1.1v1.1h-1.1zM491.1 210.7h1.1v1.1h-1.1zM492.0 214.7h1.1v1.1h-1.1zM492.6 237.3h1.1v1.1h-1.1zM468.1 226.5h1.1v1.1h-1.1zM481.0 211.9h1.1v1.1h-1.1zM496.9 210.3h1.1v1.1h-1.1zM491.8 229.6h1.1v1.1h-1.1zM464.9 229.4h1.1v1.1h-1.1zM459.1 229.2h1.1v1.1h-1.1zM495.7 232.0h1.1v1.1h-1.1zM460.4 200.2h1.1v1.1h-1.1zM494.5 231.9h1.1v1.1h-1.1zM468.2 199.9h1.1v1.1h-1.1zM495.4 230.0h1.1v1.1h-1.1zM471.2 205.5h1.1v1.1h-1.1zM464.5 228.6h1.1v1.1h-1.1zM473.1 199.4h1.1v1.1h-1.1zM499.2 228.8h1.1v1.1h-1.1zM498.0 232.7h1.1v1.1h-1.1zM496.6 230.1h1.1v1.1h-1.1zM462.9 230.3h1.1v1.1h-1.1zM473.3 204.6h1.1v1.1h-1.1zM469.6 209.7h1.1v1.1h-1.1zM496.4 230.2h1.1v1.1h-1.1zM465.9 226.5h1.1v1.1h-1.1zM490.8 235.3h1.1v1.1h-1.1zM499.7 230.0h1.1v1.1h-1.1zM494.7 232.5h1.1v1.1h-1.1zM494.7 229.8h1.1v1.1h-1.1zM493.4 231.6h1.1v1.1h-1.1zM491.7 225.7h1.1v1.1h-1.1zM498.1 231.6h1.1v1.1h-1.1zM489.0 213.8h1.1v1.1h-1.1zM468.8 201.5h1.1v1.1h-1.1zM461.8 206.9h1.1v1.1h-1.1zM461.9 206.8h1.1v1.1h-1.1zM463.6 201.5h1.1v1.1h-1.1zM465.1 201.6h1.1v1.1h-1.1zM491.9 229.7h1.1v1.1h-1.1zM498.6 233.2h1.1v1.1h-1.1zM471.8 224.7h1.1v1.1h-1.1zM492.4 234.6h1.1v1.1h-1.1zM494.8 231.6h1.1v1.1h-1.1zM491.1 216.7h1.1v1.1h-1.1zM491.3 230.9h1.1v1.1h-1.1zM468.7 202.2h1.1v1.1h-1.1zM497.7 231.2h1.1v1.1h-1.1zM498.2 230.1h1.1v1.1h-1.1zM496.5 230.7h1.1v1.1h-1.1zM498.7 227.9h1.1v1.1h-1.1zM471.3 202.9h1.1v1.1h-1.1zM484.1 208.3h1.1v1.1h-1.1zM480.9 212.9h1.1v1.1h-1.1zM462.5 198.1h1.1v1.1h-1.1zM458.5 200.3h1.1v1.1h-1.1zM459.4 199.3h1.1v1.1h-1.1zM487.1 209.5h1.1v1.1h-1.1zM469.1 201.6h1.1v1.1h-1.1zM463.4 204.4h1.1v1.1h-1.1zM493.5 224.8h1.1v1.1h-1.1zM495.7 223.8h1.1v1.1h-1.1zM464.1 204.0h1.1v1.1h-1.1zM475.5 199.3h1.1v1.1h-1.1zM492.0 224.6h1.1v1.1h-1.1zM492.6 228.9h1.1v1.1h-1.1zM465.9 223.9h1.1v1.1h-1.1zM461.4 203.7h1.1v1.1h-1.1zM500.2 225.9h1.1v1.1h-1.1zM477.0 202.7h1.1v1.1h-1.1zM471.6 231.9h1.1v1.1h-1.1zM465.2 227.8h1.1v1.1h-1.1zM514.3 233.6h1.1v1.1h-1.1zM486.1 213.9h1.1v1.1h-1.1zM467.4 202.1h1.1v1.1h-1.1zM472.6 193.6h1.1v1.1h-1.1zM468.6 228.0h1.1v1.1h-1.1zM475.5 201.3h1.1v1.1h-1.1zM464.1 202.7h1.1v1.1h-1.1zM459.7 226.1h1.1v1.1h-1.1zM467.8 228.3h1.1v1.1h-1.1zM466.5 225.0h1.1v1.1h-1.1zM463.4 228.6h1.1v1.1h-1.1zM464.3 227.6h1.1v1.1h-1.1zM466.6 230.0h1.1v1.1h-1.1zM492.6 230.0h1.1v1.1h-1.1zM463.3 232.5h1.1v1.1h-1.1zM485.1 208.2h1.1v1.1h-1.1zM491.3 227.6h1.1v1.1h-1.1zM497.4 222.9h1.1v1.1h-1.1zM498.8 232.4h1.1v1.1h-1.1zM461.0 200.5h1.1v1.1h-1.1zM462.1 230.5h1.1v1.1h-1.1zM466.0 207.6h1.1v1.1h-1.1zM490.6 227.0h1.1v1.1h-1.1zM489.6 230.8h1.1v1.1h-1.1zM469.5 232.0h1.1v1.1h-1.1zM464.1 227.3h1.1v1.1h-1.1zM463.2 226.4h1.1v1.1h-1.1zM469.5 201.1h1.1v1.1h-1.1zM465.3 227.9h1.1v1.1h-1.1zM460.4 201.5h1.1v1.1h-1.1zM464.5 224.0h1.1v1.1h-1.1zM467.2 204.9h1.1v1.1h-1.1zM475.3 223.9h1.1v1.1h-1.1zM497.7 233.1h1.1v1.1h-1.1zM471.8 202.1h1.1v1.1h-1.1zM466.1 200.7h1.1v1.1h-1.1zM457.4 198.8h1.1v1.1h-1.1zM459.8 196.8h1.1v1.1h-1.1zM485.5 207.9h1.1v1.1h-1.1zM499.1 229.8h1.1v1.1h-1.1zM498.3 218.2h1.1v1.1h-1.1zM457.9 216.5h1.1v1.1h-1.1zM464.0 201.6h1.1v1.1h-1.1zM467.0 203.8h1.1v1.1h-1.1zM466.2 228.2h1.1v1.1h-1.1zM482.7 211.2h1.1v1.1h-1.1zM496.3 226.8h1.1v1.1h-1.1zM458.5 200.4h1.1v1.1h-1.1zM503.5 231.6h1.1v1.1h-1.1zM457.9 208.9h1.1v1.1h-1.1zM487.1 226.6h1.1v1.1h-1.1zM467.5 229.2h1.1v1.1h-1.1zM471.3 232.6h1.1v1.1h-1.1zM469.4 232.3h1.1v1.1h-1.1zM495.7 232.9h1.1v1.1h-1.1zM485.7 213.4h1.1v1.1h-1.1zM468.7 233.6h1.1v1.1h-1.1zM463.3 232.0h1.1v1.1h-1.1zM500.5 236.7h1.1v1.1h-1.1zM494.4 234.8h1.1v1.1h-1.1zM468.6 228.5h1.1v1.1h-1.1zM459.6 201.1h1.1v1.1h-1.1zM497.5 235.8h1.1v1.1h-1.1zM458.9 206.0h1.1v1.1h-1.1zM461.1 223.6h1.1v1.1h-1.1zM463.8 202.7h1.1v1.1h-1.1zM497.4 227.9h1.1v1.1h-1.1zM485.2 212.6h1.1v1.1h-1.1zM456.1 197.5h1.1v1.1h-1.1zM493.0 234.5h1.1v1.1h-1.1zM471.8 229.0h1.1v1.1h-1.1zM495.4 233.7h1.1v1.1h-1.1zM469.2 228.1h1.1v1.1h-1.1zM469.2 230.4h1.1v1.1h-1.1zM488.1 227.6h1.1v1.1h-1.1zM468.1 205.9h1.1v1.1h-1.1zM509.1 220.7h1.1v1.1h-1.1zM499.6 226.1h1.1v1.1h-1.1zM467.8 202.5h1.1v1.1h-1.1zM502.4 233.2h1.1v1.1h-1.1zM473.9 200.2h1.1v1.1h-1.1zM496.0 224.0h1.1v1.1h-1.1zM457.3 201.3h1.1v1.1h-1.1zM467.3 226.9h1.1v1.1h-1.1zM459.3 204.0h1.1v1.1h-1.1zM475.7 232.3h1.1v1.1h-1.1zM496.0 230.3h1.1v1.1h-1.1zM472.3 202.7h1.1v1.1h-1.1zM464.7 206.9h1.1v1.1h-1.1zM463.5 203.7h1.1v1.1h-1.1zM458.7 199.1h1.1v1.1h-1.1zM469.1 203.1h1.1v1.1h-1.1zM499.0 228.6h1.1v1.1h-1.1zM494.3 233.2h1.1v1.1h-1.1zM462.0 222.6h1.1v1.1h-1.1zM470.7 222.8h1.1v1.1h-1.1zM457.6 202.1h1.1v1.1h-1.1zM500.1 229.1h1.1v1.1h-1.1zM488.4 212.9h1.1v1.1h-1.1zM489.9 232.7h1.1v1.1h-1.1zM492.2 212.9h1.1v1.1h-1.1zM468.0 232.8h1.1v1.1h-1.1zM465.6 202.8h1.1v1.1h-1.1zM460.5 237.0h1.1v1.1h-1.1zM494.8 234.5h1.1v1.1h-1.1zM481.1 210.4h1.1v1.1h-1.1zM495.8 227.6h1.1v1.1h-1.1zM491.0 235.2h1.1v1.1h-1.1zM467.3 235.0h1.1v1.1h-1.1zM466.9 223.5h1.1v1.1h-1.1zM501.4 234.4h1.1v1.1h-1.1zM466.4 200.9h1.1v1.1h-1.1zM458.5 228.5h1.1v1.1h-1.1zM462.9 233.2h1.1v1.1h-1.1zM515.6 218.4h1.1v1.1h-1.1zM469.0 202.9h1.1v1.1h-1.1zM472.9 225.4h1.1v1.1h-1.1zM488.9 211.3h1.1v1.1h-1.1zM469.9 230.0h1.1v1.1h-1.1zM500.9 226.7h1.1v1.1h-1.1zM489.7 236.2h1.1v1.1h-1.1zM469.5 207.6h1.1v1.1h-1.1zM492.4 209.0h1.1v1.1h-1.1zM470.1 203.4h1.1v1.1h-1.1zM463.7 230.0h1.1v1.1h-1.1zM493.4 231.1h1.1v1.1h-1.1zM469.6 195.7h1.1v1.1h-1.1zM466.5 198.5h1.1v1.1h-1.1zM462.9 205.9h1.1v1.1h-1.1zM487.2 206.9h1.1v1.1h-1.1zM459.6 228.3h1.1v1.1h-1.1zM504.1 200.6h1.1v1.1h-1.1zM492.8 226.5h1.1v1.1h-1.1zM458.4 197.4h1.1v1.1h-1.1zM485.4 209.6h1.1v1.1h-1.1zM457.6 198.4h1.1v1.1h-1.1zM469.3 236.6h1.1v1.1h-1.1zM498.9 237.7h1.1v1.1h-1.1zM462.1 205.6h1.1v1.1h-1.1zM497.8 222.2h1.1v1.1h-1.1zM507.1 236.6h1.1v1.1h-1.1zM476.4 199.7h1.1v1.1h-1.1zM489.6 231.2h1.1v1.1h-1.1zM497.8 231.2h1.1v1.1h-1.1zM464.6 231.7h1.1v1.1h-1.1zM464.9 195.2h1.1v1.1h-1.1zM465.4 230.1h1.1v1.1h-1.1zM487.7 210.8h1.1v1.1h-1.1zM495.1 234.5h1.1v1.1h-1.1zM489.8 212.1h1.1v1.1h-1.1zM460.9 228.6h1.1v1.1h-1.1zM492.8 232.5h1.1v1.1h-1.1zM466.5 196.9h1.1v1.1h-1.1zM461.6 195.0h1.1v1.1h-1.1zM485.3 207.8h1.1v1.1h-1.1zM468.9 229.8h1.1v1.1h-1.1zM492.0 229.0h1.1v1.1h-1.1zM493.0 208.1h1.1v1.1h-1.1zM469.1 204.3h1.1v1.1h-1.1zM498.2 224.4h1.1v1.1h-1.1zM457.3 229.1h1.1v1.1h-1.1zM466.9 232.4h1.1v1.1h-1.1zM463.7 227.3h1.1v1.1h-1.1zM457.9 230.1h1.1v1.1h-1.1zM480.9 225.4h1.1v1.1h-1.1zM494.7 231.5h1.1v1.1h-1.1zM498.8 236.5h1.1v1.1h-1.1zM496.1 210.0h1.1v1.1h-1.1zM477.8 228.0h1.1v1.1h-1.1zM495.4 212.6h1.1v1.1h-1.1zM488.1 229.2h1.1v1.1h-1.1zM487.0 236.5h1.1v1.1h-1.1zM464.4 226.1h1.1v1.1h-1.1zM460.8 203.2h1.1v1.1h-1.1zM463.2 207.0h1.1v1.1h-1.1zM472.7 226.8h1.1v1.1h-1.1zM468.6 230.7h1.1v1.1h-1.1zM465.7 229.9h1.1v1.1h-1.1zM491.3 208.7h1.1v1.1h-1.1zM463.7 199.3h1.1v1.1h-1.1zM459.1 196.8h1.1v1.1h-1.1zM462.4 205.7h1.1v1.1h-1.1zM495.6 226.0h1.1v1.1h-1.1zM465.8 198.6h1.1v1.1h-1.1zM460.2 203.7h1.1v1.1h-1.1zM489.5 226.0h1.1v1.1h-1.1zM488.1 214.3h1.1v1.1h-1.1zM467.2 234.3h1.1v1.1h-1.1zM469.1 225.4h1.1v1.1h-1.1zM474.2 202.1h1.1v1.1h-1.1zM495.8 218.6h1.1v1.1h-1.1zM486.6 192.6h1.1v1.1h-1.1zM463.6 231.3h1.1v1.1h-1.1zM469.0 228.9h1.1v1.1h-1.1zM469.5 226.9h1.1v1.1h-1.1zM493.9 233.8h1.1v1.1h-1.1zM462.5 232.7h1.1v1.1h-1.1zM490.1 234.4h1.1v1.1h-1.1zM461.6 201.2h1.1v1.1h-1.1zM459.9 205.2h1.1v1.1h-1.1zM467.4 233.9h1.1v1.1h-1.1zM469.2 229.8h1.1v1.1h-1.1zM469.0 234.7h1.1v1.1h-1.1zM462.1 228.3h1.1v1.1h-1.1zM490.6 234.8h1.1v1.1h-1.1zM461.9 231.5h1.1v1.1h-1.1zM476.3 204.7h1.1v1.1h-1.1zM466.3 201.7h1.1v1.1h-1.1zM485.8 209.0h1.1v1.1h-1.1zM463.8 233.7h1.1v1.1h-1.1zM493.6 230.9h1.1v1.1h-1.1zM482.5 212.7h1.1v1.1h-1.1zM492.1 234.1h1.1v1.1h-1.1zM458.3 201.5h1.1v1.1h-1.1zM491.7 207.6h1.1v1.1h-1.1zM500.2 229.4h1.1v1.1h-1.1zM489.7 210.3h1.1v1.1h-1.1zM460.6 205.8h1.1v1.1h-1.1zM463.2 208.6h1.1v1.1h-1.1zM465.8 197.8h1.1v1.1h-1.1zM457.7 201.1h1.1v1.1h-1.1zM499.1 228.7h1.1v1.1h-1.1zM462.8 230.2h1.1v1.1h-1.1zM463.7 204.2h1.1v1.1h-1.1zM464.4 226.3h1.1v1.1h-1.1zM495.6 236.2h1.1v1.1h-1.1zM469.0 234.4h1.1v1.1h-1.1zM494.6 233.1h1.1v1.1h-1.1zM458.7 204.7h1.1v1.1h-1.1zM487.4 211.4h1.1v1.1h-1.1zM493.0 229.8h1.1v1.1h-1.1zM459.9 206.2h1.1v1.1h-1.1zM468.1 233.0h1.1v1.1h-1.1zM465.9 234.8h1.1v1.1h-1.1zM470.3 229.2h1.1v1.1h-1.1zM470.8 234.4h1.1v1.1h-1.1zM461.3 232.0h1.1v1.1h-1.1zM499.7 224.3h1.1v1.1h-1.1zM497.3 231.2h1.1v1.1h-1.1zM492.9 207.5h1.1v1.1h-1.1zM462.2 231.4h1.1v1.1h-1.1zM457.9 229.5h1.1v1.1h-1.1zM469.7 234.7h1.1v1.1h-1.1zM458.2 236.0h1.1v1.1h-1.1zM473.0 209.8h1.1v1.1h-1.1zM461.7 206.4h1.1v1.1h-1.1zM494.4 235.0h1.1v1.1h-1.1zM465.7 225.4h1.1v1.1h-1.1zM492.9 228.0h1.1v1.1h-1.1zM491.4 211.6h1.1v1.1h-1.1zM458.9 208.0h1.1v1.1h-1.1zM488.3 212.1h1.1v1.1h-1.1zM494.4 226.5h1.1v1.1h-1.1zM456.6 224.2h1.1v1.1h-1.1zM495.3 223.3h1.1v1.1h-1.1zM468.9 226.8h1.1v1.1h-1.1zM500.4 234.6h1.1v1.1h-1.1zM492.1 231.2h1.1v1.1h-1.1zM460.2 232.6h1.1v1.1h-1.1zM460.4 192.6h1.1v1.1h-1.1zM465.4 230.9h1.1v1.1h-1.1zM471.6 229.6h1.1v1.1h-1.1zM487.5 229.1h1.1v1.1h-1.1zM467.5 202.9h1.1v1.1h-1.1zM470.3 226.2h1.1v1.1h-1.1zM469.6 202.1h1.1v1.1h-1.1zM465.8 230.6h1.1v1.1h-1.1zM493.5 232.8h1.1v1.1h-1.1zM492.3 230.2h1.1v1.1h-1.1zM499.1 236.2h1.1v1.1h-1.1zM496.2 234.3h1.1v1.1h-1.1zM467.6 231.5h1.1v1.1h-1.1zM468.0 210.4h1.1v1.1h-1.1zM462.7 201.8h1.1v1.1h-1.1zM496.7 230.6h1.1v1.1h-1.1zM498.4 223.3h1.1v1.1h-1.1zM460.0 229.0h1.1v1.1h-1.1zM470.7 227.1h1.1v1.1h-1.1zM467.8 231.1h1.1v1.1h-1.1zM499.1 230.1h1.1v1.1h-1.1zM500.4 232.9h1.1v1.1h-1.1zM461.3 197.3h1.1v1.1h-1.1zM465.5 224.7h1.1v1.1h-1.1zM490.5 235.4h1.1v1.1h-1.1zM494.5 231.0h1.1v1.1h-1.1zM493.6 221.8h1.1v1.1h-1.1zM484.4 211.0h1.1v1.1h-1.1zM463.5 201.0h1.1v1.1h-1.1zM468.6 235.7h1.1v1.1h-1.1zM496.1 225.8h1.1v1.1h-1.1zM500.4 234.9h1.1v1.1h-1.1zM465.4 231.6h1.1v1.1h-1.1zM467.1 203.6h1.1v1.1h-1.1zM485.1 209.3h1.1v1.1h-1.1zM467.2 203.8h1.1v1.1h-1.1zM467.4 229.2h1.1v1.1h-1.1zM488.5 215.1h1.1v1.1h-1.1zM488.1 227.4h1.1v1.1h-1.1zM462.1 204.8h1.1v1.1h-1.1zM492.1 224.6h1.1v1.1h-1.1zM467.2 232.7h1.1v1.1h-1.1zM463.8 200.6h1.1v1.1h-1.1zM496.1 228.2h1.1v1.1h-1.1zM464.5 228.4h1.1v1.1h-1.1zM466.9 199.4h1.1v1.1h-1.1zM467.3 201.3h1.1v1.1h-1.1zM469.4 229.3h1.1v1.1h-1.1zM470.3 231.6h1.1v1.1h-1.1zM464.2 224.1h1.1v1.1h-1.1zM493.4 233.2h1.1v1.1h-1.1zM487.0 210.6h1.1v1.1h-1.1zM485.5 213.5h1.1v1.1h-1.1zM465.7 229.5h1.1v1.1h-1.1zM499.3 232.2h1.1v1.1h-1.1zM464.1 227.9h1.1v1.1h-1.1zM464.3 198.2h1.1v1.1h-1.1zM496.6 227.1h1.1v1.1h-1.1zM476.1 202.6h1.1v1.1h-1.1zM471.5 199.5h1.1v1.1h-1.1zM471.4 228.9h1.1v1.1h-1.1zM488.7 210.3h1.1v1.1h-1.1zM494.6 229.6h1.1v1.1h-1.1zM488.1 211.7h1.1v1.1h-1.1zM470.8 204.0h1.1v1.1h-1.1zM469.5 224.9h1.1v1.1h-1.1zM470.7 226.5h1.1v1.1h-1.1zM477.8 209.4h1.1v1.1h-1.1zM491.7 226.1h1.1v1.1h-1.1zM468.8 226.0h1.1v1.1h-1.1zM493.0 237.1h1.1v1.1h-1.1zM488.5 230.7h1.1v1.1h-1.1zM457.9 203.4h1.1v1.1h-1.1zM496.0 228.8h1.1v1.1h-1.1zM460.0 203.8h1.1v1.1h-1.1zM496.7 224.5h1.1v1.1h-1.1zM462.1 226.1h1.1v1.1h-1.1zM457.4 204.0h1.1v1.1h-1.1zM470.2 233.8h1.1v1.1h-1.1zM472.4 201.1h1.1v1.1h-1.1zM463.8 233.5h1.1v1.1h-1.1zM486.3 210.6h1.1v1.1h-1.1zM493.1 232.7h1.1v1.1h-1.1zM463.4 201.8h1.1v1.1h-1.1zM503.9 234.7h1.1v1.1h-1.1zM462.0 227.2h1.1v1.1h-1.1zM460.5 235.2h1.1v1.1h-1.1zM470.1 222.2h1.1v1.1h-1.1zM494.1 226.5h1.1v1.1h-1.1zM499.4 226.1h1.1v1.1h-1.1zM492.7 221.3h1.1v1.1h-1.1zM496.0 232.5h1.1v1.1h-1.1zM482.7 212.7h1.1v1.1h-1.1zM508.3 197.4h1.1v1.1h-1.1zM494.6 236.4h1.1v1.1h-1.1zM466.9 232.3h1.1v1.1h-1.1zM468.0 202.5h1.1v1.1h-1.1zM491.8 213.8h1.1v1.1h-1.1zM464.1 202.3h1.1v1.1h-1.1zM493.7 210.2h1.1v1.1h-1.1zM499.0 225.6h1.1v1.1h-1.1zM465.8 222.8h1.1v1.1h-1.1zM500.5 232.7h1.1v1.1h-1.1zM494.3 218.8h1.1v1.1h-1.1zM496.2 227.8h1.1v1.1h-1.1zM495.4 224.7h1.1v1.1h-1.1zM463.6 207.0h1.1v1.1h-1.1zM490.1 212.5h1.1v1.1h-1.1zM489.0 229.7h1.1v1.1h-1.1zM509.8 220.3h1.1v1.1h-1.1zM495.7 226.2h1.1v1.1h-1.1zM462.2 201.0h1.1v1.1h-1.1zM467.0 204.9h1.1v1.1h-1.1zM469.7 204.5h1.1v1.1h-1.1zM494.1 225.5h1.1v1.1h-1.1zM470.1 205.8h1.1v1.1h-1.1zM460.2 226.2h1.1v1.1h-1.1zM469.1 226.1h1.1v1.1h-1.1zM468.9 228.6h1.1v1.1h-1.1zM464.7 236.2h1.1v1.1h-1.1zM456.2 221.9h1.1v1.1h-1.1zM462.9 231.4h1.1v1.1h-1.1zM465.0 202.7h1.1v1.1h-1.1zM464.8 232.6h1.1v1.1h-1.1zM496.3 230.0h1.1v1.1h-1.1zM465.1 230.3h1.1v1.1h-1.1zM493.4 221.3h1.1v1.1h-1.1zM468.9 200.1h1.1v1.1h-1.1zM465.2 232.2h1.1v1.1h-1.1zM495.3 224.8h1.1v1.1h-1.1zM458.3 228.6h1.1v1.1h-1.1zM464.4 233.2h1.1v1.1h-1.1zM458.7 226.5h1.1v1.1h-1.1zM493.6 235.8h1.1v1.1h-1.1zM468.4 228.4h1.1v1.1h-1.1zM470.1 200.0h1.1v1.1h-1.1zM466.9 201.0h1.1v1.1h-1.1zM460.9 208.0h1.1v1.1h-1.1zM490.0 225.6h1.1v1.1h-1.1zM471.3 235.2h1.1v1.1h-1.1zM464.7 206.1h1.1v1.1h-1.1zM493.2 212.8h1.1v1.1h-1.1zM494.9 225.2h1.1v1.1h-1.1zM463.1 201.9h1.1v1.1h-1.1zM496.5 232.7h1.1v1.1h-1.1zM492.0 228.8h1.1v1.1h-1.1zM465.4 196.5h1.1v1.1h-1.1zM463.9 229.4h1.1v1.1h-1.1zM467.8 219.5h1.1v1.1h-1.1zM494.3 229.4h1.1v1.1h-1.1zM495.7 234.2h1.1v1.1h-1.1zM494.7 235.5h1.1v1.1h-1.1zM469.2 236.2h1.1v1.1h-1.1zM472.4 200.9h1.1v1.1h-1.1zM462.3 202.9h1.1v1.1h-1.1zM496.0 232.7h1.1v1.1h-1.1zM471.7 227.8h1.1v1.1h-1.1zM483.6 213.5h1.1v1.1h-1.1zM467.7 235.8h1.1v1.1h-1.1zM513.8 216.8h1.1v1.1h-1.1zM463.8 200.6h1.1v1.1h-1.1zM463.2 230.5h1.1v1.1h-1.1zM460.9 228.6h1.1v1.1h-1.1zM462.3 231.4h1.1v1.1h-1.1zM472.1 199.8h1.1v1.1h-1.1zM497.8 231.7h1.1v1.1h-1.1zM463.9 230.3h1.1v1.1h-1.1zM482.0 211.0h1.1v1.1h-1.1zM500.7 222.1h1.1v1.1h-1.1zM490.3 232.4h1.1v1.1h-1.1zM470.4 227.5h1.1v1.1h-1.1zM495.5 232.9h1.1v1.1h-1.1zM467.7 211.3h1.1v1.1h-1.1zM494.1 226.8h1.1v1.1h-1.1zM465.4 232.8h1.1v1.1h-1.1zM501.3 230.3h1.1v1.1h-1.1zM490.4 207.7h1.1v1.1h-1.1zM472.9 203.2h1.1v1.1h-1.1zM463.7 205.4h1.1v1.1h-1.1zM467.4 224.5h1.1v1.1h-1.1zM465.1 229.2h1.1v1.1h-1.1zM473.0 204.2h1.1v1.1h-1.1zM464.8 228.9h1.1v1.1h-1.1zM461.3 205.4h1.1v1.1h-1.1zM465.8 205.5h1.1v1.1h-1.1zM471.8 201.5h1.1v1.1h-1.1zM466.0 196.8h1.1v1.1h-1.1zM493.8 210.6h1.1v1.1h-1.1zM493.1 231.7h1.1v1.1h-1.1zM497.0 231.6h1.1v1.1h-1.1zM496.5 235.2h1.1v1.1h-1.1zM494.3 231.4h1.1v1.1h-1.1zM494.6 219.9h1.1v1.1h-1.1zM474.4 206.9h1.1v1.1h-1.1zM467.7 203.3h1.1v1.1h-1.1zM468.1 200.6h1.1v1.1h-1.1zM497.8 236.4h1.1v1.1h-1.1zM468.6 234.5h1.1v1.1h-1.1zM463.7 206.7h1.1v1.1h-1.1zM511.5 218.5h1.1v1.1h-1.1zM494.4 228.0h1.1v1.1h-1.1zM462.6 208.0h1.1v1.1h-1.1zM472.3 214.7h1.1v1.1h-1.1zM496.9 227.4h1.1v1.1h-1.1zM481.0 211.9h1.1v1.1h-1.1zM466.7 200.1h1.1v1.1h-1.1zM466.0 200.8h1.1v1.1h-1.1zM493.3 231.7h1.1v1.1h-1.1zM463.1 201.6h1.1v1.1h-1.1zM465.8 233.4h1.1v1.1h-1.1zM511.5 201.3h1.1v1.1h-1.1zM498.8 233.4h1.1v1.1h-1.1zM466.1 199.6h1.1v1.1h-1.1zM465.6 226.2h1.1v1.1h-1.1zM500.4 232.2h1.1v1.1h-1.1zM466.6 233.8h1.1v1.1h-1.1zM469.9 230.0h1.1v1.1h-1.1zM473.7 201.7h1.1v1.1h-1.1zM469.2 205.7h1.1v1.1h-1.1zM467.7 227.0h1.1v1.1h-1.1zM480.9 209.3h1.1v1.1h-1.1zM472.3 203.5h1.1v1.1h-1.1zM464.7 225.5h1.1v1.1h-1.1zM498.7 227.2h1.1v1.1h-1.1zM466.9 204.9h1.1v1.1h-1.1zM467.0 205.1h1.1v1.1h-1.1zM468.5 228.1h1.1v1.1h-1.1zM488.1 210.2h1.1v1.1h-1.1zM496.8 237.4h1.1v1.1h-1.1zM471.4 224.0h1.1v1.1h-1.1zM461.5 206.8h1.1v1.1h-1.1zM490.4 229.0h1.1v1.1h-1.1zM457.1 221.8h1.1v1.1h-1.1zM459.1 205.5h1.1v1.1h-1.1zM497.1 232.0h1.1v1.1h-1.1zM506.7 220.7h1.1v1.1h-1.1zM464.4 233.1h1.1v1.1h-1.1zM492.8 211.9h1.1v1.1h-1.1zM472.0 236.2h1.1v1.1h-1.1zM486.9 224.2h1.1v1.1h-1.1zM473.3 204.9h1.1v1.1h-1.1zM497.7 228.8h1.1v1.1h-1.1zM493.7 229.3h1.1v1.1h-1.1zM463.8 203.1h1.1v1.1h-1.1zM493.2 231.9h1.1v1.1h-1.1zM463.1 226.5h1.1v1.1h-1.1zM468.3 224.8h1.1v1.1h-1.1zM492.7 219.9h1.1v1.1h-1.1zM493.2 231.8h1.1v1.1h-1.1zM495.6 230.7h1.1v1.1h-1.1zM468.1 232.6h1.1v1.1h-1.1zM501.2 227.5h1.1v1.1h-1.1zM496.6 226.4h1.1v1.1h-1.1zM496.9 232.0h1.1v1.1h-1.1zM463.9 201.6h1.1v1.1h-1.1zM499.4 233.0h1.1v1.1h-1.1zM487.7 211.6h1.1v1.1h-1.1zM466.0 198.6h1.1v1.1h-1.1zM478.0 212.0h1.1v1.1h-1.1zM494.7 236.7h1.1v1.1h-1.1zM495.8 235.7h1.1v1.1h-1.1zM465.1 195.3h1.1v1.1h-1.1zM456.7 226.0h1.1v1.1h-1.1zM499.7 228.8h1.1v1.1h-1.1zM466.9 229.3h1.1v1.1h-1.1zM474.7 205.9h1.1v1.1h-1.1zM473.3 224.9h1.1v1.1h-1.1zM503.1 230.4h1.1v1.1h-1.1zM490.1 225.2h1.1v1.1h-1.1zM462.4 232.9h1.1v1.1h-1.1zM466.9 198.3h1.1v1.1h-1.1zM468.3 233.6h1.1v1.1h-1.1zM500.0 234.6h1.1v1.1h-1.1zM496.1 202.7h1.1v1.1h-1.1zM461.0 227.5h1.1v1.1h-1.1zM467.4 231.4h1.1v1.1h-1.1zM471.5 198.6h1.1v1.1h-1.1zM460.4 204.6h1.1v1.1h-1.1zM485.5 213.4h1.1v1.1h-1.1zM466.1 196.8h1.1v1.1h-1.1zM485.3 208.9h1.1v1.1h-1.1zM461.1 225.2h1.1v1.1h-1.1zM481.9 211.2h1.1v1.1h-1.1zM494.8 228.9h1.1v1.1h-1.1zM466.3 234.1h1.1v1.1h-1.1zM467.0 202.3h1.1v1.1h-1.1zM468.1 224.5h1.1v1.1h-1.1zM463.3 227.2h1.1v1.1h-1.1zM471.5 223.4h1.1v1.1h-1.1zM465.7 224.8h1.1v1.1h-1.1zM466.3 228.8h1.1v1.1h-1.1zM505.4 192.4h1.1v1.1h-1.1zM456.2 199.3h1.1v1.1h-1.1zM501.9 232.8h1.1v1.1h-1.1zM457.0 203.6h1.1v1.1h-1.1zM478.2 199.1h1.1v1.1h-1.1zM465.8 231.0h1.1v1.1h-1.1zM466.2 199.1h1.1v1.1h-1.1zM465.7 226.4h1.1v1.1h-1.1zM494.2 233.2h1.1v1.1h-1.1zM466.3 200.5h1.1v1.1h-1.1zM495.3 229.9h1.1v1.1h-1.1zM456.1 202.4h1.1v1.1h-1.1zM470.7 226.9h1.1v1.1h-1.1zM470.8 202.5h1.1v1.1h-1.1zM463.3 229.5h1.1v1.1h-1.1zM458.5 205.3h1.1v1.1h-1.1zM467.0 237.0h1.1v1.1h-1.1zM457.1 227.9h1.1v1.1h-1.1zM471.6 204.6h1.1v1.1h-1.1zM484.1 213.1h1.1v1.1h-1.1zM500.2 228.2h1.1v1.1h-1.1zM481.3 213.0h1.1v1.1h-1.1zM462.8 231.7h1.1v1.1h-1.1zM468.4 204.4h1.1v1.1h-1.1zM468.0 197.1h1.1v1.1h-1.1zM488.4 211.6h1.1v1.1h-1.1zM462.7 224.7h1.1v1.1h-1.1zM464.3 194.6h1.1v1.1h-1.1zM465.2 227.7h1.1v1.1h-1.1zM496.4 230.9h1.1v1.1h-1.1zM483.2 211.8h1.1v1.1h-1.1zM463.6 200.1h1.1v1.1h-1.1zM493.3 228.4h1.1v1.1h-1.1zM499.0 223.8h1.1v1.1h-1.1zM498.4 232.8h1.1v1.1h-1.1zM497.4 231.9h1.1v1.1h-1.1zM468.0 204.1h1.1v1.1h-1.1zM459.5 228.3h1.1v1.1h-1.1zM493.6 226.7h1.1v1.1h-1.1zM482.2 206.6h1.1v1.1h-1.1zM493.7 234.6h1.1v1.1h-1.1zM465.1 200.2h1.1v1.1h-1.1zM461.8 200.0h1.1v1.1h-1.1zM461.2 207.5h1.1v1.1h-1.1zM491.0 212.1h1.1v1.1h-1.1zM469.8 228.0h1.1v1.1h-1.1z" fill="#ee0a0a" fill-opacity="0.85"/>
<path d="M469.3 205.9h1.1v1.1h-1.1zM494.1 232.8h1.1v1.1h-1.1zM496.1 227.4h1.1v1.1h-1.1zM467.4 231.3h1.1v1.1h-1.1zM466.4 203.1h1.1v1.1h-1.1zM500.1 231.2h1.1v1.1h-1.1zM493.6 228.1h1.1v1.1h-1.1zM463.0 234.6h1.1v1.1h-1.1zM491.6 211.8h1.1v1.1h-1.1zM497.1 228.0h1.1v1.1h-1.1zM497.4 224.7h1.1v1.1h-1.1zM466.3 197.7h1.1v1.1h-1.1zM497.3 212.4h1.1v1.1h-1.1zM498.2 233.6h1.1v1.1h-1.1zM491.2 208.1h1.1v1.1h-1.1zM463.8 229.7h1.1v1.1h-1.1zM466.6 228.8h1.1v1.1h-1.1zM470.1 205.0h1.1v1.1h-1.1zM494.4 222.7h1.1v1.1h-1.1zM473.0 229.6h1.1v1.1h-1.1zM496.7 210.0h1.1v1.1h-1.1zM463.9 227.8h1.1v1.1h-1.1zM461.0 231.2h1.1v1.1h-1.1zM469.8 229.2h1.1v1.1h-1.1zM462.5 202.9h1.1v1.1h-1.1zM494.1 228.1h1.1v1.1h-1.1zM488.2 212.2h1.1v1.1h-1.1zM498.3 223.2h1.1v1.1h-1.1zM493.5 227.8h1.1v1.1h-1.1zM461.2 220.9h1.1v1.1h-1.1zM470.7 234.0h1.1v1.1h-1.1zM488.7 231.1h1.1v1.1h-1.1zM460.8 231.4h1.1v1.1h-1.1zM495.2 233.5h1.1v1.1h-1.1zM496.3 234.8h1.1v1.1h-1.1zM473.1 206.0h1.1v1.1h-1.1zM460.5 204.8h1.1v1.1h-1.1zM464.4 196.7h1.1v1.1h-1.1zM493.3 213.7h1.1v1.1h-1.1zM465.3 199.3h1.1v1.1h-1.1zM465.1 234.3h1.1v1.1h-1.1zM458.3 207.4h1.1v1.1h-1.1zM498.0 234.6h1.1v1.1h-1.1zM467.1 200.7h1.1v1.1h-1.1zM495.1 228.7h1.1v1.1h-1.1zM460.5 204.8h1.1v1.1h-1.1zM459.4 201.7h1.1v1.1h-1.1zM499.3 235.9h1.1v1.1h-1.1zM484.0 213.0h1.1v1.1h-1.1zM470.0 195.5h1.1v1.1h-1.1zM488.1 213.3h1.1v1.1h-1.1zM462.4 228.7h1.1v1.1h-1.1zM494.4 236.3h1.1v1.1h-1.1zM478.6 209.0h1.1v1.1h-1.1zM495.7 230.0h1.1v1.1h-1.1zM481.3 211.8h1.1v1.1h-1.1zM493.5 234.5h1.1v1.1h-1.1zM475.0 203.4h1.1v1.1h-1.1zM487.9 209.4h1.1v1.1h-1.1zM488.8 231.4h1.1v1.1h-1.1zM495.6 233.5h1.1v1.1h-1.1zM486.7 215.1h1.1v1.1h-1.1zM465.4 202.6h1.1v1.1h-1.1zM460.2 202.3h1.1v1.1h-1.1zM491.2 231.6h1.1v1.1h-1.1zM464.1 232.9h1.1v1.1h-1.1zM496.9 226.3h1.1v1.1h-1.1zM489.5 227.1h1.1v1.1h-1.1zM458.6 231.0h1.1v1.1h-1.1zM480.2 207.9h1.1v1.1h-1.1zM489.7 207.9h1.1v1.1h-1.1zM472.7 232.5h1.1v1.1h-1.1zM469.2 230.2h1.1v1.1h-1.1zM492.1 229.9h1.1v1.1h-1.1zM492.2 234.1h1.1v1.1h-1.1zM495.1 229.8h1.1v1.1h-1.1zM491.3 209.4h1.1v1.1h-1.1zM495.1 230.9h1.1v1.1h-1.1zM461.4 228.0h1.1v1.1h-1.1zM499.7 227.4h1.1v1.1h-1.1zM503.0 232.7h1.1v1.1h-1.1zM493.6 234.0h1.1v1.1h-1.1zM497.0 227.3h1.1v1.1h-1.1zM495.4 225.7h1.1v1.1h-1.1zM478.9 229.8h1.1v1.1h-1.1zM480.7 229.2h1.1v1.1h-1.1zM464.1 203.8h1.1v1.1h-1.1zM482.7 214.0h1.1v1.1h-1.1zM456.9 204.3h1.1v1.1h-1.1zM464.1 228.7h1.1v1.1h-1.1zM458.7 233.7h1.1v1.1h-1.1zM463.3 234.3h1.1v1.1h-1.1zM468.8 203.8h1.1v1.1h-1.1zM497.2 228.8h1.1v1.1h-1.1zM496.6 232.7h1.1v1.1h-1.1zM497.3 234.0h1.1v1.1h-1.1zM466.4 205.9h1.1v1.1h-1.1zM467.0 228.4h1.1v1.1h-1.1zM470.0 227.4h1.1v1.1h-1.1zM462.7 229.2h1.1v1.1h-1.1zM473.6 225.1h1.1v1.1h-1.1zM494.0 224.5h1.1v1.1h-1.1zM469.1 207.4h1.1v1.1h-1.1zM467.0 234.2h1.1v1.1h-1.1zM487.8 231.4h1.1v1.1h-1.1zM493.1 225.5h1.1v1.1h-1.1zM463.0 231.1h1.1v1.1h-1.1zM464.1 233.7h1.1v1.1h-1.1zM493.1 225.4h1.1v1.1h-1.1zM479.2 206.7h1.1v1.1h-1.1zM459.6 196.7h1.1v1.1h-1.1zM464.3 205.0h1.1v1.1h-1.1zM460.8 231.5h1.1v1.1h-1.1zM468.8 191.9h1.1v1.1h-1.1zM473.1 221.8h1.1v1.1h-1.1zM459.3 199.8h1.1v1.1h-1.1zM492.6 223.0h1.1v1.1h-1.1zM495.5 221.4h1.1v1.1h-1.1zM464.0 207.9h1.1v1.1h-1.1zM468.2 204.4h1.1v1.1h-1.1zM473.9 229.8h1.1v1.1h-1.1zM464.9 228.5h1.1v1.1h-1.1zM462.7 207.8h1.1v1.1h-1.1zM499.8 231.6h1.1v1.1h-1.1zM469.6 226.1h1.1v1.1h-1.1zM461.4 227.6h1.1v1.1h-1.1zM459.4 233.6h1.1v1.1h-1.1zM472.7 235.4h1.1v1.1h-1.1zM493.5 233.2h1.1v1.1h-1.1zM497.8 227.0h1.1v1.1h-1.1zM490.5 209.1h1.1v1.1h-1.1zM490.9 210.6h1.1v1.1h-1.1zM462.8 235.4h1.1v1.1h-1.1zM493.2 226.4h1.1v1.1h-1.1zM472.7 202.3h1.1v1.1h-1.1zM498.5 229.1h1.1v1.1h-1.1zM463.5 230.5h1.1v1.1h-1.1zM483.2 210.8h1.1v1.1h-1.1zM501.1 226.7h1.1v1.1h-1.1zM496.3 234.2h1.1v1.1h-1.1zM466.4 235.6h1.1v1.1h-1.1zM494.4 232.3h1.1v1.1h-1.1zM483.3 228.7h1.1v1.1h-1.1zM490.5 211.7h1.1v1.1h-1.1zM488.4 214.2h1.1v1.1h-1.1zM466.8 198.8h1.1v1.1h-1.1zM461.7 200.2h1.1v1.1h-1.1zM494.9 231.7h1.1v1.1h-1.1zM463.9 233.8h1.1v1.1h-1.1zM469.6 226.5h1.1v1.1h-1.1zM492.4 220.3h1.1v1.1h-1.1zM460.9 198.7h1.1v1.1h-1.1zM463.0 224.6h1.1v1.1h-1.1zM464.8 226.7h1.1v1.1h-1.1zM459.1 233.0h1.1v1.1h-1.1zM465.8 229.9h1.1v1.1h-1.1zM494.2 233.6h1.1v1.1h-1.1zM491.3 230.8h1.1v1.1h-1.1zM488.1 212.0h1.1v1.1h-1.1zM493.8 229.0h1.1v1.1h-1.1zM462.6 228.4h1.1v1.1h-1.1zM500.2 226.5h1.1v1.1h-1.1zM496.3 226.7h1.1v1.1h-1.1zM458.7 235.5h1.1v1.1h-1.1zM465.7 230.1h1.1v1.1h-1.1zM492.4 219.1h1.1v1.1h-1.1zM494.2 232.4h1.1v1.1h-1.1zM496.3 228.7h1.1v1.1h-1.1zM492.8 214.1h1.1v1.1h-1.1zM495.1 226.9h1.1v1.1h-1.1zM501.6 226.8h1.1v1.1h-1.1zM479.1 213.9h1.1v1.1h-1.1zM496.0 222.0h1.1v1.1h-1.1zM462.8 226.5h1.1v1.1h-1.1zM480.6 212.1h1.1v1.1h-1.1zM462.6 198.1h1.1v1.1h-1.1zM464.2 203.5h1.1v1.1h-1.1zM496.6 227.8h1.1v1.1h-1.1zM492.9 225.8h1.1v1.1h-1.1zM469.1 205.3h1.1v1.1h-1.1zM491.3 222.5h1.1v1.1h-1.1zM467.4 222.3h1.1v1.1h-1.1zM464.1 224.3h1.1v1.1h-1.1zM463.2 206.2h1.1v1.1h-1.1zM467.6 226.9h1.1v1.1h-1.1zM466.2 227.4h1.1v1.1h-1.1z" fill="#b00000" fill-opacity="0.85"/>
<rect x="455.4" y="191.15" width="62.6" height="48" fill="none" stroke="#555" stroke-width="1.1"/>
<ellipse cx="486.7" cy="211" rx="12.4" ry="7.3" transform="rotate(-5 486.7 211)" fill="none" stroke="#444" stroke-width="0.9"/>
<rect x="485.9" y="220.6" width="19.1" height="18.6" fill="none" stroke="#444" stroke-width="0.9"/>
<text x="459.7" y="187.75" font-size="9.1" font-weight="bold" fill="#111" font-family="Liberation Sans, sans-serif">day 150</text>
<text x="502.1" y="210.9" font-size="7" font-weight="bold" fill="#111" font-family="Liberation Sans, sans-serif">9%</text>
<text x="504.7" y="231.7" font-size="7" font-weight="bold" fill="#111" font-family="Liberation Sans, sans-serif">35%</text>
<path d="M23.8 203V245.3H67" fill="none" stroke="#777" stroke-width="1"/>
<path d="M21.6 204.0L26.0 204.0L23.8 199.6Z" fill="#111"/>
<path d="M65.8 242.7L65.8 247.7L70.3 245.2Z" fill="#111"/>
<text transform="translate(21.0 220.4) rotate(-90)" text-anchor="middle" font-size="7.6" font-weight="bold" fill="#111" font-family="Liberation Sans, sans-serif">CD5</text>
<text transform="translate(45.3 253.6) scale(1 1.12)" font-size="7.5" font-weight="bold" fill="#111" font-family="Liberation Sans, sans-serif">B220</text>
</svg></body></html>
